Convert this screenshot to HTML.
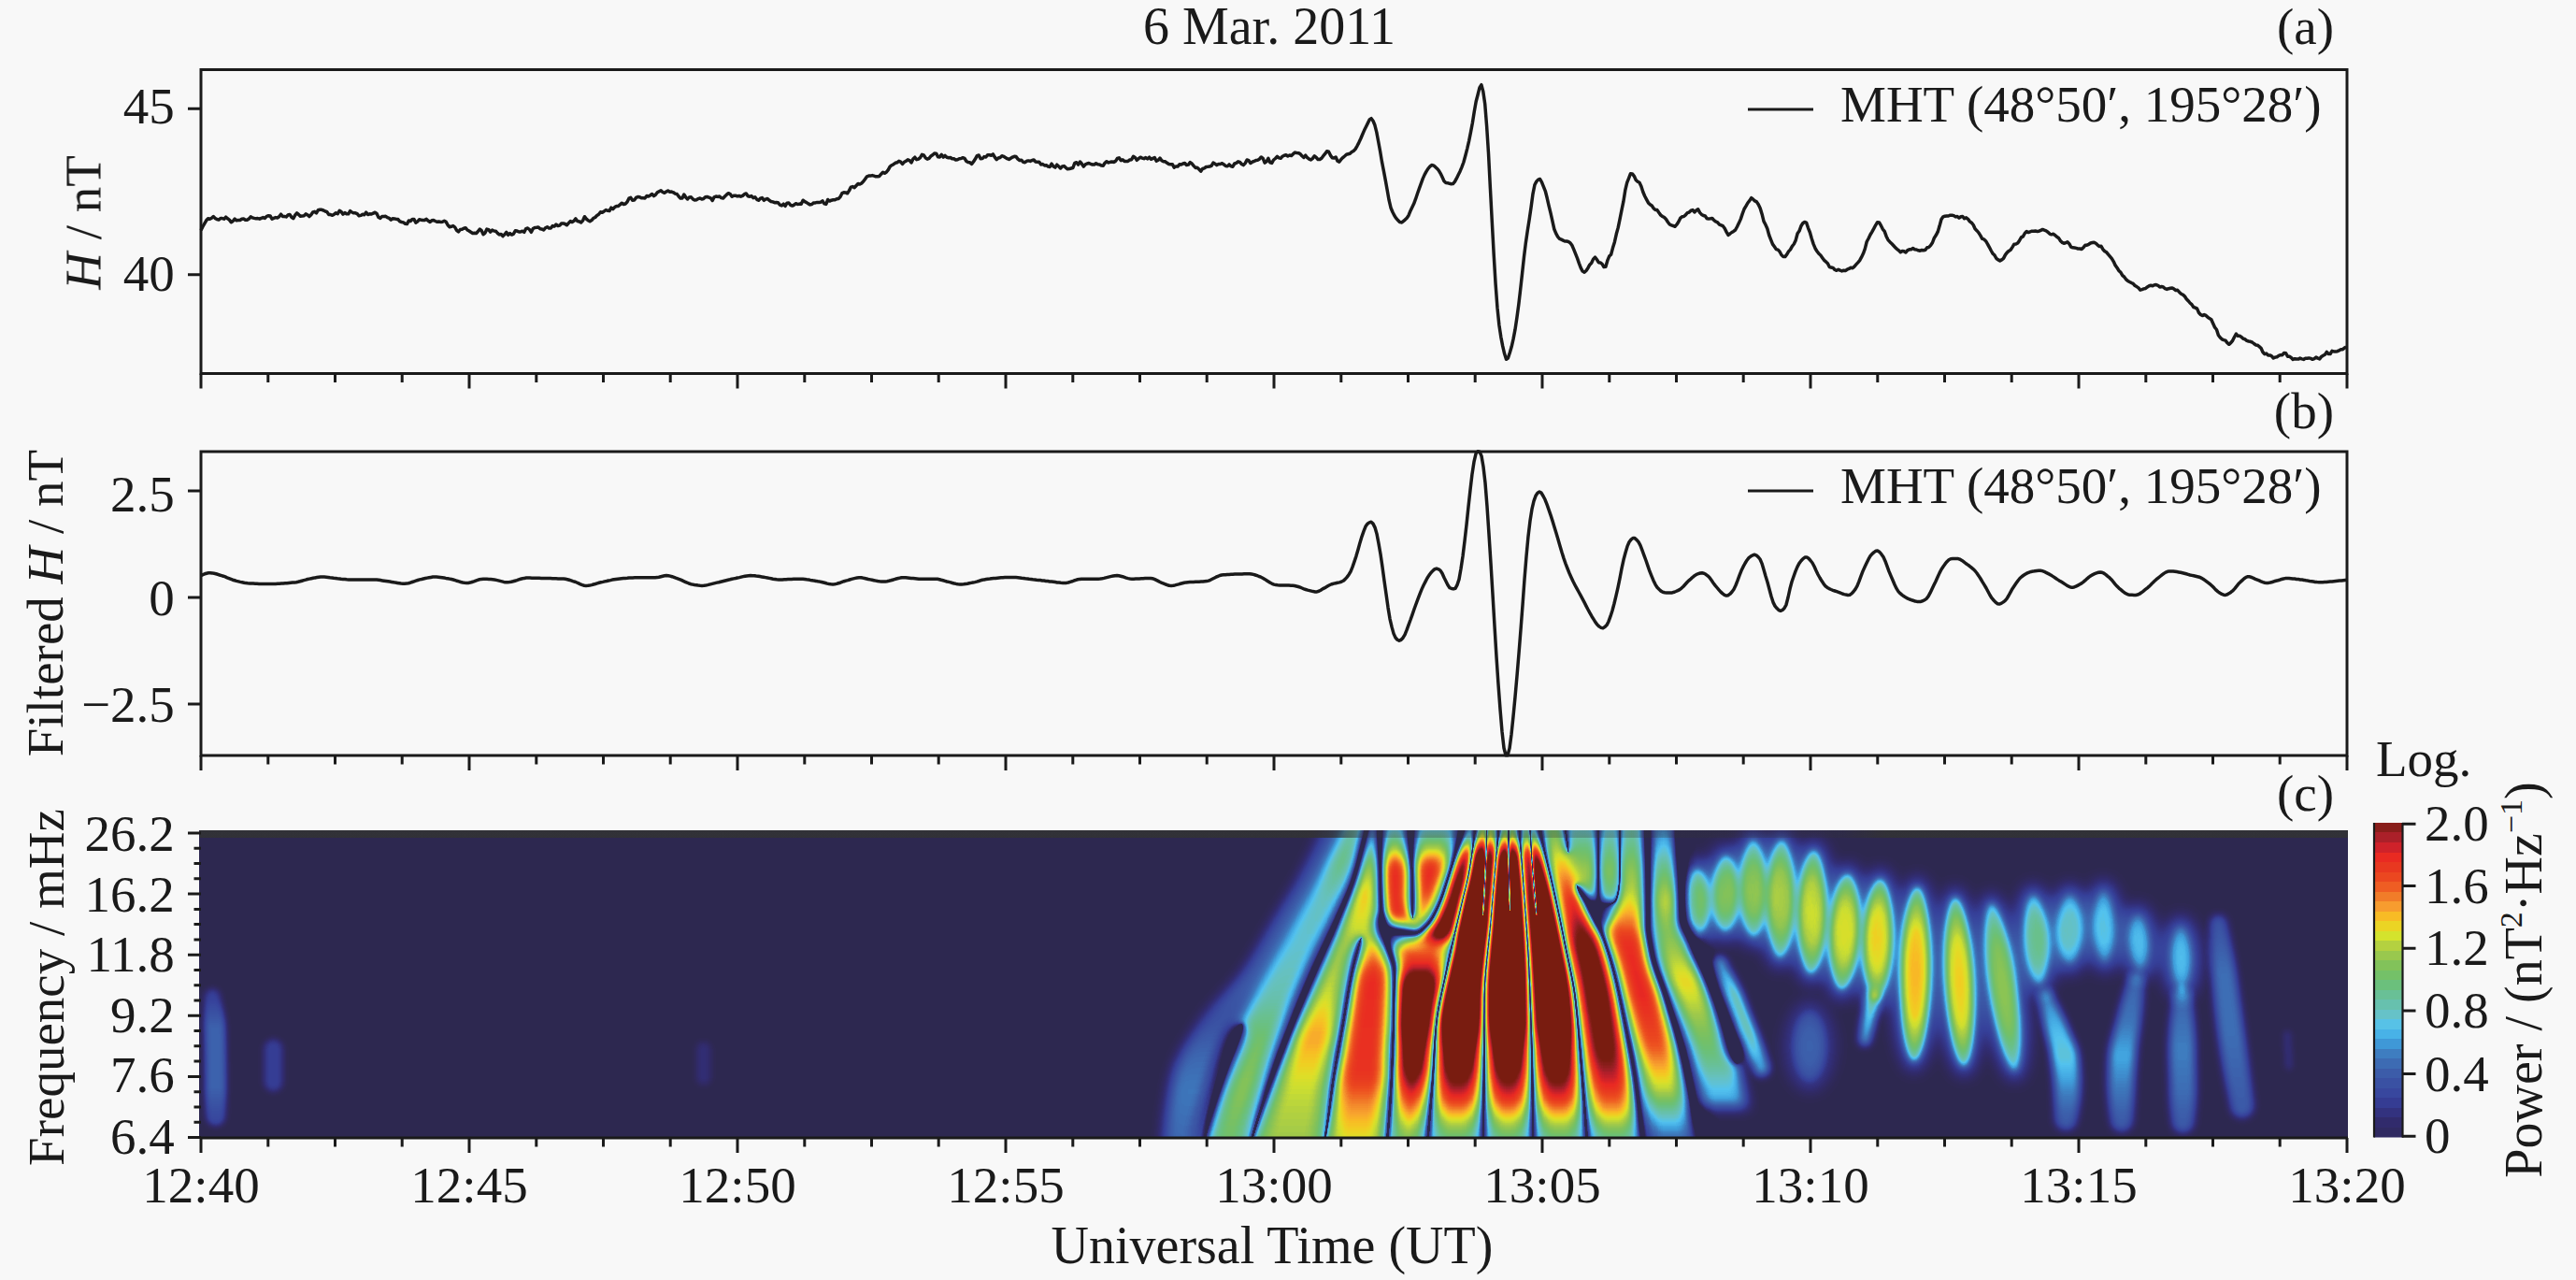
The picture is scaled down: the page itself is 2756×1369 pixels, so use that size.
<!DOCTYPE html><html><head><meta charset="utf-8"><title>Pi2 pulsation 6 Mar. 2011</title>
<style>html,body{margin:0;padding:0;background:#f8f8f8}svg{display:block}text{font-family:"Liberation Serif",serif;fill:#1a1a1a}</style></head><body>
<svg width="2756" height="1369" viewBox="0 0 2756 1369">
<rect width="2756" height="1369" fill="#f8f8f8"/>
<defs>
<filter id="cm" x="0" y="0" width="1" height="1" color-interpolation-filters="sRGB"><feColorMatrix type="matrix" values="1 -1 0 0 0 1 -1 0 0 0 1 -1 0 0 0 0 0 0 0 1"/><feComponentTransfer><feFuncR type="table" tableValues="0.180 0.187 0.193 0.199 0.205 0.211 0.218 0.225 0.232 0.237 0.240 0.243 0.246 0.250 0.283 0.325 0.371 0.401 0.405 0.409 0.415 0.421 0.453 0.497 0.555 0.625 0.704 0.798 0.878 0.944 0.973 0.973 0.957 0.941 0.936 0.927 0.913 0.913 0.916 0.837 0.747 0.632 0.538 0.478 0.478 0.478 0.478 0.478 0.478 0.478 0.478 0.478 0.478 0.478 0.478 0.478 0.478 0.478 0.478 0.478 0.478 0.478 0.478 0.478 0.478"/><feFuncG type="table" tableValues="0.157 0.163 0.169 0.186 0.217 0.247 0.277 0.307 0.337 0.374 0.420 0.466 0.544 0.625 0.696 0.761 0.761 0.759 0.756 0.753 0.753 0.753 0.755 0.759 0.771 0.789 0.821 0.874 0.873 0.811 0.733 0.641 0.549 0.457 0.365 0.294 0.248 0.205 0.164 0.141 0.125 0.125 0.117 0.110 0.110 0.110 0.110 0.110 0.110 0.110 0.110 0.110 0.110 0.110 0.110 0.110 0.110 0.110 0.110 0.110 0.110 0.110 0.110 0.110 0.110"/><feFuncB type="table" tableValues="0.314 0.369 0.424 0.481 0.539 0.597 0.618 0.634 0.650 0.673 0.704 0.734 0.797 0.863 0.907 0.935 0.843 0.758 0.684 0.611 0.537 0.464 0.410 0.366 0.327 0.294 0.252 0.194 0.155 0.134 0.146 0.183 0.173 0.154 0.136 0.125 0.125 0.129 0.134 0.157 0.169 0.159 0.105 0.063 0.063 0.063 0.063 0.063 0.063 0.063 0.063 0.063 0.063 0.063 0.063 0.063 0.063 0.063 0.063 0.063 0.063 0.063 0.063 0.063 0.063"/></feComponentTransfer></filter>
<filter id="b0_6" x="-0.3" y="-0.3" width="1.6" height="1.6" color-interpolation-filters="sRGB"><feGaussianBlur stdDeviation="0.6"/></filter>
<filter id="b1_5" x="-0.3" y="-0.3" width="1.6" height="1.6" color-interpolation-filters="sRGB"><feGaussianBlur stdDeviation="1.5"/></filter>
<filter id="b3" x="-0.3" y="-0.3" width="1.6" height="1.6" color-interpolation-filters="sRGB"><feGaussianBlur stdDeviation="3"/></filter>
<filter id="b4" x="-0.3" y="-0.3" width="1.6" height="1.6" color-interpolation-filters="sRGB"><feGaussianBlur stdDeviation="4"/></filter>
<filter id="b5" x="-0.3" y="-0.3" width="1.6" height="1.6" color-interpolation-filters="sRGB"><feGaussianBlur stdDeviation="5"/></filter>
<filter id="b7" x="-0.3" y="-0.3" width="1.6" height="1.6" color-interpolation-filters="sRGB"><feGaussianBlur stdDeviation="7"/></filter>
<filter id="b8" x="-0.3" y="-0.3" width="1.6" height="1.6" color-interpolation-filters="sRGB"><feGaussianBlur stdDeviation="8"/></filter>
<linearGradient id="g1" gradientUnits="userSpaceOnUse" x1="0" y1="870.0" x2="0" y2="1235.6"><stop offset="0.000" stop-color="#f00" stop-opacity="0.107"/><stop offset="0.009" stop-color="#f00" stop-opacity="0.108"/><stop offset="0.018" stop-color="#f00" stop-opacity="0.109"/><stop offset="0.028" stop-color="#f00" stop-opacity="0.110"/><stop offset="0.037" stop-color="#f00" stop-opacity="0.111"/><stop offset="0.046" stop-color="#f00" stop-opacity="0.112"/><stop offset="0.055" stop-color="#f00" stop-opacity="0.113"/><stop offset="0.065" stop-color="#f00" stop-opacity="0.114"/><stop offset="0.074" stop-color="#f00" stop-opacity="0.115"/><stop offset="0.083" stop-color="#f00" stop-opacity="0.116"/><stop offset="0.092" stop-color="#f00" stop-opacity="0.117"/><stop offset="0.102" stop-color="#f00" stop-opacity="0.118"/><stop offset="0.111" stop-color="#f00" stop-opacity="0.119"/><stop offset="0.120" stop-color="#f00" stop-opacity="0.121"/><stop offset="0.129" stop-color="#f00" stop-opacity="0.122"/><stop offset="0.138" stop-color="#f00" stop-opacity="0.123"/><stop offset="0.148" stop-color="#f00" stop-opacity="0.124"/><stop offset="0.157" stop-color="#f00" stop-opacity="0.125"/><stop offset="0.166" stop-color="#f00" stop-opacity="0.126"/><stop offset="0.175" stop-color="#f00" stop-opacity="0.127"/><stop offset="0.185" stop-color="#f00" stop-opacity="0.128"/><stop offset="0.194" stop-color="#f00" stop-opacity="0.129"/><stop offset="0.203" stop-color="#f00" stop-opacity="0.130"/><stop offset="0.212" stop-color="#f00" stop-opacity="0.131"/><stop offset="0.222" stop-color="#f00" stop-opacity="0.132"/><stop offset="0.231" stop-color="#f00" stop-opacity="0.133"/><stop offset="0.240" stop-color="#f00" stop-opacity="0.133"/><stop offset="0.249" stop-color="#f00" stop-opacity="0.133"/><stop offset="0.258" stop-color="#f00" stop-opacity="0.133"/><stop offset="0.268" stop-color="#f00" stop-opacity="0.133"/><stop offset="0.277" stop-color="#f00" stop-opacity="0.133"/><stop offset="0.286" stop-color="#f00" stop-opacity="0.133"/><stop offset="0.295" stop-color="#f00" stop-opacity="0.133"/><stop offset="0.305" stop-color="#f00" stop-opacity="0.133"/><stop offset="0.314" stop-color="#f00" stop-opacity="0.133"/><stop offset="0.323" stop-color="#f00" stop-opacity="0.133"/><stop offset="0.332" stop-color="#f00" stop-opacity="0.133"/><stop offset="0.342" stop-color="#f00" stop-opacity="0.133"/><stop offset="0.351" stop-color="#f00" stop-opacity="0.133"/><stop offset="0.360" stop-color="#f00" stop-opacity="0.133"/><stop offset="0.369" stop-color="#f00" stop-opacity="0.133"/><stop offset="0.378" stop-color="#f00" stop-opacity="0.133"/><stop offset="0.388" stop-color="#f00" stop-opacity="0.133"/><stop offset="0.397" stop-color="#f00" stop-opacity="0.133"/><stop offset="0.406" stop-color="#f00" stop-opacity="0.133"/><stop offset="0.415" stop-color="#f00" stop-opacity="0.133"/><stop offset="0.425" stop-color="#f00" stop-opacity="0.133"/><stop offset="0.434" stop-color="#f00" stop-opacity="0.133"/><stop offset="0.443" stop-color="#f00" stop-opacity="0.133"/><stop offset="0.452" stop-color="#f00" stop-opacity="0.133"/><stop offset="0.462" stop-color="#f00" stop-opacity="0.133"/><stop offset="0.471" stop-color="#f00" stop-opacity="0.133"/><stop offset="0.480" stop-color="#f00" stop-opacity="0.133"/><stop offset="0.489" stop-color="#f00" stop-opacity="0.133"/><stop offset="0.498" stop-color="#f00" stop-opacity="0.133"/><stop offset="0.508" stop-color="#f00" stop-opacity="0.132"/><stop offset="0.517" stop-color="#f00" stop-opacity="0.130"/><stop offset="0.526" stop-color="#f00" stop-opacity="0.128"/><stop offset="0.535" stop-color="#f00" stop-opacity="0.127"/><stop offset="0.545" stop-color="#f00" stop-opacity="0.125"/><stop offset="0.554" stop-color="#f00" stop-opacity="0.123"/><stop offset="0.563" stop-color="#f00" stop-opacity="0.122"/><stop offset="0.572" stop-color="#f00" stop-opacity="0.120"/><stop offset="0.582" stop-color="#f00" stop-opacity="0.118"/><stop offset="0.591" stop-color="#f00" stop-opacity="0.116"/><stop offset="0.600" stop-color="#f00" stop-opacity="0.115"/><stop offset="0.609" stop-color="#f00" stop-opacity="0.114"/><stop offset="0.618" stop-color="#f00" stop-opacity="0.118"/><stop offset="0.628" stop-color="#f00" stop-opacity="0.121"/><stop offset="0.637" stop-color="#f00" stop-opacity="0.125"/><stop offset="0.646" stop-color="#f00" stop-opacity="0.128"/><stop offset="0.655" stop-color="#f00" stop-opacity="0.132"/><stop offset="0.665" stop-color="#f00" stop-opacity="0.136"/><stop offset="0.674" stop-color="#f00" stop-opacity="0.139"/><stop offset="0.683" stop-color="#f00" stop-opacity="0.143"/><stop offset="0.692" stop-color="#f00" stop-opacity="0.147"/><stop offset="0.702" stop-color="#f00" stop-opacity="0.149"/><stop offset="0.711" stop-color="#f00" stop-opacity="0.151"/><stop offset="0.720" stop-color="#f00" stop-opacity="0.153"/><stop offset="0.729" stop-color="#f00" stop-opacity="0.155"/><stop offset="0.738" stop-color="#f00" stop-opacity="0.157"/><stop offset="0.748" stop-color="#f00" stop-opacity="0.159"/><stop offset="0.757" stop-color="#f00" stop-opacity="0.162"/><stop offset="0.766" stop-color="#f00" stop-opacity="0.164"/><stop offset="0.775" stop-color="#f00" stop-opacity="0.166"/><stop offset="0.785" stop-color="#f00" stop-opacity="0.168"/><stop offset="0.794" stop-color="#f00" stop-opacity="0.170"/><stop offset="0.803" stop-color="#f00" stop-opacity="0.172"/><stop offset="0.812" stop-color="#f00" stop-opacity="0.173"/><stop offset="0.822" stop-color="#f00" stop-opacity="0.171"/><stop offset="0.831" stop-color="#f00" stop-opacity="0.170"/><stop offset="0.840" stop-color="#f00" stop-opacity="0.169"/><stop offset="0.849" stop-color="#f00" stop-opacity="0.168"/><stop offset="0.858" stop-color="#f00" stop-opacity="0.166"/><stop offset="0.868" stop-color="#f00" stop-opacity="0.165"/><stop offset="0.877" stop-color="#f00" stop-opacity="0.164"/><stop offset="0.886" stop-color="#f00" stop-opacity="0.162"/><stop offset="0.895" stop-color="#f00" stop-opacity="0.161"/><stop offset="0.905" stop-color="#f00" stop-opacity="0.160"/><stop offset="0.914" stop-color="#f00" stop-opacity="0.159"/><stop offset="0.923" stop-color="#f00" stop-opacity="0.157"/><stop offset="0.932" stop-color="#f00" stop-opacity="0.156"/><stop offset="0.942" stop-color="#f00" stop-opacity="0.155"/><stop offset="0.951" stop-color="#f00" stop-opacity="0.153"/><stop offset="0.960" stop-color="#f00" stop-opacity="0.152"/><stop offset="0.969" stop-color="#f00" stop-opacity="0.151"/><stop offset="0.978" stop-color="#f00" stop-opacity="0.150"/><stop offset="0.988" stop-color="#f00" stop-opacity="0.148"/><stop offset="0.997" stop-color="#f00" stop-opacity="0.147"/><stop offset="1.000" stop-color="#f00" stop-opacity="0.147"/></linearGradient>
<linearGradient id="g2" gradientUnits="userSpaceOnUse" x1="0" y1="870.0" x2="0" y2="1235.6"><stop offset="0.000" stop-color="#f00" stop-opacity="0.280"/><stop offset="0.009" stop-color="#f00" stop-opacity="0.283"/><stop offset="0.018" stop-color="#f00" stop-opacity="0.285"/><stop offset="0.028" stop-color="#f00" stop-opacity="0.288"/><stop offset="0.037" stop-color="#f00" stop-opacity="0.291"/><stop offset="0.046" stop-color="#f00" stop-opacity="0.293"/><stop offset="0.055" stop-color="#f00" stop-opacity="0.296"/><stop offset="0.065" stop-color="#f00" stop-opacity="0.299"/><stop offset="0.074" stop-color="#f00" stop-opacity="0.301"/><stop offset="0.083" stop-color="#f00" stop-opacity="0.304"/><stop offset="0.092" stop-color="#f00" stop-opacity="0.307"/><stop offset="0.102" stop-color="#f00" stop-opacity="0.309"/><stop offset="0.111" stop-color="#f00" stop-opacity="0.312"/><stop offset="0.120" stop-color="#f00" stop-opacity="0.315"/><stop offset="0.129" stop-color="#f00" stop-opacity="0.317"/><stop offset="0.138" stop-color="#f00" stop-opacity="0.320"/><stop offset="0.148" stop-color="#f00" stop-opacity="0.316"/><stop offset="0.157" stop-color="#f00" stop-opacity="0.311"/><stop offset="0.166" stop-color="#f00" stop-opacity="0.307"/><stop offset="0.175" stop-color="#f00" stop-opacity="0.303"/><stop offset="0.185" stop-color="#f00" stop-opacity="0.299"/><stop offset="0.194" stop-color="#f00" stop-opacity="0.294"/><stop offset="0.203" stop-color="#f00" stop-opacity="0.290"/><stop offset="0.212" stop-color="#f00" stop-opacity="0.286"/><stop offset="0.222" stop-color="#f00" stop-opacity="0.282"/><stop offset="0.231" stop-color="#f00" stop-opacity="0.277"/><stop offset="0.240" stop-color="#f00" stop-opacity="0.273"/><stop offset="0.249" stop-color="#f00" stop-opacity="0.269"/><stop offset="0.258" stop-color="#f00" stop-opacity="0.266"/><stop offset="0.268" stop-color="#f00" stop-opacity="0.265"/><stop offset="0.277" stop-color="#f00" stop-opacity="0.264"/><stop offset="0.286" stop-color="#f00" stop-opacity="0.263"/><stop offset="0.295" stop-color="#f00" stop-opacity="0.262"/><stop offset="0.305" stop-color="#f00" stop-opacity="0.261"/><stop offset="0.314" stop-color="#f00" stop-opacity="0.261"/><stop offset="0.323" stop-color="#f00" stop-opacity="0.260"/><stop offset="0.332" stop-color="#f00" stop-opacity="0.259"/><stop offset="0.342" stop-color="#f00" stop-opacity="0.258"/><stop offset="0.351" stop-color="#f00" stop-opacity="0.257"/><stop offset="0.360" stop-color="#f00" stop-opacity="0.256"/><stop offset="0.369" stop-color="#f00" stop-opacity="0.255"/><stop offset="0.378" stop-color="#f00" stop-opacity="0.254"/><stop offset="0.388" stop-color="#f00" stop-opacity="0.254"/><stop offset="0.397" stop-color="#f00" stop-opacity="0.255"/><stop offset="0.406" stop-color="#f00" stop-opacity="0.257"/><stop offset="0.415" stop-color="#f00" stop-opacity="0.259"/><stop offset="0.425" stop-color="#f00" stop-opacity="0.260"/><stop offset="0.434" stop-color="#f00" stop-opacity="0.262"/><stop offset="0.443" stop-color="#f00" stop-opacity="0.263"/><stop offset="0.452" stop-color="#f00" stop-opacity="0.265"/><stop offset="0.462" stop-color="#f00" stop-opacity="0.267"/><stop offset="0.471" stop-color="#f00" stop-opacity="0.268"/><stop offset="0.480" stop-color="#f00" stop-opacity="0.270"/><stop offset="0.489" stop-color="#f00" stop-opacity="0.271"/><stop offset="0.498" stop-color="#f00" stop-opacity="0.273"/><stop offset="0.508" stop-color="#f00" stop-opacity="0.275"/><stop offset="0.517" stop-color="#f00" stop-opacity="0.276"/><stop offset="0.526" stop-color="#f00" stop-opacity="0.278"/><stop offset="0.535" stop-color="#f00" stop-opacity="0.279"/><stop offset="0.545" stop-color="#f00" stop-opacity="0.283"/><stop offset="0.554" stop-color="#f00" stop-opacity="0.287"/><stop offset="0.563" stop-color="#f00" stop-opacity="0.292"/><stop offset="0.572" stop-color="#f00" stop-opacity="0.296"/><stop offset="0.582" stop-color="#f00" stop-opacity="0.301"/><stop offset="0.591" stop-color="#f00" stop-opacity="0.305"/><stop offset="0.600" stop-color="#f00" stop-opacity="0.310"/><stop offset="0.609" stop-color="#f00" stop-opacity="0.314"/><stop offset="0.618" stop-color="#f00" stop-opacity="0.319"/><stop offset="0.628" stop-color="#f00" stop-opacity="0.323"/><stop offset="0.637" stop-color="#f00" stop-opacity="0.327"/><stop offset="0.646" stop-color="#f00" stop-opacity="0.332"/><stop offset="0.655" stop-color="#f00" stop-opacity="0.336"/><stop offset="0.665" stop-color="#f00" stop-opacity="0.341"/><stop offset="0.674" stop-color="#f00" stop-opacity="0.345"/><stop offset="0.683" stop-color="#f00" stop-opacity="0.348"/><stop offset="0.692" stop-color="#f00" stop-opacity="0.350"/><stop offset="0.702" stop-color="#f00" stop-opacity="0.352"/><stop offset="0.711" stop-color="#f00" stop-opacity="0.354"/><stop offset="0.720" stop-color="#f00" stop-opacity="0.355"/><stop offset="0.729" stop-color="#f00" stop-opacity="0.357"/><stop offset="0.738" stop-color="#f00" stop-opacity="0.359"/><stop offset="0.748" stop-color="#f00" stop-opacity="0.361"/><stop offset="0.757" stop-color="#f00" stop-opacity="0.363"/><stop offset="0.766" stop-color="#f00" stop-opacity="0.365"/><stop offset="0.775" stop-color="#f00" stop-opacity="0.367"/><stop offset="0.785" stop-color="#f00" stop-opacity="0.369"/><stop offset="0.794" stop-color="#f00" stop-opacity="0.371"/><stop offset="0.803" stop-color="#f00" stop-opacity="0.372"/><stop offset="0.812" stop-color="#f00" stop-opacity="0.372"/><stop offset="0.822" stop-color="#f00" stop-opacity="0.370"/><stop offset="0.831" stop-color="#f00" stop-opacity="0.369"/><stop offset="0.840" stop-color="#f00" stop-opacity="0.367"/><stop offset="0.849" stop-color="#f00" stop-opacity="0.365"/><stop offset="0.858" stop-color="#f00" stop-opacity="0.363"/><stop offset="0.868" stop-color="#f00" stop-opacity="0.361"/><stop offset="0.877" stop-color="#f00" stop-opacity="0.359"/><stop offset="0.886" stop-color="#f00" stop-opacity="0.357"/><stop offset="0.895" stop-color="#f00" stop-opacity="0.355"/><stop offset="0.905" stop-color="#f00" stop-opacity="0.353"/><stop offset="0.914" stop-color="#f00" stop-opacity="0.351"/><stop offset="0.923" stop-color="#f00" stop-opacity="0.349"/><stop offset="0.932" stop-color="#f00" stop-opacity="0.347"/><stop offset="0.942" stop-color="#f00" stop-opacity="0.345"/><stop offset="0.951" stop-color="#f00" stop-opacity="0.344"/><stop offset="0.960" stop-color="#f00" stop-opacity="0.342"/><stop offset="0.969" stop-color="#f00" stop-opacity="0.340"/><stop offset="0.978" stop-color="#f00" stop-opacity="0.338"/><stop offset="0.988" stop-color="#f00" stop-opacity="0.336"/><stop offset="0.997" stop-color="#f00" stop-opacity="0.334"/><stop offset="1.000" stop-color="#f00" stop-opacity="0.333"/></linearGradient>
<linearGradient id="g3" gradientUnits="userSpaceOnUse" x1="0" y1="1002.2" x2="0" y2="1235.6"><stop offset="0.000" stop-color="#f00" stop-opacity="0.413"/><stop offset="0.014" stop-color="#f00" stop-opacity="0.412"/><stop offset="0.029" stop-color="#f00" stop-opacity="0.410"/><stop offset="0.043" stop-color="#f00" stop-opacity="0.408"/><stop offset="0.058" stop-color="#f00" stop-opacity="0.406"/><stop offset="0.072" stop-color="#f00" stop-opacity="0.404"/><stop offset="0.087" stop-color="#f00" stop-opacity="0.403"/><stop offset="0.101" stop-color="#f00" stop-opacity="0.401"/><stop offset="0.116" stop-color="#f00" stop-opacity="0.401"/><stop offset="0.130" stop-color="#f00" stop-opacity="0.403"/><stop offset="0.145" stop-color="#f00" stop-opacity="0.405"/><stop offset="0.159" stop-color="#f00" stop-opacity="0.407"/><stop offset="0.173" stop-color="#f00" stop-opacity="0.409"/><stop offset="0.188" stop-color="#f00" stop-opacity="0.411"/><stop offset="0.202" stop-color="#f00" stop-opacity="0.413"/><stop offset="0.217" stop-color="#f00" stop-opacity="0.415"/><stop offset="0.231" stop-color="#f00" stop-opacity="0.417"/><stop offset="0.246" stop-color="#f00" stop-opacity="0.419"/><stop offset="0.260" stop-color="#f00" stop-opacity="0.422"/><stop offset="0.275" stop-color="#f00" stop-opacity="0.427"/><stop offset="0.289" stop-color="#f00" stop-opacity="0.432"/><stop offset="0.304" stop-color="#f00" stop-opacity="0.436"/><stop offset="0.318" stop-color="#f00" stop-opacity="0.441"/><stop offset="0.333" stop-color="#f00" stop-opacity="0.446"/><stop offset="0.347" stop-color="#f00" stop-opacity="0.451"/><stop offset="0.361" stop-color="#f00" stop-opacity="0.455"/><stop offset="0.376" stop-color="#f00" stop-opacity="0.460"/><stop offset="0.390" stop-color="#f00" stop-opacity="0.465"/><stop offset="0.405" stop-color="#f00" stop-opacity="0.469"/><stop offset="0.419" stop-color="#f00" stop-opacity="0.474"/><stop offset="0.434" stop-color="#f00" stop-opacity="0.479"/><stop offset="0.448" stop-color="#f00" stop-opacity="0.484"/><stop offset="0.463" stop-color="#f00" stop-opacity="0.485"/><stop offset="0.477" stop-color="#f00" stop-opacity="0.481"/><stop offset="0.492" stop-color="#f00" stop-opacity="0.477"/><stop offset="0.506" stop-color="#f00" stop-opacity="0.473"/><stop offset="0.520" stop-color="#f00" stop-opacity="0.469"/><stop offset="0.535" stop-color="#f00" stop-opacity="0.465"/><stop offset="0.549" stop-color="#f00" stop-opacity="0.461"/><stop offset="0.564" stop-color="#f00" stop-opacity="0.457"/><stop offset="0.578" stop-color="#f00" stop-opacity="0.453"/><stop offset="0.593" stop-color="#f00" stop-opacity="0.449"/><stop offset="0.607" stop-color="#f00" stop-opacity="0.445"/><stop offset="0.622" stop-color="#f00" stop-opacity="0.441"/><stop offset="0.636" stop-color="#f00" stop-opacity="0.437"/><stop offset="0.651" stop-color="#f00" stop-opacity="0.433"/><stop offset="0.665" stop-color="#f00" stop-opacity="0.429"/><stop offset="0.680" stop-color="#f00" stop-opacity="0.425"/><stop offset="0.694" stop-color="#f00" stop-opacity="0.421"/><stop offset="0.708" stop-color="#f00" stop-opacity="0.419"/><stop offset="0.723" stop-color="#f00" stop-opacity="0.417"/><stop offset="0.737" stop-color="#f00" stop-opacity="0.415"/><stop offset="0.752" stop-color="#f00" stop-opacity="0.413"/><stop offset="0.766" stop-color="#f00" stop-opacity="0.411"/><stop offset="0.781" stop-color="#f00" stop-opacity="0.409"/><stop offset="0.795" stop-color="#f00" stop-opacity="0.407"/><stop offset="0.810" stop-color="#f00" stop-opacity="0.405"/><stop offset="0.824" stop-color="#f00" stop-opacity="0.403"/><stop offset="0.839" stop-color="#f00" stop-opacity="0.401"/><stop offset="0.853" stop-color="#f00" stop-opacity="0.400"/><stop offset="0.867" stop-color="#f00" stop-opacity="0.398"/><stop offset="0.882" stop-color="#f00" stop-opacity="0.396"/><stop offset="0.896" stop-color="#f00" stop-opacity="0.394"/><stop offset="0.911" stop-color="#f00" stop-opacity="0.392"/><stop offset="0.925" stop-color="#f00" stop-opacity="0.390"/><stop offset="0.940" stop-color="#f00" stop-opacity="0.388"/><stop offset="0.954" stop-color="#f00" stop-opacity="0.386"/><stop offset="0.969" stop-color="#f00" stop-opacity="0.384"/><stop offset="0.983" stop-color="#f00" stop-opacity="0.382"/><stop offset="0.998" stop-color="#f00" stop-opacity="0.380"/><stop offset="1.000" stop-color="#f00" stop-opacity="0.380"/></linearGradient>
<linearGradient id="g4" gradientUnits="userSpaceOnUse" x1="0" y1="870.0" x2="0" y2="1002.2"><stop offset="0.000" stop-color="#f00" stop-opacity="0.267"/><stop offset="0.026" stop-color="#f00" stop-opacity="0.272"/><stop offset="0.051" stop-color="#f00" stop-opacity="0.277"/><stop offset="0.077" stop-color="#f00" stop-opacity="0.282"/><stop offset="0.102" stop-color="#f00" stop-opacity="0.287"/><stop offset="0.128" stop-color="#f00" stop-opacity="0.292"/><stop offset="0.153" stop-color="#f00" stop-opacity="0.297"/><stop offset="0.179" stop-color="#f00" stop-opacity="0.304"/><stop offset="0.204" stop-color="#f00" stop-opacity="0.315"/><stop offset="0.230" stop-color="#f00" stop-opacity="0.326"/><stop offset="0.255" stop-color="#f00" stop-opacity="0.338"/><stop offset="0.281" stop-color="#f00" stop-opacity="0.349"/><stop offset="0.306" stop-color="#f00" stop-opacity="0.360"/><stop offset="0.332" stop-color="#f00" stop-opacity="0.372"/><stop offset="0.357" stop-color="#f00" stop-opacity="0.383"/><stop offset="0.383" stop-color="#f00" stop-opacity="0.394"/><stop offset="0.409" stop-color="#f00" stop-opacity="0.406"/><stop offset="0.434" stop-color="#f00" stop-opacity="0.415"/><stop offset="0.460" stop-color="#f00" stop-opacity="0.422"/><stop offset="0.485" stop-color="#f00" stop-opacity="0.428"/><stop offset="0.511" stop-color="#f00" stop-opacity="0.435"/><stop offset="0.536" stop-color="#f00" stop-opacity="0.441"/><stop offset="0.562" stop-color="#f00" stop-opacity="0.447"/><stop offset="0.587" stop-color="#f00" stop-opacity="0.454"/><stop offset="0.613" stop-color="#f00" stop-opacity="0.460"/><stop offset="0.638" stop-color="#f00" stop-opacity="0.467"/><stop offset="0.664" stop-color="#f00" stop-opacity="0.463"/><stop offset="0.689" stop-color="#f00" stop-opacity="0.459"/><stop offset="0.715" stop-color="#f00" stop-opacity="0.455"/><stop offset="0.740" stop-color="#f00" stop-opacity="0.451"/><stop offset="0.766" stop-color="#f00" stop-opacity="0.447"/><stop offset="0.791" stop-color="#f00" stop-opacity="0.443"/><stop offset="0.817" stop-color="#f00" stop-opacity="0.439"/><stop offset="0.843" stop-color="#f00" stop-opacity="0.435"/><stop offset="0.868" stop-color="#f00" stop-opacity="0.432"/><stop offset="0.894" stop-color="#f00" stop-opacity="0.428"/><stop offset="0.919" stop-color="#f00" stop-opacity="0.425"/><stop offset="0.945" stop-color="#f00" stop-opacity="0.421"/><stop offset="0.970" stop-color="#f00" stop-opacity="0.417"/><stop offset="0.996" stop-color="#f00" stop-opacity="0.414"/><stop offset="1.000" stop-color="#f00" stop-opacity="0.413"/></linearGradient>
<linearGradient id="g5" gradientUnits="userSpaceOnUse" x1="0" y1="1002.2" x2="0" y2="1235.6"><stop offset="0.000" stop-color="#f00" stop-opacity="0.427"/><stop offset="0.014" stop-color="#f00" stop-opacity="0.440"/><stop offset="0.029" stop-color="#f00" stop-opacity="0.454"/><stop offset="0.043" stop-color="#f00" stop-opacity="0.468"/><stop offset="0.058" stop-color="#f00" stop-opacity="0.482"/><stop offset="0.072" stop-color="#f00" stop-opacity="0.495"/><stop offset="0.087" stop-color="#f00" stop-opacity="0.509"/><stop offset="0.101" stop-color="#f00" stop-opacity="0.522"/><stop offset="0.116" stop-color="#f00" stop-opacity="0.535"/><stop offset="0.130" stop-color="#f00" stop-opacity="0.548"/><stop offset="0.145" stop-color="#f00" stop-opacity="0.561"/><stop offset="0.159" stop-color="#f00" stop-opacity="0.574"/><stop offset="0.173" stop-color="#f00" stop-opacity="0.587"/><stop offset="0.188" stop-color="#f00" stop-opacity="0.593"/><stop offset="0.202" stop-color="#f00" stop-opacity="0.593"/><stop offset="0.217" stop-color="#f00" stop-opacity="0.592"/><stop offset="0.231" stop-color="#f00" stop-opacity="0.592"/><stop offset="0.246" stop-color="#f00" stop-opacity="0.591"/><stop offset="0.260" stop-color="#f00" stop-opacity="0.591"/><stop offset="0.275" stop-color="#f00" stop-opacity="0.591"/><stop offset="0.289" stop-color="#f00" stop-opacity="0.590"/><stop offset="0.304" stop-color="#f00" stop-opacity="0.590"/><stop offset="0.318" stop-color="#f00" stop-opacity="0.589"/><stop offset="0.333" stop-color="#f00" stop-opacity="0.589"/><stop offset="0.347" stop-color="#f00" stop-opacity="0.588"/><stop offset="0.361" stop-color="#f00" stop-opacity="0.588"/><stop offset="0.376" stop-color="#f00" stop-opacity="0.588"/><stop offset="0.390" stop-color="#f00" stop-opacity="0.587"/><stop offset="0.405" stop-color="#f00" stop-opacity="0.587"/><stop offset="0.419" stop-color="#f00" stop-opacity="0.586"/><stop offset="0.434" stop-color="#f00" stop-opacity="0.586"/><stop offset="0.448" stop-color="#f00" stop-opacity="0.586"/><stop offset="0.463" stop-color="#f00" stop-opacity="0.585"/><stop offset="0.477" stop-color="#f00" stop-opacity="0.585"/><stop offset="0.492" stop-color="#f00" stop-opacity="0.584"/><stop offset="0.506" stop-color="#f00" stop-opacity="0.584"/><stop offset="0.520" stop-color="#f00" stop-opacity="0.583"/><stop offset="0.535" stop-color="#f00" stop-opacity="0.583"/><stop offset="0.549" stop-color="#f00" stop-opacity="0.583"/><stop offset="0.564" stop-color="#f00" stop-opacity="0.582"/><stop offset="0.578" stop-color="#f00" stop-opacity="0.582"/><stop offset="0.593" stop-color="#f00" stop-opacity="0.581"/><stop offset="0.607" stop-color="#f00" stop-opacity="0.581"/><stop offset="0.622" stop-color="#f00" stop-opacity="0.580"/><stop offset="0.636" stop-color="#f00" stop-opacity="0.580"/><stop offset="0.651" stop-color="#f00" stop-opacity="0.573"/><stop offset="0.665" stop-color="#f00" stop-opacity="0.564"/><stop offset="0.680" stop-color="#f00" stop-opacity="0.555"/><stop offset="0.694" stop-color="#f00" stop-opacity="0.546"/><stop offset="0.708" stop-color="#f00" stop-opacity="0.537"/><stop offset="0.723" stop-color="#f00" stop-opacity="0.529"/><stop offset="0.737" stop-color="#f00" stop-opacity="0.520"/><stop offset="0.752" stop-color="#f00" stop-opacity="0.511"/><stop offset="0.766" stop-color="#f00" stop-opacity="0.503"/><stop offset="0.781" stop-color="#f00" stop-opacity="0.497"/><stop offset="0.795" stop-color="#f00" stop-opacity="0.491"/><stop offset="0.810" stop-color="#f00" stop-opacity="0.484"/><stop offset="0.824" stop-color="#f00" stop-opacity="0.478"/><stop offset="0.839" stop-color="#f00" stop-opacity="0.471"/><stop offset="0.853" stop-color="#f00" stop-opacity="0.465"/><stop offset="0.867" stop-color="#f00" stop-opacity="0.459"/><stop offset="0.882" stop-color="#f00" stop-opacity="0.452"/><stop offset="0.896" stop-color="#f00" stop-opacity="0.446"/><stop offset="0.911" stop-color="#f00" stop-opacity="0.439"/><stop offset="0.925" stop-color="#f00" stop-opacity="0.433"/><stop offset="0.940" stop-color="#f00" stop-opacity="0.427"/><stop offset="0.954" stop-color="#f00" stop-opacity="0.420"/><stop offset="0.969" stop-color="#f00" stop-opacity="0.414"/><stop offset="0.983" stop-color="#f00" stop-opacity="0.407"/><stop offset="0.998" stop-color="#f00" stop-opacity="0.401"/><stop offset="1.000" stop-color="#f00" stop-opacity="0.400"/></linearGradient>
<linearGradient id="g6" gradientUnits="userSpaceOnUse" x1="0" y1="1005.0" x2="0" y2="1235.6"><stop offset="0.000" stop-color="#f00" stop-opacity="0.480"/><stop offset="0.015" stop-color="#f00" stop-opacity="0.493"/><stop offset="0.029" stop-color="#f00" stop-opacity="0.506"/><stop offset="0.044" stop-color="#f00" stop-opacity="0.519"/><stop offset="0.059" stop-color="#f00" stop-opacity="0.532"/><stop offset="0.073" stop-color="#f00" stop-opacity="0.545"/><stop offset="0.088" stop-color="#f00" stop-opacity="0.558"/><stop offset="0.102" stop-color="#f00" stop-opacity="0.575"/><stop offset="0.117" stop-color="#f00" stop-opacity="0.601"/><stop offset="0.132" stop-color="#f00" stop-opacity="0.627"/><stop offset="0.146" stop-color="#f00" stop-opacity="0.653"/><stop offset="0.161" stop-color="#f00" stop-opacity="0.689"/><stop offset="0.176" stop-color="#f00" stop-opacity="0.724"/><stop offset="0.190" stop-color="#f00" stop-opacity="0.759"/><stop offset="0.205" stop-color="#f00" stop-opacity="0.794"/><stop offset="0.220" stop-color="#f00" stop-opacity="0.804"/><stop offset="0.234" stop-color="#f00" stop-opacity="0.810"/><stop offset="0.249" stop-color="#f00" stop-opacity="0.815"/><stop offset="0.263" stop-color="#f00" stop-opacity="0.820"/><stop offset="0.278" stop-color="#f00" stop-opacity="0.826"/><stop offset="0.293" stop-color="#f00" stop-opacity="0.831"/><stop offset="0.307" stop-color="#f00" stop-opacity="0.836"/><stop offset="0.322" stop-color="#f00" stop-opacity="0.842"/><stop offset="0.337" stop-color="#f00" stop-opacity="0.847"/><stop offset="0.351" stop-color="#f00" stop-opacity="0.852"/><stop offset="0.366" stop-color="#f00" stop-opacity="0.858"/><stop offset="0.380" stop-color="#f00" stop-opacity="0.863"/><stop offset="0.395" stop-color="#f00" stop-opacity="0.864"/><stop offset="0.410" stop-color="#f00" stop-opacity="0.855"/><stop offset="0.424" stop-color="#f00" stop-opacity="0.846"/><stop offset="0.439" stop-color="#f00" stop-opacity="0.837"/><stop offset="0.454" stop-color="#f00" stop-opacity="0.828"/><stop offset="0.468" stop-color="#f00" stop-opacity="0.819"/><stop offset="0.483" stop-color="#f00" stop-opacity="0.810"/><stop offset="0.498" stop-color="#f00" stop-opacity="0.801"/><stop offset="0.512" stop-color="#f00" stop-opacity="0.793"/><stop offset="0.527" stop-color="#f00" stop-opacity="0.784"/><stop offset="0.541" stop-color="#f00" stop-opacity="0.775"/><stop offset="0.556" stop-color="#f00" stop-opacity="0.766"/><stop offset="0.571" stop-color="#f00" stop-opacity="0.757"/><stop offset="0.585" stop-color="#f00" stop-opacity="0.748"/><stop offset="0.600" stop-color="#f00" stop-opacity="0.739"/><stop offset="0.615" stop-color="#f00" stop-opacity="0.727"/><stop offset="0.629" stop-color="#f00" stop-opacity="0.709"/><stop offset="0.644" stop-color="#f00" stop-opacity="0.691"/><stop offset="0.659" stop-color="#f00" stop-opacity="0.673"/><stop offset="0.673" stop-color="#f00" stop-opacity="0.655"/><stop offset="0.688" stop-color="#f00" stop-opacity="0.637"/><stop offset="0.702" stop-color="#f00" stop-opacity="0.619"/><stop offset="0.717" stop-color="#f00" stop-opacity="0.601"/><stop offset="0.732" stop-color="#f00" stop-opacity="0.583"/><stop offset="0.746" stop-color="#f00" stop-opacity="0.565"/><stop offset="0.761" stop-color="#f00" stop-opacity="0.547"/><stop offset="0.776" stop-color="#f00" stop-opacity="0.529"/><stop offset="0.790" stop-color="#f00" stop-opacity="0.511"/><stop offset="0.805" stop-color="#f00" stop-opacity="0.493"/><stop offset="0.820" stop-color="#f00" stop-opacity="0.476"/><stop offset="0.834" stop-color="#f00" stop-opacity="0.459"/><stop offset="0.849" stop-color="#f00" stop-opacity="0.443"/><stop offset="0.863" stop-color="#f00" stop-opacity="0.426"/><stop offset="0.878" stop-color="#f00" stop-opacity="0.409"/><stop offset="0.893" stop-color="#f00" stop-opacity="0.392"/><stop offset="0.907" stop-color="#f00" stop-opacity="0.375"/><stop offset="0.922" stop-color="#f00" stop-opacity="0.367"/><stop offset="0.937" stop-color="#f00" stop-opacity="0.361"/><stop offset="0.951" stop-color="#f00" stop-opacity="0.355"/><stop offset="0.966" stop-color="#f00" stop-opacity="0.348"/><stop offset="0.980" stop-color="#f00" stop-opacity="0.342"/><stop offset="0.995" stop-color="#f00" stop-opacity="0.335"/><stop offset="1.000" stop-color="#f00" stop-opacity="0.333"/></linearGradient>
<linearGradient id="g7" gradientUnits="userSpaceOnUse" x1="0" y1="870.0" x2="0" y2="1005.0"><stop offset="0.000" stop-color="#f00" stop-opacity="0.300"/><stop offset="0.025" stop-color="#f00" stop-opacity="0.325"/><stop offset="0.050" stop-color="#f00" stop-opacity="0.350"/><stop offset="0.075" stop-color="#f00" stop-opacity="0.375"/><stop offset="0.100" stop-color="#f00" stop-opacity="0.400"/><stop offset="0.125" stop-color="#f00" stop-opacity="0.425"/><stop offset="0.150" stop-color="#f00" stop-opacity="0.450"/><stop offset="0.175" stop-color="#f00" stop-opacity="0.475"/><stop offset="0.200" stop-color="#f00" stop-opacity="0.500"/><stop offset="0.225" stop-color="#f00" stop-opacity="0.573"/><stop offset="0.250" stop-color="#f00" stop-opacity="0.641"/><stop offset="0.275" stop-color="#f00" stop-opacity="0.689"/><stop offset="0.300" stop-color="#f00" stop-opacity="0.737"/><stop offset="0.325" stop-color="#f00" stop-opacity="0.784"/><stop offset="0.350" stop-color="#f00" stop-opacity="0.806"/><stop offset="0.375" stop-color="#f00" stop-opacity="0.815"/><stop offset="0.400" stop-color="#f00" stop-opacity="0.824"/><stop offset="0.425" stop-color="#f00" stop-opacity="0.833"/><stop offset="0.450" stop-color="#f00" stop-opacity="0.841"/><stop offset="0.475" stop-color="#f00" stop-opacity="0.850"/><stop offset="0.500" stop-color="#f00" stop-opacity="0.859"/><stop offset="0.525" stop-color="#f00" stop-opacity="0.867"/><stop offset="0.550" stop-color="#f00" stop-opacity="0.867"/><stop offset="0.575" stop-color="#f00" stop-opacity="0.867"/><stop offset="0.600" stop-color="#f00" stop-opacity="0.867"/><stop offset="0.625" stop-color="#f00" stop-opacity="0.867"/><stop offset="0.650" stop-color="#f00" stop-opacity="0.867"/><stop offset="0.675" stop-color="#f00" stop-opacity="0.867"/><stop offset="0.700" stop-color="#f00" stop-opacity="0.867"/><stop offset="0.725" stop-color="#f00" stop-opacity="0.867"/><stop offset="0.750" stop-color="#f00" stop-opacity="0.867"/><stop offset="0.775" stop-color="#f00" stop-opacity="0.867"/><stop offset="0.800" stop-color="#f00" stop-opacity="0.865"/><stop offset="0.825" stop-color="#f00" stop-opacity="0.861"/><stop offset="0.850" stop-color="#f00" stop-opacity="0.857"/><stop offset="0.875" stop-color="#f00" stop-opacity="0.853"/><stop offset="0.900" stop-color="#f00" stop-opacity="0.849"/><stop offset="0.925" stop-color="#f00" stop-opacity="0.845"/><stop offset="0.950" stop-color="#f00" stop-opacity="0.841"/><stop offset="0.975" stop-color="#f00" stop-opacity="0.837"/><stop offset="1.000" stop-color="#f00" stop-opacity="0.833"/></linearGradient>
<linearGradient id="g8" gradientUnits="userSpaceOnUse" x1="0" y1="870.0" x2="0" y2="1002.2"><stop offset="0.000" stop-color="#f00" stop-opacity="0.187"/><stop offset="0.026" stop-color="#f00" stop-opacity="0.197"/><stop offset="0.051" stop-color="#f00" stop-opacity="0.208"/><stop offset="0.077" stop-color="#f00" stop-opacity="0.219"/><stop offset="0.102" stop-color="#f00" stop-opacity="0.229"/><stop offset="0.128" stop-color="#f00" stop-opacity="0.240"/><stop offset="0.153" stop-color="#f00" stop-opacity="0.266"/><stop offset="0.179" stop-color="#f00" stop-opacity="0.292"/><stop offset="0.204" stop-color="#f00" stop-opacity="0.318"/><stop offset="0.230" stop-color="#f00" stop-opacity="0.344"/><stop offset="0.255" stop-color="#f00" stop-opacity="0.370"/><stop offset="0.281" stop-color="#f00" stop-opacity="0.396"/><stop offset="0.306" stop-color="#f00" stop-opacity="0.426"/><stop offset="0.332" stop-color="#f00" stop-opacity="0.463"/><stop offset="0.357" stop-color="#f00" stop-opacity="0.500"/><stop offset="0.383" stop-color="#f00" stop-opacity="0.538"/><stop offset="0.409" stop-color="#f00" stop-opacity="0.575"/><stop offset="0.434" stop-color="#f00" stop-opacity="0.600"/><stop offset="0.460" stop-color="#f00" stop-opacity="0.600"/><stop offset="0.485" stop-color="#f00" stop-opacity="0.600"/><stop offset="0.511" stop-color="#f00" stop-opacity="0.600"/><stop offset="0.536" stop-color="#f00" stop-opacity="0.600"/><stop offset="0.562" stop-color="#f00" stop-opacity="0.600"/><stop offset="0.587" stop-color="#f00" stop-opacity="0.600"/><stop offset="0.613" stop-color="#f00" stop-opacity="0.600"/><stop offset="0.638" stop-color="#f00" stop-opacity="0.600"/><stop offset="0.664" stop-color="#f00" stop-opacity="0.600"/><stop offset="0.689" stop-color="#f00" stop-opacity="0.600"/><stop offset="0.715" stop-color="#f00" stop-opacity="0.600"/><stop offset="0.740" stop-color="#f00" stop-opacity="0.600"/><stop offset="0.766" stop-color="#f00" stop-opacity="0.600"/><stop offset="0.791" stop-color="#f00" stop-opacity="0.600"/><stop offset="0.817" stop-color="#f00" stop-opacity="0.596"/><stop offset="0.843" stop-color="#f00" stop-opacity="0.582"/><stop offset="0.868" stop-color="#f00" stop-opacity="0.569"/><stop offset="0.894" stop-color="#f00" stop-opacity="0.556"/><stop offset="0.919" stop-color="#f00" stop-opacity="0.542"/><stop offset="0.945" stop-color="#f00" stop-opacity="0.529"/><stop offset="0.970" stop-color="#f00" stop-opacity="0.516"/><stop offset="0.996" stop-color="#f00" stop-opacity="0.502"/><stop offset="1.000" stop-color="#f00" stop-opacity="0.500"/></linearGradient>
<linearGradient id="g9" gradientUnits="userSpaceOnUse" x1="0" y1="870.0" x2="0" y2="1235.6"><stop offset="0.000" stop-color="#f00" stop-opacity="0.333"/><stop offset="0.009" stop-color="#f00" stop-opacity="0.362"/><stop offset="0.018" stop-color="#f00" stop-opacity="0.392"/><stop offset="0.028" stop-color="#f00" stop-opacity="0.421"/><stop offset="0.037" stop-color="#f00" stop-opacity="0.450"/><stop offset="0.046" stop-color="#f00" stop-opacity="0.479"/><stop offset="0.055" stop-color="#f00" stop-opacity="0.508"/><stop offset="0.065" stop-color="#f00" stop-opacity="0.537"/><stop offset="0.074" stop-color="#f00" stop-opacity="0.567"/><stop offset="0.083" stop-color="#f00" stop-opacity="0.639"/><stop offset="0.092" stop-color="#f00" stop-opacity="0.713"/><stop offset="0.102" stop-color="#f00" stop-opacity="0.788"/><stop offset="0.111" stop-color="#f00" stop-opacity="0.863"/><stop offset="0.120" stop-color="#f00" stop-opacity="0.903"/><stop offset="0.129" stop-color="#f00" stop-opacity="0.908"/><stop offset="0.138" stop-color="#f00" stop-opacity="0.913"/><stop offset="0.148" stop-color="#f00" stop-opacity="0.919"/><stop offset="0.157" stop-color="#f00" stop-opacity="0.924"/><stop offset="0.166" stop-color="#f00" stop-opacity="0.929"/><stop offset="0.175" stop-color="#f00" stop-opacity="0.935"/><stop offset="0.185" stop-color="#f00" stop-opacity="0.940"/><stop offset="0.194" stop-color="#f00" stop-opacity="0.945"/><stop offset="0.203" stop-color="#f00" stop-opacity="0.951"/><stop offset="0.212" stop-color="#f00" stop-opacity="0.956"/><stop offset="0.222" stop-color="#f00" stop-opacity="0.961"/><stop offset="0.231" stop-color="#f00" stop-opacity="0.967"/><stop offset="0.240" stop-color="#f00" stop-opacity="0.967"/><stop offset="0.249" stop-color="#f00" stop-opacity="0.967"/><stop offset="0.258" stop-color="#f00" stop-opacity="0.967"/><stop offset="0.268" stop-color="#f00" stop-opacity="0.967"/><stop offset="0.277" stop-color="#f00" stop-opacity="0.967"/><stop offset="0.286" stop-color="#f00" stop-opacity="0.967"/><stop offset="0.295" stop-color="#f00" stop-opacity="0.967"/><stop offset="0.305" stop-color="#f00" stop-opacity="0.967"/><stop offset="0.314" stop-color="#f00" stop-opacity="0.967"/><stop offset="0.323" stop-color="#f00" stop-opacity="0.967"/><stop offset="0.332" stop-color="#f00" stop-opacity="0.967"/><stop offset="0.342" stop-color="#f00" stop-opacity="0.967"/><stop offset="0.351" stop-color="#f00" stop-opacity="0.967"/><stop offset="0.360" stop-color="#f00" stop-opacity="0.967"/><stop offset="0.369" stop-color="#f00" stop-opacity="0.967"/><stop offset="0.378" stop-color="#f00" stop-opacity="0.967"/><stop offset="0.388" stop-color="#f00" stop-opacity="0.967"/><stop offset="0.397" stop-color="#f00" stop-opacity="0.967"/><stop offset="0.406" stop-color="#f00" stop-opacity="0.967"/><stop offset="0.415" stop-color="#f00" stop-opacity="0.967"/><stop offset="0.425" stop-color="#f00" stop-opacity="0.967"/><stop offset="0.434" stop-color="#f00" stop-opacity="0.967"/><stop offset="0.443" stop-color="#f00" stop-opacity="0.967"/><stop offset="0.452" stop-color="#f00" stop-opacity="0.967"/><stop offset="0.462" stop-color="#f00" stop-opacity="0.967"/><stop offset="0.471" stop-color="#f00" stop-opacity="0.965"/><stop offset="0.480" stop-color="#f00" stop-opacity="0.963"/><stop offset="0.489" stop-color="#f00" stop-opacity="0.961"/><stop offset="0.498" stop-color="#f00" stop-opacity="0.959"/><stop offset="0.508" stop-color="#f00" stop-opacity="0.957"/><stop offset="0.517" stop-color="#f00" stop-opacity="0.955"/><stop offset="0.526" stop-color="#f00" stop-opacity="0.953"/><stop offset="0.535" stop-color="#f00" stop-opacity="0.951"/><stop offset="0.545" stop-color="#f00" stop-opacity="0.949"/><stop offset="0.554" stop-color="#f00" stop-opacity="0.947"/><stop offset="0.563" stop-color="#f00" stop-opacity="0.945"/><stop offset="0.572" stop-color="#f00" stop-opacity="0.943"/><stop offset="0.582" stop-color="#f00" stop-opacity="0.941"/><stop offset="0.591" stop-color="#f00" stop-opacity="0.939"/><stop offset="0.600" stop-color="#f00" stop-opacity="0.937"/><stop offset="0.609" stop-color="#f00" stop-opacity="0.935"/><stop offset="0.618" stop-color="#f00" stop-opacity="0.929"/><stop offset="0.628" stop-color="#f00" stop-opacity="0.915"/><stop offset="0.637" stop-color="#f00" stop-opacity="0.902"/><stop offset="0.646" stop-color="#f00" stop-opacity="0.888"/><stop offset="0.655" stop-color="#f00" stop-opacity="0.874"/><stop offset="0.665" stop-color="#f00" stop-opacity="0.861"/><stop offset="0.674" stop-color="#f00" stop-opacity="0.847"/><stop offset="0.683" stop-color="#f00" stop-opacity="0.834"/><stop offset="0.692" stop-color="#f00" stop-opacity="0.820"/><stop offset="0.702" stop-color="#f00" stop-opacity="0.806"/><stop offset="0.711" stop-color="#f00" stop-opacity="0.793"/><stop offset="0.720" stop-color="#f00" stop-opacity="0.779"/><stop offset="0.729" stop-color="#f00" stop-opacity="0.766"/><stop offset="0.738" stop-color="#f00" stop-opacity="0.752"/><stop offset="0.748" stop-color="#f00" stop-opacity="0.738"/><stop offset="0.757" stop-color="#f00" stop-opacity="0.725"/><stop offset="0.766" stop-color="#f00" stop-opacity="0.711"/><stop offset="0.775" stop-color="#f00" stop-opacity="0.695"/><stop offset="0.785" stop-color="#f00" stop-opacity="0.677"/><stop offset="0.794" stop-color="#f00" stop-opacity="0.660"/><stop offset="0.803" stop-color="#f00" stop-opacity="0.642"/><stop offset="0.812" stop-color="#f00" stop-opacity="0.625"/><stop offset="0.822" stop-color="#f00" stop-opacity="0.607"/><stop offset="0.831" stop-color="#f00" stop-opacity="0.589"/><stop offset="0.840" stop-color="#f00" stop-opacity="0.572"/><stop offset="0.849" stop-color="#f00" stop-opacity="0.551"/><stop offset="0.858" stop-color="#f00" stop-opacity="0.526"/><stop offset="0.868" stop-color="#f00" stop-opacity="0.500"/><stop offset="0.877" stop-color="#f00" stop-opacity="0.475"/><stop offset="0.886" stop-color="#f00" stop-opacity="0.450"/><stop offset="0.895" stop-color="#f00" stop-opacity="0.431"/><stop offset="0.905" stop-color="#f00" stop-opacity="0.412"/><stop offset="0.914" stop-color="#f00" stop-opacity="0.393"/><stop offset="0.923" stop-color="#f00" stop-opacity="0.373"/><stop offset="0.932" stop-color="#f00" stop-opacity="0.354"/><stop offset="0.942" stop-color="#f00" stop-opacity="0.335"/><stop offset="0.951" stop-color="#f00" stop-opacity="0.326"/><stop offset="0.960" stop-color="#f00" stop-opacity="0.317"/><stop offset="0.969" stop-color="#f00" stop-opacity="0.308"/><stop offset="0.978" stop-color="#f00" stop-opacity="0.300"/><stop offset="0.988" stop-color="#f00" stop-opacity="0.291"/><stop offset="0.997" stop-color="#f00" stop-opacity="0.283"/><stop offset="1.000" stop-color="#f00" stop-opacity="0.280"/></linearGradient>
<linearGradient id="g10" gradientUnits="userSpaceOnUse" x1="0" y1="870.0" x2="0" y2="1235.6"><stop offset="0.000" stop-color="#f00" stop-opacity="0.333"/><stop offset="0.009" stop-color="#f00" stop-opacity="0.362"/><stop offset="0.018" stop-color="#f00" stop-opacity="0.392"/><stop offset="0.028" stop-color="#f00" stop-opacity="0.421"/><stop offset="0.037" stop-color="#f00" stop-opacity="0.450"/><stop offset="0.046" stop-color="#f00" stop-opacity="0.479"/><stop offset="0.055" stop-color="#f00" stop-opacity="0.508"/><stop offset="0.065" stop-color="#f00" stop-opacity="0.537"/><stop offset="0.074" stop-color="#f00" stop-opacity="0.567"/><stop offset="0.083" stop-color="#f00" stop-opacity="0.639"/><stop offset="0.092" stop-color="#f00" stop-opacity="0.713"/><stop offset="0.102" stop-color="#f00" stop-opacity="0.788"/><stop offset="0.111" stop-color="#f00" stop-opacity="0.863"/><stop offset="0.120" stop-color="#f00" stop-opacity="0.903"/><stop offset="0.129" stop-color="#f00" stop-opacity="0.908"/><stop offset="0.138" stop-color="#f00" stop-opacity="0.913"/><stop offset="0.148" stop-color="#f00" stop-opacity="0.919"/><stop offset="0.157" stop-color="#f00" stop-opacity="0.924"/><stop offset="0.166" stop-color="#f00" stop-opacity="0.929"/><stop offset="0.175" stop-color="#f00" stop-opacity="0.935"/><stop offset="0.185" stop-color="#f00" stop-opacity="0.940"/><stop offset="0.194" stop-color="#f00" stop-opacity="0.945"/><stop offset="0.203" stop-color="#f00" stop-opacity="0.951"/><stop offset="0.212" stop-color="#f00" stop-opacity="0.956"/><stop offset="0.222" stop-color="#f00" stop-opacity="0.961"/><stop offset="0.231" stop-color="#f00" stop-opacity="0.967"/><stop offset="0.240" stop-color="#f00" stop-opacity="0.967"/><stop offset="0.249" stop-color="#f00" stop-opacity="0.967"/><stop offset="0.258" stop-color="#f00" stop-opacity="0.967"/><stop offset="0.268" stop-color="#f00" stop-opacity="0.967"/><stop offset="0.277" stop-color="#f00" stop-opacity="0.967"/><stop offset="0.286" stop-color="#f00" stop-opacity="0.967"/><stop offset="0.295" stop-color="#f00" stop-opacity="0.967"/><stop offset="0.305" stop-color="#f00" stop-opacity="0.967"/><stop offset="0.314" stop-color="#f00" stop-opacity="0.967"/><stop offset="0.323" stop-color="#f00" stop-opacity="0.967"/><stop offset="0.332" stop-color="#f00" stop-opacity="0.967"/><stop offset="0.342" stop-color="#f00" stop-opacity="0.967"/><stop offset="0.351" stop-color="#f00" stop-opacity="0.967"/><stop offset="0.360" stop-color="#f00" stop-opacity="0.967"/><stop offset="0.369" stop-color="#f00" stop-opacity="0.967"/><stop offset="0.378" stop-color="#f00" stop-opacity="0.967"/><stop offset="0.388" stop-color="#f00" stop-opacity="0.967"/><stop offset="0.397" stop-color="#f00" stop-opacity="0.967"/><stop offset="0.406" stop-color="#f00" stop-opacity="0.967"/><stop offset="0.415" stop-color="#f00" stop-opacity="0.967"/><stop offset="0.425" stop-color="#f00" stop-opacity="0.967"/><stop offset="0.434" stop-color="#f00" stop-opacity="0.967"/><stop offset="0.443" stop-color="#f00" stop-opacity="0.967"/><stop offset="0.452" stop-color="#f00" stop-opacity="0.967"/><stop offset="0.462" stop-color="#f00" stop-opacity="0.967"/><stop offset="0.471" stop-color="#f00" stop-opacity="0.965"/><stop offset="0.480" stop-color="#f00" stop-opacity="0.963"/><stop offset="0.489" stop-color="#f00" stop-opacity="0.961"/><stop offset="0.498" stop-color="#f00" stop-opacity="0.959"/><stop offset="0.508" stop-color="#f00" stop-opacity="0.957"/><stop offset="0.517" stop-color="#f00" stop-opacity="0.955"/><stop offset="0.526" stop-color="#f00" stop-opacity="0.953"/><stop offset="0.535" stop-color="#f00" stop-opacity="0.951"/><stop offset="0.545" stop-color="#f00" stop-opacity="0.949"/><stop offset="0.554" stop-color="#f00" stop-opacity="0.947"/><stop offset="0.563" stop-color="#f00" stop-opacity="0.945"/><stop offset="0.572" stop-color="#f00" stop-opacity="0.943"/><stop offset="0.582" stop-color="#f00" stop-opacity="0.941"/><stop offset="0.591" stop-color="#f00" stop-opacity="0.939"/><stop offset="0.600" stop-color="#f00" stop-opacity="0.937"/><stop offset="0.609" stop-color="#f00" stop-opacity="0.935"/><stop offset="0.618" stop-color="#f00" stop-opacity="0.929"/><stop offset="0.628" stop-color="#f00" stop-opacity="0.915"/><stop offset="0.637" stop-color="#f00" stop-opacity="0.902"/><stop offset="0.646" stop-color="#f00" stop-opacity="0.888"/><stop offset="0.655" stop-color="#f00" stop-opacity="0.874"/><stop offset="0.665" stop-color="#f00" stop-opacity="0.861"/><stop offset="0.674" stop-color="#f00" stop-opacity="0.847"/><stop offset="0.683" stop-color="#f00" stop-opacity="0.834"/><stop offset="0.692" stop-color="#f00" stop-opacity="0.820"/><stop offset="0.702" stop-color="#f00" stop-opacity="0.806"/><stop offset="0.711" stop-color="#f00" stop-opacity="0.793"/><stop offset="0.720" stop-color="#f00" stop-opacity="0.779"/><stop offset="0.729" stop-color="#f00" stop-opacity="0.766"/><stop offset="0.738" stop-color="#f00" stop-opacity="0.752"/><stop offset="0.748" stop-color="#f00" stop-opacity="0.738"/><stop offset="0.757" stop-color="#f00" stop-opacity="0.725"/><stop offset="0.766" stop-color="#f00" stop-opacity="0.711"/><stop offset="0.775" stop-color="#f00" stop-opacity="0.695"/><stop offset="0.785" stop-color="#f00" stop-opacity="0.677"/><stop offset="0.794" stop-color="#f00" stop-opacity="0.660"/><stop offset="0.803" stop-color="#f00" stop-opacity="0.642"/><stop offset="0.812" stop-color="#f00" stop-opacity="0.625"/><stop offset="0.822" stop-color="#f00" stop-opacity="0.607"/><stop offset="0.831" stop-color="#f00" stop-opacity="0.589"/><stop offset="0.840" stop-color="#f00" stop-opacity="0.572"/><stop offset="0.849" stop-color="#f00" stop-opacity="0.551"/><stop offset="0.858" stop-color="#f00" stop-opacity="0.526"/><stop offset="0.868" stop-color="#f00" stop-opacity="0.500"/><stop offset="0.877" stop-color="#f00" stop-opacity="0.475"/><stop offset="0.886" stop-color="#f00" stop-opacity="0.450"/><stop offset="0.895" stop-color="#f00" stop-opacity="0.431"/><stop offset="0.905" stop-color="#f00" stop-opacity="0.412"/><stop offset="0.914" stop-color="#f00" stop-opacity="0.393"/><stop offset="0.923" stop-color="#f00" stop-opacity="0.373"/><stop offset="0.932" stop-color="#f00" stop-opacity="0.354"/><stop offset="0.942" stop-color="#f00" stop-opacity="0.335"/><stop offset="0.951" stop-color="#f00" stop-opacity="0.326"/><stop offset="0.960" stop-color="#f00" stop-opacity="0.317"/><stop offset="0.969" stop-color="#f00" stop-opacity="0.308"/><stop offset="0.978" stop-color="#f00" stop-opacity="0.300"/><stop offset="0.988" stop-color="#f00" stop-opacity="0.291"/><stop offset="0.997" stop-color="#f00" stop-opacity="0.283"/><stop offset="1.000" stop-color="#f00" stop-opacity="0.280"/></linearGradient>
<linearGradient id="g11" gradientUnits="userSpaceOnUse" x1="0" y1="870.0" x2="0" y2="1235.6"><stop offset="0.000" stop-color="#f00" stop-opacity="0.300"/><stop offset="0.009" stop-color="#f00" stop-opacity="0.325"/><stop offset="0.018" stop-color="#f00" stop-opacity="0.350"/><stop offset="0.028" stop-color="#f00" stop-opacity="0.375"/><stop offset="0.037" stop-color="#f00" stop-opacity="0.400"/><stop offset="0.046" stop-color="#f00" stop-opacity="0.425"/><stop offset="0.055" stop-color="#f00" stop-opacity="0.450"/><stop offset="0.065" stop-color="#f00" stop-opacity="0.475"/><stop offset="0.074" stop-color="#f00" stop-opacity="0.500"/><stop offset="0.083" stop-color="#f00" stop-opacity="0.573"/><stop offset="0.092" stop-color="#f00" stop-opacity="0.641"/><stop offset="0.102" stop-color="#f00" stop-opacity="0.689"/><stop offset="0.111" stop-color="#f00" stop-opacity="0.737"/><stop offset="0.120" stop-color="#f00" stop-opacity="0.784"/><stop offset="0.129" stop-color="#f00" stop-opacity="0.806"/><stop offset="0.138" stop-color="#f00" stop-opacity="0.814"/><stop offset="0.148" stop-color="#f00" stop-opacity="0.823"/><stop offset="0.157" stop-color="#f00" stop-opacity="0.831"/><stop offset="0.166" stop-color="#f00" stop-opacity="0.840"/><stop offset="0.175" stop-color="#f00" stop-opacity="0.849"/><stop offset="0.185" stop-color="#f00" stop-opacity="0.857"/><stop offset="0.194" stop-color="#f00" stop-opacity="0.866"/><stop offset="0.203" stop-color="#f00" stop-opacity="0.874"/><stop offset="0.212" stop-color="#f00" stop-opacity="0.883"/><stop offset="0.222" stop-color="#f00" stop-opacity="0.891"/><stop offset="0.231" stop-color="#f00" stop-opacity="0.900"/><stop offset="0.240" stop-color="#f00" stop-opacity="0.901"/><stop offset="0.249" stop-color="#f00" stop-opacity="0.903"/><stop offset="0.258" stop-color="#f00" stop-opacity="0.904"/><stop offset="0.268" stop-color="#f00" stop-opacity="0.905"/><stop offset="0.277" stop-color="#f00" stop-opacity="0.907"/><stop offset="0.286" stop-color="#f00" stop-opacity="0.908"/><stop offset="0.295" stop-color="#f00" stop-opacity="0.909"/><stop offset="0.305" stop-color="#f00" stop-opacity="0.911"/><stop offset="0.314" stop-color="#f00" stop-opacity="0.912"/><stop offset="0.323" stop-color="#f00" stop-opacity="0.913"/><stop offset="0.332" stop-color="#f00" stop-opacity="0.915"/><stop offset="0.342" stop-color="#f00" stop-opacity="0.916"/><stop offset="0.351" stop-color="#f00" stop-opacity="0.917"/><stop offset="0.360" stop-color="#f00" stop-opacity="0.919"/><stop offset="0.369" stop-color="#f00" stop-opacity="0.920"/><stop offset="0.378" stop-color="#f00" stop-opacity="0.921"/><stop offset="0.388" stop-color="#f00" stop-opacity="0.923"/><stop offset="0.397" stop-color="#f00" stop-opacity="0.924"/><stop offset="0.406" stop-color="#f00" stop-opacity="0.925"/><stop offset="0.415" stop-color="#f00" stop-opacity="0.927"/><stop offset="0.425" stop-color="#f00" stop-opacity="0.928"/><stop offset="0.434" stop-color="#f00" stop-opacity="0.929"/><stop offset="0.443" stop-color="#f00" stop-opacity="0.931"/><stop offset="0.452" stop-color="#f00" stop-opacity="0.932"/><stop offset="0.462" stop-color="#f00" stop-opacity="0.933"/><stop offset="0.471" stop-color="#f00" stop-opacity="0.931"/><stop offset="0.480" stop-color="#f00" stop-opacity="0.929"/><stop offset="0.489" stop-color="#f00" stop-opacity="0.927"/><stop offset="0.498" stop-color="#f00" stop-opacity="0.925"/><stop offset="0.508" stop-color="#f00" stop-opacity="0.923"/><stop offset="0.517" stop-color="#f00" stop-opacity="0.921"/><stop offset="0.526" stop-color="#f00" stop-opacity="0.919"/><stop offset="0.535" stop-color="#f00" stop-opacity="0.917"/><stop offset="0.545" stop-color="#f00" stop-opacity="0.915"/><stop offset="0.554" stop-color="#f00" stop-opacity="0.913"/><stop offset="0.563" stop-color="#f00" stop-opacity="0.911"/><stop offset="0.572" stop-color="#f00" stop-opacity="0.909"/><stop offset="0.582" stop-color="#f00" stop-opacity="0.907"/><stop offset="0.591" stop-color="#f00" stop-opacity="0.905"/><stop offset="0.600" stop-color="#f00" stop-opacity="0.903"/><stop offset="0.609" stop-color="#f00" stop-opacity="0.901"/><stop offset="0.618" stop-color="#f00" stop-opacity="0.896"/><stop offset="0.628" stop-color="#f00" stop-opacity="0.885"/><stop offset="0.637" stop-color="#f00" stop-opacity="0.873"/><stop offset="0.646" stop-color="#f00" stop-opacity="0.861"/><stop offset="0.655" stop-color="#f00" stop-opacity="0.850"/><stop offset="0.665" stop-color="#f00" stop-opacity="0.838"/><stop offset="0.674" stop-color="#f00" stop-opacity="0.827"/><stop offset="0.683" stop-color="#f00" stop-opacity="0.815"/><stop offset="0.692" stop-color="#f00" stop-opacity="0.803"/><stop offset="0.702" stop-color="#f00" stop-opacity="0.792"/><stop offset="0.711" stop-color="#f00" stop-opacity="0.780"/><stop offset="0.720" stop-color="#f00" stop-opacity="0.769"/><stop offset="0.729" stop-color="#f00" stop-opacity="0.757"/><stop offset="0.738" stop-color="#f00" stop-opacity="0.745"/><stop offset="0.748" stop-color="#f00" stop-opacity="0.734"/><stop offset="0.757" stop-color="#f00" stop-opacity="0.722"/><stop offset="0.766" stop-color="#f00" stop-opacity="0.711"/><stop offset="0.775" stop-color="#f00" stop-opacity="0.695"/><stop offset="0.785" stop-color="#f00" stop-opacity="0.677"/><stop offset="0.794" stop-color="#f00" stop-opacity="0.660"/><stop offset="0.803" stop-color="#f00" stop-opacity="0.642"/><stop offset="0.812" stop-color="#f00" stop-opacity="0.625"/><stop offset="0.822" stop-color="#f00" stop-opacity="0.607"/><stop offset="0.831" stop-color="#f00" stop-opacity="0.589"/><stop offset="0.840" stop-color="#f00" stop-opacity="0.572"/><stop offset="0.849" stop-color="#f00" stop-opacity="0.551"/><stop offset="0.858" stop-color="#f00" stop-opacity="0.526"/><stop offset="0.868" stop-color="#f00" stop-opacity="0.500"/><stop offset="0.877" stop-color="#f00" stop-opacity="0.475"/><stop offset="0.886" stop-color="#f00" stop-opacity="0.450"/><stop offset="0.895" stop-color="#f00" stop-opacity="0.431"/><stop offset="0.905" stop-color="#f00" stop-opacity="0.412"/><stop offset="0.914" stop-color="#f00" stop-opacity="0.393"/><stop offset="0.923" stop-color="#f00" stop-opacity="0.373"/><stop offset="0.932" stop-color="#f00" stop-opacity="0.354"/><stop offset="0.942" stop-color="#f00" stop-opacity="0.335"/><stop offset="0.951" stop-color="#f00" stop-opacity="0.326"/><stop offset="0.960" stop-color="#f00" stop-opacity="0.317"/><stop offset="0.969" stop-color="#f00" stop-opacity="0.308"/><stop offset="0.978" stop-color="#f00" stop-opacity="0.300"/><stop offset="0.988" stop-color="#f00" stop-opacity="0.291"/><stop offset="0.997" stop-color="#f00" stop-opacity="0.283"/><stop offset="1.000" stop-color="#f00" stop-opacity="0.280"/></linearGradient>
<linearGradient id="g12" gradientUnits="userSpaceOnUse" x1="0" y1="943.1" x2="0" y2="1235.6"><stop offset="0.000" stop-color="#f00" stop-opacity="0.533"/><stop offset="0.012" stop-color="#f00" stop-opacity="0.542"/><stop offset="0.023" stop-color="#f00" stop-opacity="0.552"/><stop offset="0.035" stop-color="#f00" stop-opacity="0.561"/><stop offset="0.046" stop-color="#f00" stop-opacity="0.570"/><stop offset="0.058" stop-color="#f00" stop-opacity="0.579"/><stop offset="0.069" stop-color="#f00" stop-opacity="0.588"/><stop offset="0.081" stop-color="#f00" stop-opacity="0.596"/><stop offset="0.092" stop-color="#f00" stop-opacity="0.604"/><stop offset="0.104" stop-color="#f00" stop-opacity="0.612"/><stop offset="0.115" stop-color="#f00" stop-opacity="0.620"/><stop offset="0.127" stop-color="#f00" stop-opacity="0.628"/><stop offset="0.138" stop-color="#f00" stop-opacity="0.637"/><stop offset="0.150" stop-color="#f00" stop-opacity="0.647"/><stop offset="0.162" stop-color="#f00" stop-opacity="0.658"/><stop offset="0.173" stop-color="#f00" stop-opacity="0.668"/><stop offset="0.185" stop-color="#f00" stop-opacity="0.678"/><stop offset="0.196" stop-color="#f00" stop-opacity="0.689"/><stop offset="0.208" stop-color="#f00" stop-opacity="0.699"/><stop offset="0.219" stop-color="#f00" stop-opacity="0.710"/><stop offset="0.231" stop-color="#f00" stop-opacity="0.720"/><stop offset="0.242" stop-color="#f00" stop-opacity="0.721"/><stop offset="0.254" stop-color="#f00" stop-opacity="0.722"/><stop offset="0.265" stop-color="#f00" stop-opacity="0.722"/><stop offset="0.277" stop-color="#f00" stop-opacity="0.723"/><stop offset="0.288" stop-color="#f00" stop-opacity="0.724"/><stop offset="0.300" stop-color="#f00" stop-opacity="0.725"/><stop offset="0.312" stop-color="#f00" stop-opacity="0.726"/><stop offset="0.323" stop-color="#f00" stop-opacity="0.726"/><stop offset="0.335" stop-color="#f00" stop-opacity="0.727"/><stop offset="0.346" stop-color="#f00" stop-opacity="0.728"/><stop offset="0.358" stop-color="#f00" stop-opacity="0.729"/><stop offset="0.369" stop-color="#f00" stop-opacity="0.730"/><stop offset="0.381" stop-color="#f00" stop-opacity="0.730"/><stop offset="0.392" stop-color="#f00" stop-opacity="0.731"/><stop offset="0.404" stop-color="#f00" stop-opacity="0.732"/><stop offset="0.415" stop-color="#f00" stop-opacity="0.733"/><stop offset="0.427" stop-color="#f00" stop-opacity="0.733"/><stop offset="0.438" stop-color="#f00" stop-opacity="0.731"/><stop offset="0.450" stop-color="#f00" stop-opacity="0.729"/><stop offset="0.462" stop-color="#f00" stop-opacity="0.727"/><stop offset="0.473" stop-color="#f00" stop-opacity="0.725"/><stop offset="0.485" stop-color="#f00" stop-opacity="0.723"/><stop offset="0.496" stop-color="#f00" stop-opacity="0.721"/><stop offset="0.508" stop-color="#f00" stop-opacity="0.719"/><stop offset="0.519" stop-color="#f00" stop-opacity="0.717"/><stop offset="0.531" stop-color="#f00" stop-opacity="0.715"/><stop offset="0.542" stop-color="#f00" stop-opacity="0.713"/><stop offset="0.554" stop-color="#f00" stop-opacity="0.711"/><stop offset="0.565" stop-color="#f00" stop-opacity="0.709"/><stop offset="0.577" stop-color="#f00" stop-opacity="0.707"/><stop offset="0.588" stop-color="#f00" stop-opacity="0.705"/><stop offset="0.600" stop-color="#f00" stop-opacity="0.703"/><stop offset="0.612" stop-color="#f00" stop-opacity="0.701"/><stop offset="0.623" stop-color="#f00" stop-opacity="0.694"/><stop offset="0.635" stop-color="#f00" stop-opacity="0.685"/><stop offset="0.646" stop-color="#f00" stop-opacity="0.675"/><stop offset="0.658" stop-color="#f00" stop-opacity="0.666"/><stop offset="0.669" stop-color="#f00" stop-opacity="0.657"/><stop offset="0.681" stop-color="#f00" stop-opacity="0.648"/><stop offset="0.692" stop-color="#f00" stop-opacity="0.638"/><stop offset="0.704" stop-color="#f00" stop-opacity="0.629"/><stop offset="0.715" stop-color="#f00" stop-opacity="0.620"/><stop offset="0.727" stop-color="#f00" stop-opacity="0.611"/><stop offset="0.738" stop-color="#f00" stop-opacity="0.602"/><stop offset="0.750" stop-color="#f00" stop-opacity="0.589"/><stop offset="0.762" stop-color="#f00" stop-opacity="0.576"/><stop offset="0.773" stop-color="#f00" stop-opacity="0.562"/><stop offset="0.785" stop-color="#f00" stop-opacity="0.549"/><stop offset="0.796" stop-color="#f00" stop-opacity="0.536"/><stop offset="0.808" stop-color="#f00" stop-opacity="0.522"/><stop offset="0.819" stop-color="#f00" stop-opacity="0.509"/><stop offset="0.831" stop-color="#f00" stop-opacity="0.493"/><stop offset="0.842" stop-color="#f00" stop-opacity="0.473"/><stop offset="0.854" stop-color="#f00" stop-opacity="0.452"/><stop offset="0.865" stop-color="#f00" stop-opacity="0.431"/><stop offset="0.877" stop-color="#f00" stop-opacity="0.411"/><stop offset="0.888" stop-color="#f00" stop-opacity="0.390"/><stop offset="0.900" stop-color="#f00" stop-opacity="0.370"/><stop offset="0.912" stop-color="#f00" stop-opacity="0.349"/><stop offset="0.923" stop-color="#f00" stop-opacity="0.329"/><stop offset="0.935" stop-color="#f00" stop-opacity="0.315"/><stop offset="0.946" stop-color="#f00" stop-opacity="0.306"/><stop offset="0.958" stop-color="#f00" stop-opacity="0.298"/><stop offset="0.969" stop-color="#f00" stop-opacity="0.289"/><stop offset="0.981" stop-color="#f00" stop-opacity="0.281"/><stop offset="0.992" stop-color="#f00" stop-opacity="0.272"/><stop offset="1.000" stop-color="#f00" stop-opacity="0.267"/></linearGradient>
<linearGradient id="g13" gradientUnits="userSpaceOnUse" x1="0" y1="870.0" x2="0" y2="943.1"><stop offset="0.000" stop-color="#f00" stop-opacity="0.300"/><stop offset="0.046" stop-color="#f00" stop-opacity="0.310"/><stop offset="0.092" stop-color="#f00" stop-opacity="0.320"/><stop offset="0.138" stop-color="#f00" stop-opacity="0.330"/><stop offset="0.185" stop-color="#f00" stop-opacity="0.340"/><stop offset="0.231" stop-color="#f00" stop-opacity="0.350"/><stop offset="0.277" stop-color="#f00" stop-opacity="0.360"/><stop offset="0.323" stop-color="#f00" stop-opacity="0.370"/><stop offset="0.369" stop-color="#f00" stop-opacity="0.380"/><stop offset="0.415" stop-color="#f00" stop-opacity="0.390"/><stop offset="0.462" stop-color="#f00" stop-opacity="0.400"/><stop offset="0.508" stop-color="#f00" stop-opacity="0.412"/><stop offset="0.554" stop-color="#f00" stop-opacity="0.424"/><stop offset="0.600" stop-color="#f00" stop-opacity="0.436"/><stop offset="0.646" stop-color="#f00" stop-opacity="0.448"/><stop offset="0.692" stop-color="#f00" stop-opacity="0.460"/><stop offset="0.738" stop-color="#f00" stop-opacity="0.472"/><stop offset="0.785" stop-color="#f00" stop-opacity="0.484"/><stop offset="0.831" stop-color="#f00" stop-opacity="0.494"/><stop offset="0.877" stop-color="#f00" stop-opacity="0.505"/><stop offset="0.923" stop-color="#f00" stop-opacity="0.516"/><stop offset="0.969" stop-color="#f00" stop-opacity="0.526"/><stop offset="1.000" stop-color="#f00" stop-opacity="0.533"/></linearGradient>
<linearGradient id="g14" gradientUnits="userSpaceOnUse" x1="0" y1="993.7" x2="0" y2="1235.6"><stop offset="0.000" stop-color="#f00" stop-opacity="0.547"/><stop offset="0.014" stop-color="#f00" stop-opacity="0.559"/><stop offset="0.028" stop-color="#f00" stop-opacity="0.571"/><stop offset="0.042" stop-color="#f00" stop-opacity="0.583"/><stop offset="0.056" stop-color="#f00" stop-opacity="0.587"/><stop offset="0.070" stop-color="#f00" stop-opacity="0.588"/><stop offset="0.084" stop-color="#f00" stop-opacity="0.589"/><stop offset="0.098" stop-color="#f00" stop-opacity="0.590"/><stop offset="0.112" stop-color="#f00" stop-opacity="0.590"/><stop offset="0.126" stop-color="#f00" stop-opacity="0.591"/><stop offset="0.140" stop-color="#f00" stop-opacity="0.592"/><stop offset="0.153" stop-color="#f00" stop-opacity="0.593"/><stop offset="0.167" stop-color="#f00" stop-opacity="0.594"/><stop offset="0.181" stop-color="#f00" stop-opacity="0.594"/><stop offset="0.195" stop-color="#f00" stop-opacity="0.595"/><stop offset="0.209" stop-color="#f00" stop-opacity="0.596"/><stop offset="0.223" stop-color="#f00" stop-opacity="0.597"/><stop offset="0.237" stop-color="#f00" stop-opacity="0.598"/><stop offset="0.251" stop-color="#f00" stop-opacity="0.598"/><stop offset="0.265" stop-color="#f00" stop-opacity="0.599"/><stop offset="0.279" stop-color="#f00" stop-opacity="0.600"/><stop offset="0.293" stop-color="#f00" stop-opacity="0.597"/><stop offset="0.307" stop-color="#f00" stop-opacity="0.594"/><stop offset="0.321" stop-color="#f00" stop-opacity="0.590"/><stop offset="0.335" stop-color="#f00" stop-opacity="0.587"/><stop offset="0.349" stop-color="#f00" stop-opacity="0.584"/><stop offset="0.363" stop-color="#f00" stop-opacity="0.581"/><stop offset="0.377" stop-color="#f00" stop-opacity="0.578"/><stop offset="0.391" stop-color="#f00" stop-opacity="0.574"/><stop offset="0.405" stop-color="#f00" stop-opacity="0.571"/><stop offset="0.419" stop-color="#f00" stop-opacity="0.568"/><stop offset="0.433" stop-color="#f00" stop-opacity="0.565"/><stop offset="0.447" stop-color="#f00" stop-opacity="0.562"/><stop offset="0.460" stop-color="#f00" stop-opacity="0.558"/><stop offset="0.474" stop-color="#f00" stop-opacity="0.555"/><stop offset="0.488" stop-color="#f00" stop-opacity="0.552"/><stop offset="0.502" stop-color="#f00" stop-opacity="0.549"/><stop offset="0.516" stop-color="#f00" stop-opacity="0.544"/><stop offset="0.530" stop-color="#f00" stop-opacity="0.534"/><stop offset="0.544" stop-color="#f00" stop-opacity="0.525"/><stop offset="0.558" stop-color="#f00" stop-opacity="0.515"/><stop offset="0.572" stop-color="#f00" stop-opacity="0.506"/><stop offset="0.586" stop-color="#f00" stop-opacity="0.496"/><stop offset="0.600" stop-color="#f00" stop-opacity="0.487"/><stop offset="0.614" stop-color="#f00" stop-opacity="0.478"/><stop offset="0.628" stop-color="#f00" stop-opacity="0.468"/><stop offset="0.642" stop-color="#f00" stop-opacity="0.459"/><stop offset="0.656" stop-color="#f00" stop-opacity="0.449"/><stop offset="0.670" stop-color="#f00" stop-opacity="0.440"/><stop offset="0.684" stop-color="#f00" stop-opacity="0.431"/><stop offset="0.698" stop-color="#f00" stop-opacity="0.421"/><stop offset="0.712" stop-color="#f00" stop-opacity="0.410"/><stop offset="0.726" stop-color="#f00" stop-opacity="0.393"/><stop offset="0.740" stop-color="#f00" stop-opacity="0.375"/><stop offset="0.753" stop-color="#f00" stop-opacity="0.358"/><stop offset="0.767" stop-color="#f00" stop-opacity="0.340"/><stop offset="0.781" stop-color="#f00" stop-opacity="0.322"/><stop offset="0.795" stop-color="#f00" stop-opacity="0.305"/><stop offset="0.809" stop-color="#f00" stop-opacity="0.287"/><stop offset="0.823" stop-color="#f00" stop-opacity="0.270"/><stop offset="0.837" stop-color="#f00" stop-opacity="0.253"/><stop offset="0.851" stop-color="#f00" stop-opacity="0.237"/><stop offset="0.865" stop-color="#f00" stop-opacity="0.221"/><stop offset="0.879" stop-color="#f00" stop-opacity="0.205"/><stop offset="0.893" stop-color="#f00" stop-opacity="0.189"/><stop offset="0.907" stop-color="#f00" stop-opacity="0.173"/><stop offset="0.921" stop-color="#f00" stop-opacity="0.157"/><stop offset="0.935" stop-color="#f00" stop-opacity="0.144"/><stop offset="0.949" stop-color="#f00" stop-opacity="0.134"/><stop offset="0.963" stop-color="#f00" stop-opacity="0.125"/><stop offset="0.977" stop-color="#f00" stop-opacity="0.116"/><stop offset="0.991" stop-color="#f00" stop-opacity="0.106"/><stop offset="1.000" stop-color="#f00" stop-opacity="0.100"/></linearGradient>
<linearGradient id="g15" gradientUnits="userSpaceOnUse" x1="0" y1="870.0" x2="0" y2="993.7"><stop offset="0.000" stop-color="#f00" stop-opacity="0.267"/><stop offset="0.027" stop-color="#f00" stop-opacity="0.271"/><stop offset="0.055" stop-color="#f00" stop-opacity="0.275"/><stop offset="0.082" stop-color="#f00" stop-opacity="0.279"/><stop offset="0.109" stop-color="#f00" stop-opacity="0.283"/><stop offset="0.136" stop-color="#f00" stop-opacity="0.287"/><stop offset="0.164" stop-color="#f00" stop-opacity="0.291"/><stop offset="0.191" stop-color="#f00" stop-opacity="0.295"/><stop offset="0.218" stop-color="#f00" stop-opacity="0.299"/><stop offset="0.245" stop-color="#f00" stop-opacity="0.306"/><stop offset="0.273" stop-color="#f00" stop-opacity="0.315"/><stop offset="0.300" stop-color="#f00" stop-opacity="0.323"/><stop offset="0.327" stop-color="#f00" stop-opacity="0.332"/><stop offset="0.355" stop-color="#f00" stop-opacity="0.341"/><stop offset="0.382" stop-color="#f00" stop-opacity="0.350"/><stop offset="0.409" stop-color="#f00" stop-opacity="0.359"/><stop offset="0.436" stop-color="#f00" stop-opacity="0.367"/><stop offset="0.464" stop-color="#f00" stop-opacity="0.375"/><stop offset="0.491" stop-color="#f00" stop-opacity="0.380"/><stop offset="0.518" stop-color="#f00" stop-opacity="0.385"/><stop offset="0.545" stop-color="#f00" stop-opacity="0.389"/><stop offset="0.573" stop-color="#f00" stop-opacity="0.394"/><stop offset="0.600" stop-color="#f00" stop-opacity="0.399"/><stop offset="0.627" stop-color="#f00" stop-opacity="0.404"/><stop offset="0.655" stop-color="#f00" stop-opacity="0.409"/><stop offset="0.682" stop-color="#f00" stop-opacity="0.413"/><stop offset="0.709" stop-color="#f00" stop-opacity="0.423"/><stop offset="0.736" stop-color="#f00" stop-opacity="0.433"/><stop offset="0.764" stop-color="#f00" stop-opacity="0.443"/><stop offset="0.791" stop-color="#f00" stop-opacity="0.453"/><stop offset="0.818" stop-color="#f00" stop-opacity="0.463"/><stop offset="0.845" stop-color="#f00" stop-opacity="0.473"/><stop offset="0.873" stop-color="#f00" stop-opacity="0.484"/><stop offset="0.900" stop-color="#f00" stop-opacity="0.498"/><stop offset="0.927" stop-color="#f00" stop-opacity="0.511"/><stop offset="0.955" stop-color="#f00" stop-opacity="0.524"/><stop offset="0.982" stop-color="#f00" stop-opacity="0.538"/><stop offset="1.000" stop-color="#f00" stop-opacity="0.547"/></linearGradient>
<linearGradient id="g16" gradientUnits="userSpaceOnUse" x1="0" y1="870.0" x2="0" y2="965.6"><stop offset="0.000" stop-color="#f00" stop-opacity="0.200"/><stop offset="0.035" stop-color="#f00" stop-opacity="0.212"/><stop offset="0.071" stop-color="#f00" stop-opacity="0.224"/><stop offset="0.106" stop-color="#f00" stop-opacity="0.236"/><stop offset="0.141" stop-color="#f00" stop-opacity="0.248"/><stop offset="0.176" stop-color="#f00" stop-opacity="0.260"/><stop offset="0.212" stop-color="#f00" stop-opacity="0.272"/><stop offset="0.247" stop-color="#f00" stop-opacity="0.284"/><stop offset="0.282" stop-color="#f00" stop-opacity="0.296"/><stop offset="0.318" stop-color="#f00" stop-opacity="0.308"/><stop offset="0.353" stop-color="#f00" stop-opacity="0.320"/><stop offset="0.388" stop-color="#f00" stop-opacity="0.329"/><stop offset="0.424" stop-color="#f00" stop-opacity="0.337"/><stop offset="0.459" stop-color="#f00" stop-opacity="0.346"/><stop offset="0.494" stop-color="#f00" stop-opacity="0.355"/><stop offset="0.529" stop-color="#f00" stop-opacity="0.364"/><stop offset="0.565" stop-color="#f00" stop-opacity="0.372"/><stop offset="0.600" stop-color="#f00" stop-opacity="0.381"/><stop offset="0.635" stop-color="#f00" stop-opacity="0.390"/><stop offset="0.671" stop-color="#f00" stop-opacity="0.399"/><stop offset="0.706" stop-color="#f00" stop-opacity="0.391"/><stop offset="0.741" stop-color="#f00" stop-opacity="0.380"/><stop offset="0.776" stop-color="#f00" stop-opacity="0.369"/><stop offset="0.812" stop-color="#f00" stop-opacity="0.358"/><stop offset="0.847" stop-color="#f00" stop-opacity="0.347"/><stop offset="0.882" stop-color="#f00" stop-opacity="0.336"/><stop offset="0.918" stop-color="#f00" stop-opacity="0.325"/><stop offset="0.953" stop-color="#f00" stop-opacity="0.315"/><stop offset="0.988" stop-color="#f00" stop-opacity="0.304"/><stop offset="1.000" stop-color="#f00" stop-opacity="0.300"/></linearGradient>
<linearGradient id="g17" gradientUnits="userSpaceOnUse" x1="0" y1="870.0" x2="0" y2="965.6"><stop offset="0.000" stop-color="#f00" stop-opacity="0.200"/><stop offset="0.035" stop-color="#f00" stop-opacity="0.211"/><stop offset="0.071" stop-color="#f00" stop-opacity="0.222"/><stop offset="0.106" stop-color="#f00" stop-opacity="0.233"/><stop offset="0.141" stop-color="#f00" stop-opacity="0.244"/><stop offset="0.176" stop-color="#f00" stop-opacity="0.255"/><stop offset="0.212" stop-color="#f00" stop-opacity="0.265"/><stop offset="0.247" stop-color="#f00" stop-opacity="0.276"/><stop offset="0.282" stop-color="#f00" stop-opacity="0.287"/><stop offset="0.318" stop-color="#f00" stop-opacity="0.298"/><stop offset="0.353" stop-color="#f00" stop-opacity="0.307"/><stop offset="0.388" stop-color="#f00" stop-opacity="0.315"/><stop offset="0.424" stop-color="#f00" stop-opacity="0.323"/><stop offset="0.459" stop-color="#f00" stop-opacity="0.331"/><stop offset="0.494" stop-color="#f00" stop-opacity="0.339"/><stop offset="0.529" stop-color="#f00" stop-opacity="0.347"/><stop offset="0.565" stop-color="#f00" stop-opacity="0.355"/><stop offset="0.600" stop-color="#f00" stop-opacity="0.363"/><stop offset="0.635" stop-color="#f00" stop-opacity="0.371"/><stop offset="0.671" stop-color="#f00" stop-opacity="0.368"/><stop offset="0.706" stop-color="#f00" stop-opacity="0.359"/><stop offset="0.741" stop-color="#f00" stop-opacity="0.350"/><stop offset="0.776" stop-color="#f00" stop-opacity="0.342"/><stop offset="0.812" stop-color="#f00" stop-opacity="0.333"/><stop offset="0.847" stop-color="#f00" stop-opacity="0.324"/><stop offset="0.882" stop-color="#f00" stop-opacity="0.316"/><stop offset="0.918" stop-color="#f00" stop-opacity="0.307"/><stop offset="0.953" stop-color="#f00" stop-opacity="0.298"/><stop offset="0.988" stop-color="#f00" stop-opacity="0.290"/><stop offset="1.000" stop-color="#f00" stop-opacity="0.287"/></linearGradient>
<linearGradient id="g18" gradientUnits="userSpaceOnUse" x1="0" y1="870.0" x2="0" y2="1185.0"><stop offset="0.000" stop-color="#f00" stop-opacity="0.133"/><stop offset="0.011" stop-color="#f00" stop-opacity="0.143"/><stop offset="0.021" stop-color="#f00" stop-opacity="0.153"/><stop offset="0.032" stop-color="#f00" stop-opacity="0.162"/><stop offset="0.043" stop-color="#f00" stop-opacity="0.172"/><stop offset="0.054" stop-color="#f00" stop-opacity="0.181"/><stop offset="0.064" stop-color="#f00" stop-opacity="0.191"/><stop offset="0.075" stop-color="#f00" stop-opacity="0.201"/><stop offset="0.086" stop-color="#f00" stop-opacity="0.210"/><stop offset="0.096" stop-color="#f00" stop-opacity="0.221"/><stop offset="0.107" stop-color="#f00" stop-opacity="0.233"/><stop offset="0.118" stop-color="#f00" stop-opacity="0.245"/><stop offset="0.129" stop-color="#f00" stop-opacity="0.257"/><stop offset="0.139" stop-color="#f00" stop-opacity="0.269"/><stop offset="0.150" stop-color="#f00" stop-opacity="0.281"/><stop offset="0.161" stop-color="#f00" stop-opacity="0.293"/><stop offset="0.171" stop-color="#f00" stop-opacity="0.305"/><stop offset="0.182" stop-color="#f00" stop-opacity="0.317"/><stop offset="0.193" stop-color="#f00" stop-opacity="0.326"/><stop offset="0.204" stop-color="#f00" stop-opacity="0.336"/><stop offset="0.214" stop-color="#f00" stop-opacity="0.346"/><stop offset="0.225" stop-color="#f00" stop-opacity="0.356"/><stop offset="0.236" stop-color="#f00" stop-opacity="0.366"/><stop offset="0.246" stop-color="#f00" stop-opacity="0.376"/><stop offset="0.257" stop-color="#f00" stop-opacity="0.386"/><stop offset="0.268" stop-color="#f00" stop-opacity="0.395"/><stop offset="0.279" stop-color="#f00" stop-opacity="0.405"/><stop offset="0.289" stop-color="#f00" stop-opacity="0.415"/><stop offset="0.300" stop-color="#f00" stop-opacity="0.417"/><stop offset="0.311" stop-color="#f00" stop-opacity="0.411"/><stop offset="0.321" stop-color="#f00" stop-opacity="0.405"/><stop offset="0.332" stop-color="#f00" stop-opacity="0.399"/><stop offset="0.343" stop-color="#f00" stop-opacity="0.393"/><stop offset="0.354" stop-color="#f00" stop-opacity="0.387"/><stop offset="0.364" stop-color="#f00" stop-opacity="0.381"/><stop offset="0.375" stop-color="#f00" stop-opacity="0.375"/><stop offset="0.386" stop-color="#f00" stop-opacity="0.369"/><stop offset="0.396" stop-color="#f00" stop-opacity="0.363"/><stop offset="0.407" stop-color="#f00" stop-opacity="0.362"/><stop offset="0.418" stop-color="#f00" stop-opacity="0.367"/><stop offset="0.429" stop-color="#f00" stop-opacity="0.371"/><stop offset="0.439" stop-color="#f00" stop-opacity="0.376"/><stop offset="0.450" stop-color="#f00" stop-opacity="0.381"/><stop offset="0.461" stop-color="#f00" stop-opacity="0.385"/><stop offset="0.471" stop-color="#f00" stop-opacity="0.391"/><stop offset="0.482" stop-color="#f00" stop-opacity="0.398"/><stop offset="0.493" stop-color="#f00" stop-opacity="0.404"/><stop offset="0.504" stop-color="#f00" stop-opacity="0.411"/><stop offset="0.514" stop-color="#f00" stop-opacity="0.418"/><stop offset="0.525" stop-color="#f00" stop-opacity="0.424"/><stop offset="0.536" stop-color="#f00" stop-opacity="0.431"/><stop offset="0.546" stop-color="#f00" stop-opacity="0.438"/><stop offset="0.557" stop-color="#f00" stop-opacity="0.444"/><stop offset="0.568" stop-color="#f00" stop-opacity="0.451"/><stop offset="0.579" stop-color="#f00" stop-opacity="0.449"/><stop offset="0.589" stop-color="#f00" stop-opacity="0.443"/><stop offset="0.600" stop-color="#f00" stop-opacity="0.437"/><stop offset="0.611" stop-color="#f00" stop-opacity="0.431"/><stop offset="0.621" stop-color="#f00" stop-opacity="0.425"/><stop offset="0.632" stop-color="#f00" stop-opacity="0.419"/><stop offset="0.643" stop-color="#f00" stop-opacity="0.413"/><stop offset="0.654" stop-color="#f00" stop-opacity="0.407"/><stop offset="0.664" stop-color="#f00" stop-opacity="0.401"/><stop offset="0.675" stop-color="#f00" stop-opacity="0.395"/><stop offset="0.686" stop-color="#f00" stop-opacity="0.389"/><stop offset="0.696" stop-color="#f00" stop-opacity="0.383"/><stop offset="0.707" stop-color="#f00" stop-opacity="0.377"/><stop offset="0.718" stop-color="#f00" stop-opacity="0.372"/><stop offset="0.729" stop-color="#f00" stop-opacity="0.366"/><stop offset="0.739" stop-color="#f00" stop-opacity="0.361"/><stop offset="0.750" stop-color="#f00" stop-opacity="0.356"/><stop offset="0.761" stop-color="#f00" stop-opacity="0.350"/><stop offset="0.771" stop-color="#f00" stop-opacity="0.345"/><stop offset="0.782" stop-color="#f00" stop-opacity="0.340"/><stop offset="0.793" stop-color="#f00" stop-opacity="0.334"/><stop offset="0.804" stop-color="#f00" stop-opacity="0.329"/><stop offset="0.814" stop-color="#f00" stop-opacity="0.324"/><stop offset="0.825" stop-color="#f00" stop-opacity="0.318"/><stop offset="0.836" stop-color="#f00" stop-opacity="0.313"/><stop offset="0.846" stop-color="#f00" stop-opacity="0.308"/><stop offset="0.857" stop-color="#f00" stop-opacity="0.299"/><stop offset="0.868" stop-color="#f00" stop-opacity="0.291"/><stop offset="0.879" stop-color="#f00" stop-opacity="0.282"/><stop offset="0.889" stop-color="#f00" stop-opacity="0.273"/><stop offset="0.900" stop-color="#f00" stop-opacity="0.264"/><stop offset="0.911" stop-color="#f00" stop-opacity="0.256"/><stop offset="0.921" stop-color="#f00" stop-opacity="0.247"/><stop offset="0.932" stop-color="#f00" stop-opacity="0.238"/><stop offset="0.943" stop-color="#f00" stop-opacity="0.230"/><stop offset="0.954" stop-color="#f00" stop-opacity="0.223"/><stop offset="0.964" stop-color="#f00" stop-opacity="0.218"/><stop offset="0.975" stop-color="#f00" stop-opacity="0.212"/><stop offset="0.986" stop-color="#f00" stop-opacity="0.207"/><stop offset="0.996" stop-color="#f00" stop-opacity="0.202"/><stop offset="1.000" stop-color="#f00" stop-opacity="0.200"/></linearGradient>
<linearGradient id="g19" gradientUnits="userSpaceOnUse" x1="0" y1="1066.6" x2="0" y2="1193.2"><stop offset="0.000" stop-color="#f00" stop-opacity="0.080"/><stop offset="0.254" stop-color="#f00" stop-opacity="0.147"/><stop offset="0.763" stop-color="#f00" stop-opacity="0.147"/><stop offset="1.000" stop-color="#f00" stop-opacity="0.100"/></linearGradient>
<linearGradient id="g22" gradientUnits="userSpaceOnUse" x1="0" y1="1031.7" x2="0" y2="1141.4"><stop offset="0.000" stop-color="#f00" stop-opacity="0.200"/><stop offset="0.295" stop-color="#f00" stop-opacity="0.287"/><stop offset="0.654" stop-color="#f00" stop-opacity="0.287"/><stop offset="1.000" stop-color="#f00" stop-opacity="0.200"/></linearGradient>
<linearGradient id="g23" gradientUnits="userSpaceOnUse" x1="0" y1="1066.9" x2="0" y2="1111.9"><stop offset="0.000" stop-color="#f00" stop-opacity="0.240"/><stop offset="0.500" stop-color="#f00" stop-opacity="0.253"/><stop offset="1.000" stop-color="#f00" stop-opacity="0.200"/></linearGradient>
<linearGradient id="g24" gradientUnits="userSpaceOnUse" x1="0" y1="1066.9" x2="0" y2="1196.3"><stop offset="0.000" stop-color="#f00" stop-opacity="0.180"/><stop offset="0.261" stop-color="#f00" stop-opacity="0.227"/><stop offset="0.478" stop-color="#f00" stop-opacity="0.253"/><stop offset="0.761" stop-color="#f00" stop-opacity="0.187"/><stop offset="1.000" stop-color="#f00" stop-opacity="0.133"/></linearGradient>
<linearGradient id="g25" gradientUnits="userSpaceOnUse" x1="0" y1="1050.0" x2="0" y2="1197.7"><stop offset="0.000" stop-color="#f00" stop-opacity="0.147"/><stop offset="0.267" stop-color="#f00" stop-opacity="0.167"/><stop offset="0.533" stop-color="#f00" stop-opacity="0.213"/><stop offset="0.781" stop-color="#f00" stop-opacity="0.173"/><stop offset="1.000" stop-color="#f00" stop-opacity="0.133"/></linearGradient>
<linearGradient id="g26" gradientUnits="userSpaceOnUse" x1="0" y1="1066.9" x2="0" y2="1199.1"><stop offset="0.000" stop-color="#f00" stop-opacity="0.147"/><stop offset="0.426" stop-color="#f00" stop-opacity="0.180"/><stop offset="0.745" stop-color="#f00" stop-opacity="0.160"/><stop offset="1.000" stop-color="#f00" stop-opacity="0.133"/></linearGradient>
<linearGradient id="g27" gradientUnits="userSpaceOnUse" x1="0" y1="988.1" x2="0" y2="1182.2"><stop offset="0.000" stop-color="#f00" stop-opacity="0.120"/><stop offset="0.261" stop-color="#f00" stop-opacity="0.160"/><stop offset="0.623" stop-color="#f00" stop-opacity="0.160"/><stop offset="1.000" stop-color="#f00" stop-opacity="0.133"/></linearGradient>
<radialGradient id="rg"><stop offset="0" stop-color="#f00" stop-opacity="1"/><stop offset=".5" stop-color="#f00" stop-opacity=".94"/><stop offset=".78" stop-color="#f00" stop-opacity=".7"/><stop offset="1" stop-color="#f00" stop-opacity=".42"/></radialGradient>
<linearGradient id="n29" gradientUnits="userSpaceOnUse" x1="0" y1="870.0" x2="0" y2="1235.6"><stop offset="0.000" stop-color="#0f0" stop-opacity="0.315"/><stop offset="0.692" stop-color="#0f0" stop-opacity="0.315"/><stop offset="0.808" stop-color="#0f0" stop-opacity="0.236"/><stop offset="0.885" stop-color="#0f0" stop-opacity="0.173"/><stop offset="0.942" stop-color="#0f0" stop-opacity="0.126"/><stop offset="1.000" stop-color="#0f0" stop-opacity="0.095"/></linearGradient>
<linearGradient id="n30" gradientUnits="userSpaceOnUse" x1="0" y1="870.0" x2="0" y2="1235.6"><stop offset="0.000" stop-color="#0f0" stop-opacity="0.182"/><stop offset="0.692" stop-color="#0f0" stop-opacity="0.182"/><stop offset="0.808" stop-color="#0f0" stop-opacity="0.137"/><stop offset="0.885" stop-color="#0f0" stop-opacity="0.100"/><stop offset="0.942" stop-color="#0f0" stop-opacity="0.073"/><stop offset="1.000" stop-color="#0f0" stop-opacity="0.055"/></linearGradient>
<linearGradient id="n31" gradientUnits="userSpaceOnUse" x1="0" y1="870.0" x2="0" y2="1235.6"><stop offset="0.000" stop-color="#0f0" stop-opacity="0.105"/><stop offset="0.692" stop-color="#0f0" stop-opacity="0.105"/><stop offset="0.808" stop-color="#0f0" stop-opacity="0.079"/><stop offset="0.885" stop-color="#0f0" stop-opacity="0.058"/><stop offset="0.942" stop-color="#0f0" stop-opacity="0.042"/><stop offset="1.000" stop-color="#0f0" stop-opacity="0.032"/></linearGradient>
<linearGradient id="n32" gradientUnits="userSpaceOnUse" x1="0" y1="870.0" x2="0" y2="1235.6"><stop offset="0.000" stop-color="#0f0" stop-opacity="0.338"/><stop offset="0.692" stop-color="#0f0" stop-opacity="0.338"/><stop offset="0.808" stop-color="#0f0" stop-opacity="0.253"/><stop offset="0.885" stop-color="#0f0" stop-opacity="0.186"/><stop offset="0.942" stop-color="#0f0" stop-opacity="0.135"/><stop offset="1.000" stop-color="#0f0" stop-opacity="0.101"/></linearGradient>
<linearGradient id="n33" gradientUnits="userSpaceOnUse" x1="0" y1="870.0" x2="0" y2="1235.6"><stop offset="0.000" stop-color="#0f0" stop-opacity="0.195"/><stop offset="0.692" stop-color="#0f0" stop-opacity="0.195"/><stop offset="0.808" stop-color="#0f0" stop-opacity="0.146"/><stop offset="0.885" stop-color="#0f0" stop-opacity="0.107"/><stop offset="0.942" stop-color="#0f0" stop-opacity="0.078"/><stop offset="1.000" stop-color="#0f0" stop-opacity="0.058"/></linearGradient>
<linearGradient id="n34" gradientUnits="userSpaceOnUse" x1="0" y1="870.0" x2="0" y2="1235.6"><stop offset="0.000" stop-color="#0f0" stop-opacity="0.112"/><stop offset="0.692" stop-color="#0f0" stop-opacity="0.112"/><stop offset="0.808" stop-color="#0f0" stop-opacity="0.084"/><stop offset="0.885" stop-color="#0f0" stop-opacity="0.062"/><stop offset="0.942" stop-color="#0f0" stop-opacity="0.045"/><stop offset="1.000" stop-color="#0f0" stop-opacity="0.034"/></linearGradient>
<linearGradient id="n35" gradientUnits="userSpaceOnUse" x1="0" y1="870.0" x2="0" y2="1235.6"><stop offset="0.000" stop-color="#0f0" stop-opacity="0.450"/><stop offset="0.692" stop-color="#0f0" stop-opacity="0.450"/><stop offset="0.808" stop-color="#0f0" stop-opacity="0.338"/><stop offset="0.885" stop-color="#0f0" stop-opacity="0.248"/><stop offset="0.942" stop-color="#0f0" stop-opacity="0.180"/><stop offset="1.000" stop-color="#0f0" stop-opacity="0.135"/></linearGradient>
<linearGradient id="n36" gradientUnits="userSpaceOnUse" x1="0" y1="870.0" x2="0" y2="1235.6"><stop offset="0.000" stop-color="#0f0" stop-opacity="0.260"/><stop offset="0.692" stop-color="#0f0" stop-opacity="0.260"/><stop offset="0.808" stop-color="#0f0" stop-opacity="0.195"/><stop offset="0.885" stop-color="#0f0" stop-opacity="0.143"/><stop offset="0.942" stop-color="#0f0" stop-opacity="0.104"/><stop offset="1.000" stop-color="#0f0" stop-opacity="0.078"/></linearGradient>
<linearGradient id="n37" gradientUnits="userSpaceOnUse" x1="0" y1="870.0" x2="0" y2="1235.6"><stop offset="0.000" stop-color="#0f0" stop-opacity="0.150"/><stop offset="0.692" stop-color="#0f0" stop-opacity="0.150"/><stop offset="0.808" stop-color="#0f0" stop-opacity="0.112"/><stop offset="0.885" stop-color="#0f0" stop-opacity="0.083"/><stop offset="0.942" stop-color="#0f0" stop-opacity="0.060"/><stop offset="1.000" stop-color="#0f0" stop-opacity="0.045"/></linearGradient>
<linearGradient id="n38" gradientUnits="userSpaceOnUse" x1="0" y1="870.0" x2="0" y2="1235.6"><stop offset="0.000" stop-color="#0f0" stop-opacity="0.405"/><stop offset="0.692" stop-color="#0f0" stop-opacity="0.405"/><stop offset="0.808" stop-color="#0f0" stop-opacity="0.304"/><stop offset="0.885" stop-color="#0f0" stop-opacity="0.223"/><stop offset="0.942" stop-color="#0f0" stop-opacity="0.162"/><stop offset="1.000" stop-color="#0f0" stop-opacity="0.121"/></linearGradient>
<linearGradient id="n39" gradientUnits="userSpaceOnUse" x1="0" y1="870.0" x2="0" y2="1235.6"><stop offset="0.000" stop-color="#0f0" stop-opacity="0.234"/><stop offset="0.692" stop-color="#0f0" stop-opacity="0.234"/><stop offset="0.808" stop-color="#0f0" stop-opacity="0.176"/><stop offset="0.885" stop-color="#0f0" stop-opacity="0.129"/><stop offset="0.942" stop-color="#0f0" stop-opacity="0.094"/><stop offset="1.000" stop-color="#0f0" stop-opacity="0.070"/></linearGradient>
<linearGradient id="n40" gradientUnits="userSpaceOnUse" x1="0" y1="870.0" x2="0" y2="1235.6"><stop offset="0.000" stop-color="#0f0" stop-opacity="0.135"/><stop offset="0.692" stop-color="#0f0" stop-opacity="0.135"/><stop offset="0.808" stop-color="#0f0" stop-opacity="0.101"/><stop offset="0.885" stop-color="#0f0" stop-opacity="0.074"/><stop offset="0.942" stop-color="#0f0" stop-opacity="0.054"/><stop offset="1.000" stop-color="#0f0" stop-opacity="0.041"/></linearGradient>
<clipPath id="cc"><rect x="213.5" y="888.0" width="2298.5" height="329.0"/></clipPath>
<linearGradient id="cbar" x1="0" y1="1" x2="0" y2="0">
<stop offset="0.0000" stop-color="#302a62"/><stop offset="0.0312" stop-color="#302a62"/>
<stop offset="0.0312" stop-color="#312b6c"/><stop offset="0.0625" stop-color="#312b6c"/>
<stop offset="0.0625" stop-color="#33327f"/><stop offset="0.0938" stop-color="#33327f"/>
<stop offset="0.0938" stop-color="#353c93"/><stop offset="0.1250" stop-color="#353c93"/>
<stop offset="0.1250" stop-color="#38479e"/><stop offset="0.1562" stop-color="#38479e"/>
<stop offset="0.1562" stop-color="#3a51a3"/><stop offset="0.1875" stop-color="#3a51a3"/>
<stop offset="0.1875" stop-color="#3c5ca9"/><stop offset="0.2188" stop-color="#3c5ca9"/>
<stop offset="0.2188" stop-color="#3d6bb3"/><stop offset="0.2500" stop-color="#3d6bb3"/>
<stop offset="0.2500" stop-color="#3e7dc0"/><stop offset="0.2812" stop-color="#3e7dc0"/>
<stop offset="0.2812" stop-color="#3f98d7"/><stop offset="0.3125" stop-color="#3f98d7"/>
<stop offset="0.3125" stop-color="#48b2e7"/><stop offset="0.3438" stop-color="#48b2e7"/>
<stop offset="0.3438" stop-color="#57c2e7"/><stop offset="0.3750" stop-color="#57c2e7"/>
<stop offset="0.3750" stop-color="#66c2c8"/><stop offset="0.4062" stop-color="#66c2c8"/>
<stop offset="0.4062" stop-color="#67c1ae"/><stop offset="0.4375" stop-color="#67c1ae"/>
<stop offset="0.4375" stop-color="#69c096"/><stop offset="0.4688" stop-color="#69c096"/>
<stop offset="0.4688" stop-color="#6bc07c"/><stop offset="0.5000" stop-color="#6bc07c"/>
<stop offset="0.5000" stop-color="#74c168"/><stop offset="0.5312" stop-color="#74c168"/>
<stop offset="0.5312" stop-color="#82c25a"/><stop offset="0.5625" stop-color="#82c25a"/>
<stop offset="0.5625" stop-color="#99c84e"/><stop offset="0.5938" stop-color="#99c84e"/>
<stop offset="0.5938" stop-color="#b4d140"/><stop offset="0.6250" stop-color="#b4d140"/>
<stop offset="0.6250" stop-color="#d4e32d"/><stop offset="0.6562" stop-color="#d4e32d"/>
<stop offset="0.6562" stop-color="#ebd424"/><stop offset="0.6875" stop-color="#ebd424"/>
<stop offset="0.6875" stop-color="#f8bb25"/><stop offset="0.7188" stop-color="#f8bb25"/>
<stop offset="0.7188" stop-color="#f79c2f"/><stop offset="0.7500" stop-color="#f79c2f"/>
<stop offset="0.7500" stop-color="#f17c29"/><stop offset="0.7812" stop-color="#f17c29"/>
<stop offset="0.7812" stop-color="#ef5d23"/><stop offset="0.8125" stop-color="#ef5d23"/>
<stop offset="0.8125" stop-color="#eb4720"/><stop offset="0.8438" stop-color="#eb4720"/>
<stop offset="0.8438" stop-color="#e83820"/><stop offset="0.8750" stop-color="#e83820"/>
<stop offset="0.8750" stop-color="#e92a22"/><stop offset="0.9062" stop-color="#e92a22"/>
<stop offset="0.9062" stop-color="#cf222a"/><stop offset="0.9375" stop-color="#cf222a"/>
<stop offset="0.9375" stop-color="#ab2029"/><stop offset="0.9688" stop-color="#ab2029"/>
<stop offset="0.9688" stop-color="#891e1b"/><stop offset="1.0000" stop-color="#891e1b"/>
</linearGradient>
</defs>
<g clip-path="url(#cc)"><g filter="url(#cm)">
<rect x="185.0" y="859.0" width="2356.0" height="388.0" fill="#000"/>
<g filter="url(#b3)"><path d="M227.3 1057.2L222.2 1059.1L220.5 1061.0L219.5 1062.8L218.9 1064.7L218.7 1066.6L218.7 1069.6L218.7 1072.6L218.7 1075.6L218.7 1078.6L218.6 1081.6L218.6 1084.6L218.6 1087.6L218.6 1090.6L218.6 1093.6L218.7 1096.6L218.8 1099.6L218.8 1102.6L218.9 1105.6L219.0 1108.6L219.0 1111.6L219.1 1114.6L219.2 1117.6L219.2 1120.6L219.3 1123.6L219.3 1126.6L219.4 1129.6L219.4 1132.6L219.4 1135.6L219.5 1138.6L219.5 1141.6L219.5 1144.6L219.5 1147.6L219.6 1150.6L219.6 1153.6L219.6 1156.6L219.6 1159.6L219.6 1162.6L219.6 1165.6L219.6 1168.6L219.7 1171.6L219.8 1174.6L219.9 1177.6L220.0 1180.6L220.1 1183.6L220.2 1186.6L220.3 1189.6L220.4 1192.6L220.5 1193.2L220.7 1195.4L221.3 1197.7L222.5 1199.9L224.6 1202.2L230.8 1204.5L230.8 1204.5L236.9 1202.2L239.0 1199.9L240.2 1197.7L240.8 1195.4L241.0 1193.2L241.1 1192.6L241.2 1189.6L241.3 1186.6L241.4 1183.6L241.5 1180.6L241.6 1177.6L241.7 1174.6L241.8 1171.6L241.9 1168.6L241.9 1165.6L241.9 1162.6L241.9 1159.6L241.9 1156.6L241.9 1153.6L241.9 1150.6L241.8 1147.6L241.8 1144.6L241.8 1141.6L241.8 1138.6L241.7 1135.6L241.7 1132.6L241.7 1129.6L241.6 1126.6L241.6 1123.6L241.5 1120.6L241.5 1117.6L241.4 1114.6L241.3 1111.6L241.3 1108.6L241.2 1105.6L241.1 1102.6L241.1 1099.6L241.0 1096.6L240.7 1093.6L240.4 1090.6L240.0 1087.6L239.5 1084.6L239.0 1081.6L238.4 1078.6L237.8 1075.6L237.2 1072.6L236.5 1069.6L235.9 1066.6L235.7 1064.7L235.2 1062.8L234.2 1061.0L232.5 1059.1L227.3 1057.2Z" fill="url(#g19)"/><path d="M292.5 1111.1L286.3 1113.3L284.3 1115.6L283.1 1117.9L282.4 1120.1L282.2 1122.4L282.2 1125.4L282.2 1128.4L282.2 1131.4L282.2 1134.4L282.2 1137.4L282.2 1140.4L282.2 1143.4L282.2 1146.4L282.2 1149.4L282.2 1152.4L282.2 1155.4L282.2 1156.7L282.4 1159.0L283.1 1161.2L284.3 1163.5L286.3 1165.8L292.5 1168.0L292.5 1168.0L298.7 1165.8L300.8 1163.5L301.9 1161.2L302.6 1159.0L302.8 1156.7L302.8 1155.4L302.8 1152.4L302.8 1149.4L302.8 1146.4L302.8 1143.4L302.8 1140.4L302.8 1137.4L302.8 1134.4L302.8 1131.4L302.8 1128.4L302.8 1125.4L302.8 1122.4L302.6 1120.1L301.9 1117.9L300.8 1115.6L298.7 1113.3L292.5 1111.1Z" fill="#f00" fill-opacity="0.073"/><path d="M752.7 1113.9L748.1 1115.6L746.6 1117.3L745.7 1119.0L745.2 1120.7L745.0 1122.4L745.0 1125.4L745.0 1128.4L745.0 1131.4L745.0 1134.4L745.0 1137.4L745.0 1140.4L745.0 1143.4L745.0 1146.4L745.0 1149.4L745.0 1152.4L745.2 1154.1L745.7 1155.8L746.6 1157.5L748.1 1159.2L752.7 1160.9L752.7 1160.9L757.4 1159.2L758.9 1157.5L759.8 1155.8L760.3 1154.1L760.5 1152.4L760.5 1149.4L760.5 1146.4L760.5 1143.4L760.5 1140.4L760.5 1137.4L760.5 1134.4L760.5 1131.4L760.5 1128.4L760.5 1125.4L760.5 1122.4L760.3 1120.7L759.8 1119.0L758.9 1117.3L757.4 1115.6L752.7 1113.9Z" fill="#f00" fill-opacity="0.040"/><path d="M2447.2 1102.0L2444.8 1102.8L2444.0 1103.7L2443.6 1104.6L2443.3 1105.4L2443.2 1106.3L2443.4 1109.3L2443.5 1112.3L2443.7 1115.3L2443.8 1118.3L2444.0 1121.3L2444.1 1124.3L2444.3 1127.3L2444.4 1130.3L2444.6 1133.3L2444.7 1136.3L2444.9 1139.3L2444.9 1140.0L2445.0 1140.9L2445.3 1141.8L2445.7 1142.6L2446.5 1143.5L2448.9 1144.4L2448.9 1144.4L2451.2 1143.5L2452.0 1142.6L2452.5 1141.8L2452.7 1140.9L2452.8 1140.0L2452.8 1139.3L2452.6 1136.3L2452.5 1133.3L2452.3 1130.3L2452.2 1127.3L2452.0 1124.3L2451.9 1121.3L2451.7 1118.3L2451.6 1115.3L2451.4 1112.3L2451.3 1109.3L2451.1 1106.3L2451.0 1105.4L2450.8 1104.6L2450.3 1103.7L2449.5 1102.8L2447.2 1102.0Z" fill="#f00" fill-opacity="0.047"/><ellipse cx="1815.2" cy="965.6" rx="14.3" ry="38.0" transform="rotate(0.0 1815.2 965.6)" fill="url(#rg)" opacity="0.238"/><ellipse cx="1846.1" cy="955.8" rx="14.3" ry="42.2" transform="rotate(0.0 1846.1 955.8)" fill="url(#rg)" opacity="0.253"/><ellipse cx="1875.6" cy="950.2" rx="14.3" ry="53.4" transform="rotate(0.0 1875.6 950.2)" fill="url(#rg)" opacity="0.261"/><ellipse cx="1905.2" cy="961.4" rx="15.5" ry="64.7" transform="rotate(1.0 1905.2 961.4)" fill="url(#rg)" opacity="0.299"/><ellipse cx="1938.9" cy="975.5" rx="16.0" ry="67.5" transform="rotate(1.5 1938.9 975.5)" fill="url(#rg)" opacity="0.337"/><ellipse cx="1973.5" cy="996.6" rx="16.6" ry="63.3" transform="rotate(3.0 1973.5 996.6)" fill="url(#rg)" opacity="0.352"/><ellipse cx="2009.3" cy="1005.0" rx="16.6" ry="66.1" transform="rotate(2.0 2009.3 1005.0)" fill="url(#rg)" opacity="0.375"/><ellipse cx="2049.5" cy="1041.6" rx="17.2" ry="94.2" transform="rotate(1.0 2049.5 1041.6)" fill="url(#rg)" opacity="0.406"/><ellipse cx="2096.5" cy="1050.0" rx="16.6" ry="91.4" transform="rotate(-3.0 2096.5 1050.0)" fill="url(#rg)" opacity="0.383"/><ellipse cx="2142.9" cy="1055.7" rx="16.0" ry="91.4" transform="rotate(-8.0 2142.9 1055.7)" fill="url(#rg)" opacity="0.291"/><ellipse cx="1936.1" cy="1118.9" rx="18.3" ry="38.0" transform="rotate(0.0 1936.1 1118.9)" fill="url(#rg)" opacity="0.079"/><ellipse cx="2178.5" cy="1005.0" rx="14.3" ry="49.2" transform="rotate(-4.0 2178.5 1005.0)" fill="url(#rg)" opacity="0.215"/><ellipse cx="2214.5" cy="993.8" rx="14.6" ry="38.0" transform="rotate(0.0 2214.5 993.8)" fill="url(#rg)" opacity="0.162"/><ellipse cx="2251.1" cy="991.0" rx="12.4" ry="39.4" transform="rotate(-1.0 2251.1 991.0)" fill="url(#rg)" opacity="0.141"/><ellipse cx="2288.5" cy="1007.8" rx="12.4" ry="30.9" transform="rotate(-3.0 2288.5 1007.8)" fill="url(#rg)" opacity="0.132"/><ellipse cx="2333.5" cy="1024.7" rx="12.9" ry="35.2" transform="rotate(-1.0 2333.5 1024.7)" fill="url(#rg)" opacity="0.132"/></g>
<g filter="url(#b4)"><path d="M1839.6 1022.5L1834.6 1024.3L1832.9 1026.2L1831.9 1028.0L1831.4 1029.9L1831.2 1031.7L1831.8 1034.7L1832.3 1037.7L1832.9 1040.7L1833.6 1043.7L1834.2 1046.7L1834.9 1049.7L1835.7 1052.7L1836.5 1055.7L1837.5 1058.7L1838.5 1061.7L1839.6 1064.7L1840.7 1067.7L1841.9 1070.7L1843.0 1073.7L1844.2 1076.7L1845.3 1079.7L1846.5 1082.7L1847.6 1085.7L1848.8 1088.7L1850.0 1091.7L1851.2 1094.7L1852.4 1097.7L1853.7 1100.7L1854.9 1103.7L1856.3 1106.7L1857.7 1109.7L1859.1 1112.7L1860.6 1115.7L1862.2 1118.7L1863.9 1121.7L1865.6 1124.7L1867.3 1127.7L1869.1 1130.7L1870.9 1133.7L1872.7 1136.7L1874.6 1139.7L1875.6 1141.4L1875.8 1143.4L1876.4 1145.4L1877.4 1147.4L1879.2 1149.4L1884.6 1151.4L1884.6 1151.4L1890.0 1149.4L1891.8 1147.4L1892.9 1145.4L1893.5 1143.4L1893.6 1141.4L1893.0 1139.7L1892.0 1136.7L1890.9 1133.7L1889.9 1130.7L1888.8 1127.7L1887.7 1124.7L1886.7 1121.7L1885.6 1118.7L1884.5 1115.7L1883.3 1112.7L1882.1 1109.7L1880.9 1106.7L1879.7 1103.7L1878.4 1100.7L1877.2 1097.7L1876.0 1094.7L1874.8 1091.7L1873.6 1088.7L1872.4 1085.7L1871.2 1082.7L1870.1 1079.7L1868.9 1076.7L1867.8 1073.7L1866.6 1070.7L1865.5 1067.7L1864.4 1064.7L1863.2 1061.7L1861.9 1058.7L1860.6 1055.7L1859.1 1052.7L1857.7 1049.7L1856.1 1046.7L1854.6 1043.7L1853.0 1040.7L1851.3 1037.7L1849.7 1034.7L1848.1 1031.7L1847.9 1029.9L1847.4 1028.0L1846.4 1026.2L1844.7 1024.3L1839.6 1022.5Z" fill="url(#g22)"/><path d="M2003.6 1058.9L1999.2 1060.5L1997.8 1062.1L1996.9 1063.7L1996.5 1065.3L1996.3 1066.9L1995.8 1069.9L1995.2 1072.9L1994.6 1075.9L1994.1 1078.9L1993.5 1081.9L1992.9 1084.9L1992.4 1087.9L1991.8 1090.9L1991.3 1093.9L1990.9 1096.9L1990.4 1099.9L1990.1 1102.9L1989.7 1105.9L1989.3 1108.9L1989.0 1111.9L1989.1 1113.3L1989.5 1114.6L1990.2 1116.0L1991.5 1117.4L1995.2 1118.7L1995.2 1118.7L1998.9 1117.4L2000.1 1116.0L2000.9 1114.6L2001.3 1113.3L2001.4 1111.9L2002.2 1108.9L2002.9 1105.9L2003.7 1102.9L2004.4 1099.9L2005.2 1096.9L2005.8 1093.9L2006.4 1090.9L2007.0 1087.9L2007.6 1084.9L2008.1 1081.9L2008.7 1078.9L2009.3 1075.9L2009.8 1072.9L2010.4 1069.9L2010.9 1066.9L2010.8 1065.3L2010.3 1063.7L2009.5 1062.1L2008.0 1060.5L2003.6 1058.9Z" fill="url(#g23)"/><path d="M2189.2 1057.6L2184.2 1059.5L2182.5 1061.3L2181.5 1063.2L2181.0 1065.0L2180.8 1066.9L2181.3 1069.9L2181.9 1072.9L2182.4 1075.9L2183.0 1078.9L2183.6 1081.9L2184.2 1084.9L2184.8 1087.9L2185.4 1090.9L2186.0 1093.9L2186.7 1096.9L2187.4 1099.9L2188.1 1102.9L2188.9 1105.9L2189.7 1108.9L2190.5 1111.9L2191.3 1114.9L2192.1 1117.9L2192.9 1120.9L2193.5 1123.9L2194.0 1126.9L2194.4 1129.9L2194.8 1132.9L2195.2 1135.9L2195.5 1138.9L2195.9 1141.9L2196.2 1144.9L2196.5 1147.9L2196.8 1150.9L2197.0 1153.9L2197.3 1156.9L2197.4 1159.9L2197.6 1162.9L2197.7 1165.9L2197.8 1168.9L2197.9 1171.9L2198.0 1174.9L2198.1 1177.9L2198.2 1180.9L2198.3 1183.9L2198.4 1186.9L2198.5 1189.9L2198.5 1192.9L2198.5 1195.9L2198.7 1198.9L2199.5 1201.5L2200.9 1204.1L2203.3 1206.7L2210.4 1209.3L2210.4 1209.3L2217.5 1206.7L2219.8 1204.1L2221.2 1201.5L2222.0 1198.9L2222.2 1195.9L2222.8 1192.9L2223.3 1189.9L2223.8 1186.9L2224.2 1183.9L2224.6 1180.9L2225.0 1177.9L2225.3 1174.9L2225.5 1171.9L2225.7 1168.9L2225.8 1165.9L2225.8 1162.9L2225.8 1159.9L2225.8 1156.9L2225.7 1153.9L2225.6 1150.9L2225.4 1147.9L2225.2 1144.9L2225.0 1141.9L2224.7 1138.9L2224.4 1135.9L2224.0 1132.9L2223.7 1129.9L2223.3 1126.9L2222.6 1123.9L2221.7 1120.9L2220.7 1117.9L2219.5 1114.9L2218.2 1111.9L2216.9 1108.9L2215.6 1105.9L2214.3 1102.9L2213.1 1099.9L2211.9 1096.9L2210.6 1093.9L2209.3 1090.9L2208.0 1087.9L2206.6 1084.9L2205.2 1081.9L2203.7 1078.9L2202.3 1075.9L2200.8 1072.9L2199.2 1069.9L2197.7 1066.9L2197.5 1065.0L2197.0 1063.2L2196.0 1061.3L2194.3 1059.5L2189.2 1057.6Z" fill="url(#g24)"/><path d="M2284.9 1040.1L2279.5 1042.1L2277.7 1044.1L2276.6 1046.1L2276.0 1048.0L2275.9 1050.0L2274.9 1053.0L2274.0 1056.0L2273.1 1059.0L2272.3 1062.0L2271.4 1065.0L2270.5 1068.0L2269.7 1071.0L2268.8 1074.0L2268.0 1077.0L2267.2 1080.0L2266.5 1083.0L2265.7 1086.0L2265.0 1089.0L2264.2 1092.0L2263.5 1095.0L2262.7 1098.0L2261.8 1101.0L2261.0 1104.0L2260.2 1107.0L2259.4 1110.0L2258.7 1113.0L2258.0 1116.0L2257.4 1119.0L2256.9 1122.0L2256.5 1125.0L2256.2 1128.0L2256.0 1131.0L2255.9 1134.0L2255.7 1137.0L2255.6 1140.0L2255.5 1143.0L2255.4 1146.0L2255.3 1149.0L2255.3 1152.0L2255.2 1155.0L2255.2 1158.0L2255.2 1161.0L2255.3 1164.0L2255.4 1167.0L2255.5 1170.0L2255.7 1173.0L2255.8 1176.0L2256.1 1179.0L2256.3 1182.0L2256.6 1185.0L2256.9 1188.0L2257.3 1191.0L2257.7 1194.0L2258.0 1197.0L2258.1 1197.7L2258.4 1200.3L2259.1 1202.9L2260.5 1205.5L2262.9 1208.1L2270.0 1210.7L2270.0 1210.7L2277.0 1208.1L2279.4 1205.5L2280.8 1202.9L2281.5 1200.3L2281.8 1197.7L2281.8 1197.0L2282.0 1194.0L2282.1 1191.0L2282.3 1188.0L2282.5 1185.0L2282.7 1182.0L2282.9 1179.0L2283.0 1176.0L2283.2 1173.0L2283.3 1170.0L2283.4 1167.0L2283.5 1164.0L2283.6 1161.0L2283.7 1158.0L2283.8 1155.0L2284.0 1152.0L2284.2 1149.0L2284.3 1146.0L2284.5 1143.0L2284.7 1140.0L2284.9 1137.0L2285.1 1134.0L2285.3 1131.0L2285.5 1128.0L2285.7 1125.0L2286.0 1122.0L2286.4 1119.0L2286.8 1116.0L2287.2 1113.0L2287.7 1110.0L2288.2 1107.0L2288.6 1104.0L2289.1 1101.0L2289.6 1098.0L2290.0 1095.0L2290.4 1092.0L2290.8 1089.0L2291.2 1086.0L2291.5 1083.0L2291.8 1080.0L2292.1 1077.0L2292.3 1074.0L2292.6 1071.0L2292.8 1068.0L2293.0 1065.0L2293.2 1062.0L2293.4 1059.0L2293.6 1056.0L2293.7 1053.0L2293.9 1050.0L2293.7 1048.0L2293.1 1046.1L2292.1 1044.1L2290.3 1042.1L2284.9 1040.1Z" fill="url(#g25)"/><path d="M2334.7 1055.8L2328.6 1058.0L2326.6 1060.2L2325.4 1062.5L2324.7 1064.7L2324.5 1066.9L2324.2 1069.9L2323.9 1072.9L2323.6 1075.9L2323.3 1078.9L2323.0 1081.9L2322.7 1084.9L2322.4 1087.9L2322.1 1090.9L2321.9 1093.9L2321.6 1096.9L2321.4 1099.9L2321.2 1102.9L2321.1 1105.9L2320.9 1108.9L2320.8 1111.9L2320.7 1114.9L2320.6 1117.9L2320.6 1120.9L2320.6 1123.9L2320.6 1126.9L2320.6 1129.9L2320.7 1132.9L2320.8 1135.9L2320.9 1138.9L2320.9 1141.9L2321.0 1144.9L2321.1 1147.9L2321.2 1150.9L2321.3 1153.9L2321.3 1156.9L2321.4 1159.9L2321.4 1162.9L2321.4 1165.9L2321.5 1168.9L2321.6 1171.9L2321.7 1174.9L2321.9 1177.9L2322.1 1180.9L2322.3 1183.9L2322.5 1186.9L2322.8 1189.9L2323.1 1192.9L2323.4 1195.9L2323.7 1198.9L2323.9 1201.7L2324.7 1204.3L2326.0 1206.9L2328.4 1209.5L2335.5 1212.1L2335.5 1212.1L2342.6 1209.5L2345.0 1206.9L2346.3 1204.3L2347.1 1201.7L2347.3 1198.9L2347.6 1195.9L2347.9 1192.9L2348.2 1189.9L2348.5 1186.9L2348.7 1183.9L2348.9 1180.9L2349.1 1177.9L2349.3 1174.9L2349.4 1171.9L2349.5 1168.9L2349.6 1165.9L2349.6 1162.9L2349.5 1159.9L2349.5 1156.9L2349.4 1153.9L2349.3 1150.9L2349.3 1147.9L2349.2 1144.9L2349.1 1141.9L2349.0 1138.9L2348.9 1135.9L2348.8 1132.9L2348.8 1129.9L2348.7 1126.9L2348.7 1123.9L2348.7 1120.9L2348.7 1117.9L2348.6 1114.9L2348.5 1111.9L2348.4 1108.9L2348.2 1105.9L2348.1 1102.9L2347.9 1099.9L2347.7 1096.9L2347.4 1093.9L2347.2 1090.9L2346.9 1087.9L2346.6 1084.9L2346.4 1081.9L2346.1 1078.9L2345.8 1075.9L2345.4 1072.9L2345.1 1069.9L2344.8 1066.9L2344.6 1064.7L2343.9 1062.5L2342.8 1060.2L2340.7 1058.0L2334.7 1055.8Z" fill="url(#g26)"/><path d="M2373.5 978.2L2368.1 980.2L2366.3 982.2L2365.2 984.2L2364.7 986.2L2364.5 988.1L2364.5 991.1L2364.5 994.1L2364.5 997.1L2364.5 1000.1L2364.6 1003.1L2364.6 1006.1L2364.7 1009.1L2364.8 1012.1L2364.8 1015.1L2364.9 1018.1L2365.0 1021.1L2365.2 1024.1L2365.3 1027.1L2365.5 1030.1L2365.7 1033.1L2365.9 1036.1L2366.2 1039.1L2366.5 1042.1L2366.7 1045.1L2367.0 1048.1L2367.3 1051.1L2367.5 1054.1L2367.8 1057.1L2368.1 1060.1L2368.4 1063.1L2368.6 1066.1L2368.9 1069.1L2369.2 1072.1L2369.5 1075.1L2369.8 1078.1L2370.1 1081.1L2370.5 1084.1L2370.8 1087.1L2371.1 1090.1L2371.5 1093.1L2371.8 1096.1L2372.2 1099.1L2372.6 1102.1L2373.0 1105.1L2373.3 1108.1L2373.8 1111.1L2374.2 1114.1L2374.6 1117.1L2375.0 1120.1L2375.5 1123.1L2376.0 1126.1L2376.4 1129.1L2376.9 1132.1L2377.4 1135.1L2377.9 1138.1L2378.4 1141.1L2378.9 1144.1L2379.5 1147.1L2380.0 1150.1L2380.6 1153.1L2381.1 1156.1L2381.7 1159.1L2382.3 1162.1L2382.9 1165.1L2383.5 1168.1L2384.1 1171.1L2384.7 1174.1L2385.3 1177.1L2386.0 1180.1L2386.4 1182.2L2386.7 1185.0L2387.4 1187.7L2388.9 1190.4L2391.4 1193.1L2398.8 1195.9L2398.8 1195.9L2406.2 1193.1L2408.7 1190.4L2410.1 1187.7L2410.9 1185.0L2411.2 1182.2L2410.9 1180.1L2410.5 1177.1L2410.1 1174.1L2409.7 1171.1L2409.4 1168.1L2409.0 1165.1L2408.6 1162.1L2408.2 1159.1L2407.8 1156.1L2407.4 1153.1L2407.0 1150.1L2406.6 1147.1L2406.2 1144.1L2405.9 1141.1L2405.5 1138.1L2405.1 1135.1L2404.7 1132.1L2404.3 1129.1L2403.9 1126.1L2403.5 1123.1L2403.1 1120.1L2402.7 1117.1L2402.3 1114.1L2401.9 1111.1L2401.5 1108.1L2401.1 1105.1L2400.7 1102.1L2400.3 1099.1L2399.9 1096.1L2399.5 1093.1L2399.1 1090.1L2398.7 1087.1L2398.3 1084.1L2397.9 1081.1L2397.5 1078.1L2397.1 1075.1L2396.6 1072.1L2396.2 1069.1L2395.8 1066.1L2395.4 1063.1L2395.0 1060.1L2394.6 1057.1L2394.2 1054.1L2393.8 1051.1L2393.4 1048.1L2392.9 1045.1L2392.5 1042.1L2392.1 1039.1L2391.7 1036.1L2391.2 1033.1L2390.7 1030.1L2390.2 1027.1L2389.7 1024.1L2389.1 1021.1L2388.6 1018.1L2388.0 1015.1L2387.4 1012.1L2386.8 1009.1L2386.2 1006.1L2385.6 1003.1L2385.0 1000.1L2384.4 997.1L2383.7 994.1L2383.1 991.1L2382.5 988.1L2382.3 986.2L2381.7 984.2L2380.7 982.2L2378.9 980.2L2373.5 978.2Z" fill="url(#g27)"/></g>
<g filter="url(#b7)"><path d="M1421.4 870.0L1419.9 874.0L1418.3 878.0L1416.7 882.0L1415.1 886.0L1413.4 890.0L1411.6 894.0L1409.8 898.0L1408.0 902.0L1406.2 906.0L1404.3 910.0L1402.4 914.0L1400.4 918.0L1398.5 922.0L1396.4 926.0L1394.4 930.0L1392.3 934.0L1390.3 938.0L1388.2 942.0L1386.0 946.0L1383.7 950.0L1381.3 954.0L1378.9 958.0L1376.4 962.0L1373.9 966.0L1371.4 970.0L1368.9 974.0L1366.5 978.0L1364.0 982.0L1361.7 986.0L1359.3 990.0L1357.0 994.0L1354.8 998.0L1352.5 1002.0L1350.2 1006.0L1347.9 1010.0L1345.6 1014.0L1343.3 1018.0L1340.9 1022.0L1338.4 1026.0L1335.9 1030.0L1333.2 1034.0L1330.5 1038.0L1327.6 1042.0L1324.5 1046.0L1321.1 1050.0L1317.5 1054.0L1313.9 1058.0L1310.2 1062.0L1306.4 1066.0L1302.6 1070.0L1298.9 1074.0L1295.3 1078.0L1291.9 1082.0L1288.6 1086.0L1285.6 1090.0L1282.8 1094.0L1280.3 1098.0L1277.7 1102.0L1275.2 1106.0L1272.7 1110.0L1270.3 1114.0L1268.0 1118.0L1265.7 1122.0L1263.5 1126.0L1261.5 1130.0L1259.7 1134.0L1258.0 1138.0L1256.6 1142.0L1255.3 1146.0L1254.3 1150.0L1253.5 1154.0L1252.7 1158.0L1252.0 1162.0L1251.3 1166.0L1250.6 1170.0L1249.9 1174.0L1249.3 1178.0L1248.6 1182.0L1248.1 1186.0L1247.5 1190.0L1247.0 1194.0L1246.5 1198.0L1246.1 1202.0L1245.7 1206.0L1245.3 1210.0L1245.0 1214.0L1244.7 1218.0L1244.5 1222.0L1244.4 1226.0L1244.3 1230.0L1244.2 1234.0L1244.2 1235.6L1285.0 1235.6L1285.3 1234.0L1286.1 1230.0L1286.9 1226.0L1287.8 1222.0L1288.6 1218.0L1289.6 1214.0L1290.5 1210.0L1291.5 1206.0L1292.5 1202.0L1293.6 1198.0L1294.6 1194.0L1295.7 1190.0L1296.9 1186.0L1298.0 1182.0L1299.2 1178.0L1300.3 1174.0L1301.6 1170.0L1302.8 1166.0L1304.0 1162.0L1305.3 1158.0L1306.6 1154.0L1307.9 1150.0L1309.2 1146.0L1310.6 1142.0L1312.0 1138.0L1313.4 1134.0L1314.9 1130.0L1316.4 1126.0L1317.9 1122.0L1319.4 1118.0L1321.0 1114.0L1322.6 1110.0L1324.2 1106.0L1325.9 1102.0L1327.6 1098.0L1329.3 1094.0L1331.1 1090.0L1332.9 1086.0L1334.7 1082.0L1336.6 1078.0L1338.6 1074.0L1340.6 1070.0L1342.6 1066.0L1344.6 1062.0L1346.7 1058.0L1348.8 1054.0L1350.8 1050.0L1352.9 1046.0L1355.0 1042.0L1357.1 1038.0L1359.2 1034.0L1361.3 1030.0L1363.5 1026.0L1365.6 1022.0L1367.8 1018.0L1370.0 1014.0L1372.3 1010.0L1374.5 1006.0L1376.7 1002.0L1379.0 998.0L1381.2 994.0L1383.4 990.0L1385.7 986.0L1387.9 982.0L1390.2 978.0L1392.5 974.0L1394.8 970.0L1397.2 966.0L1399.6 962.0L1401.9 958.0L1404.2 954.0L1406.4 950.0L1408.6 946.0L1410.7 942.0L1412.7 938.0L1414.7 934.0L1416.6 930.0L1418.6 926.0L1420.5 922.0L1422.4 918.0L1424.2 914.0L1426.1 910.0L1427.9 906.0L1429.6 902.0L1431.4 898.0L1433.1 894.0L1434.7 890.0L1436.4 886.0L1438.0 882.0L1439.5 878.0L1441.0 874.0L1442.5 870.0Z" fill="url(#g1)"/><path d="M1442.5 870.0L1441.0 874.0L1439.5 878.0L1438.0 882.0L1436.4 886.0L1434.7 890.0L1433.1 894.0L1431.4 898.0L1429.6 902.0L1427.9 906.0L1426.1 910.0L1424.2 914.0L1422.4 918.0L1420.5 922.0L1418.6 926.0L1416.6 930.0L1414.7 934.0L1412.7 938.0L1410.7 942.0L1408.6 946.0L1406.4 950.0L1404.2 954.0L1401.9 958.0L1399.6 962.0L1397.2 966.0L1394.8 970.0L1392.5 974.0L1390.2 978.0L1387.9 982.0L1385.7 986.0L1383.4 990.0L1381.2 994.0L1379.0 998.0L1376.7 1002.0L1374.5 1006.0L1372.3 1010.0L1370.0 1014.0L1367.8 1018.0L1365.6 1022.0L1363.5 1026.0L1361.3 1030.0L1359.2 1034.0L1357.1 1038.0L1355.0 1042.0L1352.9 1046.0L1350.8 1050.0L1348.8 1054.0L1346.7 1058.0L1344.6 1062.0L1342.6 1066.0L1340.6 1070.0L1338.6 1074.0L1336.6 1078.0L1334.7 1082.0L1332.9 1086.0L1331.1 1090.0L1329.3 1094.0L1327.6 1098.0L1325.9 1102.0L1324.2 1106.0L1322.6 1110.0L1321.0 1114.0L1319.4 1118.0L1317.9 1122.0L1316.4 1126.0L1314.9 1130.0L1313.4 1134.0L1312.0 1138.0L1310.6 1142.0L1309.2 1146.0L1307.9 1150.0L1306.6 1154.0L1305.3 1158.0L1304.0 1162.0L1302.8 1166.0L1301.6 1170.0L1300.3 1174.0L1299.2 1178.0L1298.0 1182.0L1296.9 1186.0L1295.7 1190.0L1294.6 1194.0L1293.6 1198.0L1292.5 1202.0L1291.5 1206.0L1290.5 1210.0L1289.6 1214.0L1288.6 1218.0L1287.8 1222.0L1286.9 1226.0L1286.1 1230.0L1285.3 1234.0L1285.0 1235.6L1334.2 1235.6L1334.7 1234.0L1335.8 1230.0L1336.9 1226.0L1338.0 1222.0L1339.2 1218.0L1340.4 1214.0L1341.6 1210.0L1342.9 1206.0L1344.1 1202.0L1345.4 1198.0L1346.6 1194.0L1347.9 1190.0L1349.2 1186.0L1350.5 1182.0L1351.8 1178.0L1353.1 1174.0L1354.5 1170.0L1355.8 1166.0L1357.2 1162.0L1358.6 1158.0L1360.0 1154.0L1361.4 1150.0L1362.8 1146.0L1364.2 1142.0L1365.7 1138.0L1367.2 1134.0L1368.7 1130.0L1370.2 1126.0L1371.7 1122.0L1373.2 1118.0L1374.8 1114.0L1376.4 1110.0L1377.9 1106.0L1379.5 1102.0L1381.1 1098.0L1382.7 1094.0L1384.3 1090.0L1385.9 1086.0L1387.6 1082.0L1389.2 1078.0L1390.9 1074.0L1392.5 1070.0L1394.2 1066.0L1395.9 1062.0L1397.6 1058.0L1399.3 1054.0L1401.1 1050.0L1402.8 1046.0L1404.5 1042.0L1406.3 1038.0L1408.0 1034.0L1409.8 1030.0L1411.6 1026.0L1413.4 1022.0L1415.3 1018.0L1417.1 1014.0L1419.0 1010.0L1420.8 1006.0L1422.6 1002.0L1424.4 998.0L1426.2 994.0L1428.0 990.0L1429.7 986.0L1431.4 982.0L1433.2 978.0L1434.9 974.0L1436.6 970.0L1438.3 966.0L1440.0 962.0L1441.6 958.0L1443.2 954.0L1444.7 950.0L1446.2 946.0L1447.6 942.0L1448.8 938.0L1450.1 934.0L1451.2 930.0L1452.3 926.0L1453.4 922.0L1454.4 918.0L1455.4 914.0L1456.4 910.0L1457.4 906.0L1458.4 902.0L1459.4 898.0L1460.4 894.0L1461.4 890.0L1462.4 886.0L1463.4 882.0L1464.4 878.0L1465.4 874.0L1466.4 870.0Z" fill="url(#g2)"/><path d="M1422.5 1002.2L1420.7 1006.2L1418.9 1010.2L1417.0 1014.2L1415.2 1018.2L1413.3 1022.2L1411.5 1026.2L1409.7 1030.2L1407.9 1034.2L1406.2 1038.2L1404.4 1042.2L1402.7 1046.2L1401.0 1050.2L1399.3 1054.2L1397.5 1058.2L1395.8 1062.2L1394.2 1066.2L1392.5 1070.2L1390.8 1074.2L1389.1 1078.2L1387.5 1082.2L1385.9 1086.2L1384.2 1090.2L1382.6 1094.2L1381.0 1098.2L1379.4 1102.2L1377.9 1106.2L1376.3 1110.2L1374.7 1114.2L1373.2 1118.2L1371.6 1122.2L1370.1 1126.2L1368.6 1130.2L1367.1 1134.2L1365.6 1138.2L1364.2 1142.2L1362.7 1146.2L1361.3 1150.2L1359.9 1154.2L1358.5 1158.2L1357.1 1162.2L1355.8 1166.2L1354.4 1170.2L1353.1 1174.2L1351.7 1178.2L1350.4 1182.2L1349.1 1186.2L1347.8 1190.2L1346.6 1194.2L1345.3 1198.2L1344.0 1202.2L1342.8 1206.2L1341.6 1210.2L1340.4 1214.2L1339.2 1218.2L1338.0 1222.2L1336.8 1226.2L1335.7 1230.2L1334.6 1234.2L1334.2 1235.6L1413.0 1235.6L1413.3 1234.2L1414.4 1230.2L1415.5 1226.2L1416.4 1222.2L1417.3 1218.2L1418.0 1214.2L1418.7 1210.2L1419.4 1206.2L1420.0 1202.2L1420.6 1198.2L1421.2 1194.2L1421.7 1190.2L1422.2 1186.2L1422.8 1182.2L1423.3 1178.2L1423.8 1174.2L1424.3 1170.2L1424.8 1166.2L1425.4 1162.2L1426.0 1158.2L1426.6 1154.2L1427.2 1150.2L1427.8 1146.2L1428.5 1142.2L1429.2 1138.2L1429.9 1134.2L1430.6 1130.2L1431.3 1126.2L1432.0 1122.2L1432.7 1118.2L1433.4 1114.2L1434.2 1110.2L1434.9 1106.2L1435.6 1102.2L1436.3 1098.2L1437.0 1094.2L1437.7 1090.2L1438.4 1086.2L1439.0 1082.2L1439.7 1078.2L1440.3 1074.2L1441.0 1070.2L1441.6 1066.2L1442.3 1062.2L1443.0 1058.2L1443.7 1054.2L1444.4 1050.2L1445.2 1046.2L1446.0 1042.2L1446.8 1038.2L1447.8 1034.2L1448.8 1030.2L1449.9 1026.2L1451.0 1022.2L1452.2 1018.2L1453.3 1014.2L1454.5 1010.2L1455.5 1006.2L1456.6 1002.2Z" fill="url(#g3)"/><path d="M1466.4 870.0L1465.4 874.0L1464.4 878.0L1463.4 882.0L1462.4 886.0L1461.4 890.0L1460.4 894.0L1459.4 898.0L1458.4 902.0L1457.4 906.0L1456.4 910.0L1455.4 914.0L1454.4 918.0L1453.4 922.0L1452.3 926.0L1451.2 930.0L1450.1 934.0L1448.8 938.0L1447.6 942.0L1446.2 946.0L1444.7 950.0L1443.2 954.0L1441.6 958.0L1440.0 962.0L1438.3 966.0L1436.6 970.0L1434.9 974.0L1433.2 978.0L1431.4 982.0L1429.7 986.0L1428.0 990.0L1426.2 994.0L1424.4 998.0L1422.6 1002.0L1482.4 1002.0L1481.4 998.0L1480.4 994.0L1479.5 990.0L1478.9 986.0L1478.5 982.0L1478.2 978.0L1477.9 974.0L1477.7 970.0L1477.6 966.0L1477.4 962.0L1477.2 958.0L1477.1 954.0L1477.0 950.0L1476.9 946.0L1476.8 942.0L1476.8 938.0L1476.7 934.0L1476.6 930.0L1476.5 926.0L1476.5 922.0L1476.4 918.0L1476.4 914.0L1476.3 910.0L1476.3 906.0L1476.3 902.0L1476.2 898.0L1476.2 894.0L1476.2 890.0L1476.2 886.0L1476.2 882.0L1476.2 878.0L1476.2 874.0L1476.2 870.0Z" fill="url(#g4)"/><path d="M1456.6 1002.2L1455.5 1006.2L1454.5 1010.2L1453.3 1014.2L1452.2 1018.2L1451.0 1022.2L1449.9 1026.2L1448.8 1030.2L1447.8 1034.2L1446.8 1038.2L1446.0 1042.2L1445.2 1046.2L1444.4 1050.2L1443.7 1054.2L1443.0 1058.2L1442.3 1062.2L1441.6 1066.2L1441.0 1070.2L1440.3 1074.2L1439.7 1078.2L1439.0 1082.2L1438.4 1086.2L1437.7 1090.2L1437.0 1094.2L1436.3 1098.2L1435.6 1102.2L1434.9 1106.2L1434.2 1110.2L1433.4 1114.2L1432.7 1118.2L1432.0 1122.2L1431.3 1126.2L1430.6 1130.2L1429.9 1134.2L1429.2 1138.2L1428.5 1142.2L1427.8 1146.2L1427.2 1150.2L1426.6 1154.2L1426.0 1158.2L1425.4 1162.2L1424.8 1166.2L1424.3 1170.2L1423.8 1174.2L1423.3 1178.2L1422.8 1182.2L1422.2 1186.2L1421.7 1190.2L1421.2 1194.2L1420.6 1198.2L1420.0 1202.2L1419.4 1206.2L1418.7 1210.2L1418.0 1214.2L1417.3 1218.2L1416.4 1222.2L1415.5 1226.2L1414.4 1230.2L1413.3 1234.2L1413.0 1235.6L1481.9 1235.6L1482.1 1234.2L1482.7 1230.2L1483.2 1226.2L1483.7 1222.2L1484.2 1218.2L1484.6 1214.2L1484.9 1210.2L1485.3 1206.2L1485.6 1202.2L1485.9 1198.2L1486.3 1194.2L1486.6 1190.2L1486.9 1186.2L1487.1 1182.2L1487.4 1178.2L1487.7 1174.2L1487.9 1170.2L1488.1 1166.2L1488.3 1162.2L1488.6 1158.2L1488.8 1154.2L1488.9 1150.2L1489.1 1146.2L1489.3 1142.2L1489.5 1138.2L1489.6 1134.2L1489.8 1130.2L1489.9 1126.2L1490.1 1122.2L1490.2 1118.2L1490.4 1114.2L1490.5 1110.2L1490.6 1106.2L1490.7 1102.2L1490.8 1098.2L1490.9 1094.2L1491.0 1090.2L1491.0 1086.2L1491.1 1082.2L1491.2 1078.2L1491.3 1074.2L1491.4 1070.2L1491.4 1066.2L1491.5 1062.2L1491.6 1058.2L1491.6 1054.2L1491.7 1050.2L1491.7 1046.2L1491.7 1042.2L1491.7 1038.2L1491.4 1034.2L1490.6 1030.2L1489.5 1026.2L1488.2 1022.2L1486.9 1018.2L1485.6 1014.2L1484.6 1010.2L1483.6 1006.2L1482.5 1002.2Z" fill="url(#g5)"/><path d="M1483.3 1005.0L1484.3 1009.0L1485.3 1013.0L1486.5 1017.0L1487.8 1021.0L1489.1 1025.0L1490.3 1029.0L1491.2 1033.0L1491.6 1037.0L1491.7 1041.0L1491.7 1045.0L1491.7 1049.0L1491.6 1053.0L1491.6 1057.0L1491.5 1061.0L1491.5 1065.0L1491.4 1069.0L1491.3 1073.0L1491.2 1077.0L1491.2 1081.0L1491.1 1085.0L1491.0 1089.0L1490.9 1093.0L1490.8 1097.0L1490.7 1101.0L1490.6 1105.0L1490.5 1109.0L1490.4 1113.0L1490.3 1117.0L1490.1 1121.0L1490.0 1125.0L1489.8 1129.0L1489.7 1133.0L1489.5 1137.0L1489.4 1141.0L1489.2 1145.0L1489.0 1149.0L1488.8 1153.0L1488.6 1157.0L1488.4 1161.0L1488.2 1165.0L1488.0 1169.0L1487.7 1173.0L1487.5 1177.0L1487.2 1181.0L1486.9 1185.0L1486.7 1189.0L1486.4 1193.0L1486.0 1197.0L1485.7 1201.0L1485.4 1205.0L1485.0 1209.0L1484.7 1213.0L1484.3 1217.0L1483.9 1221.0L1483.4 1225.0L1482.8 1229.0L1482.2 1233.0L1481.9 1235.6L1525.7 1235.6L1526.0 1233.0L1526.4 1229.0L1526.8 1225.0L1527.2 1221.0L1527.6 1217.0L1527.9 1213.0L1528.3 1209.0L1528.7 1205.0L1529.0 1201.0L1529.4 1197.0L1529.7 1193.0L1530.1 1189.0L1530.4 1185.0L1530.7 1181.0L1531.1 1177.0L1531.4 1173.0L1531.7 1169.0L1532.0 1165.0L1532.3 1161.0L1532.6 1157.0L1532.9 1153.0L1533.2 1149.0L1533.5 1145.0L1533.7 1141.0L1533.9 1137.0L1534.2 1133.0L1534.4 1129.0L1534.6 1125.0L1534.8 1121.0L1535.1 1117.0L1535.3 1113.0L1535.6 1109.0L1535.8 1105.0L1536.2 1101.0L1536.5 1097.0L1536.9 1093.0L1537.4 1089.0L1537.9 1085.0L1538.6 1081.0L1539.3 1077.0L1540.0 1073.0L1540.8 1069.0L1541.7 1065.0L1542.5 1061.0L1543.4 1057.0L1544.3 1053.0L1545.2 1049.0L1546.1 1045.0L1546.9 1041.0L1547.8 1037.0L1548.6 1033.0L1549.5 1029.0L1550.3 1025.0L1551.2 1021.0L1552.1 1017.0L1553.0 1013.0L1553.9 1009.0L1554.9 1005.0Z" fill="url(#g6)"/><path d="M1567.6 870.0L1566.9 874.0L1566.1 878.0L1565.3 882.0L1564.4 886.0L1563.5 890.0L1562.5 894.0L1561.4 898.0L1560.3 902.0L1559.1 906.0L1557.9 910.0L1556.7 914.0L1555.5 918.0L1554.4 922.0L1553.2 926.0L1552.0 930.0L1550.8 934.0L1549.5 938.0L1548.3 942.0L1547.0 946.0L1545.7 950.0L1544.4 954.0L1543.0 958.0L1541.6 962.0L1540.0 966.0L1538.3 970.0L1536.5 974.0L1534.5 978.0L1532.2 982.0L1529.4 986.0L1525.8 990.0L1520.5 994.0L1513.6 998.0L1503.8 1002.0L1494.5 1005.0L1554.9 1005.0L1555.6 1002.0L1556.5 998.0L1557.4 994.0L1558.4 990.0L1559.3 986.0L1560.3 982.0L1561.2 978.0L1562.1 974.0L1563.1 970.0L1564.0 966.0L1565.0 962.0L1565.9 958.0L1566.9 954.0L1567.9 950.0L1568.9 946.0L1569.8 942.0L1570.7 938.0L1571.5 934.0L1572.2 930.0L1572.8 926.0L1573.5 922.0L1574.1 918.0L1574.6 914.0L1575.2 910.0L1575.7 906.0L1576.2 902.0L1576.8 898.0L1577.3 894.0L1577.8 890.0L1578.3 886.0L1578.8 882.0L1579.3 878.0L1579.8 874.0L1580.3 870.0Z" fill="url(#g7)"/><path d="M1476.2 870.0L1476.2 874.0L1476.2 878.0L1476.2 882.0L1476.2 886.0L1476.2 890.0L1476.2 894.0L1476.2 898.0L1476.3 902.0L1476.3 906.0L1476.3 910.0L1476.4 914.0L1476.4 918.0L1476.5 922.0L1476.5 926.0L1476.6 930.0L1476.7 934.0L1476.8 938.0L1476.8 942.0L1476.9 946.0L1477.0 950.0L1477.1 954.0L1477.2 958.0L1477.4 962.0L1477.6 966.0L1477.7 970.0L1477.9 974.0L1478.2 978.0L1478.5 982.0L1478.9 986.0L1479.5 990.0L1480.4 994.0L1481.4 998.0L1482.4 1002.0L1503.8 1002.0L1513.6 998.0L1520.5 994.0L1525.8 990.0L1529.4 986.0L1532.2 982.0L1534.5 978.0L1536.5 974.0L1538.3 970.0L1540.0 966.0L1541.6 962.0L1543.0 958.0L1544.4 954.0L1545.7 950.0L1547.0 946.0L1548.3 942.0L1549.5 938.0L1550.8 934.0L1552.0 930.0L1553.2 926.0L1554.4 922.0L1555.5 918.0L1556.7 914.0L1557.9 910.0L1559.1 906.0L1560.3 902.0L1561.4 898.0L1562.5 894.0L1563.5 890.0L1564.4 886.0L1565.3 882.0L1566.1 878.0L1566.9 874.0L1567.6 870.0Z" fill="url(#g8)"/><path d="M1580.3 870.0L1579.8 874.0L1579.3 878.0L1578.8 882.0L1578.3 886.0L1577.8 890.0L1577.3 894.0L1576.8 898.0L1576.2 902.0L1575.7 906.0L1575.2 910.0L1574.6 914.0L1574.1 918.0L1573.5 922.0L1572.8 926.0L1572.2 930.0L1571.5 934.0L1570.7 938.0L1569.8 942.0L1568.9 946.0L1567.9 950.0L1566.9 954.0L1565.9 958.0L1565.0 962.0L1564.0 966.0L1563.1 970.0L1562.1 974.0L1561.2 978.0L1560.3 982.0L1559.3 986.0L1558.4 990.0L1557.4 994.0L1556.5 998.0L1555.6 1002.0L1554.6 1006.0L1553.7 1010.0L1552.8 1014.0L1551.9 1018.0L1551.0 1022.0L1550.1 1026.0L1549.2 1030.0L1548.4 1034.0L1547.5 1038.0L1546.7 1042.0L1545.8 1046.0L1545.0 1050.0L1544.1 1054.0L1543.2 1058.0L1542.3 1062.0L1541.5 1066.0L1540.6 1070.0L1539.8 1074.0L1539.1 1078.0L1538.4 1082.0L1537.8 1086.0L1537.3 1090.0L1536.8 1094.0L1536.4 1098.0L1536.1 1102.0L1535.8 1106.0L1535.5 1110.0L1535.2 1114.0L1535.0 1118.0L1534.8 1122.0L1534.5 1126.0L1534.3 1130.0L1534.1 1134.0L1533.9 1138.0L1533.7 1142.0L1533.4 1146.0L1533.1 1150.0L1532.8 1154.0L1532.5 1158.0L1532.2 1162.0L1531.9 1166.0L1531.6 1170.0L1531.3 1174.0L1531.0 1178.0L1530.7 1182.0L1530.3 1186.0L1530.0 1190.0L1529.6 1194.0L1529.3 1198.0L1528.9 1202.0L1528.6 1206.0L1528.2 1210.0L1527.9 1214.0L1527.5 1218.0L1527.1 1222.0L1526.7 1226.0L1526.3 1230.0L1525.9 1234.0L1525.7 1235.6L1586.5 1235.6L1586.5 1234.0L1586.6 1230.0L1586.6 1226.0L1586.7 1222.0L1586.8 1218.0L1586.8 1214.0L1586.9 1210.0L1586.9 1206.0L1587.0 1202.0L1587.1 1198.0L1587.1 1194.0L1587.2 1190.0L1587.2 1186.0L1587.3 1182.0L1587.3 1178.0L1587.4 1174.0L1587.4 1170.0L1587.5 1166.0L1587.5 1162.0L1587.5 1158.0L1587.6 1154.0L1587.6 1150.0L1587.7 1146.0L1587.7 1142.0L1587.7 1138.0L1587.7 1134.0L1587.8 1130.0L1587.8 1126.0L1587.8 1122.0L1587.8 1118.0L1587.8 1114.0L1587.8 1110.0L1587.9 1106.0L1587.9 1102.0L1587.9 1098.0L1587.9 1094.0L1588.0 1090.0L1588.0 1086.0L1588.0 1082.0L1588.1 1078.0L1588.1 1074.0L1588.1 1070.0L1588.2 1066.0L1588.3 1062.0L1588.4 1058.0L1588.6 1054.0L1588.8 1050.0L1589.1 1046.0L1589.4 1042.0L1589.7 1038.0L1590.0 1034.0L1590.4 1030.0L1590.8 1026.0L1591.2 1022.0L1591.6 1018.0L1592.1 1014.0L1592.5 1010.0L1592.9 1006.0L1593.3 1002.0L1593.7 998.0L1594.1 994.0L1594.5 990.0L1594.9 986.0L1595.2 982.0L1595.6 978.0L1595.9 974.0L1596.2 970.0L1596.6 966.0L1596.9 962.0L1597.2 958.0L1597.6 954.0L1597.9 950.0L1598.2 946.0L1598.6 942.0L1598.9 938.0L1599.2 934.0L1599.6 930.0L1599.9 926.0L1600.3 922.0L1600.6 918.0L1601.0 914.0L1601.3 910.0L1601.7 906.0L1602.0 902.0L1602.3 898.0L1602.7 894.0L1603.0 890.0L1603.3 886.0L1603.6 882.0L1603.9 878.0L1604.2 874.0L1604.5 870.0Z" fill="url(#g9)"/><path d="M1604.5 870.0L1604.2 874.0L1603.9 878.0L1603.6 882.0L1603.3 886.0L1603.0 890.0L1602.7 894.0L1602.3 898.0L1602.0 902.0L1601.7 906.0L1601.3 910.0L1601.0 914.0L1600.6 918.0L1600.3 922.0L1599.9 926.0L1599.6 930.0L1599.2 934.0L1598.9 938.0L1598.6 942.0L1598.2 946.0L1597.9 950.0L1597.6 954.0L1597.2 958.0L1596.9 962.0L1596.6 966.0L1596.2 970.0L1595.9 974.0L1595.6 978.0L1595.2 982.0L1594.9 986.0L1594.5 990.0L1594.1 994.0L1593.7 998.0L1593.3 1002.0L1592.9 1006.0L1592.5 1010.0L1592.1 1014.0L1591.6 1018.0L1591.2 1022.0L1590.8 1026.0L1590.4 1030.0L1590.0 1034.0L1589.7 1038.0L1589.4 1042.0L1589.1 1046.0L1588.8 1050.0L1588.6 1054.0L1588.4 1058.0L1588.3 1062.0L1588.2 1066.0L1588.1 1070.0L1588.1 1074.0L1588.1 1078.0L1588.0 1082.0L1588.0 1086.0L1588.0 1090.0L1587.9 1094.0L1587.9 1098.0L1587.9 1102.0L1587.9 1106.0L1587.8 1110.0L1587.8 1114.0L1587.8 1118.0L1587.8 1122.0L1587.8 1126.0L1587.8 1130.0L1587.7 1134.0L1587.7 1138.0L1587.7 1142.0L1587.7 1146.0L1587.6 1150.0L1587.6 1154.0L1587.5 1158.0L1587.5 1162.0L1587.5 1166.0L1587.4 1170.0L1587.4 1174.0L1587.3 1178.0L1587.3 1182.0L1587.2 1186.0L1587.2 1190.0L1587.1 1194.0L1587.1 1198.0L1587.0 1202.0L1586.9 1206.0L1586.9 1210.0L1586.8 1214.0L1586.8 1218.0L1586.7 1222.0L1586.6 1226.0L1586.6 1230.0L1586.5 1234.0L1586.5 1235.6L1640.5 1235.6L1640.5 1234.0L1640.4 1230.0L1640.3 1226.0L1640.2 1222.0L1640.2 1218.0L1640.1 1214.0L1640.1 1210.0L1640.0 1206.0L1640.0 1202.0L1639.9 1198.0L1639.9 1194.0L1639.9 1190.0L1639.8 1186.0L1639.8 1182.0L1639.7 1178.0L1639.7 1174.0L1639.6 1170.0L1639.6 1166.0L1639.5 1162.0L1639.5 1158.0L1639.4 1154.0L1639.3 1150.0L1639.3 1146.0L1639.2 1142.0L1639.1 1138.0L1639.0 1134.0L1638.9 1130.0L1638.8 1126.0L1638.8 1122.0L1638.7 1118.0L1638.6 1114.0L1638.4 1110.0L1638.3 1106.0L1638.2 1102.0L1638.1 1098.0L1638.0 1094.0L1637.9 1090.0L1637.7 1086.0L1637.6 1082.0L1637.5 1078.0L1637.3 1074.0L1637.2 1070.0L1637.1 1066.0L1636.9 1062.0L1636.8 1058.0L1636.6 1054.0L1636.4 1050.0L1636.3 1046.0L1636.1 1042.0L1635.9 1038.0L1635.8 1034.0L1635.6 1030.0L1635.4 1026.0L1635.1 1022.0L1634.9 1018.0L1634.7 1014.0L1634.4 1010.0L1634.1 1006.0L1633.9 1002.0L1633.6 998.0L1633.3 994.0L1633.0 990.0L1632.7 986.0L1632.4 982.0L1632.2 978.0L1631.9 974.0L1631.6 970.0L1631.3 966.0L1631.0 962.0L1630.8 958.0L1630.5 954.0L1630.2 950.0L1629.9 946.0L1629.6 942.0L1629.3 938.0L1629.0 934.0L1628.7 930.0L1628.4 926.0L1628.1 922.0L1627.8 918.0L1627.5 914.0L1627.2 910.0L1626.9 906.0L1626.6 902.0L1626.3 898.0L1626.0 894.0L1625.7 890.0L1625.4 886.0L1625.1 882.0L1624.8 878.0L1624.5 874.0L1624.2 870.0Z" fill="url(#g10)"/><path d="M1624.2 870.0L1624.5 874.0L1624.8 878.0L1625.1 882.0L1625.4 886.0L1625.7 890.0L1626.0 894.0L1626.3 898.0L1626.6 902.0L1626.9 906.0L1627.2 910.0L1627.5 914.0L1627.8 918.0L1628.1 922.0L1628.4 926.0L1628.7 930.0L1629.0 934.0L1629.3 938.0L1629.6 942.0L1629.9 946.0L1630.2 950.0L1630.5 954.0L1630.8 958.0L1631.0 962.0L1631.3 966.0L1631.6 970.0L1631.9 974.0L1632.2 978.0L1632.4 982.0L1632.7 986.0L1633.0 990.0L1633.3 994.0L1633.6 998.0L1633.9 1002.0L1634.1 1006.0L1634.4 1010.0L1634.7 1014.0L1634.9 1018.0L1635.1 1022.0L1635.4 1026.0L1635.6 1030.0L1635.8 1034.0L1635.9 1038.0L1636.1 1042.0L1636.3 1046.0L1636.4 1050.0L1636.6 1054.0L1636.8 1058.0L1636.9 1062.0L1637.1 1066.0L1637.2 1070.0L1637.3 1074.0L1637.5 1078.0L1637.6 1082.0L1637.7 1086.0L1637.9 1090.0L1638.0 1094.0L1638.1 1098.0L1638.2 1102.0L1638.3 1106.0L1638.4 1110.0L1638.6 1114.0L1638.7 1118.0L1638.8 1122.0L1638.8 1126.0L1638.9 1130.0L1639.0 1134.0L1639.1 1138.0L1639.2 1142.0L1639.3 1146.0L1639.3 1150.0L1639.4 1154.0L1639.5 1158.0L1639.5 1162.0L1639.6 1166.0L1639.6 1170.0L1639.7 1174.0L1639.7 1178.0L1639.8 1182.0L1639.8 1186.0L1639.9 1190.0L1639.9 1194.0L1639.9 1198.0L1640.0 1202.0L1640.0 1206.0L1640.1 1210.0L1640.1 1214.0L1640.2 1218.0L1640.2 1222.0L1640.3 1226.0L1640.4 1230.0L1640.5 1234.0L1640.5 1235.6L1699.3 1235.6L1699.1 1234.0L1698.8 1230.0L1698.4 1226.0L1698.1 1222.0L1697.8 1218.0L1697.5 1214.0L1697.2 1210.0L1696.9 1206.0L1696.6 1202.0L1696.3 1198.0L1696.0 1194.0L1695.7 1190.0L1695.4 1186.0L1695.1 1182.0L1694.8 1178.0L1694.5 1174.0L1694.2 1170.0L1693.9 1166.0L1693.6 1162.0L1693.3 1158.0L1693.0 1154.0L1692.7 1150.0L1692.4 1146.0L1692.1 1142.0L1691.7 1138.0L1691.4 1134.0L1691.1 1130.0L1690.8 1126.0L1690.5 1122.0L1690.2 1118.0L1689.9 1114.0L1689.5 1110.0L1689.2 1106.0L1688.9 1102.0L1688.5 1098.0L1688.1 1094.0L1687.7 1090.0L1687.3 1086.0L1686.9 1082.0L1686.5 1078.0L1686.1 1074.0L1685.6 1070.0L1685.1 1066.0L1684.5 1062.0L1683.9 1058.0L1683.3 1054.0L1682.6 1050.0L1681.8 1046.0L1681.0 1042.0L1680.2 1038.0L1679.4 1034.0L1678.6 1030.0L1677.7 1026.0L1676.9 1022.0L1676.0 1018.0L1675.2 1014.0L1674.4 1010.0L1673.6 1006.0L1672.8 1002.0L1672.0 998.0L1671.1 994.0L1670.3 990.0L1669.5 986.0L1668.6 982.0L1667.8 978.0L1667.0 974.0L1666.1 970.0L1665.2 966.0L1664.4 962.0L1663.5 958.0L1662.6 954.0L1661.7 950.0L1660.8 946.0L1659.9 942.0L1659.0 938.0L1658.0 934.0L1657.1 930.0L1656.1 926.0L1655.2 922.0L1654.2 918.0L1653.3 914.0L1652.3 910.0L1651.4 906.0L1650.5 902.0L1649.6 898.0L1648.7 894.0L1647.8 890.0L1646.9 886.0L1646.1 882.0L1645.2 878.0L1644.4 874.0L1643.6 870.0Z" fill="url(#g11)"/><path d="M1660.2 943.1L1661.1 947.1L1662.0 951.1L1662.9 955.1L1663.7 959.1L1664.6 963.1L1665.5 967.1L1666.3 971.1L1667.2 975.1L1668.0 979.1L1668.9 983.1L1669.7 987.1L1670.5 991.1L1671.4 995.1L1672.2 999.1L1673.0 1003.1L1673.8 1007.1L1674.6 1011.1L1675.4 1015.1L1676.3 1019.1L1677.1 1023.1L1677.9 1027.1L1678.8 1031.1L1679.6 1035.1L1680.5 1039.1L1681.3 1043.1L1682.0 1047.1L1682.8 1051.1L1683.5 1055.1L1684.1 1059.1L1684.7 1063.1L1685.2 1067.1L1685.7 1071.1L1686.2 1075.1L1686.6 1079.1L1687.1 1083.1L1687.5 1087.1L1687.9 1091.1L1688.2 1095.1L1688.6 1099.1L1688.9 1103.1L1689.3 1107.1L1689.6 1111.1L1690.0 1115.1L1690.3 1119.1L1690.6 1123.1L1690.9 1127.1L1691.2 1131.1L1691.5 1135.1L1691.8 1139.1L1692.1 1143.1L1692.5 1147.1L1692.8 1151.1L1693.1 1155.1L1693.4 1159.1L1693.7 1163.1L1694.0 1167.1L1694.3 1171.1L1694.6 1175.1L1694.9 1179.1L1695.2 1183.1L1695.5 1187.1L1695.8 1191.1L1696.1 1195.1L1696.4 1199.1L1696.7 1203.1L1697.0 1207.1L1697.3 1211.1L1697.6 1215.1L1697.9 1219.1L1698.2 1223.1L1698.5 1227.1L1698.9 1231.1L1699.2 1235.1L1759.7 1235.1L1759.1 1231.1L1758.6 1227.1L1758.1 1223.1L1757.5 1219.1L1757.0 1215.1L1756.5 1211.1L1756.0 1207.1L1755.5 1203.1L1755.1 1199.1L1754.6 1195.1L1754.1 1191.1L1753.7 1187.1L1753.2 1183.1L1752.7 1179.1L1752.2 1175.1L1751.8 1171.1L1751.2 1167.1L1750.7 1163.1L1750.2 1159.1L1749.6 1155.1L1749.0 1151.1L1748.4 1147.1L1747.8 1143.1L1747.1 1139.1L1746.4 1135.1L1745.7 1131.1L1744.9 1127.1L1744.2 1123.1L1743.4 1119.1L1742.6 1115.1L1741.8 1111.1L1741.1 1107.1L1740.3 1103.1L1739.5 1099.1L1738.7 1095.1L1737.9 1091.1L1737.1 1087.1L1736.3 1083.1L1735.5 1079.1L1734.7 1075.1L1733.9 1071.1L1733.1 1067.1L1732.2 1063.1L1731.4 1059.1L1730.5 1055.1L1729.6 1051.1L1728.6 1047.1L1727.7 1043.1L1726.6 1039.1L1725.6 1035.1L1724.5 1031.1L1723.3 1027.1L1722.1 1023.1L1720.9 1019.1L1719.6 1015.1L1718.3 1011.1L1716.9 1007.1L1715.5 1003.1L1714.0 999.1L1712.5 995.1L1710.9 991.1L1709.1 987.1L1707.3 983.1L1705.4 979.1L1703.4 975.1L1701.3 971.1L1699.2 967.1L1697.0 963.1L1694.8 959.1L1692.4 955.1L1689.9 951.1L1687.2 947.1L1686.6 943.1Z" fill="url(#g12)"/><path d="M1643.6 870.0L1644.4 874.0L1645.2 878.0L1646.1 882.0L1646.9 886.0L1647.8 890.0L1648.7 894.0L1649.6 898.0L1650.5 902.0L1651.4 906.0L1652.3 910.0L1653.3 914.0L1654.2 918.0L1655.2 922.0L1656.1 926.0L1657.1 930.0L1658.0 934.0L1659.0 938.0L1659.9 942.0L1660.2 943.1L1685.8 943.1L1685.4 942.0L1684.3 938.0L1683.2 934.0L1682.1 930.0L1681.1 926.0L1680.1 922.0L1679.3 918.0L1678.5 914.0L1677.8 910.0L1677.1 906.0L1676.4 902.0L1675.8 898.0L1675.2 894.0L1674.6 890.0L1674.1 886.0L1673.6 882.0L1673.2 878.0L1672.8 874.0L1672.5 870.0Z" fill="url(#g13)"/><path d="M1711.9 993.7L1713.5 997.7L1715.0 1001.7L1716.4 1005.7L1717.8 1009.7L1719.2 1013.7L1720.5 1017.7L1721.7 1021.7L1722.9 1025.7L1724.1 1029.7L1725.2 1033.7L1726.3 1037.7L1727.3 1041.7L1728.3 1045.7L1729.3 1049.7L1730.2 1053.7L1731.1 1057.7L1731.9 1061.7L1732.8 1065.7L1733.6 1069.7L1734.4 1073.7L1735.2 1077.7L1736.0 1081.7L1736.8 1085.7L1737.6 1089.7L1738.4 1093.7L1739.2 1097.7L1740.0 1101.7L1740.8 1105.7L1741.6 1109.7L1742.4 1113.7L1743.1 1117.7L1743.9 1121.7L1744.7 1125.7L1745.4 1129.7L1746.1 1133.7L1746.8 1137.7L1747.5 1141.7L1748.2 1145.7L1748.8 1149.7L1749.4 1153.7L1750.0 1157.7L1750.5 1161.7L1751.1 1165.7L1751.6 1169.7L1752.1 1173.7L1752.6 1177.7L1753.0 1181.7L1753.5 1185.7L1754.0 1189.7L1754.4 1193.7L1754.9 1197.7L1755.4 1201.7L1755.9 1205.7L1756.3 1209.7L1756.8 1213.7L1757.3 1217.7L1757.9 1221.7L1758.4 1225.7L1758.9 1229.7L1759.5 1233.7L1759.7 1235.6L1823.6 1235.6L1823.3 1233.7L1822.7 1229.7L1822.1 1225.7L1821.3 1221.7L1820.5 1217.7L1819.6 1213.7L1818.6 1209.7L1817.5 1205.7L1816.5 1201.7L1815.6 1197.7L1814.7 1193.7L1813.8 1189.7L1813.0 1185.7L1812.1 1181.7L1811.3 1177.7L1810.5 1173.7L1809.7 1169.7L1808.9 1165.7L1808.1 1161.7L1807.3 1157.7L1806.5 1153.7L1805.7 1149.7L1804.9 1145.7L1804.0 1141.7L1803.1 1137.7L1802.2 1133.7L1801.3 1129.7L1800.3 1125.7L1799.3 1121.7L1798.3 1117.7L1797.2 1113.7L1796.0 1109.7L1794.9 1105.7L1793.7 1101.7L1792.5 1097.7L1791.3 1093.7L1790.0 1089.7L1788.7 1085.7L1787.5 1081.7L1786.2 1077.7L1784.9 1073.7L1783.7 1069.7L1782.4 1065.7L1781.1 1061.7L1779.7 1057.7L1778.3 1053.7L1776.8 1049.7L1775.3 1045.7L1773.9 1041.7L1772.5 1037.7L1771.1 1033.7L1769.9 1029.7L1768.8 1025.7L1767.9 1021.7L1767.1 1017.7L1766.3 1013.7L1765.6 1009.7L1764.8 1005.7L1764.2 1001.7L1763.7 997.7L1763.3 993.7Z" fill="url(#g14)"/><path d="M1733.0 870.0L1733.0 874.0L1733.0 878.0L1733.0 882.0L1733.0 886.0L1733.0 890.0L1733.0 894.0L1733.0 898.0L1733.0 902.0L1733.0 906.0L1733.0 910.0L1733.0 914.0L1733.0 918.0L1733.0 922.0L1733.0 926.0L1733.0 930.0L1733.0 934.0L1733.0 938.0L1733.0 942.0L1732.6 946.0L1731.8 950.0L1730.9 954.0L1729.7 958.0L1728.6 962.0L1727.4 966.0L1726.2 970.0L1724.8 974.0L1723.1 978.0L1721.2 982.0L1718.7 986.0L1715.4 990.0L1711.9 993.7L1763.3 993.7L1763.1 990.0L1763.1 986.0L1763.1 982.0L1763.1 978.0L1763.1 974.0L1763.1 970.0L1763.1 966.0L1763.1 962.0L1763.1 958.0L1763.1 954.0L1763.1 950.0L1763.1 946.0L1763.1 942.0L1763.0 938.0L1763.0 934.0L1763.0 930.0L1762.9 926.0L1762.9 922.0L1762.8 918.0L1762.8 914.0L1762.7 910.0L1762.7 906.0L1762.6 902.0L1762.5 898.0L1762.5 894.0L1762.4 890.0L1762.2 886.0L1762.1 882.0L1762.0 878.0L1761.8 874.0L1761.7 870.0Z" fill="url(#g15)"/><path d="M1672.5 870.0L1672.8 874.0L1673.2 878.0L1673.6 882.0L1674.1 886.0L1674.6 890.0L1675.2 894.0L1675.8 898.0L1676.4 902.0L1677.1 906.0L1677.8 910.0L1678.5 914.0L1679.3 918.0L1680.1 922.0L1681.1 926.0L1682.1 930.0L1683.2 934.0L1684.3 938.0L1685.5 942.0L1686.4 946.0L1686.6 950.0L1686.6 954.0L1686.6 958.0L1686.6 962.0L1686.6 965.6L1710.2 965.6L1710.2 962.0L1710.1 958.0L1710.0 954.0L1709.9 950.0L1709.8 946.0L1709.8 942.0L1709.7 938.0L1709.7 934.0L1709.7 930.0L1709.7 926.0L1709.7 922.0L1709.7 918.0L1709.7 914.0L1709.7 910.0L1709.7 906.0L1709.7 902.0L1709.7 898.0L1709.7 894.0L1709.7 890.0L1709.7 886.0L1709.7 882.0L1709.7 878.0L1709.7 874.0L1709.7 870.0Z" fill="url(#g16)"/><path d="M1709.7 870.0L1709.7 874.0L1709.7 878.0L1709.7 882.0L1709.7 886.0L1709.7 890.0L1709.7 894.0L1709.7 898.0L1709.7 902.0L1709.7 906.0L1709.7 910.0L1709.7 914.0L1709.7 918.0L1709.7 922.0L1709.7 926.0L1709.7 930.0L1709.7 934.0L1709.7 938.0L1709.8 942.0L1709.8 946.0L1709.9 950.0L1710.0 954.0L1710.1 958.0L1710.2 962.0L1710.2 965.6L1727.5 965.6L1728.6 962.0L1729.7 958.0L1730.9 954.0L1731.8 950.0L1732.6 946.0L1733.0 942.0L1733.0 938.0L1733.0 934.0L1733.0 930.0L1733.0 926.0L1733.0 922.0L1733.0 918.0L1733.0 914.0L1733.0 910.0L1733.0 906.0L1733.0 902.0L1733.0 898.0L1733.0 894.0L1733.0 890.0L1733.0 886.0L1733.0 882.0L1733.0 878.0L1733.0 874.0L1733.0 870.0Z" fill="url(#g17)"/><path d="M1761.7 870.0L1761.8 874.0L1762.0 878.0L1762.1 882.0L1762.2 886.0L1762.4 890.0L1762.5 894.0L1762.5 898.0L1762.6 902.0L1762.7 906.0L1762.7 910.0L1762.8 914.0L1762.8 918.0L1762.9 922.0L1762.9 926.0L1763.0 930.0L1763.0 934.0L1763.0 938.0L1763.1 942.0L1763.1 946.0L1763.1 950.0L1763.1 954.0L1763.1 958.0L1763.1 962.0L1763.1 966.0L1763.1 970.0L1763.1 974.0L1763.1 978.0L1763.1 982.0L1763.1 986.0L1763.1 990.0L1763.3 994.0L1763.7 998.0L1764.2 1002.0L1764.9 1006.0L1765.6 1010.0L1766.4 1014.0L1767.1 1018.0L1767.9 1022.0L1768.9 1026.0L1770.0 1030.0L1771.2 1034.0L1772.6 1038.0L1774.0 1042.0L1775.4 1046.0L1776.9 1050.0L1778.4 1054.0L1779.8 1058.0L1781.2 1062.0L1782.5 1066.0L1783.8 1070.0L1785.0 1074.0L1786.3 1078.0L1787.6 1082.0L1788.8 1086.0L1790.1 1090.0L1791.3 1094.0L1792.6 1098.0L1793.8 1102.0L1795.0 1106.0L1796.1 1110.0L1797.2 1114.0L1798.3 1118.0L1799.4 1122.0L1800.4 1126.0L1801.3 1130.0L1802.3 1134.0L1803.2 1138.0L1804.1 1142.0L1804.9 1146.0L1805.7 1150.0L1806.6 1154.0L1807.4 1158.0L1808.2 1162.0L1809.0 1166.0L1809.8 1170.0L1810.6 1174.0L1811.4 1178.0L1812.2 1182.0L1812.8 1185.0L1870.0 1185.0L1869.4 1182.0L1868.5 1178.0L1867.6 1174.0L1866.7 1170.0L1865.8 1166.0L1864.9 1162.0L1864.0 1158.0L1863.0 1154.0L1862.0 1150.0L1861.0 1146.0L1860.0 1142.0L1858.9 1138.0L1857.9 1134.0L1856.8 1130.0L1855.7 1126.0L1854.6 1122.0L1853.5 1118.0L1852.3 1114.0L1851.1 1110.0L1849.9 1106.0L1848.7 1102.0L1847.5 1098.0L1846.2 1094.0L1844.9 1090.0L1843.6 1086.0L1842.2 1082.0L1840.8 1078.0L1839.4 1074.0L1837.9 1070.0L1836.3 1066.0L1834.7 1062.0L1833.1 1058.0L1831.4 1054.0L1829.8 1050.0L1828.1 1046.0L1826.4 1042.0L1824.7 1038.0L1822.9 1034.0L1821.1 1030.0L1819.2 1026.0L1817.3 1022.0L1815.4 1018.0L1813.6 1014.0L1811.7 1010.0L1810.0 1006.0L1808.1 1002.0L1806.0 998.0L1804.0 994.0L1802.2 990.0L1800.8 986.0L1800.2 982.0L1799.9 978.0L1799.7 974.0L1799.5 970.0L1799.3 966.0L1799.2 962.0L1799.0 958.0L1798.9 954.0L1798.8 950.0L1798.7 946.0L1798.6 942.0L1798.5 938.0L1798.5 934.0L1798.4 930.0L1798.2 926.0L1798.1 922.0L1798.0 918.0L1797.9 914.0L1797.8 910.0L1797.7 906.0L1797.6 902.0L1797.5 898.0L1797.4 894.0L1797.3 890.0L1797.2 886.0L1797.1 882.0L1797.0 878.0L1796.9 874.0L1796.8 870.0Z" fill="url(#g18)"/></g>
<g filter="url(#b8)"><ellipse cx="1815.2" cy="965.6" rx="22.3" ry="48.0" transform="rotate(0.0 1815.2 965.6)" fill="#f00" fill-opacity="0.125"/><ellipse cx="1846.1" cy="955.8" rx="22.3" ry="52.2" transform="rotate(0.0 1846.1 955.8)" fill="#f00" fill-opacity="0.125"/><ellipse cx="1875.6" cy="950.2" rx="22.3" ry="63.4" transform="rotate(0.0 1875.6 950.2)" fill="#f00" fill-opacity="0.125"/><ellipse cx="1905.2" cy="961.4" rx="23.5" ry="74.7" transform="rotate(1.0 1905.2 961.4)" fill="#f00" fill-opacity="0.125"/><ellipse cx="1938.9" cy="975.5" rx="24.0" ry="77.5" transform="rotate(1.5 1938.9 975.5)" fill="#f00" fill-opacity="0.125"/><ellipse cx="1973.5" cy="996.6" rx="24.6" ry="73.3" transform="rotate(3.0 1973.5 996.6)" fill="#f00" fill-opacity="0.125"/><ellipse cx="2009.3" cy="1005.0" rx="24.6" ry="76.1" transform="rotate(2.0 2009.3 1005.0)" fill="#f00" fill-opacity="0.125"/><ellipse cx="2049.5" cy="1041.6" rx="25.2" ry="104.2" transform="rotate(1.0 2049.5 1041.6)" fill="#f00" fill-opacity="0.125"/><ellipse cx="2096.5" cy="1050.0" rx="24.6" ry="101.4" transform="rotate(-3.0 2096.5 1050.0)" fill="#f00" fill-opacity="0.125"/><ellipse cx="2142.9" cy="1055.7" rx="24.0" ry="101.4" transform="rotate(-8.0 2142.9 1055.7)" fill="#f00" fill-opacity="0.125"/><ellipse cx="1936.1" cy="1118.9" rx="26.3" ry="48.0" transform="rotate(0.0 1936.1 1118.9)" fill="#f00" fill-opacity="0.073"/><ellipse cx="2178.5" cy="1005.0" rx="22.3" ry="59.2" transform="rotate(-4.0 2178.5 1005.0)" fill="#f00" fill-opacity="0.125"/><ellipse cx="2214.5" cy="993.8" rx="22.6" ry="48.0" transform="rotate(0.0 2214.5 993.8)" fill="#f00" fill-opacity="0.125"/><ellipse cx="2251.1" cy="991.0" rx="20.4" ry="49.4" transform="rotate(-1.0 2251.1 991.0)" fill="#f00" fill-opacity="0.123"/><ellipse cx="2288.5" cy="1007.8" rx="20.4" ry="40.9" transform="rotate(-3.0 2288.5 1007.8)" fill="#f00" fill-opacity="0.117"/><ellipse cx="2333.5" cy="1024.7" rx="20.9" ry="45.2" transform="rotate(-1.0 2333.5 1024.7)" fill="#f00" fill-opacity="0.117"/></g>
<g style="mix-blend-mode:screen">
<g filter="url(#b0_6)"><path d="M1285.1 1235.6L1286.5 1231.3L1287.5 1226.9L1288.5 1222.6L1289.6 1218.2L1290.6 1213.8L1291.7 1209.5L1292.8 1205.1L1293.9 1200.8L1295.0 1196.4L1296.2 1192.1L1297.4 1187.7L1298.6 1183.4L1299.9 1179.1L1301.1 1174.8L1302.4 1170.4L1303.7 1166.1L1305.1 1161.9L1306.4 1157.6L1307.8 1153.3L1309.2 1149.0L1310.6 1144.8L1312.1 1140.5L1313.6 1136.3L1315.1 1132.1L1316.7 1127.9L1318.3 1123.7L1319.9 1119.5L1321.5 1115.3L1323.1 1111.1L1324.7 1106.9L1326.4 1102.7L1328.0 1098.5L1328.9 1095.0L1328.8 1095.0L1327.0 1098.1L1325.1 1102.2L1323.3 1106.3L1321.5 1110.4L1319.8 1114.6L1318.2 1118.8L1316.5 1123.0L1314.9 1127.2L1313.4 1131.5L1311.8 1135.7L1310.3 1139.9L1308.9 1144.2L1307.4 1148.4L1306.0 1152.7L1304.6 1157.0L1303.3 1161.3L1301.9 1165.6L1300.6 1169.9L1299.3 1174.2L1298.0 1178.5L1296.7 1182.9L1295.5 1187.2L1294.3 1191.5L1293.1 1195.9L1292.0 1200.3L1290.8 1204.6L1289.7 1209.0L1288.7 1213.4L1287.7 1217.8L1286.8 1222.2L1286.0 1226.6L1285.3 1231.1L1284.9 1235.6Z" fill="#0f0" fill-opacity="0.756"/><path d="M1334.3 1235.6L1336.0 1231.4L1337.4 1227.1L1338.7 1222.9L1340.0 1218.6L1341.3 1214.3L1342.7 1210.0L1344.0 1205.7L1345.3 1201.4L1346.7 1197.1L1348.0 1192.8L1349.4 1188.5L1350.8 1184.2L1352.2 1179.9L1353.6 1175.7L1355.0 1171.4L1356.4 1167.1L1357.9 1162.9L1359.3 1158.6L1360.8 1154.4L1362.3 1150.1L1363.8 1145.9L1365.3 1141.7L1366.9 1137.5L1368.4 1133.2L1370.0 1129.0L1371.6 1124.8L1373.2 1120.6L1374.8 1116.4L1376.4 1112.2L1378.1 1108.0L1379.7 1103.8L1381.4 1099.7L1383.0 1095.5L1384.7 1091.3L1386.4 1087.1L1388.1 1083.0L1389.8 1078.8L1391.5 1074.7L1393.2 1070.5L1395.0 1066.4L1396.7 1062.2L1398.5 1058.1L1400.2 1053.9L1402.0 1049.8L1403.8 1045.7L1405.6 1041.5L1407.3 1037.4L1409.1 1033.3L1411.0 1029.2L1412.8 1025.1L1414.7 1021.0L1416.6 1016.9L1418.4 1012.8L1420.3 1008.7L1422.2 1004.6L1424.0 1000.5L1425.9 996.4L1427.7 992.3L1429.5 988.2L1431.3 984.0L1433.0 979.9L1434.8 975.7L1436.6 971.6L1438.3 967.4L1440.1 963.3L1441.8 959.1L1443.5 954.9L1445.1 950.7L1446.6 946.5L1448.1 942.2L1449.4 937.9L1450.7 933.6L1451.9 929.3L1453.1 925.0L1454.3 920.6L1455.4 916.2L1456.5 911.8L1457.6 907.5L1458.6 903.1L1459.7 898.7L1460.8 894.3L1461.9 890.0L1463.0 885.6L1464.1 881.2L1465.1 876.9L1466.1 872.5L1466.4 870.0L1466.3 870.0L1465.5 872.3L1464.4 876.7L1463.2 881.0L1462.1 885.4L1461.0 889.7L1459.8 894.1L1458.7 898.5L1457.7 902.8L1456.6 907.2L1455.5 911.6L1454.4 916.0L1453.3 920.3L1452.1 924.7L1450.9 929.0L1449.7 933.3L1448.4 937.6L1447.0 941.9L1445.6 946.1L1444.0 950.3L1442.4 954.5L1440.7 958.6L1439.0 962.8L1437.2 967.0L1435.5 971.1L1433.7 975.2L1431.9 979.4L1430.1 983.5L1428.3 987.6L1426.5 991.8L1424.7 995.9L1422.8 999.9L1420.9 1004.0L1419.1 1008.1L1417.2 1012.2L1415.3 1016.3L1413.4 1020.4L1411.5 1024.5L1409.6 1028.6L1407.8 1032.7L1406.0 1036.8L1404.2 1040.9L1402.4 1045.0L1400.6 1049.2L1398.8 1053.3L1397.0 1057.4L1395.2 1061.6L1393.5 1065.7L1391.7 1069.9L1390.0 1074.0L1388.2 1078.2L1386.5 1082.3L1384.8 1086.5L1383.1 1090.7L1381.4 1094.8L1379.8 1099.0L1378.1 1103.2L1376.4 1107.4L1374.8 1111.6L1373.2 1115.8L1371.5 1120.0L1369.9 1124.2L1368.3 1128.4L1366.7 1132.6L1365.1 1136.8L1363.6 1141.1L1362.1 1145.3L1360.6 1149.5L1359.1 1153.8L1357.6 1158.0L1356.1 1162.3L1354.7 1166.5L1353.2 1170.8L1351.8 1175.1L1350.4 1179.4L1349.0 1183.6L1347.6 1187.9L1346.2 1192.2L1344.8 1196.5L1343.5 1200.8L1342.1 1205.1L1340.8 1209.4L1339.5 1213.7L1338.2 1218.0L1337.0 1222.4L1335.9 1226.7L1334.8 1231.1L1334.1 1235.6Z" fill="#0f0" fill-opacity="0.810"/><path d="M1413.0 1235.6L1414.7 1231.4L1416.0 1227.1L1417.1 1222.7L1418.1 1218.3L1419.0 1213.9L1419.7 1209.5L1420.4 1205.0L1421.1 1200.6L1421.8 1196.1L1422.4 1191.6L1423.0 1187.2L1423.5 1182.7L1424.1 1178.2L1424.7 1173.8L1425.3 1169.3L1425.9 1164.8L1426.5 1160.4L1427.1 1155.9L1427.8 1151.5L1428.5 1147.0L1429.3 1142.6L1430.0 1138.2L1430.8 1133.7L1431.6 1129.3L1432.3 1124.9L1433.1 1120.4L1433.9 1116.0L1434.7 1111.6L1435.5 1107.2L1436.3 1102.7L1437.1 1098.3L1437.8 1093.9L1438.6 1089.4L1439.3 1085.0L1440.0 1080.5L1440.7 1076.1L1441.5 1071.6L1442.2 1067.2L1442.9 1062.7L1443.7 1058.3L1444.4 1053.9L1445.3 1049.5L1446.1 1045.0L1447.0 1040.7L1447.9 1036.3L1448.9 1031.9L1450.0 1027.6L1451.1 1023.2L1452.3 1018.9L1453.4 1014.5L1454.6 1010.2L1455.8 1005.8L1456.6 1002.2L1456.5 1002.2L1455.1 1005.6L1453.7 1009.9L1452.4 1014.2L1451.1 1018.5L1449.9 1022.9L1448.7 1027.2L1447.7 1031.6L1446.6 1036.0L1445.7 1040.4L1444.8 1044.8L1443.9 1049.2L1443.1 1053.6L1442.3 1058.1L1441.5 1062.5L1440.8 1066.9L1440.0 1071.4L1439.3 1075.8L1438.6 1080.3L1437.8 1084.7L1437.1 1089.2L1436.3 1093.6L1435.6 1098.0L1434.8 1102.5L1434.0 1106.9L1433.2 1111.3L1432.4 1115.7L1431.6 1120.2L1430.8 1124.6L1430.0 1129.0L1429.2 1133.5L1428.4 1137.9L1427.7 1142.3L1426.9 1146.8L1426.2 1151.2L1425.5 1155.7L1424.8 1160.1L1424.2 1164.6L1423.6 1169.1L1423.0 1173.5L1422.4 1178.0L1421.9 1182.5L1421.3 1186.9L1420.7 1191.4L1420.1 1195.9L1419.4 1200.3L1418.7 1204.7L1418.0 1209.2L1417.3 1213.6L1416.5 1218.0L1415.6 1222.4L1414.6 1226.7L1413.6 1231.1L1412.9 1235.6Z" fill="#0f0" fill-opacity="0.756"/><path d="M1481.9 1235.6L1483.0 1231.2L1483.8 1226.8L1484.5 1222.3L1485.0 1217.8L1485.5 1213.4L1485.9 1208.9L1486.3 1204.4L1486.7 1199.9L1487.0 1195.4L1487.4 1190.9L1487.7 1186.4L1488.0 1181.9L1488.3 1177.5L1488.6 1173.0L1488.8 1168.5L1489.1 1164.0L1489.3 1159.5L1489.5 1155.0L1489.8 1150.5L1490.0 1146.0L1490.1 1141.5L1490.3 1137.0L1490.5 1132.5L1490.7 1128.0L1490.8 1123.5L1491.0 1119.0L1491.1 1114.5L1491.3 1110.0L1491.4 1105.5L1491.5 1101.0L1491.6 1096.5L1491.7 1092.0L1491.8 1087.5L1491.9 1083.0L1491.9 1078.4L1492.0 1073.9L1492.1 1069.4L1492.2 1064.9L1492.2 1060.3L1492.3 1055.8L1492.3 1051.4L1492.4 1046.9L1492.4 1042.4L1492.4 1038.0L1491.9 1033.5L1491.0 1029.1L1489.7 1024.7L1488.3 1020.3L1486.8 1016.0L1485.6 1011.6L1484.5 1007.3L1483.3 1002.9L1482.1 998.5L1481.0 994.2L1480.1 989.8L1479.3 985.4L1478.9 981.0L1478.6 976.5L1478.4 972.1L1478.2 967.6L1478.0 963.1L1477.8 958.6L1477.6 954.1L1477.5 949.6L1477.4 945.0L1477.3 940.5L1477.2 936.0L1477.1 931.5L1477.1 927.0L1477.0 922.6L1476.9 918.1L1476.9 913.6L1476.8 909.1L1476.8 904.6L1476.8 900.1L1476.7 895.6L1476.7 891.1L1476.7 886.6L1476.7 882.1L1476.6 877.6L1476.5 873.1L1476.3 870.0L1476.2 870.0L1475.9 873.1L1475.9 877.6L1475.8 882.1L1475.8 886.6L1475.7 891.1L1475.7 895.6L1475.8 900.1L1475.8 904.6L1475.8 909.1L1475.9 913.6L1475.9 918.1L1476.0 922.6L1476.1 927.1L1476.1 931.6L1476.2 936.1L1476.3 940.6L1476.4 945.1L1476.5 949.6L1476.6 954.1L1476.8 958.6L1476.9 963.1L1477.1 967.6L1477.3 972.1L1477.5 976.6L1477.8 981.1L1478.2 985.5L1478.9 990.0L1479.9 994.4L1481.0 998.8L1482.1 1003.2L1483.3 1007.6L1484.4 1012.0L1485.6 1016.4L1487.1 1020.7L1488.5 1025.1L1489.7 1029.4L1490.6 1033.7L1491.0 1038.0L1491.0 1042.4L1491.0 1046.9L1490.9 1051.3L1490.9 1055.8L1490.8 1060.3L1490.7 1064.8L1490.7 1069.4L1490.6 1073.9L1490.5 1078.4L1490.4 1082.9L1490.3 1087.4L1490.2 1092.0L1490.1 1096.5L1490.0 1100.9L1489.8 1105.4L1489.7 1109.9L1489.6 1114.4L1489.4 1118.9L1489.2 1123.4L1489.1 1127.9L1488.9 1132.4L1488.7 1136.9L1488.5 1141.4L1488.3 1145.9L1488.1 1150.4L1487.9 1154.9L1487.7 1159.4L1487.4 1163.9L1487.2 1168.4L1486.9 1172.9L1486.6 1177.3L1486.3 1181.8L1486.0 1186.3L1485.7 1190.8L1485.3 1195.3L1485.0 1199.8L1484.6 1204.3L1484.2 1208.7L1483.8 1213.2L1483.4 1217.7L1483.0 1222.1L1482.5 1226.6L1482.0 1231.1L1481.8 1235.6Z" fill="#0f0" fill-opacity="0.900"/><path d="M1525.8 1235.6L1526.7 1231.2L1527.3 1226.7L1527.9 1222.3L1528.3 1217.8L1528.8 1213.3L1529.2 1208.8L1529.6 1204.3L1530.0 1199.8L1530.4 1195.4L1530.8 1190.9L1531.1 1186.4L1531.5 1181.9L1531.9 1177.4L1532.2 1172.9L1532.6 1168.4L1532.9 1164.0L1533.3 1159.5L1533.6 1155.0L1533.9 1150.5L1534.2 1146.0L1534.5 1141.5L1534.8 1137.0L1535.0 1132.5L1535.2 1128.0L1535.5 1123.5L1535.7 1119.0L1536.0 1114.5L1536.3 1110.0L1536.6 1105.5L1536.9 1101.1L1537.3 1096.6L1537.8 1092.2L1538.3 1087.7L1539.0 1083.3L1539.7 1078.9L1540.5 1074.5L1541.3 1070.1L1542.3 1065.6L1543.2 1061.2L1544.2 1056.8L1545.1 1052.4L1546.1 1048.0L1547.1 1043.6L1548.0 1039.2L1548.9 1034.8L1549.8 1030.4L1550.8 1026.0L1551.7 1021.6L1552.7 1017.2L1553.7 1012.8L1554.7 1008.4L1555.7 1004.1L1556.7 999.7L1557.8 995.3L1558.8 990.9L1559.8 986.5L1560.8 982.1L1561.8 977.8L1562.8 973.4L1563.8 969.0L1564.9 964.6L1565.9 960.2L1567.0 955.8L1568.1 951.5L1569.1 947.1L1570.2 942.7L1571.1 938.3L1572.0 933.9L1572.8 929.5L1573.5 925.0L1574.2 920.6L1574.8 916.1L1575.5 911.7L1576.1 907.2L1576.7 902.7L1577.2 898.3L1577.8 893.8L1578.4 889.3L1579.0 884.9L1579.5 880.4L1580.0 875.9L1580.4 871.4L1580.3 870.0L1580.2 870.0L1579.8 871.4L1579.2 875.8L1578.6 880.3L1578.0 884.7L1577.4 889.2L1576.8 893.7L1576.2 898.1L1575.7 902.6L1575.1 907.1L1574.5 911.5L1573.9 916.0L1573.2 920.4L1572.5 924.9L1571.8 929.3L1571.0 933.7L1570.1 938.1L1569.2 942.5L1568.2 946.9L1567.1 951.2L1566.0 955.6L1564.9 960.0L1563.8 964.4L1562.8 968.7L1561.8 973.1L1560.8 977.5L1559.7 981.9L1558.7 986.3L1557.6 990.6L1556.6 995.0L1555.6 999.4L1554.5 1003.8L1553.5 1008.2L1552.5 1012.5L1551.5 1016.9L1550.5 1021.3L1549.5 1025.7L1548.5 1030.1L1547.6 1034.5L1546.7 1038.9L1545.7 1043.3L1544.8 1047.7L1543.8 1052.1L1542.8 1056.5L1541.8 1060.9L1540.9 1065.4L1539.9 1069.8L1539.1 1074.2L1538.2 1078.6L1537.5 1083.1L1536.8 1087.5L1536.3 1092.0L1535.8 1096.5L1535.4 1100.9L1535.0 1105.4L1534.7 1109.9L1534.4 1114.4L1534.1 1118.9L1533.9 1123.4L1533.6 1127.9L1533.4 1132.4L1533.1 1136.9L1532.9 1141.4L1532.6 1145.9L1532.3 1150.4L1532.0 1154.9L1531.6 1159.3L1531.3 1163.8L1530.9 1168.3L1530.6 1172.8L1530.2 1177.3L1529.8 1181.8L1529.4 1186.3L1529.1 1190.7L1528.7 1195.2L1528.3 1199.7L1527.9 1204.2L1527.5 1208.7L1527.1 1213.1L1526.7 1217.6L1526.3 1222.1L1526.0 1226.6L1525.7 1231.1L1525.6 1235.6Z" fill="#0f0" fill-opacity="0.900"/><path d="M1586.6 1235.6L1587.1 1231.1L1587.3 1226.6L1587.5 1222.1L1587.6 1217.6L1587.7 1213.1L1587.8 1208.6L1587.8 1204.1L1587.9 1199.6L1588.0 1195.1L1588.0 1190.6L1588.1 1186.1L1588.1 1181.6L1588.2 1177.1L1588.2 1172.6L1588.3 1168.1L1588.3 1163.6L1588.4 1159.1L1588.4 1154.6L1588.4 1150.1L1588.5 1145.6L1588.5 1141.1L1588.5 1136.6L1588.5 1132.1L1588.6 1127.6L1588.6 1123.1L1588.6 1118.6L1588.6 1114.1L1588.6 1109.6L1588.6 1105.1L1588.7 1100.6L1588.7 1096.1L1588.7 1091.6L1588.7 1087.1L1588.8 1082.6L1588.8 1078.1L1588.8 1073.6L1588.9 1069.1L1588.9 1064.6L1589.0 1060.2L1589.2 1055.7L1589.4 1051.2L1589.7 1046.7L1590.0 1042.2L1590.4 1037.8L1590.8 1033.3L1591.2 1028.8L1591.6 1024.3L1592.1 1019.8L1592.5 1015.4L1593.0 1010.9L1593.5 1006.4L1593.9 1001.9L1594.4 997.4L1594.8 992.9L1595.3 988.5L1595.6 984.0L1596.0 979.5L1596.4 975.0L1596.7 970.5L1597.1 966.0L1597.5 961.5L1597.8 957.1L1598.2 952.6L1598.6 948.1L1598.9 943.6L1599.3 939.1L1599.7 934.6L1600.1 930.1L1600.5 925.7L1600.8 921.2L1601.2 916.7L1601.6 912.2L1602.0 907.7L1602.4 903.3L1602.8 898.8L1603.2 894.3L1603.5 889.8L1603.8 885.3L1604.1 880.8L1604.4 876.3L1604.7 871.8L1604.5 870.0L1604.4 870.0L1604.1 871.8L1603.6 876.3L1603.3 880.7L1602.9 885.2L1602.5 889.7L1602.2 894.2L1601.8 898.7L1601.4 903.2L1601.0 907.6L1600.6 912.1L1600.2 916.6L1599.8 921.1L1599.5 925.6L1599.1 930.1L1598.7 934.5L1598.3 939.0L1597.9 943.5L1597.6 948.0L1597.2 952.5L1596.8 957.0L1596.4 961.5L1596.0 965.9L1595.7 970.4L1595.3 974.9L1594.9 979.4L1594.5 983.9L1594.1 988.3L1593.7 992.8L1593.2 997.3L1592.7 1001.8L1592.3 1006.3L1591.8 1010.7L1591.3 1015.2L1590.8 1019.7L1590.3 1024.2L1589.9 1028.7L1589.4 1033.2L1589.0 1037.7L1588.7 1042.1L1588.3 1046.6L1588.0 1051.1L1587.8 1055.6L1587.6 1060.1L1587.5 1064.6L1587.4 1069.1L1587.4 1073.6L1587.3 1078.1L1587.3 1082.6L1587.2 1087.1L1587.2 1091.6L1587.2 1096.1L1587.1 1100.6L1587.1 1105.1L1587.1 1109.6L1587.0 1114.1L1587.0 1118.6L1587.0 1123.1L1587.0 1127.6L1586.9 1132.1L1586.9 1136.6L1586.9 1141.1L1586.8 1145.6L1586.8 1150.1L1586.8 1154.6L1586.7 1159.1L1586.7 1163.6L1586.6 1168.1L1586.5 1172.6L1586.5 1177.1L1586.4 1181.6L1586.4 1186.1L1586.3 1190.6L1586.2 1195.1L1586.2 1199.6L1586.1 1204.1L1586.0 1208.6L1586.0 1213.1L1586.0 1217.6L1585.9 1222.1L1586.0 1226.6L1586.0 1231.1L1586.4 1235.6Z" fill="#0f0" fill-opacity="0.900"/><path d="M1640.6 1235.6L1640.9 1231.1L1641.0 1226.6L1641.0 1222.1L1641.0 1217.6L1641.0 1213.1L1640.9 1208.6L1640.9 1204.1L1640.8 1199.6L1640.8 1195.1L1640.7 1190.6L1640.7 1186.1L1640.6 1181.6L1640.6 1177.1L1640.5 1172.6L1640.4 1168.1L1640.4 1163.6L1640.3 1159.1L1640.2 1154.6L1640.2 1150.1L1640.1 1145.6L1640.0 1141.1L1639.9 1136.6L1639.8 1132.1L1639.7 1127.6L1639.6 1123.1L1639.5 1118.6L1639.3 1114.1L1639.2 1109.6L1639.1 1105.1L1639.0 1100.6L1638.8 1096.1L1638.7 1091.6L1638.5 1087.1L1638.4 1082.6L1638.2 1078.1L1638.1 1073.6L1637.9 1069.1L1637.7 1064.6L1637.5 1060.1L1637.4 1055.6L1637.2 1051.1L1637.0 1046.6L1636.8 1042.1L1636.6 1037.6L1636.4 1033.2L1636.2 1028.7L1635.9 1024.2L1635.6 1019.7L1635.4 1015.2L1635.1 1010.7L1634.8 1006.2L1634.4 1001.7L1634.1 997.2L1633.8 992.7L1633.5 988.2L1633.1 983.7L1632.8 979.3L1632.5 974.8L1632.1 970.3L1631.8 965.8L1631.5 961.3L1631.2 956.8L1630.8 952.3L1630.5 947.8L1630.2 943.4L1629.9 938.9L1629.5 934.4L1629.2 929.9L1628.8 925.4L1628.5 920.9L1628.2 916.4L1627.8 911.9L1627.5 907.5L1627.1 903.0L1626.8 898.5L1626.5 894.0L1626.1 889.5L1625.8 885.0L1625.4 880.5L1625.0 876.1L1624.6 871.6L1624.2 870.0L1624.1 870.0L1624.0 871.6L1624.2 876.1L1624.5 880.6L1624.8 885.1L1625.1 889.6L1625.5 894.1L1625.8 898.6L1626.1 903.0L1626.5 907.5L1626.8 912.0L1627.2 916.5L1627.5 921.0L1627.8 925.5L1628.2 930.0L1628.5 934.5L1628.9 938.9L1629.2 943.4L1629.5 947.9L1629.8 952.4L1630.2 956.9L1630.5 961.4L1630.8 965.9L1631.1 970.4L1631.4 974.8L1631.7 979.3L1632.0 983.8L1632.3 988.3L1632.6 992.8L1632.9 997.3L1633.2 1001.8L1633.5 1006.3L1633.8 1010.8L1634.1 1015.3L1634.4 1019.7L1634.6 1024.2L1634.9 1028.7L1635.1 1033.2L1635.3 1037.7L1635.4 1042.2L1635.6 1046.7L1635.8 1051.2L1636.0 1055.7L1636.1 1060.2L1636.3 1064.7L1636.4 1069.2L1636.6 1073.7L1636.7 1078.2L1636.9 1082.7L1637.0 1087.2L1637.2 1091.7L1637.3 1096.2L1637.4 1100.7L1637.5 1105.2L1637.7 1109.7L1637.8 1114.1L1637.9 1118.6L1638.0 1123.1L1638.1 1127.6L1638.2 1132.1L1638.3 1136.6L1638.4 1141.1L1638.4 1145.6L1638.5 1150.1L1638.6 1154.6L1638.7 1159.1L1638.7 1163.6L1638.8 1168.1L1638.8 1172.6L1638.9 1177.1L1638.9 1181.6L1639.0 1186.1L1639.0 1190.6L1639.1 1195.1L1639.1 1199.6L1639.1 1204.1L1639.2 1208.6L1639.3 1213.1L1639.4 1217.6L1639.5 1222.1L1639.6 1226.6L1639.9 1231.1L1640.4 1235.6Z" fill="#0f0" fill-opacity="0.900"/><path d="M1699.3 1235.6L1699.4 1231.1L1699.2 1226.6L1698.9 1222.1L1698.6 1217.6L1698.3 1213.1L1697.9 1208.6L1697.6 1204.1L1697.3 1199.7L1696.9 1195.2L1696.6 1190.7L1696.3 1186.2L1695.9 1181.7L1695.6 1177.2L1695.3 1172.7L1695.0 1168.2L1694.6 1163.8L1694.3 1159.3L1693.9 1154.8L1693.5 1150.3L1693.2 1145.8L1692.8 1141.3L1692.5 1136.8L1692.1 1132.3L1691.8 1127.9L1691.4 1123.4L1691.0 1118.9L1690.7 1114.4L1690.3 1109.9L1689.9 1105.4L1689.5 1100.9L1689.1 1096.4L1688.7 1091.9L1688.2 1087.5L1687.8 1083.0L1687.3 1078.5L1686.8 1074.0L1686.3 1069.6L1685.7 1065.1L1685.1 1060.7L1684.4 1056.2L1683.6 1051.8L1682.8 1047.4L1681.9 1042.9L1681.0 1038.5L1680.1 1034.1L1679.2 1029.7L1678.2 1025.3L1677.3 1020.9L1676.3 1016.5L1675.4 1012.1L1674.5 1007.7L1673.6 1003.2L1672.7 998.8L1671.8 994.4L1670.9 990.0L1670.0 985.6L1669.1 981.2L1668.1 976.8L1667.2 972.4L1666.2 968.0L1665.3 963.6L1664.3 959.2L1663.3 954.8L1662.3 950.4L1661.3 946.0L1660.3 941.7L1659.3 937.3L1658.3 932.9L1657.2 928.5L1656.2 924.1L1655.2 919.7L1654.1 915.4L1653.1 911.0L1652.1 906.6L1651.1 902.2L1650.1 897.8L1649.1 893.5L1648.1 889.1L1647.1 884.7L1646.2 880.3L1645.2 875.9L1644.2 871.5L1643.6 870.0L1643.5 870.0L1643.6 871.6L1644.4 876.0L1645.3 880.5L1646.2 884.9L1647.1 889.3L1648.1 893.7L1649.1 898.1L1650.1 902.5L1651.1 906.8L1652.1 911.2L1653.2 915.6L1654.2 920.0L1655.2 924.4L1656.3 928.7L1657.3 933.1L1658.3 937.5L1659.4 941.9L1660.4 946.3L1661.4 950.6L1662.3 955.0L1663.3 959.4L1664.2 963.8L1665.2 968.2L1666.1 972.6L1667.0 977.0L1668.0 981.4L1668.9 985.8L1669.8 990.3L1670.7 994.7L1671.6 999.1L1672.5 1003.5L1673.3 1007.9L1674.2 1012.3L1675.1 1016.7L1676.0 1021.1L1677.0 1025.5L1677.9 1030.0L1678.8 1034.4L1679.7 1038.8L1680.6 1043.2L1681.4 1047.6L1682.2 1052.0L1683.0 1056.5L1683.7 1060.9L1684.3 1065.3L1684.8 1069.8L1685.3 1074.2L1685.8 1078.7L1686.3 1083.1L1686.8 1087.6L1687.2 1092.1L1687.6 1096.6L1688.0 1101.0L1688.4 1105.5L1688.7 1110.0L1689.1 1114.5L1689.5 1119.0L1689.8 1123.5L1690.2 1128.0L1690.5 1132.5L1690.8 1137.0L1691.2 1141.5L1691.5 1145.9L1691.9 1150.4L1692.3 1154.9L1692.6 1159.4L1692.9 1163.9L1693.3 1168.4L1693.6 1172.9L1693.9 1177.3L1694.3 1181.8L1694.6 1186.3L1694.9 1190.8L1695.2 1195.3L1695.5 1199.8L1695.9 1204.3L1696.2 1208.8L1696.6 1213.3L1696.9 1217.7L1697.4 1222.2L1697.8 1226.7L1698.4 1231.2L1699.2 1235.6Z" fill="#0f0" fill-opacity="0.900"/><path d="M1759.8 1235.6L1759.6 1231.1L1759.2 1226.6L1758.7 1222.1L1758.2 1217.7L1757.6 1213.2L1757.1 1208.7L1756.6 1204.3L1756.0 1199.8L1755.5 1195.3L1755.0 1190.9L1754.4 1186.4L1753.9 1181.9L1753.4 1177.4L1752.8 1173.0L1752.3 1168.5L1751.7 1164.0L1751.1 1159.6L1750.4 1155.1L1749.8 1150.7L1749.1 1146.2L1748.4 1141.8L1747.6 1137.3L1746.8 1132.9L1746.0 1128.5L1745.2 1124.0L1744.3 1119.6L1743.5 1115.2L1742.6 1110.8L1741.7 1106.4L1740.8 1102.0L1739.9 1097.5L1739.0 1093.1L1738.2 1088.7L1737.3 1084.3L1736.4 1079.9L1735.5 1075.5L1734.6 1071.0L1733.7 1066.6L1732.8 1062.2L1731.8 1057.8L1730.8 1053.4L1729.8 1049.0L1728.7 1044.7L1727.6 1040.3L1726.5 1036.0L1725.3 1031.6L1724.0 1027.3L1722.7 1023.0L1721.4 1018.6L1720.0 1014.3L1718.6 1010.0L1717.1 1005.8L1715.5 1001.5L1713.9 997.3L1712.3 993.2L1710.6 989.0L1708.8 984.9L1706.8 980.8L1704.8 976.7L1702.8 972.7L1700.7 968.7L1698.5 964.8L1696.3 960.8L1694.0 957.0L1691.6 953.1L1689.2 949.4L1686.6 945.9L1686.6 946.0L1688.7 949.7L1691.0 953.5L1693.3 957.4L1695.5 961.3L1697.6 965.3L1699.7 969.2L1701.8 973.2L1703.8 977.2L1705.8 981.3L1707.7 985.4L1709.5 989.5L1711.2 993.6L1712.8 997.8L1714.4 1002.0L1715.9 1006.2L1717.4 1010.4L1718.8 1014.7L1720.2 1019.0L1721.5 1023.3L1722.8 1027.6L1724.0 1032.0L1725.2 1036.3L1726.3 1040.6L1727.4 1045.0L1728.5 1049.3L1729.5 1053.7L1730.4 1058.1L1731.4 1062.5L1732.3 1066.9L1733.2 1071.3L1734.1 1075.7L1735.0 1080.2L1735.8 1084.6L1736.7 1089.0L1737.6 1093.4L1738.4 1097.8L1739.3 1102.3L1740.2 1106.7L1741.0 1111.1L1741.9 1115.5L1742.8 1119.9L1743.6 1124.3L1744.4 1128.8L1745.2 1133.2L1746.0 1137.6L1746.8 1142.0L1747.5 1146.5L1748.2 1150.9L1748.8 1155.4L1749.4 1159.8L1750.0 1164.3L1750.6 1168.7L1751.2 1173.2L1751.7 1177.6L1752.2 1182.1L1752.8 1186.6L1753.3 1191.1L1753.8 1195.5L1754.3 1200.0L1754.8 1204.5L1755.4 1208.9L1755.9 1213.4L1756.5 1217.9L1757.2 1222.3L1757.9 1226.8L1758.6 1231.2L1759.6 1235.6Z" fill="#0f0" fill-opacity="0.900"/><path d="M1823.7 1235.6L1823.5 1231.1L1822.9 1226.6L1822.2 1222.1L1821.4 1217.7L1820.4 1213.3L1819.2 1208.9L1818.1 1204.6L1817.0 1200.2L1816.0 1195.8L1815.1 1191.4L1814.1 1187.0L1813.2 1182.6L1812.3 1178.2L1811.4 1173.8L1810.5 1169.4L1809.6 1165.0L1808.7 1160.6L1807.8 1156.2L1806.9 1151.7L1806.0 1147.3L1805.1 1142.9L1804.1 1138.5L1803.1 1134.1L1802.1 1129.8L1801.1 1125.4L1800.0 1121.0L1798.8 1116.7L1797.6 1112.3L1796.4 1108.0L1795.1 1103.7L1793.8 1099.4L1792.5 1095.1L1791.1 1090.8L1789.8 1086.5L1788.4 1082.2L1787.0 1077.9L1785.7 1073.6L1784.3 1069.3L1782.9 1065.0L1781.5 1060.7L1780.0 1056.4L1778.4 1052.2L1776.8 1047.9L1775.3 1043.7L1773.8 1039.4L1772.3 1035.2L1770.9 1030.9L1769.7 1026.6L1768.6 1022.3L1767.8 1018.0L1766.9 1013.6L1766.1 1009.2L1765.3 1004.7L1764.6 1000.2L1764.1 995.8L1763.8 991.3L1763.7 986.9L1763.7 982.4L1763.7 977.9L1763.6 973.4L1763.6 968.9L1763.6 964.4L1763.6 959.9L1763.6 955.4L1763.6 950.9L1763.6 946.4L1763.6 941.9L1763.5 937.4L1763.5 932.9L1763.5 928.4L1763.4 923.9L1763.3 919.4L1763.3 914.9L1763.2 910.4L1763.2 905.9L1763.1 901.4L1763.0 896.9L1762.9 892.4L1762.8 887.9L1762.6 883.4L1762.4 878.9L1762.2 874.4L1761.7 870.0L1761.6 870.0L1761.6 874.4L1761.6 878.9L1761.7 883.4L1761.8 887.9L1761.9 892.4L1762.0 896.9L1762.1 901.4L1762.2 905.9L1762.2 910.4L1762.3 914.9L1762.3 919.4L1762.4 923.9L1762.5 928.4L1762.5 932.9L1762.5 937.4L1762.6 941.9L1762.6 946.4L1762.6 950.9L1762.6 955.4L1762.6 959.9L1762.6 964.4L1762.6 968.9L1762.6 973.4L1762.5 977.9L1762.5 982.4L1762.5 986.9L1762.6 991.4L1762.9 995.9L1763.4 1000.4L1764.1 1004.9L1764.9 1009.4L1765.7 1013.8L1766.5 1018.2L1767.4 1022.6L1768.5 1027.0L1769.7 1031.3L1771.0 1035.6L1772.5 1039.9L1774.0 1044.1L1775.6 1048.4L1777.1 1052.7L1778.7 1056.9L1780.2 1061.2L1781.6 1065.4L1782.9 1069.7L1784.3 1074.0L1785.6 1078.3L1787.0 1082.6L1788.3 1086.9L1789.7 1091.2L1791.0 1095.5L1792.3 1099.8L1793.6 1104.1L1794.9 1108.4L1796.1 1112.8L1797.3 1117.1L1798.4 1121.4L1799.5 1125.8L1800.5 1130.1L1801.6 1134.5L1802.5 1138.9L1803.5 1143.3L1804.4 1147.7L1805.3 1152.1L1806.2 1156.5L1807.1 1160.9L1808.0 1165.3L1808.9 1169.7L1809.7 1174.1L1810.6 1178.6L1811.5 1183.0L1812.5 1187.4L1813.4 1191.8L1814.4 1196.2L1815.4 1200.6L1816.4 1205.0L1817.6 1209.4L1818.7 1213.7L1819.8 1218.0L1820.7 1222.4L1821.6 1226.8L1822.4 1231.2L1823.5 1235.6Z" fill="#0f0" fill-opacity="0.900"/><path d="M1858.8 1137.2L1858.1 1132.7L1857.1 1128.3L1856.0 1123.9L1854.8 1119.5L1853.6 1115.2L1852.3 1110.9L1851.0 1106.5L1849.7 1102.2L1848.3 1098.0L1846.9 1093.7L1845.5 1089.4L1844.1 1085.1L1842.6 1080.9L1841.1 1076.7L1839.6 1072.4L1838.0 1068.2L1836.3 1064.0L1834.6 1059.8L1832.9 1055.7L1831.2 1051.5L1829.4 1047.4L1827.6 1043.2L1825.9 1039.1L1824.0 1035.0L1822.2 1030.9L1820.3 1026.8L1818.4 1022.7L1816.4 1018.6L1814.5 1014.6L1812.6 1010.5L1810.8 1006.4L1808.9 1002.3L1806.8 998.1L1804.6 994.0L1802.7 989.9L1801.3 985.8L1800.7 981.6L1800.4 977.3L1800.2 972.9L1799.9 968.5L1799.8 964.0L1799.6 959.5L1799.5 954.9L1799.3 950.4L1799.2 945.8L1799.1 941.3L1799.0 936.7L1798.9 932.2L1798.8 927.6L1798.7 923.1L1798.5 918.7L1798.4 914.2L1798.3 909.7L1798.2 905.2L1798.1 900.7L1797.9 896.2L1797.8 891.7L1797.7 887.2L1797.6 882.7L1797.4 878.2L1797.2 873.7L1796.9 870.0L1796.8 870.0L1796.6 873.7L1796.6 878.2L1796.7 882.7L1796.7 887.2L1796.8 891.7L1796.9 896.2L1797.1 900.7L1797.2 905.2L1797.3 909.7L1797.4 914.2L1797.5 918.7L1797.7 923.2L1797.8 927.7L1797.9 932.2L1798.0 936.7L1798.1 941.3L1798.2 945.9L1798.3 950.4L1798.4 955.0L1798.6 959.5L1798.7 964.0L1798.9 968.5L1799.1 973.0L1799.3 977.4L1799.6 981.7L1800.2 986.1L1801.6 990.3L1803.6 994.5L1805.7 998.7L1807.8 1002.8L1809.7 1006.9L1811.5 1011.0L1813.4 1015.1L1815.3 1019.2L1817.2 1023.2L1819.1 1027.3L1821.0 1031.4L1822.8 1035.5L1824.6 1039.6L1826.4 1043.8L1828.1 1047.9L1829.9 1052.1L1831.6 1056.2L1833.3 1060.4L1835.0 1064.6L1836.6 1068.7L1838.2 1072.9L1839.7 1077.2L1841.2 1081.4L1842.7 1085.6L1844.1 1089.9L1845.5 1094.1L1846.9 1098.4L1848.2 1102.7L1849.5 1107.0L1850.8 1111.3L1852.1 1115.6L1853.4 1119.9L1854.6 1124.3L1855.9 1128.6L1857.2 1132.9L1858.6 1137.2Z" fill="#0f0" fill-opacity="0.900"/><path d="M1686.6 945.9L1688.0 951.1L1690.1 955.7L1692.6 959.7L1695.5 962.8L1698.7 964.9L1702.7 966.5L1707.3 967.9L1712.1 968.7L1716.7 968.9L1721.9 967.9L1726.4 966.0L1728.9 963.7L1730.3 960.3L1731.5 955.8L1732.4 950.8L1733.0 945.6L1733.2 940.7L1733.3 936.2L1733.3 931.8L1733.4 927.3L1733.4 922.8L1733.4 918.2L1733.5 913.7L1733.5 909.2L1733.5 904.7L1733.5 900.2L1733.5 895.7L1733.5 891.2L1733.5 886.7L1733.4 882.2L1733.4 877.7L1733.3 873.2L1733.1 870.0L1733.0 870.0L1732.7 873.2L1732.6 877.7L1732.6 882.2L1732.5 886.7L1732.5 891.2L1732.5 895.7L1732.5 900.2L1732.5 904.7L1732.5 909.2L1732.5 913.7L1732.4 918.2L1732.4 922.8L1732.4 927.3L1732.3 931.7L1732.3 936.2L1732.2 940.7L1732.0 945.5L1731.4 950.6L1730.5 955.6L1729.4 960.0L1728.0 963.2L1725.9 965.1L1721.6 966.9L1716.6 967.9L1712.2 967.7L1707.5 966.9L1703.0 965.6L1699.2 964.0L1696.1 962.1L1693.3 959.1L1690.7 955.4L1688.5 950.9L1686.7 945.9Z" fill="#0f0" fill-opacity="0.756"/><path d="M1709.6 870.0L1709.3 874.5L1709.3 879.0L1709.2 883.5L1709.2 888.0L1709.2 892.5L1709.2 897.0L1709.2 901.5L1709.2 906.0L1709.2 910.5L1709.2 915.0L1709.2 919.5L1709.2 924.0L1709.2 928.5L1709.2 933.0L1709.2 937.5L1709.3 942.0L1709.4 946.5L1709.4 951.0L1709.6 955.5L1709.7 960.0L1709.9 964.5L1710.2 965.6L1710.3 965.6L1710.5 964.5L1710.5 960.0L1710.5 955.5L1710.4 951.0L1710.4 946.5L1710.3 942.0L1710.2 937.5L1710.2 933.0L1710.2 928.5L1710.2 924.0L1710.2 919.5L1710.2 915.0L1710.2 910.5L1710.2 906.0L1710.2 901.5L1710.2 897.0L1710.2 892.5L1710.2 888.0L1710.1 883.5L1710.1 879.0L1710.0 874.5L1709.7 870.0Z" fill="#0f0" fill-opacity="0.900"/><path d="M1477.6 976.9L1477.7 982.6L1478.7 987.9L1480.3 992.1L1482.4 994.5L1485.4 995.7L1489.4 996.7L1494.3 997.5L1499.5 998.1L1504.8 998.5L1509.9 998.8L1514.4 998.8L1518.7 997.4L1522.7 994.4L1526.3 990.9L1529.3 987.6L1531.9 984.0L1534.3 980.1L1536.4 975.9L1538.4 971.7L1540.2 967.6L1541.9 963.4L1543.5 959.2L1544.9 954.9L1546.3 950.6L1547.7 946.2L1549.0 941.9L1550.4 937.6L1551.7 933.3L1553.0 929.0L1554.3 924.7L1555.5 920.4L1556.8 916.1L1558.0 911.7L1559.3 907.4L1560.6 903.1L1561.8 898.8L1563.0 894.4L1564.0 890.0L1565.0 885.6L1566.0 881.2L1566.8 876.8L1567.5 872.3L1567.7 870.0L1567.6 870.0L1566.9 872.2L1566.0 876.6L1565.0 881.0L1564.0 885.4L1562.9 889.8L1561.8 894.1L1560.7 898.4L1559.4 902.8L1558.1 907.1L1556.8 911.4L1555.5 915.7L1554.3 920.0L1553.0 924.3L1551.7 928.6L1550.4 932.9L1549.0 937.2L1547.7 941.5L1546.3 945.8L1544.9 950.1L1543.5 954.4L1542.0 958.6L1540.4 962.8L1538.7 966.9L1536.9 971.0L1534.9 975.2L1532.8 979.3L1530.5 983.1L1528.0 986.5L1525.0 989.7L1521.6 993.1L1517.8 995.8L1514.1 997.1L1509.9 997.0L1505.0 996.7L1499.7 996.3L1494.5 995.7L1489.8 995.0L1485.9 994.1L1483.3 993.2L1481.7 991.3L1480.0 987.5L1478.7 982.4L1477.7 976.9Z" fill="#0f0" fill-opacity="0.900"/><path d="M1509.4 870.0L1509.1 874.5L1509.0 879.0L1509.0 883.5L1508.9 888.0L1508.9 892.5L1508.9 897.0L1509.0 901.5L1509.1 906.0L1509.3 910.5L1509.4 915.0L1509.6 919.5L1509.8 924.0L1509.9 928.5L1510.1 933.0L1510.2 937.5L1510.3 942.0L1510.3 946.5L1510.4 951.0L1510.5 955.5L1510.5 960.0L1510.6 964.5L1510.7 969.0L1510.8 973.5L1510.9 978.0L1511.3 982.5L1511.5 982.5L1511.8 978.0L1511.8 973.5L1511.9 969.0L1511.8 964.5L1511.8 960.0L1511.7 955.5L1511.6 951.0L1511.6 946.5L1511.5 942.0L1511.4 937.5L1511.2 933.0L1511.1 928.5L1510.9 924.0L1510.7 919.5L1510.5 915.0L1510.3 910.5L1510.2 906.0L1510.0 901.5L1510.0 897.0L1509.9 892.5L1509.9 888.0L1509.9 883.5L1509.8 879.0L1509.7 874.5L1509.5 870.0Z" fill="#0f0" fill-opacity="0.900"/><path d="M1678.2 912.2L1678.0 907.7L1677.5 903.2L1676.9 898.7L1676.3 894.3L1675.7 889.8L1675.1 885.4L1674.5 880.9L1673.9 876.4L1673.2 872.0L1672.6 870.0L1672.5 870.0L1672.4 872.1L1672.9 876.6L1673.5 881.0L1674.1 885.5L1674.7 890.0L1675.3 894.4L1675.9 898.9L1676.5 903.3L1677.1 907.8L1678.1 912.2Z" fill="#0f0" fill-opacity="0.900"/><path d="M1590.9 870.0L1590.6 874.5L1590.5 879.0L1590.3 883.5L1590.2 888.0L1590.1 892.5L1589.9 897.0L1589.8 901.5L1589.7 906.0L1589.5 910.5L1589.4 915.0L1589.2 919.5L1589.0 924.0L1588.8 928.4L1588.6 932.9L1588.4 937.4L1588.2 941.9L1587.9 946.4L1587.7 950.9L1587.5 955.4L1587.2 959.9L1587.0 964.4L1586.7 968.9L1586.5 973.4L1586.3 977.9L1586.4 979.7L1586.5 979.7L1586.9 977.9L1587.3 973.4L1587.6 968.9L1587.9 964.4L1588.2 960.0L1588.5 955.5L1588.7 951.0L1588.9 946.5L1589.2 942.0L1589.4 937.5L1589.6 933.0L1589.8 928.5L1590.0 924.0L1590.2 919.5L1590.4 915.0L1590.5 910.5L1590.7 906.0L1590.8 901.5L1590.9 897.0L1591.1 892.5L1591.1 888.0L1591.2 883.5L1591.2 879.0L1591.2 874.5L1591.0 870.0Z" fill="#0f0" fill-opacity="0.900"/><path d="M1614.0 870.0L1613.7 874.5L1613.7 879.0L1613.6 883.5L1613.6 888.0L1613.5 892.5L1613.5 897.0L1613.5 901.5L1613.5 906.0L1613.6 910.5L1613.6 915.0L1613.7 919.5L1613.7 924.0L1613.8 928.5L1613.9 933.0L1614.0 937.5L1614.1 942.0L1614.2 946.5L1614.3 951.0L1614.4 955.5L1614.5 960.0L1614.7 964.5L1614.9 969.0L1615.1 973.5L1615.4 974.1L1615.5 974.1L1615.7 973.5L1615.7 969.0L1615.6 964.5L1615.5 960.0L1615.4 955.5L1615.3 951.0L1615.2 946.5L1615.1 942.0L1615.0 937.5L1614.9 933.0L1614.8 928.5L1614.7 924.0L1614.7 919.5L1614.6 915.0L1614.6 910.5L1614.5 906.0L1614.5 901.5L1614.5 897.0L1614.5 892.5L1614.5 888.0L1614.5 883.5L1614.4 879.0L1614.3 874.5L1614.1 870.0Z" fill="#0f0" fill-opacity="0.900"/><path d="M1636.5 870.0L1636.4 874.5L1636.4 879.0L1636.6 883.5L1636.7 888.0L1636.9 892.5L1637.1 897.0L1637.3 901.5L1637.6 906.0L1637.8 910.5L1638.1 915.0L1638.4 919.5L1638.8 924.0L1639.1 928.5L1639.4 932.9L1639.8 937.4L1640.2 941.9L1640.5 946.4L1640.9 950.9L1641.3 955.4L1641.7 959.8L1642.1 964.3L1642.6 968.8L1643.1 973.3L1643.6 977.8L1644.1 979.7L1644.2 979.7L1644.2 977.7L1643.9 973.2L1643.5 968.7L1643.1 964.2L1642.7 959.8L1642.3 955.3L1641.9 950.8L1641.5 946.3L1641.2 941.8L1640.8 937.3L1640.4 932.9L1640.1 928.4L1639.8 923.9L1639.4 919.4L1639.1 914.9L1638.8 910.4L1638.6 905.9L1638.3 901.4L1638.1 897.0L1637.9 892.5L1637.7 888.0L1637.4 883.5L1637.2 879.0L1637.0 874.5L1636.6 870.0Z" fill="#0f0" fill-opacity="0.900"/></g>
<g filter="url(#b1_5)"><path d="M1285.3 1235.7L1287.8 1231.6L1289.3 1227.3L1290.6 1223.0L1291.7 1218.7L1292.9 1214.4L1293.9 1210.0L1295.0 1205.7L1296.1 1201.3L1297.2 1197.0L1298.4 1192.7L1299.6 1188.3L1300.8 1184.0L1302.0 1179.7L1303.3 1175.4L1304.6 1171.1L1305.9 1166.8L1307.2 1162.5L1308.6 1158.2L1309.9 1154.0L1311.3 1149.7L1312.7 1145.5L1314.2 1141.3L1315.6 1137.1L1317.2 1132.8L1318.7 1128.6L1320.3 1124.4L1321.9 1120.2L1323.4 1116.0L1325.0 1111.8L1326.4 1107.6L1327.8 1103.3L1329.1 1098.9L1329.1 1095.1L1328.6 1094.9L1325.9 1097.6L1323.6 1101.5L1321.6 1105.6L1319.7 1109.7L1317.9 1113.8L1316.2 1118.0L1314.5 1122.2L1312.9 1126.5L1311.3 1130.7L1309.8 1135.0L1308.3 1139.2L1306.8 1143.5L1305.3 1147.7L1303.9 1152.0L1302.5 1156.3L1301.1 1160.6L1299.8 1164.9L1298.4 1169.2L1297.1 1173.6L1295.8 1177.9L1294.6 1182.2L1293.3 1186.6L1292.1 1190.9L1290.9 1195.3L1289.7 1199.7L1288.6 1204.1L1287.5 1208.4L1286.5 1212.8L1285.6 1217.3L1284.8 1221.8L1284.2 1226.3L1283.9 1230.8L1284.7 1235.5Z" fill="url(#n29)"/><path d="M1334.5 1235.7L1337.3 1231.8L1339.1 1227.6L1340.6 1223.4L1342.1 1219.2L1343.5 1214.9L1344.8 1210.6L1346.1 1206.3L1347.5 1202.0L1348.8 1197.8L1350.1 1193.5L1351.5 1189.2L1352.9 1184.9L1354.3 1180.6L1355.7 1176.4L1357.1 1172.1L1358.5 1167.8L1359.9 1163.6L1361.4 1159.3L1362.9 1155.1L1364.3 1150.9L1365.8 1146.6L1367.3 1142.4L1368.9 1138.2L1370.4 1134.0L1372.0 1129.8L1373.6 1125.6L1375.1 1121.4L1376.7 1117.2L1378.4 1113.0L1380.0 1108.8L1381.6 1104.6L1383.2 1100.4L1384.9 1096.2L1386.5 1092.0L1388.2 1087.9L1389.9 1083.7L1391.6 1079.5L1393.3 1075.4L1395.0 1071.2L1396.7 1067.1L1398.4 1062.9L1400.2 1058.8L1401.9 1054.6L1403.7 1050.5L1405.4 1046.4L1407.2 1042.2L1409.0 1038.1L1410.7 1034.0L1412.5 1029.9L1414.4 1025.8L1416.2 1021.7L1418.1 1017.6L1419.9 1013.5L1421.8 1009.4L1423.6 1005.3L1425.5 1001.2L1427.3 997.0L1429.1 992.9L1430.9 988.8L1432.6 984.6L1434.4 980.4L1436.1 976.3L1437.9 972.1L1439.6 968.0L1441.4 963.8L1443.1 959.6L1444.7 955.4L1446.3 951.1L1447.8 946.9L1449.3 942.6L1450.6 938.3L1451.9 934.0L1453.1 929.6L1454.3 925.3L1455.4 920.9L1456.5 916.5L1457.6 912.1L1458.6 907.7L1459.7 903.3L1460.7 899.0L1461.8 894.6L1462.8 890.2L1463.9 885.8L1464.8 881.4L1465.8 877.0L1466.6 872.6L1466.5 870.0L1466.3 870.0L1465.0 872.2L1463.7 876.5L1462.4 880.8L1461.2 885.2L1460.0 889.5L1458.9 893.9L1457.8 898.2L1456.6 902.6L1455.5 907.0L1454.4 911.3L1453.3 915.7L1452.2 920.0L1451.0 924.4L1449.8 928.7L1448.5 933.0L1447.2 937.2L1445.8 941.5L1444.4 945.7L1442.8 949.8L1441.2 954.0L1439.5 958.1L1437.7 962.3L1436.0 966.4L1434.2 970.5L1432.3 974.7L1430.5 978.8L1428.8 982.9L1427.0 987.0L1425.1 991.1L1423.3 995.2L1421.4 999.3L1419.5 1003.4L1417.6 1007.4L1415.7 1011.5L1413.8 1015.6L1411.9 1019.7L1410.0 1023.8L1408.1 1027.9L1406.2 1032.0L1404.3 1036.1L1402.5 1040.2L1400.7 1044.3L1398.9 1048.5L1397.1 1052.6L1395.3 1056.7L1393.5 1060.9L1391.7 1065.0L1390.0 1069.1L1388.2 1073.3L1386.5 1077.4L1384.7 1081.6L1383.0 1085.8L1381.3 1089.9L1379.6 1094.1L1377.9 1098.3L1376.2 1102.5L1374.5 1106.6L1372.9 1110.8L1371.2 1115.0L1369.6 1119.2L1367.9 1123.4L1366.3 1127.6L1364.7 1131.9L1363.1 1136.1L1361.6 1140.3L1360.0 1144.6L1358.5 1148.8L1357.0 1153.1L1355.5 1157.3L1354.0 1161.6L1352.6 1165.8L1351.1 1170.1L1349.7 1174.4L1348.3 1178.7L1346.8 1182.9L1345.4 1187.2L1344.0 1191.5L1342.7 1195.8L1341.3 1200.1L1340.0 1204.4L1338.6 1208.7L1337.3 1213.1L1336.1 1217.4L1335.1 1221.8L1334.2 1226.2L1333.5 1230.7L1333.9 1235.5Z" fill="url(#n32)"/><path d="M1413.2 1235.7L1415.8 1231.7L1417.5 1227.5L1418.9 1223.1L1420.0 1218.7L1420.9 1214.2L1421.7 1209.8L1422.4 1205.3L1423.1 1200.9L1423.7 1196.4L1424.3 1191.9L1424.9 1187.4L1425.5 1182.9L1426.1 1178.5L1426.6 1174.0L1427.2 1169.5L1427.8 1165.1L1428.4 1160.6L1429.0 1156.2L1429.7 1151.8L1430.4 1147.3L1431.1 1142.9L1431.9 1138.5L1432.6 1134.1L1433.4 1129.6L1434.2 1125.2L1435.0 1120.8L1435.7 1116.3L1436.5 1111.9L1437.3 1107.5L1438.0 1103.0L1438.8 1098.6L1439.6 1094.2L1440.3 1089.7L1441.0 1085.2L1441.7 1080.8L1442.4 1076.3L1443.1 1071.9L1443.8 1067.4L1444.5 1063.0L1445.3 1058.6L1446.0 1054.2L1446.8 1049.8L1447.7 1045.4L1448.5 1041.0L1449.5 1036.6L1450.4 1032.3L1451.5 1027.9L1452.6 1023.6L1453.6 1019.2L1454.7 1014.9L1455.7 1010.5L1456.6 1006.1L1456.7 1002.2L1456.4 1002.1L1454.3 1005.4L1452.7 1009.6L1451.2 1013.9L1449.8 1018.2L1448.5 1022.5L1447.3 1026.9L1446.2 1031.2L1445.1 1035.6L1444.1 1040.0L1443.2 1044.5L1442.3 1048.9L1441.5 1053.3L1440.7 1057.8L1439.9 1062.2L1439.1 1066.7L1438.4 1071.1L1437.6 1075.6L1436.9 1080.0L1436.1 1084.4L1435.4 1088.9L1434.6 1093.3L1433.8 1097.7L1433.0 1102.1L1432.2 1106.6L1431.4 1111.0L1430.5 1115.4L1429.7 1119.8L1428.9 1124.3L1428.1 1128.7L1427.3 1133.1L1426.5 1137.6L1425.8 1142.0L1425.0 1146.5L1424.3 1150.9L1423.6 1155.4L1422.9 1159.9L1422.3 1164.3L1421.7 1168.8L1421.1 1173.3L1420.5 1177.8L1419.9 1182.2L1419.3 1186.7L1418.7 1191.1L1418.1 1195.6L1417.4 1200.0L1416.8 1204.4L1416.0 1208.8L1415.3 1213.2L1414.6 1217.6L1413.9 1222.0L1413.1 1226.3L1412.4 1230.8L1412.7 1235.5Z" fill="url(#n29)"/><path d="M1482.2 1235.7L1484.3 1231.4L1485.4 1227.0L1486.3 1222.5L1487.0 1218.0L1487.5 1213.6L1487.9 1209.1L1488.3 1204.6L1488.7 1200.1L1489.0 1195.6L1489.3 1191.1L1489.7 1186.6L1490.0 1182.1L1490.3 1177.6L1490.5 1173.1L1490.8 1168.6L1491.0 1164.1L1491.3 1159.6L1491.5 1155.1L1491.7 1150.6L1491.9 1146.1L1492.0 1141.6L1492.2 1137.1L1492.4 1132.6L1492.6 1128.1L1492.7 1123.6L1492.8 1119.0L1493.0 1114.5L1493.1 1110.0L1493.2 1105.5L1493.3 1101.0L1493.4 1096.5L1493.4 1092.0L1493.5 1087.5L1493.6 1083.0L1493.7 1078.5L1493.7 1073.9L1493.8 1069.4L1493.8 1064.9L1493.9 1060.4L1493.9 1055.9L1494.0 1051.4L1494.0 1046.9L1494.0 1042.4L1493.9 1037.9L1493.5 1033.3L1492.5 1028.7L1491.1 1024.2L1489.7 1019.9L1488.2 1015.6L1487.0 1011.3L1485.9 1006.9L1484.7 1002.5L1483.5 998.2L1482.3 993.8L1481.4 989.5L1480.7 985.2L1480.2 980.9L1479.9 976.5L1479.6 972.0L1479.4 967.5L1479.2 963.0L1479.0 958.5L1478.8 954.0L1478.7 949.5L1478.5 945.0L1478.4 940.5L1478.3 936.0L1478.2 931.5L1478.1 927.0L1478.0 922.5L1477.9 918.0L1477.8 913.5L1477.7 909.0L1477.7 904.5L1477.6 900.1L1477.6 895.6L1477.5 891.1L1477.5 886.6L1477.3 882.1L1477.2 877.6L1477.0 873.1L1476.4 870.0L1476.1 870.0L1475.5 873.1L1475.3 877.6L1475.1 882.1L1475.0 886.6L1474.9 891.1L1474.9 895.6L1474.9 900.1L1474.9 904.6L1474.9 909.1L1474.9 913.6L1475.0 918.1L1475.0 922.6L1475.0 927.1L1475.1 931.6L1475.1 936.1L1475.2 940.6L1475.3 945.1L1475.3 949.6L1475.4 954.1L1475.6 958.7L1475.7 963.2L1475.9 967.7L1476.0 972.2L1476.3 976.7L1476.5 981.2L1476.9 985.7L1477.6 990.2L1478.5 994.7L1479.6 999.2L1480.8 1003.6L1481.9 1007.9L1483.0 1012.3L1484.2 1016.8L1485.6 1021.2L1487.0 1025.5L1488.2 1029.8L1489.1 1033.9L1489.5 1038.1L1489.4 1042.4L1489.4 1046.9L1489.3 1051.3L1489.3 1055.8L1489.2 1060.3L1489.1 1064.8L1489.0 1069.3L1488.9 1073.8L1488.8 1078.4L1488.6 1082.9L1488.5 1087.4L1488.4 1091.9L1488.3 1096.4L1488.2 1100.9L1488.0 1105.4L1487.9 1109.9L1487.7 1114.4L1487.5 1118.9L1487.4 1123.4L1487.2 1127.9L1487.0 1132.3L1486.8 1136.8L1486.6 1141.3L1486.4 1145.8L1486.2 1150.3L1486.0 1154.8L1485.7 1159.3L1485.5 1163.8L1485.2 1168.2L1484.9 1172.7L1484.6 1177.2L1484.3 1181.7L1484.0 1186.2L1483.7 1190.7L1483.3 1195.1L1483.0 1199.6L1482.6 1204.1L1482.2 1208.6L1481.8 1213.0L1481.5 1217.5L1481.2 1221.9L1480.9 1226.4L1480.8 1230.9L1481.6 1235.6Z" fill="url(#n35)"/><path d="M1526.0 1235.6L1527.9 1231.3L1528.9 1226.9L1529.7 1222.4L1530.3 1218.0L1530.8 1213.5L1531.2 1209.0L1531.6 1204.5L1532.0 1200.0L1532.4 1195.5L1532.7 1191.0L1533.1 1186.6L1533.5 1182.1L1533.8 1177.6L1534.2 1173.1L1534.5 1168.6L1534.9 1164.1L1535.2 1159.6L1535.5 1155.1L1535.8 1150.6L1536.1 1146.1L1536.4 1141.6L1536.7 1137.1L1536.9 1132.6L1537.1 1128.1L1537.4 1123.6L1537.6 1119.1L1537.8 1114.6L1538.1 1110.1L1538.4 1105.7L1538.7 1101.2L1539.1 1096.8L1539.5 1092.4L1540.0 1088.0L1540.7 1083.6L1541.4 1079.2L1542.2 1074.8L1543.0 1070.4L1543.9 1066.0L1544.8 1061.6L1545.8 1057.2L1546.7 1052.8L1547.7 1048.4L1548.6 1043.9L1549.5 1039.5L1550.4 1035.1L1551.3 1030.7L1552.3 1026.3L1553.2 1021.9L1554.2 1017.5L1555.1 1013.2L1556.1 1008.8L1557.1 1004.4L1558.1 1000.0L1559.1 995.6L1560.1 991.2L1561.1 986.8L1562.1 982.4L1563.1 978.0L1564.1 973.7L1565.1 969.3L1566.1 964.9L1567.1 960.5L1568.1 956.1L1569.2 951.7L1570.2 947.4L1571.2 942.9L1572.2 938.5L1573.0 934.1L1573.8 929.6L1574.5 925.2L1575.2 920.7L1575.8 916.2L1576.4 911.8L1577.0 907.3L1577.5 902.8L1578.1 898.4L1578.6 893.9L1579.2 889.4L1579.7 884.9L1580.1 880.5L1580.5 876.0L1580.8 871.5L1580.4 870.0L1580.2 870.0L1579.4 871.3L1578.7 875.8L1578.0 880.2L1577.3 884.6L1576.6 889.1L1576.0 893.5L1575.4 898.0L1574.8 902.5L1574.2 906.9L1573.6 911.4L1572.9 915.8L1572.2 920.3L1571.5 924.7L1570.8 929.1L1570.0 933.5L1569.1 937.9L1568.1 942.2L1567.1 946.6L1566.0 951.0L1564.9 955.3L1563.7 959.7L1562.6 964.1L1561.6 968.5L1560.5 972.8L1559.5 977.2L1558.4 981.6L1557.4 986.0L1556.3 990.3L1555.3 994.7L1554.2 999.1L1553.2 1003.5L1552.1 1007.8L1551.1 1012.2L1550.0 1016.6L1549.0 1021.0L1548.0 1025.4L1547.0 1029.8L1546.1 1034.2L1545.1 1038.6L1544.2 1043.0L1543.2 1047.4L1542.2 1051.8L1541.2 1056.2L1540.2 1060.6L1539.2 1065.0L1538.3 1069.4L1537.4 1073.9L1536.5 1078.3L1535.8 1082.8L1535.1 1087.3L1534.5 1091.8L1534.0 1096.3L1533.6 1100.8L1533.2 1105.3L1532.9 1109.8L1532.6 1114.3L1532.3 1118.8L1532.0 1123.3L1531.8 1127.8L1531.5 1132.3L1531.2 1136.8L1531.0 1141.3L1530.7 1145.8L1530.4 1150.2L1530.0 1154.7L1529.7 1159.2L1529.3 1163.7L1529.0 1168.2L1528.6 1172.6L1528.2 1177.1L1527.9 1181.6L1527.5 1186.1L1527.1 1190.6L1526.7 1195.0L1526.3 1199.5L1525.9 1204.0L1525.5 1208.5L1525.1 1213.0L1524.8 1217.4L1524.5 1221.9L1524.4 1226.4L1524.4 1231.0L1525.4 1235.6Z" fill="url(#n35)"/><path d="M1586.8 1235.6L1588.3 1231.1L1588.9 1226.6L1589.3 1222.2L1589.5 1217.7L1589.7 1213.2L1589.8 1208.7L1589.8 1204.2L1589.9 1199.7L1590.0 1195.2L1590.0 1190.7L1590.0 1186.2L1590.1 1181.7L1590.1 1177.2L1590.2 1172.7L1590.2 1168.2L1590.3 1163.6L1590.3 1159.1L1590.3 1154.6L1590.4 1150.1L1590.4 1145.6L1590.4 1141.1L1590.4 1136.6L1590.4 1132.1L1590.4 1127.6L1590.5 1123.1L1590.5 1118.6L1590.5 1114.1L1590.5 1109.6L1590.5 1105.1L1590.5 1100.6L1590.5 1096.1L1590.5 1091.6L1590.5 1087.1L1590.5 1082.6L1590.5 1078.1L1590.5 1073.6L1590.5 1069.2L1590.6 1064.7L1590.7 1060.2L1590.8 1055.8L1591.0 1051.3L1591.3 1046.8L1591.6 1042.4L1591.9 1037.9L1592.3 1033.4L1592.7 1029.0L1593.1 1024.5L1593.6 1020.0L1594.0 1015.5L1594.4 1011.0L1594.9 1006.5L1595.3 1002.1L1595.8 997.6L1596.2 993.1L1596.6 988.6L1597.0 984.1L1597.3 979.6L1597.6 975.1L1598.0 970.6L1598.3 966.1L1598.7 961.6L1599.0 957.2L1599.4 952.7L1599.7 948.2L1600.1 943.7L1600.4 939.2L1600.8 934.7L1601.1 930.2L1601.5 925.8L1601.8 921.3L1602.2 916.8L1602.6 912.3L1602.9 907.8L1603.3 903.3L1603.6 898.8L1604.0 894.3L1604.3 889.9L1604.6 885.4L1604.8 880.9L1605.0 876.4L1605.1 871.9L1604.6 870.0L1604.4 870.0L1603.6 871.8L1603.1 876.2L1602.6 880.7L1602.2 885.2L1601.7 889.7L1601.3 894.1L1600.9 898.6L1600.5 903.1L1600.1 907.6L1599.7 912.0L1599.3 916.5L1598.9 921.0L1598.4 925.5L1598.0 930.0L1597.6 934.5L1597.2 938.9L1596.8 943.4L1596.4 947.9L1596.0 952.4L1595.6 956.9L1595.2 961.4L1594.8 965.8L1594.4 970.3L1594.0 974.8L1593.6 979.3L1593.2 983.8L1592.8 988.2L1592.3 992.7L1591.8 997.2L1591.4 1001.6L1590.8 1006.1L1590.3 1010.6L1589.8 1015.1L1589.3 1019.6L1588.8 1024.0L1588.4 1028.5L1587.9 1033.0L1587.5 1037.5L1587.1 1042.0L1586.7 1046.5L1586.4 1051.0L1586.2 1055.5L1586.0 1060.1L1585.8 1064.6L1585.7 1069.1L1585.7 1073.6L1585.6 1078.1L1585.5 1082.6L1585.5 1087.1L1585.4 1091.6L1585.4 1096.1L1585.3 1100.6L1585.3 1105.1L1585.2 1109.6L1585.2 1114.1L1585.2 1118.6L1585.1 1123.1L1585.1 1127.6L1585.0 1132.1L1585.0 1136.6L1585.0 1141.1L1584.9 1145.6L1584.9 1150.1L1584.8 1154.6L1584.8 1159.1L1584.7 1163.6L1584.7 1168.1L1584.6 1172.6L1584.5 1177.1L1584.5 1181.6L1584.4 1186.1L1584.3 1190.6L1584.2 1195.1L1584.2 1199.6L1584.1 1204.1L1584.0 1208.6L1584.0 1213.1L1584.0 1217.6L1584.1 1222.1L1584.4 1226.6L1584.8 1231.1L1586.2 1235.6Z" fill="url(#n35)"/><path d="M1640.8 1235.6L1642.2 1231.1L1642.6 1226.6L1642.8 1222.1L1642.9 1217.6L1643.0 1213.1L1642.9 1208.6L1642.9 1204.1L1642.8 1199.6L1642.8 1195.1L1642.7 1190.6L1642.6 1186.1L1642.6 1181.6L1642.5 1177.1L1642.5 1172.6L1642.4 1168.1L1642.3 1163.6L1642.2 1159.1L1642.2 1154.6L1642.1 1150.1L1642.0 1145.6L1641.9 1141.1L1641.8 1136.6L1641.7 1132.1L1641.6 1127.6L1641.5 1123.1L1641.3 1118.6L1641.2 1114.1L1641.0 1109.6L1640.9 1105.1L1640.7 1100.6L1640.6 1096.1L1640.4 1091.6L1640.3 1087.1L1640.1 1082.6L1639.9 1078.1L1639.7 1073.6L1639.6 1069.1L1639.4 1064.6L1639.2 1060.1L1639.0 1055.6L1638.8 1051.1L1638.6 1046.6L1638.4 1042.1L1638.2 1037.6L1637.9 1033.1L1637.7 1028.6L1637.4 1024.1L1637.1 1019.6L1636.8 1015.1L1636.5 1010.6L1636.2 1006.1L1635.8 1001.6L1635.5 997.1L1635.1 992.6L1634.8 988.1L1634.4 983.7L1634.1 979.2L1633.7 974.7L1633.4 970.2L1633.1 965.7L1632.7 961.2L1632.4 956.7L1632.0 952.2L1631.7 947.8L1631.3 943.3L1630.9 938.8L1630.6 934.3L1630.2 929.8L1629.9 925.3L1629.5 920.8L1629.1 916.4L1628.8 911.9L1628.4 907.4L1628.0 902.9L1627.7 898.4L1627.3 893.9L1626.9 889.4L1626.5 885.0L1626.1 880.5L1625.6 876.0L1625.0 871.5L1624.3 870.0L1624.1 870.0L1623.6 871.6L1623.7 876.2L1623.9 880.7L1624.1 885.1L1624.4 889.6L1624.6 894.1L1625.0 898.6L1625.3 903.1L1625.6 907.6L1625.9 912.1L1626.2 916.6L1626.5 921.1L1626.8 925.6L1627.1 930.0L1627.5 934.5L1627.8 939.0L1628.1 943.5L1628.4 948.0L1628.7 952.5L1629.0 957.0L1629.3 961.5L1629.5 966.0L1629.8 970.4L1630.1 974.9L1630.4 979.4L1630.7 983.9L1631.0 988.4L1631.3 992.9L1631.6 997.4L1631.8 1001.9L1632.1 1006.4L1632.4 1010.9L1632.6 1015.3L1632.9 1019.8L1633.1 1024.3L1633.3 1028.8L1633.5 1033.3L1633.7 1037.8L1633.9 1042.3L1634.0 1046.8L1634.2 1051.3L1634.3 1055.7L1634.5 1060.2L1634.6 1064.7L1634.8 1069.2L1634.9 1073.7L1635.0 1078.2L1635.2 1082.7L1635.3 1087.2L1635.4 1091.7L1635.5 1096.2L1635.6 1100.7L1635.7 1105.2L1635.8 1109.7L1635.9 1114.2L1636.0 1118.7L1636.1 1123.2L1636.2 1127.7L1636.3 1132.2L1636.4 1136.7L1636.5 1141.2L1636.5 1145.7L1636.6 1150.2L1636.7 1154.7L1636.7 1159.2L1636.8 1163.7L1636.8 1168.2L1636.9 1172.7L1636.9 1177.1L1636.9 1181.6L1637.0 1186.1L1637.0 1190.6L1637.1 1195.1L1637.1 1199.6L1637.1 1204.1L1637.2 1208.7L1637.3 1213.2L1637.4 1217.7L1637.7 1222.2L1638.1 1226.6L1638.6 1231.1L1640.2 1235.6Z" fill="url(#n35)"/><path d="M1699.6 1235.6L1700.6 1231.0L1700.8 1226.5L1700.7 1221.9L1700.5 1217.5L1700.3 1213.0L1700.0 1208.5L1699.6 1204.0L1699.3 1199.5L1698.9 1195.0L1698.6 1190.5L1698.3 1186.1L1697.9 1181.6L1697.6 1177.1L1697.2 1172.6L1696.9 1168.1L1696.5 1163.6L1696.2 1159.1L1695.8 1154.6L1695.5 1150.1L1695.1 1145.7L1694.7 1141.2L1694.4 1136.7L1694.0 1132.2L1693.6 1127.7L1693.3 1123.2L1692.9 1118.7L1692.5 1114.2L1692.1 1109.7L1691.7 1105.2L1691.3 1100.7L1690.9 1096.3L1690.4 1091.8L1690.0 1087.3L1689.5 1082.8L1689.0 1078.3L1688.5 1073.9L1687.9 1069.4L1687.3 1064.9L1686.7 1060.4L1686.0 1056.0L1685.2 1051.5L1684.4 1047.1L1683.5 1042.6L1682.6 1038.2L1681.6 1033.8L1680.7 1029.4L1679.7 1025.0L1678.7 1020.6L1677.8 1016.2L1676.9 1011.8L1675.9 1007.4L1675.0 1003.0L1674.1 998.6L1673.2 994.1L1672.2 989.7L1671.3 985.3L1670.3 980.9L1669.4 976.5L1668.4 972.1L1667.4 967.7L1666.5 963.4L1665.5 959.0L1664.5 954.6L1663.5 950.2L1662.4 945.8L1661.4 941.4L1660.4 937.0L1659.3 932.6L1658.2 928.3L1657.2 923.9L1656.1 919.5L1655.1 915.2L1654.0 910.8L1652.9 906.4L1651.9 902.0L1650.9 897.7L1649.9 893.3L1648.9 888.9L1647.9 884.5L1646.8 880.1L1645.7 875.8L1644.6 871.4L1643.7 870.0L1643.5 870.0L1643.2 871.7L1643.9 876.2L1644.7 880.6L1645.5 885.0L1646.4 889.4L1647.3 893.8L1648.3 898.2L1649.2 902.6L1650.2 907.0L1651.2 911.4L1652.2 915.8L1653.2 920.2L1654.3 924.6L1655.3 929.0L1656.3 933.4L1657.3 937.7L1658.3 942.1L1659.3 946.5L1660.2 950.9L1661.2 955.3L1662.1 959.7L1663.0 964.1L1664.0 968.5L1664.9 972.9L1665.8 977.3L1666.7 981.7L1667.6 986.1L1668.5 990.5L1669.3 994.9L1670.2 999.3L1671.1 1003.8L1671.9 1008.2L1672.8 1012.6L1673.7 1017.0L1674.6 1021.4L1675.5 1025.9L1676.4 1030.3L1677.3 1034.7L1678.2 1039.1L1679.0 1043.5L1679.8 1047.9L1680.6 1052.3L1681.4 1056.7L1682.0 1061.1L1682.6 1065.5L1683.2 1070.0L1683.7 1074.4L1684.1 1078.9L1684.6 1083.3L1685.0 1087.8L1685.4 1092.2L1685.8 1096.7L1686.2 1101.2L1686.6 1105.7L1686.9 1110.2L1687.3 1114.7L1687.6 1119.1L1687.9 1123.6L1688.3 1128.1L1688.6 1132.6L1689.0 1137.1L1689.3 1141.6L1689.6 1146.1L1690.0 1150.6L1690.3 1155.1L1690.7 1159.5L1691.0 1164.0L1691.3 1168.5L1691.7 1173.0L1692.0 1177.5L1692.3 1182.0L1692.6 1186.5L1692.9 1191.0L1693.2 1195.4L1693.5 1199.9L1693.9 1204.4L1694.2 1208.9L1694.6 1213.4L1695.0 1217.9L1695.6 1222.4L1696.2 1226.8L1697.1 1231.3L1699.0 1235.6Z" fill="url(#n35)"/><path d="M1760.0 1235.6L1760.9 1230.9L1760.8 1226.4L1760.5 1221.9L1760.1 1217.4L1759.6 1212.9L1759.1 1208.5L1758.6 1204.0L1758.0 1199.6L1757.5 1195.1L1756.9 1190.6L1756.4 1186.2L1755.9 1181.7L1755.3 1177.2L1754.8 1172.7L1754.2 1168.3L1753.6 1163.8L1753.0 1159.3L1752.4 1154.8L1751.7 1150.4L1751.0 1145.9L1750.2 1141.5L1749.5 1137.0L1748.7 1132.6L1747.9 1128.1L1747.0 1123.7L1746.1 1119.3L1745.3 1114.8L1744.4 1110.4L1743.5 1106.0L1742.6 1101.6L1741.7 1097.2L1740.8 1092.8L1739.9 1088.4L1739.0 1084.0L1738.1 1079.5L1737.2 1075.1L1736.3 1070.7L1735.3 1066.3L1734.4 1061.9L1733.4 1057.5L1732.4 1053.1L1731.4 1048.7L1730.3 1044.3L1729.2 1039.9L1728.0 1035.6L1726.8 1031.2L1725.5 1026.9L1724.2 1022.5L1722.8 1018.2L1721.4 1013.9L1719.9 1009.6L1718.4 1005.3L1716.8 1001.1L1715.2 996.8L1713.6 992.7L1711.8 988.5L1710.0 984.3L1708.0 980.2L1706.0 976.2L1703.9 972.1L1701.8 968.1L1699.6 964.2L1697.3 960.3L1694.9 956.4L1692.4 952.7L1689.8 949.0L1686.7 945.8L1686.5 946.0L1688.1 950.1L1690.2 954.0L1692.4 958.0L1694.5 961.9L1696.6 965.8L1698.6 969.8L1700.7 973.8L1702.7 977.8L1704.6 981.8L1706.5 985.9L1708.3 990.0L1710.0 994.1L1711.5 998.3L1713.1 1002.4L1714.6 1006.7L1716.0 1010.9L1717.4 1015.2L1718.8 1019.5L1720.1 1023.8L1721.3 1028.1L1722.5 1032.4L1723.7 1036.7L1724.8 1041.0L1725.9 1045.4L1726.9 1049.7L1727.9 1054.1L1728.8 1058.5L1729.8 1062.9L1730.7 1067.3L1731.5 1071.7L1732.4 1076.1L1733.3 1080.5L1734.1 1084.9L1735.0 1089.3L1735.8 1093.8L1736.7 1098.2L1737.5 1102.6L1738.4 1107.0L1739.2 1111.4L1740.1 1115.9L1740.9 1120.3L1741.8 1124.7L1742.6 1129.1L1743.4 1133.5L1744.1 1137.9L1744.9 1142.4L1745.6 1146.8L1746.3 1151.2L1746.9 1155.6L1747.5 1160.1L1748.1 1164.5L1748.7 1169.0L1749.2 1173.4L1749.8 1177.9L1750.3 1182.3L1750.8 1186.8L1751.3 1191.3L1751.8 1195.8L1752.3 1200.2L1752.8 1204.7L1753.4 1209.2L1753.9 1213.7L1754.6 1218.1L1755.4 1222.6L1756.3 1227.0L1757.4 1231.4L1759.4 1235.6Z" fill="url(#n35)"/><path d="M1823.9 1235.6L1824.7 1230.9L1824.5 1226.3L1824.0 1221.8L1823.3 1217.3L1822.3 1212.8L1821.2 1208.4L1820.0 1204.1L1819.0 1199.7L1818.0 1195.4L1817.0 1191.0L1816.1 1186.6L1815.1 1182.2L1814.2 1177.8L1813.3 1173.4L1812.4 1169.0L1811.5 1164.6L1810.6 1160.2L1809.7 1155.8L1808.8 1151.4L1807.9 1146.9L1806.9 1142.5L1806.0 1138.1L1805.0 1133.7L1803.9 1129.3L1802.9 1124.9L1801.8 1120.6L1800.6 1116.2L1799.4 1111.8L1798.1 1107.5L1796.8 1103.2L1795.5 1098.8L1794.2 1094.5L1792.8 1090.2L1791.4 1085.9L1790.0 1081.6L1788.7 1077.4L1787.3 1073.1L1785.9 1068.8L1784.5 1064.5L1783.1 1060.2L1781.5 1055.9L1779.9 1051.6L1778.4 1047.4L1776.8 1043.1L1775.2 1038.9L1773.8 1034.7L1772.4 1030.5L1771.2 1026.2L1770.1 1022.0L1769.2 1017.7L1768.3 1013.3L1767.5 1008.9L1766.7 1004.5L1766.0 1000.1L1765.4 995.7L1765.1 991.3L1765.0 986.9L1765.0 982.4L1764.9 977.9L1764.9 973.4L1764.9 968.9L1764.9 964.4L1764.8 959.9L1764.8 955.4L1764.8 950.9L1764.7 946.4L1764.7 941.9L1764.6 937.4L1764.6 932.9L1764.5 928.3L1764.4 923.8L1764.3 919.3L1764.2 914.8L1764.1 910.3L1764.1 905.8L1764.0 901.3L1763.9 896.8L1763.7 892.3L1763.5 887.8L1763.3 883.3L1763.0 878.8L1762.6 874.4L1761.8 870.0L1761.6 870.0L1761.1 874.4L1761.1 878.9L1761.1 883.4L1761.1 887.9L1761.1 892.4L1761.2 896.9L1761.2 901.4L1761.3 905.9L1761.3 910.4L1761.3 914.9L1761.4 919.4L1761.4 923.9L1761.4 928.4L1761.4 932.9L1761.4 937.4L1761.5 941.9L1761.4 946.4L1761.4 950.9L1761.4 955.4L1761.4 959.9L1761.3 964.4L1761.3 968.9L1761.3 973.4L1761.3 977.9L1761.2 982.4L1761.2 986.9L1761.2 991.4L1761.5 996.0L1762.0 1000.6L1762.7 1005.1L1763.4 1009.6L1764.2 1014.1L1765.1 1018.5L1765.9 1022.9L1767.0 1027.4L1768.2 1031.7L1769.5 1036.1L1771.0 1040.4L1772.5 1044.7L1774.0 1049.0L1775.6 1053.2L1777.1 1057.5L1778.6 1061.7L1780.0 1065.9L1781.3 1070.2L1782.7 1074.5L1784.0 1078.8L1785.3 1083.1L1786.7 1087.4L1788.0 1091.7L1789.3 1096.0L1790.6 1100.3L1791.9 1104.6L1793.1 1108.9L1794.3 1113.2L1795.5 1117.6L1796.6 1121.9L1797.7 1126.2L1798.7 1130.6L1799.7 1134.9L1800.7 1139.3L1801.6 1143.7L1802.5 1148.1L1803.4 1152.5L1804.3 1156.9L1805.2 1161.3L1806.1 1165.7L1806.9 1170.1L1807.8 1174.5L1808.7 1179.0L1809.6 1183.4L1810.5 1187.8L1811.4 1192.2L1812.4 1196.6L1813.4 1201.1L1814.5 1205.5L1815.6 1209.9L1816.8 1214.2L1817.9 1218.4L1818.9 1222.7L1820.0 1227.1L1821.2 1231.4L1823.3 1235.7Z" fill="url(#n35)"/><path d="M1859.0 1137.1L1859.2 1132.4L1858.5 1127.9L1857.6 1123.5L1856.5 1119.1L1855.4 1114.7L1854.1 1110.3L1852.8 1106.0L1851.4 1101.7L1850.0 1097.4L1848.6 1093.1L1847.2 1088.9L1845.7 1084.6L1844.2 1080.3L1842.7 1076.1L1841.1 1071.8L1839.5 1067.6L1837.9 1063.4L1836.1 1059.2L1834.4 1055.1L1832.7 1050.9L1830.9 1046.7L1829.1 1042.6L1827.3 1038.5L1825.5 1034.3L1823.6 1030.2L1821.7 1026.1L1819.7 1022.1L1817.8 1018.0L1815.8 1013.9L1813.9 1009.9L1812.1 1005.8L1810.2 1001.6L1808.0 997.5L1805.8 993.4L1804.0 989.4L1802.6 985.5L1802.0 981.5L1801.7 977.2L1801.4 972.8L1801.2 968.4L1801.0 963.9L1800.8 959.4L1800.6 954.9L1800.5 950.4L1800.4 945.8L1800.2 941.2L1800.1 936.7L1800.0 932.1L1799.8 927.6L1799.7 923.1L1799.5 918.6L1799.4 914.1L1799.2 909.6L1799.1 905.1L1798.9 900.6L1798.8 896.1L1798.6 891.6L1798.4 887.1L1798.2 882.7L1798.0 878.2L1797.6 873.7L1797.0 870.0L1796.7 870.0L1796.2 873.7L1796.1 878.2L1796.0 882.7L1796.0 887.2L1796.0 891.7L1796.1 896.2L1796.2 900.7L1796.3 905.2L1796.4 909.7L1796.5 914.2L1796.6 918.7L1796.7 923.2L1796.8 927.7L1796.9 932.2L1796.9 936.8L1797.0 941.3L1797.1 945.9L1797.2 950.4L1797.3 955.0L1797.4 959.5L1797.5 964.1L1797.6 968.6L1797.8 973.0L1798.0 977.4L1798.3 981.9L1798.9 986.4L1800.4 990.8L1802.3 995.1L1804.5 999.3L1806.5 1003.4L1808.4 1007.5L1810.2 1011.6L1812.0 1015.7L1813.9 1019.8L1815.8 1023.9L1817.7 1028.0L1819.6 1032.0L1821.4 1036.1L1823.2 1040.2L1824.9 1044.4L1826.7 1048.5L1828.4 1052.7L1830.1 1056.8L1831.8 1061.0L1833.4 1065.2L1835.0 1069.3L1836.6 1073.5L1838.1 1077.7L1839.6 1082.0L1841.0 1086.2L1842.4 1090.4L1843.8 1094.7L1845.2 1099.0L1846.5 1103.2L1847.8 1107.5L1849.1 1111.8L1850.4 1116.1L1851.7 1120.4L1853.0 1124.7L1854.5 1129.0L1856.1 1133.2L1858.5 1137.2Z" fill="url(#n35)"/><path d="M1686.5 946.0L1687.9 951.1L1690.0 955.8L1692.5 959.8L1695.4 962.9L1698.7 965.0L1702.6 966.7L1707.2 968.0L1712.1 968.9L1716.7 969.0L1721.9 968.0L1726.5 966.1L1729.0 963.8L1730.4 960.3L1731.6 955.9L1732.5 950.8L1733.0 945.6L1733.3 940.7L1733.3 936.2L1733.4 931.8L1733.4 927.3L1733.5 922.8L1733.5 918.2L1733.5 913.7L1733.5 909.2L1733.5 904.7L1733.5 900.2L1733.5 895.7L1733.5 891.2L1733.5 886.7L1733.4 882.2L1733.4 877.7L1733.3 873.2L1733.1 870.0L1733.0 870.0L1732.7 873.2L1732.6 877.7L1732.6 882.2L1732.5 886.7L1732.5 891.2L1732.5 895.7L1732.5 900.2L1732.5 904.7L1732.5 909.2L1732.5 913.7L1732.4 918.2L1732.4 922.8L1732.3 927.3L1732.3 931.7L1732.2 936.2L1732.1 940.7L1731.9 945.5L1731.3 950.6L1730.4 955.6L1729.2 959.9L1727.9 963.1L1725.9 965.0L1721.5 966.8L1716.6 967.7L1712.2 967.6L1707.5 966.8L1703.0 965.5L1699.2 963.9L1696.2 962.0L1693.4 959.1L1690.8 955.3L1688.6 950.9L1686.7 945.9Z" fill="url(#n29)"/><path d="M1709.6 870.0L1709.3 874.5L1709.2 879.0L1709.2 883.5L1709.1 888.0L1709.1 892.5L1709.1 897.0L1709.1 901.5L1709.1 906.0L1709.1 910.5L1709.0 915.0L1709.0 919.5L1709.0 924.0L1709.0 928.5L1709.0 933.0L1709.1 937.5L1709.1 942.0L1709.2 946.5L1709.2 951.0L1709.4 955.5L1709.5 960.0L1709.7 964.5L1710.2 965.6L1710.3 965.6L1710.7 964.5L1710.7 960.0L1710.7 955.5L1710.6 951.0L1710.6 946.5L1710.5 942.0L1710.4 937.5L1710.4 933.0L1710.3 928.5L1710.3 924.0L1710.3 919.5L1710.3 915.0L1710.3 910.5L1710.3 906.0L1710.2 901.5L1710.2 897.0L1710.2 892.5L1710.2 888.0L1710.2 883.5L1710.1 879.0L1710.0 874.5L1709.7 870.0Z" fill="url(#n35)"/><path d="M1477.4 976.9L1476.5 982.8L1477.3 988.4L1478.8 993.0L1481.3 996.1L1484.8 997.7L1489.0 998.7L1494.0 999.5L1499.3 1000.1L1504.7 1000.6L1509.8 1000.9L1514.7 1000.9L1519.6 999.2L1524.0 996.0L1527.7 992.3L1530.8 988.9L1533.6 985.1L1536.0 981.0L1538.1 976.7L1540.1 972.5L1541.9 968.3L1543.6 964.1L1545.1 959.8L1546.6 955.4L1548.0 951.1L1549.3 946.8L1550.6 942.5L1552.0 938.2L1553.3 933.8L1554.6 929.5L1555.8 925.2L1557.0 920.8L1558.3 916.5L1559.5 912.2L1560.7 907.8L1562.0 903.5L1563.2 899.1L1564.3 894.8L1565.4 890.3L1566.3 885.9L1567.1 881.5L1567.8 877.0L1568.3 872.5L1567.8 870.0L1567.5 870.0L1566.2 872.1L1565.0 876.4L1563.9 880.8L1562.7 885.1L1561.6 889.4L1560.5 893.8L1559.3 898.1L1558.0 902.3L1556.7 906.6L1555.4 910.9L1554.1 915.3L1552.8 919.6L1551.5 923.9L1550.1 928.2L1548.8 932.5L1547.4 936.7L1546.0 941.0L1544.6 945.3L1543.2 949.6L1541.8 953.8L1540.3 958.0L1538.7 962.2L1537.0 966.2L1535.2 970.2L1533.2 974.3L1531.1 978.3L1528.9 982.0L1526.4 985.3L1523.6 988.3L1520.3 991.5L1516.9 994.0L1513.8 995.0L1510.0 994.9L1505.1 994.7L1499.9 994.3L1494.8 993.7L1490.2 992.9L1486.5 992.1L1484.4 991.6L1483.2 990.5L1481.5 987.1L1479.8 982.3L1477.9 976.8Z" fill="url(#n35)"/><path d="M1509.3 870.0L1508.5 874.5L1508.2 879.0L1508.0 883.5L1507.9 888.0L1507.8 892.5L1507.8 897.0L1507.8 901.5L1507.9 906.0L1508.0 910.6L1508.1 915.1L1508.3 919.6L1508.4 924.1L1508.6 928.6L1508.7 933.0L1508.8 937.5L1508.8 942.0L1508.9 946.5L1508.9 951.0L1509.0 955.5L1509.0 960.0L1509.1 964.5L1509.3 969.0L1509.6 973.5L1510.0 978.0L1511.2 982.5L1511.6 982.5L1512.7 978.0L1513.1 973.5L1513.2 968.9L1513.3 964.4L1513.3 959.9L1513.2 955.4L1513.1 950.9L1513.0 946.4L1512.9 941.9L1512.8 937.4L1512.6 932.9L1512.4 928.4L1512.2 923.9L1512.0 919.4L1511.8 914.9L1511.6 910.4L1511.4 905.9L1511.2 901.5L1511.1 897.0L1511.0 892.5L1511.0 888.0L1510.8 883.5L1510.6 879.0L1510.3 874.5L1509.6 870.0Z" fill="url(#n35)"/><path d="M1678.2 912.2L1678.1 907.7L1677.6 903.2L1677.0 898.7L1676.4 894.3L1675.8 889.8L1675.2 885.3L1674.6 880.9L1674.0 876.4L1673.3 872.0L1672.6 870.0L1672.5 870.0L1672.3 872.1L1672.9 876.6L1673.4 881.0L1674.0 885.5L1674.6 890.0L1675.2 894.4L1675.8 898.9L1676.4 903.3L1677.0 907.8L1678.1 912.2Z" fill="url(#n35)"/><path d="M1590.9 870.0L1590.6 874.5L1590.5 879.0L1590.3 883.5L1590.2 888.0L1590.0 892.5L1589.9 897.0L1589.8 901.5L1589.6 906.0L1589.5 910.5L1589.3 915.0L1589.1 919.5L1588.9 923.9L1588.7 928.4L1588.5 932.9L1588.2 937.4L1588.0 941.9L1587.8 946.4L1587.5 950.9L1587.3 955.4L1587.0 959.9L1586.8 964.4L1586.5 968.9L1586.3 973.4L1586.2 977.9L1586.4 979.7L1586.6 979.7L1587.0 977.9L1587.4 973.4L1587.8 969.0L1588.1 964.5L1588.4 960.0L1588.6 955.5L1588.9 951.0L1589.1 946.5L1589.3 942.0L1589.5 937.5L1589.7 933.0L1589.9 928.5L1590.1 924.0L1590.3 919.5L1590.4 915.0L1590.6 910.5L1590.7 906.0L1590.9 901.5L1591.0 897.0L1591.1 892.5L1591.2 888.0L1591.2 883.5L1591.2 879.0L1591.2 874.5L1591.0 870.0Z" fill="url(#n38)"/><path d="M1614.0 870.0L1613.7 874.5L1613.7 879.0L1613.6 883.5L1613.6 888.0L1613.5 892.5L1613.5 897.0L1613.5 901.5L1613.5 906.0L1613.5 910.5L1613.5 915.0L1613.6 919.5L1613.6 924.0L1613.7 928.5L1613.8 933.0L1613.9 937.5L1613.9 942.0L1614.0 946.5L1614.1 951.0L1614.2 955.5L1614.4 960.0L1614.5 964.5L1614.7 969.0L1615.0 973.5L1615.4 974.1L1615.5 974.1L1615.9 973.5L1615.8 969.0L1615.8 964.5L1615.7 960.0L1615.6 955.5L1615.4 951.0L1615.3 946.5L1615.2 942.0L1615.1 937.5L1615.0 933.0L1614.9 928.5L1614.8 924.0L1614.8 919.5L1614.7 915.0L1614.6 910.5L1614.6 906.0L1614.6 901.5L1614.6 897.0L1614.6 892.5L1614.5 888.0L1614.5 883.5L1614.4 879.0L1614.3 874.5L1614.1 870.0Z" fill="url(#n38)"/><path d="M1636.5 870.0L1636.4 874.5L1636.4 879.0L1636.6 883.5L1636.7 888.0L1636.9 892.5L1637.1 897.0L1637.3 901.5L1637.5 906.0L1637.8 910.5L1638.0 915.0L1638.3 919.5L1638.7 924.0L1639.0 928.5L1639.3 932.9L1639.7 937.4L1640.0 941.9L1640.4 946.4L1640.7 950.9L1641.1 955.4L1641.5 959.9L1642.0 964.3L1642.4 968.8L1642.9 973.3L1643.5 977.8L1644.1 979.7L1644.2 979.7L1644.4 977.7L1644.0 973.2L1643.7 968.7L1643.3 964.2L1642.9 959.7L1642.5 955.3L1642.1 950.8L1641.7 946.3L1641.3 941.8L1640.9 937.3L1640.6 932.9L1640.2 928.4L1639.9 923.9L1639.5 919.4L1639.2 914.9L1638.9 910.4L1638.6 905.9L1638.4 901.4L1638.1 897.0L1637.9 892.5L1637.7 888.0L1637.4 883.5L1637.2 879.0L1637.0 874.5L1636.6 870.0Z" fill="url(#n38)"/></g>
<g filter="url(#b3)"><path d="M1285.8 1235.8L1290.6 1232.1L1292.9 1228.0L1294.6 1223.9L1296.1 1219.7L1297.3 1215.4L1298.5 1211.1L1299.5 1206.8L1300.6 1202.5L1301.7 1198.2L1302.8 1193.9L1304.0 1189.6L1305.2 1185.3L1306.4 1181.0L1307.6 1176.7L1308.9 1172.4L1310.2 1168.1L1311.5 1163.9L1312.8 1159.6L1314.1 1155.4L1315.5 1151.1L1316.9 1146.9L1318.3 1142.7L1319.7 1138.5L1321.2 1134.3L1322.7 1130.1L1324.3 1126.0L1325.8 1121.8L1327.3 1117.6L1328.7 1113.3L1329.8 1109.0L1330.8 1104.5L1331.4 1099.9L1329.5 1095.3L1328.2 1094.7L1323.6 1096.6L1320.7 1100.3L1318.2 1104.2L1316.0 1108.2L1314.0 1112.3L1312.2 1116.5L1310.5 1120.7L1308.9 1125.0L1307.3 1129.2L1305.7 1133.5L1304.1 1137.8L1302.6 1142.1L1301.2 1146.4L1299.7 1150.7L1298.3 1155.0L1296.9 1159.3L1295.5 1163.6L1294.1 1167.9L1292.8 1172.3L1291.5 1176.6L1290.2 1181.0L1288.9 1185.4L1287.7 1189.7L1286.5 1194.1L1285.3 1198.5L1284.1 1202.9L1283.0 1207.3L1282.0 1211.8L1281.2 1216.3L1280.8 1220.9L1280.6 1225.5L1281.1 1230.2L1284.2 1235.5Z" fill="url(#n30)"/><path d="M1335.0 1235.8L1340.0 1232.5L1342.5 1228.6L1344.5 1224.5L1346.3 1220.4L1347.8 1216.2L1349.2 1212.0L1350.5 1207.7L1351.8 1203.4L1353.1 1199.1L1354.4 1194.8L1355.8 1190.6L1357.1 1186.3L1358.5 1182.0L1359.9 1177.8L1361.2 1173.5L1362.7 1169.3L1364.1 1165.0L1365.5 1160.8L1366.9 1156.5L1368.4 1152.3L1369.9 1148.1L1371.4 1143.9L1372.9 1139.7L1374.4 1135.5L1375.9 1131.3L1377.5 1127.1L1379.1 1122.9L1380.6 1118.7L1382.2 1114.5L1383.8 1110.3L1385.4 1106.1L1387.0 1101.9L1388.6 1097.7L1390.2 1093.5L1391.8 1089.4L1393.5 1085.2L1395.1 1081.0L1396.8 1076.9L1398.5 1072.7L1400.2 1068.5L1401.8 1064.4L1403.6 1060.2L1405.3 1056.1L1407.0 1051.9L1408.7 1047.8L1410.5 1043.7L1412.2 1039.5L1413.9 1035.4L1415.7 1031.3L1417.5 1027.2L1419.3 1023.1L1421.1 1019.0L1422.9 1014.8L1424.7 1010.7L1426.5 1006.6L1428.3 1002.5L1430.1 998.3L1431.9 994.1L1433.7 990.0L1435.4 985.8L1437.1 981.6L1438.8 977.4L1440.5 973.3L1442.2 969.1L1443.9 964.8L1445.6 960.6L1447.2 956.4L1448.8 952.1L1450.3 947.7L1451.7 943.4L1453.0 939.0L1454.3 934.7L1455.4 930.3L1456.6 925.9L1457.7 921.5L1458.7 917.1L1459.7 912.7L1460.8 908.3L1461.8 903.9L1462.8 899.5L1463.8 895.1L1464.8 890.7L1465.7 886.3L1466.5 881.9L1467.2 877.4L1467.7 872.9L1466.7 870.1L1466.1 869.9L1463.9 871.9L1462.3 876.2L1460.8 880.4L1459.4 884.7L1458.1 889.0L1456.9 893.3L1455.7 897.7L1454.5 902.1L1453.4 906.4L1452.2 910.8L1451.1 915.1L1449.9 919.5L1448.7 923.8L1447.5 928.0L1446.2 932.3L1444.8 936.5L1443.4 940.7L1441.9 944.8L1440.3 948.9L1438.7 953.0L1437.0 957.1L1435.2 961.2L1433.4 965.3L1431.5 969.4L1429.7 973.5L1427.8 977.7L1426.0 981.8L1424.2 985.8L1422.3 989.9L1420.4 994.0L1418.5 998.0L1416.6 1002.1L1414.7 1006.1L1412.7 1010.2L1410.8 1014.2L1408.8 1018.3L1406.9 1022.4L1404.9 1026.4L1403.0 1030.5L1401.1 1034.7L1399.2 1038.8L1397.4 1042.9L1395.6 1047.0L1393.7 1051.1L1391.9 1055.3L1390.1 1059.4L1388.3 1063.5L1386.5 1067.7L1384.7 1071.8L1382.9 1076.0L1381.1 1080.1L1379.4 1084.3L1377.6 1088.5L1375.9 1092.6L1374.2 1096.8L1372.4 1101.0L1370.7 1105.2L1369.0 1109.3L1367.3 1113.5L1365.7 1117.7L1364.0 1121.9L1362.4 1126.2L1360.8 1130.4L1359.1 1134.6L1357.6 1138.9L1356.0 1143.1L1354.5 1147.4L1352.9 1151.6L1351.4 1155.9L1349.9 1160.2L1348.4 1164.4L1347.0 1168.7L1345.5 1173.0L1344.0 1177.3L1342.6 1181.6L1341.2 1185.9L1339.8 1190.2L1338.4 1194.5L1337.0 1198.8L1335.6 1203.1L1334.3 1207.4L1333.0 1211.7L1332.0 1216.2L1331.2 1220.7L1330.7 1225.3L1330.8 1230.0L1333.4 1235.4Z" fill="url(#n33)"/><path d="M1413.6 1235.8L1418.2 1232.4L1420.6 1228.2L1422.4 1223.9L1423.8 1219.4L1424.9 1214.9L1425.7 1210.5L1426.4 1205.9L1427.1 1201.4L1427.7 1196.9L1428.3 1192.4L1428.9 1187.9L1429.4 1183.5L1430.0 1179.0L1430.5 1174.5L1431.1 1170.1L1431.6 1165.6L1432.2 1161.2L1432.9 1156.8L1433.5 1152.4L1434.2 1148.0L1434.9 1143.5L1435.6 1139.1L1436.4 1134.7L1437.1 1130.3L1437.9 1125.9L1438.6 1121.4L1439.4 1117.0L1440.1 1112.6L1440.8 1108.1L1441.6 1103.7L1442.3 1099.2L1443.1 1094.8L1443.8 1090.3L1444.5 1085.8L1445.1 1081.3L1445.8 1076.9L1446.5 1072.4L1447.1 1068.0L1447.8 1063.6L1448.5 1059.1L1449.2 1054.7L1450.0 1050.4L1450.8 1046.0L1451.6 1041.6L1452.5 1037.3L1453.4 1033.0L1454.4 1028.7L1455.4 1024.3L1456.3 1020.0L1457.2 1015.6L1457.8 1011.1L1458.3 1006.6L1457.0 1002.3L1456.1 1002.0L1452.7 1004.9L1450.5 1009.0L1448.7 1013.1L1447.0 1017.4L1445.6 1021.7L1444.3 1026.1L1443.2 1030.5L1442.1 1035.0L1441.0 1039.4L1440.1 1043.8L1439.1 1048.3L1438.3 1052.8L1437.4 1057.2L1436.6 1061.7L1435.8 1066.1L1435.0 1070.6L1434.3 1075.0L1433.5 1079.4L1432.7 1083.9L1431.9 1088.3L1431.1 1092.7L1430.3 1097.1L1429.5 1101.5L1428.6 1105.9L1427.8 1110.3L1426.9 1114.8L1426.1 1119.2L1425.2 1123.6L1424.4 1128.0L1423.6 1132.5L1422.8 1136.9L1422.0 1141.4L1421.3 1145.8L1420.5 1150.3L1419.8 1154.8L1419.1 1159.3L1418.4 1163.8L1417.8 1168.3L1417.2 1172.8L1416.6 1177.3L1416.0 1181.7L1415.4 1186.2L1414.8 1190.6L1414.1 1195.0L1413.5 1199.4L1412.8 1203.8L1412.0 1208.2L1411.4 1212.5L1410.8 1216.9L1410.4 1221.2L1410.0 1225.6L1410.1 1230.2L1412.3 1235.4Z" fill="url(#n30)"/><path d="M1482.6 1235.7L1486.7 1231.8L1488.5 1227.4L1489.8 1223.0L1490.8 1218.4L1491.5 1213.9L1491.9 1209.4L1492.3 1204.9L1492.7 1200.4L1493.0 1195.9L1493.3 1191.4L1493.6 1186.9L1493.9 1182.3L1494.2 1177.8L1494.4 1173.3L1494.7 1168.8L1494.9 1164.3L1495.1 1159.8L1495.3 1155.2L1495.5 1150.7L1495.7 1146.2L1495.8 1141.7L1496.0 1137.2L1496.2 1132.7L1496.3 1128.2L1496.5 1123.7L1496.6 1119.2L1496.7 1114.7L1496.7 1110.1L1496.8 1105.6L1496.9 1101.1L1496.9 1096.6L1497.0 1092.1L1497.0 1087.6L1497.0 1083.1L1497.1 1078.5L1497.1 1074.0L1497.2 1069.5L1497.2 1064.9L1497.2 1060.4L1497.2 1055.9L1497.2 1051.4L1497.2 1046.9L1497.1 1042.4L1497.1 1037.7L1496.5 1032.8L1495.4 1027.9L1494.0 1023.3L1492.5 1018.9L1491.0 1014.7L1489.8 1010.5L1488.6 1006.2L1487.4 1001.8L1486.2 997.5L1485.0 993.2L1484.0 989.0L1483.3 984.9L1482.8 980.7L1482.5 976.3L1482.2 971.9L1481.9 967.4L1481.6 962.9L1481.4 958.5L1481.2 954.0L1481.0 949.5L1480.8 945.0L1480.7 940.5L1480.5 936.0L1480.4 931.5L1480.2 927.0L1480.1 922.5L1480.0 918.0L1479.8 913.5L1479.7 909.0L1479.6 904.5L1479.5 900.0L1479.4 895.6L1479.3 891.1L1479.2 886.6L1478.9 882.1L1478.5 877.6L1478.0 873.1L1476.5 870.0L1476.0 870.0L1474.5 873.1L1474.0 877.6L1473.6 882.1L1473.3 886.6L1473.1 891.1L1473.0 895.6L1473.0 900.1L1473.0 904.6L1472.9 909.1L1472.9 913.6L1472.9 918.1L1472.9 922.6L1472.9 927.1L1472.9 931.6L1472.9 936.1L1473.0 940.6L1473.0 945.1L1473.0 949.7L1473.1 954.2L1473.1 958.7L1473.2 963.3L1473.4 967.8L1473.5 972.3L1473.7 976.8L1473.9 981.4L1474.3 986.0L1475.0 990.7L1475.9 995.4L1476.9 999.9L1478.1 1004.3L1479.1 1008.6L1480.2 1013.1L1481.4 1017.7L1482.8 1022.1L1484.1 1026.4L1485.3 1030.5L1486.0 1034.4L1486.3 1038.3L1486.3 1042.4L1486.2 1046.8L1486.1 1051.3L1486.0 1055.8L1485.9 1060.3L1485.8 1064.8L1485.6 1069.3L1485.5 1073.8L1485.3 1078.3L1485.2 1082.8L1485.0 1087.3L1484.9 1091.8L1484.7 1096.3L1484.6 1100.8L1484.4 1105.3L1484.2 1109.8L1484.0 1114.3L1483.8 1118.7L1483.6 1123.2L1483.4 1127.7L1483.2 1132.2L1483.0 1136.7L1482.8 1141.2L1482.6 1145.6L1482.4 1150.1L1482.1 1154.6L1481.9 1159.1L1481.6 1163.6L1481.3 1168.0L1481.0 1172.5L1480.7 1177.0L1480.4 1181.4L1480.1 1185.9L1479.7 1190.4L1479.3 1194.8L1479.0 1199.3L1478.6 1203.7L1478.1 1208.2L1477.8 1212.7L1477.6 1217.1L1477.6 1221.5L1477.8 1226.0L1478.3 1230.6L1481.2 1235.5Z" fill="url(#n36)"/><path d="M1526.4 1235.7L1530.4 1231.6L1532.0 1227.2L1533.2 1222.8L1534.1 1218.3L1534.8 1213.8L1535.2 1209.4L1535.6 1204.9L1536.0 1200.4L1536.3 1195.9L1536.7 1191.4L1537.1 1186.9L1537.4 1182.4L1537.7 1177.9L1538.1 1173.4L1538.4 1168.9L1538.7 1164.4L1539.1 1159.9L1539.4 1155.4L1539.7 1150.9L1539.9 1146.4L1540.2 1141.8L1540.4 1137.3L1540.7 1132.8L1540.9 1128.3L1541.1 1123.8L1541.3 1119.3L1541.5 1114.8L1541.7 1110.4L1542.0 1105.9L1542.3 1101.5L1542.6 1097.1L1543.0 1092.8L1543.5 1088.4L1544.1 1084.1L1544.8 1079.8L1545.5 1075.4L1546.3 1071.1L1547.2 1066.7L1548.0 1062.3L1549.0 1057.9L1549.9 1053.5L1550.8 1049.0L1551.7 1044.6L1552.6 1040.2L1553.5 1035.8L1554.3 1031.4L1555.2 1027.0L1556.1 1022.6L1557.0 1018.2L1558.0 1013.8L1558.9 1009.4L1559.8 1005.0L1560.8 1000.6L1561.8 996.2L1562.7 991.8L1563.7 987.4L1564.6 983.0L1565.6 978.6L1566.6 974.2L1567.5 969.8L1568.4 965.5L1569.4 961.1L1570.5 956.7L1571.5 952.3L1572.5 947.9L1573.5 943.4L1574.4 939.0L1575.2 934.5L1575.9 930.0L1576.6 925.5L1577.2 921.0L1577.8 916.5L1578.4 912.0L1578.9 907.6L1579.4 903.1L1580.0 898.6L1580.5 894.1L1581.0 889.7L1581.3 885.2L1581.6 880.7L1581.8 876.1L1581.8 871.6L1580.6 870.0L1580.0 870.0L1578.4 871.2L1577.4 875.6L1576.4 880.0L1575.6 884.4L1574.9 888.9L1574.2 893.3L1573.5 897.8L1572.9 902.2L1572.2 906.7L1571.6 911.1L1570.9 915.6L1570.2 920.0L1569.4 924.4L1568.7 928.8L1567.8 933.1L1566.9 937.4L1565.9 941.7L1564.8 946.1L1563.7 950.4L1562.6 954.7L1561.4 959.1L1560.3 963.5L1559.2 967.9L1558.1 972.3L1557.0 976.6L1555.9 981.0L1554.8 985.3L1553.7 989.7L1552.6 994.1L1551.5 998.4L1550.4 1002.8L1549.3 1007.2L1548.2 1011.6L1547.2 1016.0L1546.1 1020.3L1545.1 1024.7L1544.0 1029.1L1543.0 1033.5L1542.0 1037.9L1541.1 1042.3L1540.1 1046.7L1539.0 1051.1L1538.0 1055.5L1537.0 1059.9L1536.0 1064.3L1535.0 1068.8L1534.0 1073.3L1533.2 1077.8L1532.4 1082.3L1531.6 1086.8L1531.0 1091.4L1530.5 1096.0L1530.0 1100.5L1529.6 1105.0L1529.3 1109.5L1528.9 1114.1L1528.6 1118.6L1528.3 1123.1L1528.0 1127.6L1527.7 1132.1L1527.5 1136.6L1527.2 1141.1L1526.9 1145.5L1526.5 1150.0L1526.2 1154.4L1525.8 1158.9L1525.5 1163.4L1525.1 1167.9L1524.7 1172.3L1524.3 1176.8L1523.9 1181.3L1523.5 1185.8L1523.1 1190.2L1522.7 1194.7L1522.3 1199.2L1521.9 1203.6L1521.4 1208.1L1521.1 1212.6L1520.9 1217.1L1521.0 1221.6L1521.3 1226.1L1522.0 1230.7L1525.0 1235.5Z" fill="url(#n36)"/><path d="M1587.2 1235.6L1590.8 1231.2L1592.1 1226.7L1592.9 1222.2L1593.4 1217.7L1593.7 1213.2L1593.8 1208.7L1593.9 1204.2L1593.9 1199.7L1593.9 1195.2L1594.0 1190.7L1594.0 1186.2L1594.0 1181.7L1594.1 1177.2L1594.1 1172.7L1594.1 1168.2L1594.1 1163.7L1594.2 1159.2L1594.2 1154.7L1594.2 1150.2L1594.2 1145.7L1594.2 1141.2L1594.2 1136.7L1594.2 1132.2L1594.2 1127.6L1594.2 1123.1L1594.2 1118.6L1594.1 1114.1L1594.1 1109.6L1594.1 1105.1L1594.0 1100.6L1594.0 1096.1L1594.0 1091.6L1594.0 1087.1L1593.9 1082.7L1593.9 1078.2L1593.9 1073.7L1593.9 1069.2L1593.9 1064.7L1594.0 1060.3L1594.1 1055.9L1594.3 1051.5L1594.5 1047.0L1594.8 1042.6L1595.1 1038.2L1595.4 1033.7L1595.7 1029.2L1596.1 1024.8L1596.5 1020.3L1596.9 1015.8L1597.3 1011.3L1597.7 1006.8L1598.1 1002.3L1598.5 997.8L1598.9 993.3L1599.3 988.8L1599.6 984.3L1599.9 979.8L1600.2 975.3L1600.5 970.8L1600.8 966.3L1601.1 961.8L1601.4 957.3L1601.7 952.9L1602.0 948.4L1602.3 943.9L1602.6 939.4L1602.9 934.9L1603.3 930.4L1603.6 925.9L1603.9 921.5L1604.2 917.0L1604.6 912.5L1604.9 908.0L1605.2 903.5L1605.5 899.0L1605.8 894.5L1606.1 890.0L1606.2 885.5L1606.3 881.0L1606.3 876.5L1606.1 871.9L1604.8 870.0L1604.2 870.0L1602.6 871.7L1601.8 876.1L1601.1 880.6L1600.5 885.0L1599.9 889.5L1599.5 894.0L1599.0 898.5L1598.6 902.9L1598.2 907.4L1597.7 911.9L1597.2 916.4L1596.8 920.8L1596.3 925.3L1595.9 929.8L1595.4 934.3L1595.0 938.8L1594.6 943.2L1594.1 947.7L1593.7 952.2L1593.2 956.7L1592.8 961.2L1592.4 965.6L1591.9 970.1L1591.5 974.6L1591.0 979.1L1590.6 983.5L1590.1 988.0L1589.6 992.4L1589.1 996.9L1588.6 1001.3L1588.0 1005.8L1587.5 1010.3L1586.9 1014.8L1586.4 1019.2L1585.8 1023.7L1585.3 1028.2L1584.8 1032.7L1584.3 1037.3L1583.9 1041.8L1583.5 1046.3L1583.2 1050.8L1582.9 1055.4L1582.7 1060.0L1582.5 1064.5L1582.4 1069.1L1582.3 1073.6L1582.2 1078.1L1582.1 1082.6L1582.0 1087.1L1581.9 1091.6L1581.8 1096.1L1581.8 1100.6L1581.7 1105.1L1581.6 1109.6L1581.5 1114.1L1581.4 1118.6L1581.4 1123.1L1581.3 1127.6L1581.3 1132.1L1581.2 1136.6L1581.2 1141.1L1581.1 1145.6L1581.0 1150.1L1581.0 1154.6L1580.9 1159.1L1580.8 1163.5L1580.8 1168.0L1580.7 1172.5L1580.6 1177.0L1580.5 1181.5L1580.4 1186.0L1580.3 1190.5L1580.3 1195.0L1580.2 1199.5L1580.1 1204.0L1580.0 1208.5L1580.0 1213.0L1580.2 1217.5L1580.6 1222.0L1581.2 1226.5L1582.3 1231.0L1585.8 1235.6Z" fill="url(#n36)"/><path d="M1641.2 1235.6L1644.6 1231.0L1645.7 1226.5L1646.4 1222.0L1646.8 1217.5L1647.0 1213.0L1647.0 1208.5L1646.9 1204.0L1646.8 1199.5L1646.7 1195.0L1646.7 1190.5L1646.6 1186.0L1646.5 1181.5L1646.4 1177.0L1646.4 1172.5L1646.3 1168.0L1646.2 1163.5L1646.1 1159.0L1646.0 1154.5L1645.9 1150.0L1645.8 1145.5L1645.7 1141.0L1645.6 1136.5L1645.4 1132.0L1645.3 1127.5L1645.2 1123.0L1645.0 1118.5L1644.9 1114.0L1644.7 1109.5L1644.5 1105.0L1644.3 1100.5L1644.1 1096.0L1643.9 1091.4L1643.8 1086.9L1643.6 1082.4L1643.3 1077.9L1643.1 1073.4L1642.9 1068.9L1642.7 1064.4L1642.5 1059.9L1642.3 1055.4L1642.0 1050.9L1641.8 1046.4L1641.6 1041.9L1641.3 1037.4L1641.0 1032.9L1640.7 1028.4L1640.4 1023.9L1640.1 1019.4L1639.7 1014.9L1639.4 1010.4L1639.0 1005.9L1638.6 1001.4L1638.2 996.9L1637.9 992.4L1637.5 987.9L1637.1 983.5L1636.7 979.0L1636.3 974.5L1635.9 970.0L1635.5 965.5L1635.1 961.0L1634.7 956.6L1634.4 952.1L1634.0 947.6L1633.6 943.1L1633.2 938.6L1632.8 934.1L1632.4 929.6L1632.0 925.2L1631.6 920.7L1631.2 916.2L1630.8 911.7L1630.3 907.2L1629.9 902.8L1629.5 898.3L1629.1 893.8L1628.7 889.3L1628.2 884.8L1627.6 880.4L1626.9 875.9L1626.0 871.5L1624.5 870.0L1623.9 870.0L1622.6 871.7L1622.4 876.2L1622.3 880.8L1622.4 885.3L1622.6 889.8L1622.8 894.3L1623.1 898.8L1623.3 903.3L1623.6 907.7L1623.9 912.2L1624.2 916.7L1624.4 921.2L1624.7 925.7L1625.0 930.2L1625.3 934.7L1625.5 939.2L1625.8 943.7L1626.1 948.2L1626.3 952.7L1626.6 957.1L1626.8 961.6L1627.1 966.1L1627.3 970.6L1627.6 975.1L1627.8 979.6L1628.1 984.1L1628.3 988.6L1628.6 993.1L1628.8 997.6L1629.0 1002.1L1629.3 1006.6L1629.5 1011.0L1629.7 1015.5L1629.9 1020.0L1630.1 1024.5L1630.3 1029.0L1630.4 1033.4L1630.6 1037.9L1630.7 1042.4L1630.8 1046.9L1630.9 1051.4L1631.1 1055.9L1631.2 1060.4L1631.3 1064.9L1631.4 1069.4L1631.5 1073.8L1631.6 1078.3L1631.7 1082.8L1631.8 1087.3L1631.9 1091.8L1632.0 1096.3L1632.0 1100.8L1632.1 1105.3L1632.2 1109.8L1632.3 1114.3L1632.3 1118.8L1632.4 1123.3L1632.4 1127.8L1632.5 1132.3L1632.6 1136.8L1632.7 1141.3L1632.7 1145.7L1632.8 1150.2L1632.8 1154.7L1632.9 1159.2L1632.9 1163.7L1632.9 1168.2L1632.9 1172.7L1633.0 1177.2L1633.0 1181.7L1633.0 1186.2L1633.0 1190.7L1633.1 1195.2L1633.1 1199.7L1633.1 1204.2L1633.1 1208.7L1633.3 1213.2L1633.6 1217.7L1634.1 1222.2L1634.9 1226.7L1636.2 1231.2L1639.8 1235.6Z" fill="url(#n36)"/><path d="M1700.0 1235.6L1703.1 1230.8L1703.9 1226.2L1704.3 1221.7L1704.4 1217.1L1704.3 1212.7L1704.0 1208.2L1703.6 1203.7L1703.3 1199.2L1702.9 1194.7L1702.6 1190.3L1702.2 1185.8L1701.9 1181.3L1701.5 1176.8L1701.1 1172.3L1700.8 1167.8L1700.4 1163.3L1700.0 1158.8L1699.7 1154.3L1699.3 1149.8L1698.9 1145.4L1698.5 1140.9L1698.1 1136.4L1697.8 1131.9L1697.4 1127.4L1697.0 1122.9L1696.6 1118.4L1696.2 1113.9L1695.8 1109.4L1695.3 1104.9L1694.9 1100.4L1694.4 1095.9L1694.0 1091.4L1693.5 1086.9L1692.9 1082.4L1692.4 1078.0L1691.9 1073.5L1691.3 1069.0L1690.7 1064.5L1690.0 1059.9L1689.2 1055.4L1688.4 1050.9L1687.5 1046.5L1686.6 1042.0L1685.6 1037.6L1684.7 1033.2L1683.7 1028.7L1682.7 1024.3L1681.7 1020.0L1680.7 1015.6L1679.7 1011.2L1678.7 1006.8L1677.8 1002.4L1676.8 998.0L1675.8 993.6L1674.9 989.2L1673.9 984.8L1672.9 980.4L1671.9 976.0L1670.9 971.6L1669.9 967.2L1668.8 962.8L1667.8 958.4L1666.8 954.1L1665.7 949.7L1664.7 945.3L1663.6 940.9L1662.5 936.5L1661.4 932.1L1660.3 927.8L1659.2 923.4L1658.1 919.0L1657.0 914.7L1655.9 910.3L1654.9 906.0L1653.8 901.6L1652.7 897.2L1651.7 892.9L1650.6 888.5L1649.5 884.2L1648.3 879.8L1647.0 875.5L1645.6 871.2L1643.9 869.9L1643.3 870.1L1642.2 871.9L1642.6 876.4L1643.2 880.9L1643.9 885.4L1644.6 889.8L1645.5 894.2L1646.4 898.7L1647.4 903.1L1648.3 907.5L1649.3 911.9L1650.2 916.3L1651.2 920.7L1652.2 925.1L1653.2 929.5L1654.2 933.9L1655.1 938.2L1656.1 942.6L1657.0 947.0L1657.9 951.4L1658.9 955.8L1659.8 960.2L1660.6 964.6L1661.5 969.0L1662.4 973.4L1663.3 977.8L1664.1 982.2L1665.0 986.7L1665.8 991.1L1666.7 995.5L1667.5 999.9L1668.3 1004.3L1669.1 1008.7L1669.9 1013.2L1670.8 1017.6L1671.6 1022.1L1672.5 1026.5L1673.4 1030.9L1674.2 1035.3L1675.1 1039.7L1675.9 1044.1L1676.7 1048.5L1677.4 1052.9L1678.1 1057.3L1678.8 1061.6L1679.3 1066.0L1679.8 1070.4L1680.3 1074.8L1680.7 1079.2L1681.1 1083.7L1681.5 1088.1L1681.9 1092.6L1682.3 1097.0L1682.6 1101.5L1683.0 1106.0L1683.3 1110.5L1683.6 1114.9L1683.9 1119.4L1684.2 1123.9L1684.5 1128.4L1684.9 1132.9L1685.2 1137.4L1685.5 1141.9L1685.8 1146.4L1686.2 1150.9L1686.5 1155.4L1686.8 1159.8L1687.1 1164.3L1687.5 1168.8L1687.8 1173.3L1688.1 1177.8L1688.4 1182.3L1688.7 1186.7L1689.0 1191.2L1689.3 1195.7L1689.6 1200.2L1689.9 1204.7L1690.2 1209.2L1690.6 1213.7L1691.2 1218.2L1692.0 1222.7L1693.1 1227.1L1694.7 1231.5L1698.6 1235.7Z" fill="url(#n36)"/><path d="M1760.4 1235.5L1763.3 1230.6L1763.9 1226.0L1764.0 1221.4L1763.9 1216.9L1763.6 1212.5L1763.1 1208.0L1762.5 1203.5L1762.0 1199.1L1761.4 1194.6L1760.9 1190.2L1760.3 1185.7L1759.8 1181.2L1759.2 1176.7L1758.7 1172.2L1758.1 1167.8L1757.5 1163.3L1756.8 1158.8L1756.2 1154.3L1755.5 1149.8L1754.8 1145.3L1754.0 1140.8L1753.2 1136.4L1752.4 1131.9L1751.6 1127.5L1750.7 1123.0L1749.8 1118.6L1748.9 1114.1L1748.0 1109.7L1747.0 1105.3L1746.1 1100.9L1745.2 1096.5L1744.2 1092.1L1743.3 1087.7L1742.4 1083.3L1741.5 1078.9L1740.5 1074.5L1739.6 1070.0L1738.6 1065.6L1737.6 1061.2L1736.6 1056.8L1735.6 1052.3L1734.5 1047.9L1733.4 1043.5L1732.2 1039.1L1731.0 1034.7L1729.8 1030.4L1728.4 1026.0L1727.1 1021.6L1725.6 1017.3L1724.2 1013.0L1722.7 1008.7L1721.1 1004.4L1719.5 1000.1L1717.8 995.9L1716.1 991.6L1714.3 987.4L1712.4 983.2L1710.4 979.1L1708.3 975.0L1706.2 971.0L1704.0 967.0L1701.7 963.0L1699.3 959.1L1696.7 955.4L1694.0 951.7L1690.9 948.2L1686.9 945.7L1686.3 946.1L1686.9 950.8L1688.7 955.0L1690.5 959.0L1692.5 963.0L1694.4 967.0L1696.4 971.0L1698.4 975.0L1700.4 979.0L1702.3 983.0L1704.1 987.0L1705.8 991.1L1707.4 995.1L1709.0 999.2L1710.5 1003.4L1711.9 1007.6L1713.3 1011.8L1714.7 1016.1L1716.0 1020.4L1717.2 1024.6L1718.4 1028.9L1719.6 1033.2L1720.7 1037.5L1721.7 1041.8L1722.8 1046.1L1723.8 1050.5L1724.7 1054.8L1725.6 1059.2L1726.5 1063.5L1727.4 1067.9L1728.2 1072.3L1729.1 1076.7L1729.9 1081.2L1730.7 1085.6L1731.5 1090.0L1732.4 1094.5L1733.2 1098.9L1734.0 1103.3L1734.8 1107.7L1735.7 1112.2L1736.5 1116.6L1737.3 1121.0L1738.1 1125.4L1738.9 1129.8L1739.6 1134.2L1740.4 1138.6L1741.1 1143.0L1741.8 1147.4L1742.5 1151.8L1743.1 1156.2L1743.7 1160.6L1744.3 1165.0L1744.8 1169.5L1745.3 1173.9L1745.9 1178.3L1746.4 1182.8L1746.9 1187.3L1747.4 1191.7L1747.8 1196.2L1748.3 1200.7L1748.8 1205.2L1749.4 1209.7L1750.0 1214.2L1750.8 1218.6L1751.8 1223.0L1753.2 1227.4L1754.9 1231.7L1759.0 1235.7Z" fill="url(#n36)"/><path d="M1824.3 1235.5L1827.1 1230.5L1827.6 1225.8L1827.5 1221.1L1827.0 1216.5L1826.2 1211.8L1825.1 1207.4L1823.9 1203.1L1822.9 1198.8L1821.9 1194.5L1820.9 1190.2L1819.9 1185.8L1819.0 1181.4L1818.1 1177.1L1817.2 1172.7L1816.2 1168.3L1815.3 1163.8L1814.4 1159.4L1813.5 1155.0L1812.6 1150.6L1811.6 1146.2L1810.7 1141.7L1809.7 1137.3L1808.7 1132.9L1807.6 1128.4L1806.5 1124.0L1805.4 1119.6L1804.2 1115.2L1802.9 1110.9L1801.6 1106.5L1800.3 1102.1L1798.9 1097.8L1797.5 1093.5L1796.1 1089.2L1794.7 1084.9L1793.3 1080.6L1791.9 1076.3L1790.5 1072.0L1789.1 1067.8L1787.7 1063.5L1786.2 1059.1L1784.6 1054.8L1783.0 1050.5L1781.4 1046.3L1779.8 1042.1L1778.2 1037.9L1776.7 1033.7L1775.4 1029.6L1774.1 1025.5L1773.0 1021.3L1772.1 1017.1L1771.2 1012.8L1770.3 1008.4L1769.5 1004.0L1768.7 999.7L1768.2 995.4L1767.8 991.2L1767.7 986.8L1767.6 982.4L1767.5 977.9L1767.5 973.4L1767.4 968.9L1767.3 964.4L1767.2 959.9L1767.2 955.4L1767.1 950.9L1767.0 946.4L1766.9 941.8L1766.8 937.3L1766.7 932.8L1766.6 928.3L1766.5 923.8L1766.4 919.3L1766.3 914.8L1766.1 910.3L1766.0 905.8L1765.9 901.3L1765.7 896.8L1765.5 892.3L1765.2 887.8L1764.8 883.3L1764.3 878.8L1763.6 874.3L1762.0 870.0L1761.4 870.0L1760.1 874.4L1759.7 879.0L1759.5 883.5L1759.4 888.0L1759.3 892.4L1759.3 896.9L1759.3 901.4L1759.3 905.9L1759.3 910.4L1759.3 914.9L1759.3 919.4L1759.3 923.9L1759.3 928.4L1759.3 932.9L1759.2 937.4L1759.2 941.9L1759.2 946.4L1759.1 950.9L1759.0 955.4L1759.0 959.9L1758.9 964.4L1758.8 968.9L1758.7 973.4L1758.7 977.9L1758.6 982.4L1758.5 986.9L1758.5 991.6L1758.8 996.3L1759.3 1001.0L1759.9 1005.6L1760.6 1010.1L1761.4 1014.6L1762.2 1019.1L1763.0 1023.6L1764.1 1028.1L1765.3 1032.6L1766.6 1037.1L1768.0 1041.4L1769.5 1045.8L1771.0 1050.1L1772.5 1054.3L1774.0 1058.6L1775.5 1062.8L1776.8 1067.0L1778.1 1071.2L1779.4 1075.6L1780.7 1079.9L1782.0 1084.2L1783.3 1088.5L1784.6 1092.8L1785.9 1097.1L1787.2 1101.4L1788.4 1105.7L1789.6 1109.9L1790.8 1114.2L1791.9 1118.5L1793.0 1122.8L1794.0 1127.1L1795.1 1131.4L1796.0 1135.8L1797.0 1140.1L1797.9 1144.5L1798.8 1148.8L1799.7 1153.2L1800.6 1157.6L1801.4 1162.0L1802.3 1166.5L1803.1 1170.9L1804.0 1175.3L1804.9 1179.7L1805.7 1184.2L1806.6 1188.6L1807.6 1193.1L1808.5 1197.5L1809.5 1202.0L1810.6 1206.5L1811.7 1210.9L1812.9 1215.1L1814.1 1219.3L1815.4 1223.4L1816.9 1227.6L1818.8 1231.8L1822.9 1235.7Z" fill="url(#n36)"/><path d="M1859.4 1137.0L1861.4 1131.8L1861.3 1127.2L1860.8 1122.6L1859.9 1118.1L1858.9 1113.7L1857.6 1109.3L1856.2 1105.0L1854.8 1100.6L1853.4 1096.3L1852.0 1092.0L1850.5 1087.7L1849.0 1083.5L1847.5 1079.2L1845.9 1074.9L1844.3 1070.7L1842.7 1066.4L1840.9 1062.2L1839.2 1058.0L1837.4 1053.8L1835.6 1049.6L1833.8 1045.5L1832.0 1041.3L1830.2 1037.2L1828.3 1033.1L1826.4 1028.9L1824.4 1024.8L1822.4 1020.8L1820.5 1016.7L1818.5 1012.7L1816.6 1008.7L1814.7 1004.6L1812.7 1000.4L1810.5 996.2L1808.3 992.2L1806.5 988.4L1805.2 984.9L1804.6 981.2L1804.3 977.0L1804.0 972.7L1803.7 968.3L1803.4 963.8L1803.2 959.4L1803.0 954.8L1802.8 950.3L1802.6 945.8L1802.5 941.2L1802.3 936.6L1802.1 932.1L1802.0 927.6L1801.8 923.1L1801.6 918.6L1801.4 914.1L1801.2 909.6L1801.0 905.1L1800.8 900.6L1800.6 896.1L1800.4 891.6L1800.1 887.1L1799.8 882.6L1799.3 878.1L1798.6 873.6L1797.1 870.0L1796.6 870.0L1795.2 873.7L1794.7 878.2L1794.5 882.7L1794.3 887.2L1794.2 891.8L1794.2 896.3L1794.3 900.8L1794.3 905.3L1794.4 909.8L1794.4 914.3L1794.5 918.8L1794.6 923.3L1794.6 927.8L1794.7 932.3L1794.7 936.8L1794.8 941.4L1794.8 945.9L1794.8 950.5L1794.9 955.1L1794.9 959.6L1795.0 964.2L1795.1 968.7L1795.3 973.2L1795.5 977.6L1795.7 982.1L1796.4 987.0L1797.9 991.8L1799.9 996.3L1802.0 1000.6L1804.0 1004.6L1805.8 1008.6L1807.6 1012.8L1809.4 1016.9L1811.3 1021.1L1813.1 1025.2L1815.0 1029.3L1816.8 1033.3L1818.6 1037.4L1820.3 1041.5L1822.0 1045.6L1823.7 1049.8L1825.4 1053.9L1827.1 1058.1L1828.7 1062.2L1830.3 1066.4L1831.9 1070.6L1833.4 1074.7L1834.9 1078.9L1836.3 1083.1L1837.7 1087.3L1839.1 1091.5L1840.5 1095.8L1841.8 1100.1L1843.1 1104.3L1844.3 1108.6L1845.6 1112.9L1846.9 1117.1L1848.3 1121.4L1849.9 1125.6L1851.7 1129.7L1853.9 1133.8L1858.1 1137.3Z" fill="url(#n36)"/><path d="M1686.5 946.0L1687.5 951.3L1689.4 956.1L1691.9 960.2L1694.9 963.5L1698.3 965.8L1702.3 967.5L1707.0 968.9L1712.0 969.8L1716.8 969.9L1722.1 968.8L1727.0 966.9L1729.7 964.3L1731.3 960.6L1732.4 956.0L1733.3 950.9L1733.9 945.7L1734.1 940.7L1734.1 936.2L1734.2 931.8L1734.2 927.3L1734.2 922.8L1734.2 918.3L1734.2 913.7L1734.2 909.2L1734.2 904.7L1734.2 900.2L1734.2 895.7L1734.1 891.2L1734.1 886.7L1734.0 882.2L1733.8 877.7L1733.6 873.2L1733.1 870.0L1732.9 870.0L1732.4 873.2L1732.2 877.7L1732.1 882.2L1732.0 886.7L1731.9 891.2L1731.9 895.7L1731.8 900.2L1731.8 904.7L1731.8 909.2L1731.7 913.7L1731.7 918.2L1731.6 922.7L1731.6 927.2L1731.5 931.7L1731.4 936.2L1731.3 940.6L1731.0 945.4L1730.4 950.5L1729.6 955.4L1728.4 959.7L1727.2 962.6L1725.4 964.3L1721.3 965.9L1716.5 966.8L1712.3 966.7L1707.7 965.9L1703.3 964.6L1699.6 963.2L1696.8 961.4L1694.0 958.6L1691.4 955.0L1689.1 950.7L1686.7 945.9Z" fill="url(#n30)"/><path d="M1709.5 870.0L1708.9 874.5L1708.6 879.0L1708.5 883.5L1708.4 888.0L1708.3 892.5L1708.3 897.0L1708.3 901.5L1708.2 906.0L1708.2 910.5L1708.2 915.0L1708.2 919.5L1708.1 924.0L1708.1 928.5L1708.1 933.0L1708.1 937.5L1708.1 942.0L1708.2 946.5L1708.3 951.0L1708.4 955.5L1708.7 960.0L1709.1 964.5L1710.0 965.6L1710.4 965.6L1711.3 964.5L1711.6 960.0L1711.6 955.5L1711.6 951.0L1711.5 946.5L1711.4 942.0L1711.3 937.5L1711.3 933.0L1711.2 928.5L1711.2 924.0L1711.2 919.5L1711.1 915.0L1711.1 910.5L1711.1 906.0L1711.1 901.5L1711.0 897.0L1711.0 892.5L1711.0 888.0L1710.9 883.5L1710.7 879.0L1710.5 874.5L1709.8 870.0Z" fill="url(#n36)"/><path d="M1477.0 976.9L1474.2 983.2L1474.3 989.3L1475.7 994.8L1479.1 999.3L1483.7 1001.6L1488.3 1002.8L1493.4 1003.6L1498.9 1004.3L1504.4 1004.7L1509.7 1005.0L1515.3 1005.0L1521.6 1002.8L1526.7 999.1L1530.6 995.1L1533.9 991.4L1536.8 987.3L1539.4 982.9L1541.6 978.4L1543.5 974.0L1545.3 969.7L1547.0 965.4L1548.5 961.0L1550.0 956.6L1551.3 952.2L1552.6 947.8L1553.9 943.5L1555.2 939.2L1556.4 934.8L1557.6 930.4L1558.8 926.1L1560.0 921.7L1561.2 917.3L1562.4 913.0L1563.5 908.7L1564.8 904.3L1565.9 899.9L1567.0 895.5L1568.0 891.0L1568.7 886.5L1569.3 881.9L1569.7 877.4L1569.8 872.8L1568.1 870.1L1567.2 869.9L1564.7 871.8L1563.1 876.1L1561.6 880.3L1560.3 884.6L1559.0 888.8L1557.8 893.1L1556.6 897.3L1555.2 901.5L1553.9 905.8L1552.5 910.1L1551.1 914.4L1549.8 918.7L1548.4 923.0L1547.1 927.2L1545.7 931.5L1544.3 935.7L1542.8 940.0L1541.4 944.2L1539.9 948.5L1538.4 952.7L1536.9 956.8L1535.3 960.8L1533.6 964.7L1531.8 968.7L1529.8 972.6L1527.7 976.4L1525.6 979.8L1523.3 982.7L1520.7 985.5L1517.6 988.4L1514.9 990.3L1513.1 990.9L1510.1 990.8L1505.4 990.5L1500.3 990.1L1495.3 989.6L1490.9 988.9L1487.6 988.2L1486.6 988.4L1486.3 988.7L1484.4 986.2L1482.2 981.9L1478.3 976.8Z" fill="url(#n36)"/><path d="M1509.1 870.0L1507.3 874.5L1506.6 879.0L1506.1 883.5L1505.8 888.0L1505.5 892.5L1505.4 897.0L1505.4 901.6L1505.5 906.1L1505.5 910.6L1505.6 915.2L1505.7 919.7L1505.8 924.2L1505.9 928.6L1506.0 933.1L1506.0 937.6L1506.0 942.1L1506.0 946.6L1506.0 951.1L1506.0 955.6L1506.0 960.0L1506.2 964.5L1506.6 969.0L1507.1 973.5L1508.1 978.0L1510.8 982.5L1512.0 982.5L1514.7 977.9L1515.5 973.4L1516.0 968.9L1516.2 964.4L1516.3 959.9L1516.2 955.4L1516.0 950.9L1515.9 946.4L1515.7 941.9L1515.5 937.4L1515.3 932.8L1515.1 928.3L1514.8 923.8L1514.6 919.3L1514.3 914.8L1514.1 910.3L1513.8 905.9L1513.6 901.4L1513.5 897.0L1513.3 892.5L1513.1 888.0L1512.8 883.5L1512.3 879.0L1511.6 874.5L1509.8 870.0Z" fill="url(#n36)"/><path d="M1678.3 912.2L1678.9 907.5L1678.5 903.1L1677.8 898.6L1677.2 894.2L1676.6 889.7L1676.0 885.2L1675.3 880.8L1674.7 876.3L1673.9 871.9L1672.7 870.0L1672.4 870.0L1671.7 872.2L1672.1 876.7L1672.7 881.1L1673.2 885.6L1673.8 890.1L1674.4 894.5L1674.9 899.0L1675.5 903.5L1676.2 907.9L1678.0 912.2Z" fill="url(#n36)"/><path d="M1590.9 870.0L1590.2 874.5L1589.9 879.0L1589.7 883.5L1589.5 888.0L1589.3 892.5L1589.2 897.0L1589.0 901.5L1588.8 905.9L1588.7 910.4L1588.5 914.9L1588.3 919.4L1588.0 923.9L1587.8 928.4L1587.6 932.9L1587.3 937.4L1587.1 941.9L1586.9 946.4L1586.6 950.9L1586.3 955.3L1586.1 959.8L1585.8 964.3L1585.7 968.8L1585.5 973.3L1585.5 977.8L1586.3 979.7L1586.7 979.7L1587.7 978.0L1588.2 973.5L1588.7 969.0L1589.0 964.5L1589.3 960.0L1589.6 955.5L1589.8 951.0L1590.0 946.5L1590.2 942.0L1590.4 937.5L1590.6 933.0L1590.8 928.5L1590.9 924.0L1591.1 919.5L1591.3 915.0L1591.4 910.5L1591.5 906.0L1591.6 901.5L1591.7 897.0L1591.8 892.5L1591.8 888.0L1591.8 883.5L1591.8 879.0L1591.6 874.5L1591.1 870.0Z" fill="url(#n39)"/><path d="M1613.9 870.0L1613.4 874.5L1613.1 879.0L1613.0 883.5L1612.9 888.0L1612.8 892.5L1612.8 897.0L1612.7 901.5L1612.7 906.0L1612.7 910.5L1612.7 915.0L1612.8 919.5L1612.8 924.0L1612.9 928.5L1612.9 933.0L1613.0 937.5L1613.0 942.0L1613.1 946.5L1613.2 951.0L1613.3 955.5L1613.4 960.0L1613.7 964.5L1614.0 969.0L1614.4 973.5L1615.3 974.1L1615.6 974.1L1616.5 973.4L1616.6 968.9L1616.6 964.4L1616.6 959.9L1616.5 955.4L1616.4 951.0L1616.2 946.5L1616.1 942.0L1616.0 937.5L1615.9 933.0L1615.8 928.5L1615.7 924.0L1615.6 919.5L1615.5 915.0L1615.4 910.5L1615.4 906.0L1615.4 901.5L1615.3 897.0L1615.3 892.5L1615.2 888.0L1615.1 883.5L1615.0 879.0L1614.7 874.5L1614.2 870.0Z" fill="url(#n39)"/><path d="M1636.4 870.0L1636.0 874.5L1635.9 879.0L1635.9 883.5L1636.0 888.0L1636.1 892.5L1636.3 897.0L1636.5 901.5L1636.7 906.0L1637.0 910.5L1637.2 915.0L1637.5 919.5L1637.8 924.0L1638.1 928.5L1638.5 933.0L1638.8 937.5L1639.1 942.0L1639.5 946.5L1639.8 951.0L1640.2 955.5L1640.6 960.0L1641.0 964.4L1641.5 968.9L1642.2 973.4L1642.9 977.8L1644.0 979.7L1644.3 979.7L1645.0 977.6L1644.8 973.1L1644.5 968.6L1644.2 964.1L1643.8 959.7L1643.4 955.2L1643.0 950.7L1642.6 946.2L1642.2 941.7L1641.8 937.3L1641.4 932.8L1641.1 928.3L1640.7 923.8L1640.3 919.3L1640.0 914.9L1639.7 910.4L1639.4 905.9L1639.1 901.4L1638.9 896.9L1638.6 892.4L1638.4 887.9L1638.1 883.5L1637.7 879.0L1637.4 874.5L1636.7 870.0Z" fill="url(#n39)"/></g>
<g filter="url(#b5)"><path d="M1286.7 1235.9L1295.8 1233.2L1299.5 1229.4L1302.1 1225.5L1304.1 1221.5L1305.7 1217.4L1306.8 1213.2L1307.8 1208.9L1308.9 1204.7L1309.9 1200.4L1311.0 1196.1L1312.1 1191.9L1313.3 1187.6L1314.4 1183.3L1315.6 1179.1L1316.8 1174.8L1318.1 1170.6L1319.3 1166.4L1320.6 1162.1L1321.9 1157.9L1323.2 1153.7L1324.6 1149.5L1326.0 1145.4L1327.4 1141.2L1328.8 1137.1L1330.3 1132.9L1331.8 1128.8L1333.2 1124.7L1334.5 1120.4L1335.5 1116.1L1336.1 1111.5L1336.2 1106.8L1335.5 1101.7L1330.2 1095.6L1327.5 1094.4L1319.4 1094.9L1315.2 1098.0L1311.9 1101.6L1309.1 1105.4L1306.8 1109.5L1304.8 1113.6L1303.0 1117.9L1301.4 1122.2L1299.7 1126.5L1298.1 1130.8L1296.5 1135.1L1294.9 1139.4L1293.4 1143.8L1291.9 1148.1L1290.4 1152.4L1289.0 1156.8L1287.6 1161.1L1286.2 1165.5L1284.8 1169.9L1283.4 1174.3L1282.1 1178.7L1280.8 1183.1L1279.5 1187.5L1278.2 1191.9L1277.0 1196.4L1275.8 1200.8L1274.6 1205.3L1273.6 1209.8L1273.2 1214.5L1273.2 1219.3L1274.0 1224.2L1275.9 1229.2L1283.3 1235.3Z" fill="url(#n31)"/><path d="M1335.8 1236.1L1344.9 1233.9L1348.9 1230.4L1351.7 1226.6L1354.0 1222.7L1355.8 1218.6L1357.3 1214.4L1358.5 1210.2L1359.8 1205.9L1361.1 1201.6L1362.3 1197.4L1363.6 1193.1L1365.0 1188.8L1366.3 1184.6L1367.6 1180.3L1369.0 1176.1L1370.4 1171.9L1371.7 1167.6L1373.1 1163.4L1374.5 1159.2L1375.9 1155.0L1377.4 1150.8L1378.8 1146.6L1380.3 1142.4L1381.8 1138.2L1383.3 1134.0L1384.8 1129.9L1386.3 1125.7L1387.8 1121.5L1389.3 1117.3L1390.8 1113.1L1392.4 1108.9L1393.9 1104.6L1395.5 1100.5L1397.0 1096.3L1398.6 1092.1L1400.1 1087.9L1401.7 1083.8L1403.3 1079.6L1405.0 1075.4L1406.6 1071.3L1408.2 1067.1L1409.9 1062.9L1411.5 1058.8L1413.2 1054.6L1414.9 1050.4L1416.5 1046.3L1418.2 1042.1L1419.8 1038.0L1421.5 1033.9L1423.2 1029.8L1424.9 1025.7L1426.7 1021.5L1428.4 1017.4L1430.1 1013.2L1431.9 1009.1L1433.6 1004.9L1435.4 1000.7L1437.1 996.4L1438.8 992.2L1440.4 987.9L1442.1 983.7L1443.7 979.5L1445.3 975.3L1447.0 971.1L1448.6 966.8L1450.2 962.5L1451.8 958.2L1453.3 953.8L1454.8 949.3L1456.2 944.9L1457.4 940.4L1458.6 936.0L1459.8 931.5L1460.8 927.0L1461.9 922.6L1462.8 918.1L1463.8 913.7L1464.7 909.2L1465.7 904.8L1466.6 900.4L1467.6 896.1L1468.4 891.6L1469.1 887.2L1469.6 882.6L1469.9 878.0L1469.7 873.4L1467.0 870.2L1465.7 869.8L1461.9 871.4L1459.6 875.5L1457.7 879.6L1456.0 883.8L1454.4 888.1L1453.1 892.4L1451.8 896.8L1450.6 901.1L1449.4 905.5L1448.2 909.8L1446.9 914.1L1445.7 918.4L1444.4 922.6L1443.1 926.8L1441.8 931.0L1440.4 935.1L1438.9 939.2L1437.4 943.2L1435.8 947.2L1434.1 951.2L1432.3 955.2L1430.5 959.3L1428.6 963.3L1426.7 967.3L1424.8 971.4L1422.9 975.5L1421.0 979.6L1419.1 983.6L1417.1 987.6L1415.2 991.6L1413.2 995.6L1411.2 999.6L1409.2 1003.6L1407.2 1007.6L1405.2 1011.6L1403.1 1015.7L1401.1 1019.7L1399.1 1023.8L1397.1 1027.9L1395.1 1032.0L1393.2 1036.2L1391.3 1040.3L1389.4 1044.4L1387.5 1048.5L1385.6 1052.6L1383.7 1056.7L1381.8 1060.8L1380.0 1064.9L1378.1 1069.1L1376.3 1073.2L1374.4 1077.4L1372.6 1081.5L1370.8 1085.7L1369.0 1089.9L1367.2 1094.0L1365.4 1098.2L1363.7 1102.4L1361.9 1106.6L1360.2 1110.7L1358.4 1114.9L1356.7 1119.1L1355.0 1123.4L1353.4 1127.6L1351.7 1131.9L1350.1 1136.1L1348.5 1140.4L1346.9 1144.7L1345.3 1149.0L1343.8 1153.3L1342.3 1157.5L1340.7 1161.8L1339.2 1166.1L1337.7 1170.4L1336.2 1174.7L1334.8 1179.0L1333.3 1183.3L1331.9 1187.6L1330.4 1192.0L1329.0 1196.3L1327.6 1200.6L1326.2 1204.9L1325.0 1209.3L1324.2 1213.9L1324.0 1218.6L1324.4 1223.5L1325.9 1228.6L1332.6 1235.2Z" fill="url(#n34)"/><path d="M1414.4 1236.0L1422.6 1233.5L1426.2 1229.7L1428.9 1225.4L1430.8 1220.8L1432.2 1216.3L1433.1 1211.7L1433.8 1207.1L1434.4 1202.5L1435.0 1198.0L1435.6 1193.4L1436.2 1188.9L1436.7 1184.4L1437.2 1179.9L1437.7 1175.4L1438.3 1171.0L1438.8 1166.6L1439.3 1162.2L1439.9 1157.8L1440.5 1153.5L1441.2 1149.1L1441.9 1144.7L1442.6 1140.3L1443.3 1135.9L1444.0 1131.5L1444.7 1127.1L1445.4 1122.7L1446.1 1118.2L1446.8 1113.8L1447.5 1109.3L1448.2 1104.8L1448.8 1100.4L1449.5 1095.9L1450.2 1091.4L1450.8 1086.9L1451.4 1082.4L1452.0 1077.9L1452.7 1073.4L1453.3 1069.0L1453.9 1064.6L1454.5 1060.2L1455.2 1055.8L1455.9 1051.5L1456.6 1047.1L1457.4 1042.8L1458.2 1038.6L1459.0 1034.3L1459.9 1030.1L1460.7 1025.8L1461.4 1021.4L1461.7 1016.9L1461.8 1012.3L1461.3 1007.5L1457.5 1002.5L1455.6 1001.9L1449.7 1004.0L1446.6 1007.8L1444.1 1011.8L1442.0 1016.0L1440.3 1020.3L1438.8 1024.7L1437.6 1029.2L1436.4 1033.7L1435.3 1038.2L1434.2 1042.7L1433.3 1047.2L1432.3 1051.7L1431.4 1056.2L1430.5 1060.6L1429.7 1065.1L1428.8 1069.6L1428.0 1074.0L1427.2 1078.4L1426.3 1082.8L1425.5 1087.2L1424.6 1091.6L1423.8 1095.9L1422.9 1100.3L1422.0 1104.7L1421.1 1109.1L1420.2 1113.5L1419.3 1118.0L1418.4 1122.4L1417.5 1126.8L1416.7 1131.3L1415.9 1135.7L1415.0 1140.2L1414.2 1144.7L1413.5 1149.2L1412.7 1153.7L1412.0 1158.3L1411.3 1162.8L1410.6 1167.3L1410.0 1171.8L1409.3 1176.3L1408.7 1180.8L1408.1 1185.2L1407.4 1189.6L1406.8 1194.0L1406.1 1198.3L1405.4 1202.6L1404.6 1206.9L1404.0 1211.2L1403.8 1215.5L1403.8 1219.7L1404.4 1224.1L1405.7 1229.0L1411.5 1235.2Z" fill="url(#n31)"/><path d="M1483.3 1235.8L1491.2 1232.4L1494.3 1228.2L1496.5 1223.7L1497.9 1219.2L1498.9 1214.6L1499.4 1210.1L1499.8 1205.6L1500.1 1201.0L1500.4 1196.5L1500.7 1191.9L1501.0 1187.4L1501.2 1182.8L1501.5 1178.3L1501.7 1173.8L1501.9 1169.2L1502.1 1164.7L1502.3 1160.1L1502.5 1155.6L1502.6 1151.1L1502.8 1146.5L1502.9 1142.0L1503.0 1137.5L1503.2 1133.0L1503.3 1128.5L1503.4 1123.9L1503.4 1119.4L1503.5 1114.9L1503.5 1110.3L1503.5 1105.8L1503.5 1101.3L1503.5 1096.7L1503.5 1092.2L1503.5 1087.7L1503.5 1083.2L1503.4 1078.7L1503.4 1074.1L1503.4 1069.6L1503.4 1065.0L1503.3 1060.5L1503.3 1056.0L1503.2 1051.5L1503.1 1047.0L1503.0 1042.4L1502.9 1037.4L1502.2 1031.9L1501.0 1026.6L1499.4 1021.7L1497.8 1017.2L1496.3 1013.1L1495.0 1009.1L1493.8 1004.9L1492.4 1000.5L1491.1 996.2L1490.0 992.1L1488.9 988.1L1488.2 984.3L1487.7 980.3L1487.3 976.0L1486.9 971.6L1486.5 967.2L1486.2 962.8L1485.8 958.3L1485.5 953.8L1485.3 949.4L1485.0 944.9L1484.8 940.4L1484.6 935.9L1484.4 931.4L1484.2 926.9L1484.0 922.4L1483.8 918.0L1483.6 913.5L1483.4 909.0L1483.2 904.5L1483.1 900.0L1482.9 895.5L1482.7 891.1L1482.3 886.6L1481.7 882.1L1481.0 877.6L1479.8 873.1L1476.8 870.0L1475.6 870.0L1472.7 873.1L1471.5 877.6L1470.7 882.1L1470.2 886.6L1469.8 891.1L1469.6 895.6L1469.4 900.1L1469.3 904.6L1469.2 909.1L1469.2 913.6L1469.1 918.2L1469.0 922.7L1468.9 927.2L1468.9 931.7L1468.8 936.2L1468.8 940.7L1468.7 945.2L1468.7 949.8L1468.7 954.3L1468.7 958.9L1468.7 963.5L1468.8 968.0L1468.8 972.6L1468.9 977.1L1469.1 981.8L1469.4 986.6L1470.0 991.7L1470.9 996.5L1472.0 1001.2L1473.0 1005.7L1474.0 1010.0L1475.0 1014.5L1476.2 1019.3L1477.5 1023.8L1478.8 1028.1L1479.7 1031.9L1480.3 1035.3L1480.5 1038.5L1480.4 1042.4L1480.2 1046.8L1480.1 1051.2L1479.9 1055.7L1479.7 1060.2L1479.6 1064.7L1479.4 1069.2L1479.2 1073.7L1479.0 1078.2L1478.8 1082.7L1478.6 1087.2L1478.3 1091.7L1478.1 1096.2L1477.9 1100.7L1477.7 1105.1L1477.5 1109.6L1477.2 1114.0L1477.0 1118.5L1476.7 1123.0L1476.5 1127.4L1476.2 1131.9L1476.0 1136.4L1475.8 1140.9L1475.5 1145.3L1475.2 1149.8L1475.0 1154.3L1474.7 1158.7L1474.4 1163.2L1474.1 1167.6L1473.8 1172.1L1473.4 1176.5L1473.1 1180.9L1472.7 1185.4L1472.3 1189.8L1472.0 1194.3L1471.5 1198.7L1471.1 1203.1L1470.7 1207.5L1470.4 1212.0L1470.5 1216.4L1471.0 1220.7L1472.0 1225.2L1473.8 1229.9L1480.4 1235.4Z" fill="url(#n37)"/><path d="M1527.2 1235.8L1534.9 1232.0L1537.9 1227.8L1539.9 1223.4L1541.3 1219.0L1542.2 1214.5L1542.7 1210.0L1543.1 1205.5L1543.4 1201.0L1543.7 1196.5L1544.1 1192.0L1544.4 1187.5L1544.7 1183.0L1545.0 1178.5L1545.3 1174.0L1545.6 1169.5L1545.9 1165.0L1546.2 1160.4L1546.5 1155.9L1546.8 1151.4L1547.0 1146.8L1547.3 1142.3L1547.5 1137.7L1547.7 1133.2L1547.8 1128.7L1548.0 1124.2L1548.2 1119.7L1548.3 1115.3L1548.5 1110.8L1548.7 1106.4L1548.9 1102.1L1549.2 1097.7L1549.5 1093.5L1549.9 1089.3L1550.4 1085.1L1551.0 1080.9L1551.7 1076.6L1552.4 1072.3L1553.2 1068.0L1554.0 1063.6L1554.9 1059.2L1555.8 1054.8L1556.6 1050.3L1557.5 1045.8L1558.3 1041.4L1559.1 1036.9L1559.9 1032.6L1560.7 1028.2L1561.5 1023.8L1562.4 1019.4L1563.2 1015.0L1564.1 1010.6L1565.0 1006.2L1565.8 1001.8L1566.7 997.4L1567.6 993.0L1568.5 988.6L1569.4 984.1L1570.3 979.7L1571.1 975.3L1572.0 970.9L1572.9 966.5L1573.8 962.2L1574.7 957.8L1575.7 953.3L1576.6 948.9L1577.6 944.4L1578.4 939.8L1579.2 935.2L1579.9 930.7L1580.5 926.1L1581.0 921.6L1581.6 917.1L1582.1 912.6L1582.5 908.0L1583.0 903.5L1583.4 899.1L1583.9 894.6L1584.3 890.1L1584.5 885.6L1584.5 881.0L1584.2 876.4L1583.7 871.8L1580.9 870.1L1579.7 869.9L1576.6 871.0L1574.9 875.3L1573.6 879.7L1572.5 884.0L1571.6 888.4L1570.8 892.9L1570.0 897.3L1569.3 901.8L1568.6 906.2L1567.9 910.6L1567.1 915.0L1566.4 919.4L1565.6 923.8L1564.7 928.1L1563.8 932.3L1562.8 936.6L1561.8 940.8L1560.7 945.1L1559.5 949.4L1558.3 953.7L1557.0 958.0L1555.8 962.4L1554.6 966.8L1553.5 971.2L1552.3 975.5L1551.2 979.9L1550.0 984.2L1548.8 988.6L1547.6 992.9L1546.5 997.3L1545.3 1001.6L1544.1 1006.0L1543.0 1010.4L1541.8 1014.8L1540.7 1019.1L1539.6 1023.5L1538.5 1027.9L1537.4 1032.4L1536.3 1036.7L1535.3 1041.1L1534.2 1045.4L1533.1 1049.8L1532.1 1054.2L1531.0 1058.6L1529.9 1063.0L1528.9 1067.5L1527.8 1072.1L1526.9 1076.7L1526.0 1081.3L1525.2 1085.9L1524.5 1090.7L1523.9 1095.3L1523.4 1099.9L1522.9 1104.5L1522.5 1109.1L1522.1 1113.6L1521.7 1118.2L1521.3 1122.7L1521.0 1127.2L1520.7 1131.7L1520.4 1136.2L1520.1 1140.6L1519.8 1145.1L1519.4 1149.5L1519.1 1153.9L1518.7 1158.4L1518.3 1162.8L1517.9 1167.3L1517.5 1171.8L1517.0 1176.2L1516.6 1180.7L1516.2 1185.1L1515.8 1189.6L1515.3 1194.1L1514.9 1198.5L1514.4 1203.0L1514.0 1207.4L1513.7 1211.9L1513.8 1216.4L1514.3 1220.9L1515.4 1225.5L1517.5 1230.2L1524.3 1235.5Z" fill="url(#n37)"/><path d="M1588.0 1235.6L1595.3 1231.3L1597.9 1226.8L1599.5 1222.3L1600.6 1217.8L1601.1 1213.3L1601.3 1208.8L1601.3 1204.3L1601.4 1199.8L1601.4 1195.3L1601.4 1190.8L1601.4 1186.3L1601.4 1181.8L1601.4 1177.3L1601.4 1172.8L1601.4 1168.3L1601.4 1163.8L1601.3 1159.3L1601.3 1154.7L1601.3 1150.2L1601.3 1145.7L1601.3 1141.2L1601.2 1136.7L1601.2 1132.2L1601.2 1127.7L1601.1 1123.2L1601.1 1118.7L1601.0 1114.2L1600.9 1109.7L1600.8 1105.2L1600.7 1100.7L1600.6 1096.2L1600.5 1091.7L1600.4 1087.2L1600.4 1082.7L1600.3 1078.2L1600.2 1073.7L1600.2 1069.3L1600.1 1064.9L1600.1 1060.5L1600.2 1056.2L1600.3 1051.8L1600.4 1047.5L1600.7 1043.1L1600.9 1038.7L1601.1 1034.2L1601.4 1029.8L1601.7 1025.3L1602.0 1020.9L1602.3 1016.4L1602.7 1011.9L1603.0 1007.4L1603.3 1002.9L1603.6 998.4L1603.9 993.8L1604.2 989.3L1604.5 984.7L1604.7 980.2L1604.9 975.7L1605.1 971.2L1605.4 966.7L1605.6 962.2L1605.8 957.7L1606.0 953.2L1606.3 948.7L1606.5 944.2L1606.8 939.7L1607.0 935.2L1607.3 930.8L1607.5 926.3L1607.8 921.8L1608.0 917.3L1608.3 912.8L1608.5 908.3L1608.8 903.8L1609.0 899.3L1609.3 894.8L1609.4 890.3L1609.4 885.7L1609.2 881.2L1608.7 876.6L1607.9 872.1L1605.1 870.0L1603.9 870.0L1600.8 871.5L1599.3 876.0L1598.2 880.4L1597.3 884.8L1596.6 889.3L1596.0 893.7L1595.5 898.2L1595.0 902.6L1594.5 907.1L1594.0 911.5L1593.5 916.0L1592.9 920.5L1592.4 925.0L1591.9 929.5L1591.4 933.9L1590.9 938.4L1590.4 942.9L1589.8 947.4L1589.3 951.8L1588.8 956.3L1588.3 960.8L1587.8 965.3L1587.3 969.7L1586.7 974.2L1586.2 978.7L1585.7 983.1L1585.2 987.5L1584.6 991.9L1584.0 996.4L1583.4 1000.8L1582.8 1005.3L1582.1 1009.7L1581.5 1014.2L1580.9 1018.7L1580.3 1023.2L1579.7 1027.7L1579.1 1032.2L1578.5 1036.8L1578.0 1041.3L1577.6 1045.9L1577.2 1050.5L1576.8 1055.1L1576.5 1059.7L1576.3 1064.4L1576.1 1069.0L1576.0 1073.5L1575.8 1078.0L1575.7 1082.5L1575.5 1087.0L1575.4 1091.5L1575.2 1096.0L1575.1 1100.5L1575.0 1105.0L1574.8 1109.5L1574.7 1114.0L1574.6 1118.5L1574.4 1123.0L1574.3 1127.5L1574.3 1132.0L1574.2 1136.5L1574.1 1141.0L1574.0 1145.5L1573.9 1150.0L1573.8 1154.5L1573.7 1159.0L1573.6 1163.5L1573.5 1168.0L1573.4 1172.5L1573.3 1176.9L1573.2 1181.4L1573.1 1185.9L1573.0 1190.4L1572.8 1194.9L1572.7 1199.4L1572.6 1203.9L1572.5 1208.4L1572.5 1212.9L1573.0 1217.4L1573.9 1221.9L1575.3 1226.4L1577.8 1231.0L1585.0 1235.6Z" fill="url(#n37)"/><path d="M1642.0 1235.6L1649.2 1231.0L1651.6 1226.4L1653.1 1221.9L1654.0 1217.4L1654.4 1212.9L1654.5 1208.4L1654.4 1203.9L1654.3 1199.5L1654.2 1195.0L1654.1 1190.5L1654.0 1186.0L1653.8 1181.5L1653.7 1177.0L1653.6 1172.5L1653.5 1167.9L1653.4 1163.4L1653.3 1158.9L1653.2 1154.4L1653.0 1149.9L1652.9 1145.4L1652.8 1140.9L1652.6 1136.3L1652.5 1131.8L1652.3 1127.3L1652.1 1122.8L1651.9 1118.3L1651.7 1113.8L1651.5 1109.3L1651.2 1104.8L1651.0 1100.3L1650.7 1095.8L1650.5 1091.2L1650.2 1086.7L1650.0 1082.2L1649.7 1077.7L1649.4 1073.2L1649.2 1068.7L1648.9 1064.2L1648.6 1059.7L1648.3 1055.2L1648.0 1050.7L1647.7 1046.2L1647.4 1041.7L1647.1 1037.2L1646.8 1032.7L1646.4 1028.1L1646.0 1023.6L1645.6 1019.1L1645.2 1014.6L1644.7 1010.1L1644.3 1005.6L1643.8 1001.1L1643.4 996.6L1642.9 992.1L1642.4 987.6L1642.0 983.1L1641.5 978.6L1641.0 974.2L1640.6 969.7L1640.1 965.2L1639.6 960.7L1639.2 956.2L1638.7 951.8L1638.2 947.3L1637.8 942.8L1637.3 938.3L1636.8 933.8L1636.4 929.3L1635.9 924.9L1635.4 920.4L1634.9 915.9L1634.5 911.4L1634.0 907.0L1633.5 902.5L1633.0 898.0L1632.6 893.5L1632.0 889.1L1631.3 884.6L1630.4 880.2L1629.3 875.7L1627.8 871.3L1624.8 870.0L1623.6 870.0L1620.7 871.9L1619.9 876.4L1619.5 881.0L1619.3 885.5L1619.2 890.0L1619.4 894.5L1619.6 899.0L1619.8 903.5L1620.0 908.0L1620.2 912.5L1620.4 917.0L1620.6 921.5L1620.8 926.0L1621.0 930.5L1621.2 935.0L1621.4 939.5L1621.6 944.0L1621.8 948.5L1622.0 953.0L1622.2 957.5L1622.3 961.9L1622.5 966.4L1622.7 970.9L1622.8 975.4L1623.0 980.0L1623.2 984.5L1623.3 989.0L1623.5 993.5L1623.7 997.9L1623.8 1002.4L1624.0 1006.9L1624.1 1011.4L1624.3 1015.9L1624.4 1020.3L1624.5 1024.8L1624.6 1029.3L1624.7 1033.7L1624.7 1038.2L1624.8 1042.6L1624.9 1047.1L1624.9 1051.6L1625.0 1056.1L1625.1 1060.6L1625.1 1065.1L1625.2 1069.6L1625.2 1074.1L1625.3 1078.6L1625.3 1083.0L1625.3 1087.5L1625.4 1092.0L1625.4 1096.5L1625.4 1101.0L1625.4 1105.5L1625.4 1110.0L1625.4 1114.5L1625.4 1119.0L1625.4 1123.4L1625.5 1127.9L1625.5 1132.4L1625.6 1136.9L1625.6 1141.4L1625.6 1145.9L1625.6 1150.4L1625.7 1154.8L1625.7 1159.3L1625.7 1163.8L1625.7 1168.3L1625.7 1172.8L1625.7 1177.3L1625.7 1181.8L1625.7 1186.3L1625.7 1190.8L1625.6 1195.3L1625.6 1199.8L1625.6 1204.3L1625.6 1208.8L1625.8 1213.3L1626.4 1217.8L1627.4 1222.3L1629.0 1226.8L1631.6 1231.3L1639.0 1235.6Z" fill="url(#n37)"/><path d="M1700.7 1235.5L1707.6 1230.4L1709.8 1225.7L1710.9 1221.1L1711.5 1216.6L1711.7 1212.1L1711.5 1207.6L1711.1 1203.1L1710.7 1198.7L1710.3 1194.2L1709.9 1189.7L1709.5 1185.2L1709.2 1180.8L1708.8 1176.3L1708.4 1171.8L1708.0 1167.3L1707.6 1162.8L1707.2 1158.3L1706.8 1153.8L1706.4 1149.3L1706.0 1144.8L1705.6 1140.3L1705.1 1135.8L1704.7 1131.4L1704.3 1126.9L1703.9 1122.4L1703.5 1117.9L1703.0 1113.4L1702.5 1108.9L1702.0 1104.4L1701.5 1099.8L1701.0 1095.3L1700.5 1090.8L1699.9 1086.3L1699.3 1081.8L1698.7 1077.3L1698.1 1072.7L1697.5 1068.2L1696.8 1063.7L1696.0 1059.0L1695.2 1054.5L1694.3 1049.9L1693.4 1045.4L1692.4 1040.9L1691.4 1036.4L1690.3 1032.0L1689.2 1027.6L1688.2 1023.2L1687.1 1018.8L1686.0 1014.5L1685.0 1010.1L1684.0 1005.8L1682.9 1001.4L1681.9 997.0L1680.8 992.6L1679.8 988.2L1678.7 983.8L1677.6 979.4L1676.6 975.0L1675.5 970.6L1674.4 966.2L1673.3 961.9L1672.2 957.5L1671.1 953.1L1670.0 948.7L1668.8 944.3L1667.7 939.9L1666.5 935.6L1665.4 931.2L1664.2 926.9L1663.0 922.5L1661.9 918.2L1660.7 913.8L1659.6 909.5L1658.4 905.1L1657.3 900.8L1656.2 896.5L1655.0 892.1L1653.9 887.8L1652.6 883.5L1651.1 879.2L1649.4 875.0L1647.4 870.8L1644.2 869.9L1643.0 870.1L1640.4 872.3L1640.2 876.9L1640.4 881.5L1640.8 886.0L1641.4 890.5L1642.1 895.0L1643.0 899.4L1643.9 903.9L1644.8 908.3L1645.7 912.7L1646.6 917.2L1647.5 921.6L1648.4 926.0L1649.3 930.4L1650.2 934.8L1651.1 939.2L1652.0 943.6L1652.9 948.0L1653.7 952.4L1654.6 956.8L1655.4 961.2L1656.2 965.6L1657.0 970.0L1657.8 974.4L1658.6 978.8L1659.4 983.2L1660.1 987.7L1660.9 992.1L1661.7 996.5L1662.4 1000.9L1663.2 1005.4L1663.9 1009.8L1664.7 1014.2L1665.4 1018.7L1666.2 1023.2L1667.0 1027.7L1667.8 1032.1L1668.6 1036.5L1669.3 1040.9L1670.1 1045.3L1670.8 1049.6L1671.5 1053.9L1672.1 1058.2L1672.7 1062.5L1673.2 1066.8L1673.6 1071.1L1674.0 1075.5L1674.4 1079.9L1674.8 1084.3L1675.1 1088.8L1675.4 1093.2L1675.7 1097.6L1676.0 1102.1L1676.3 1106.6L1676.5 1111.0L1676.8 1115.5L1677.0 1120.0L1677.3 1124.5L1677.6 1129.0L1677.9 1133.4L1678.2 1137.9L1678.5 1142.5L1678.8 1147.0L1679.1 1151.5L1679.4 1155.9L1679.7 1160.4L1680.0 1164.9L1680.2 1169.3L1680.5 1173.8L1680.8 1178.3L1681.0 1182.8L1681.3 1187.3L1681.6 1191.8L1681.9 1196.3L1682.1 1200.8L1682.4 1205.3L1682.7 1209.8L1683.2 1214.3L1684.0 1218.8L1685.3 1223.2L1687.2 1227.6L1690.1 1231.9L1697.8 1235.7Z" fill="url(#n37)"/><path d="M1761.2 1235.4L1767.8 1230.0L1769.7 1225.2L1770.7 1220.6L1771.0 1216.0L1771.0 1211.5L1770.6 1207.1L1770.0 1202.7L1769.4 1198.2L1768.8 1193.8L1768.2 1189.3L1767.7 1184.8L1767.1 1180.3L1766.5 1175.9L1765.9 1171.4L1765.2 1166.8L1764.6 1162.3L1763.9 1157.8L1763.2 1153.3L1762.5 1148.7L1761.8 1144.2L1761.0 1139.7L1760.1 1135.2L1759.3 1130.7L1758.4 1126.2L1757.5 1121.7L1756.6 1117.3L1755.6 1112.8L1754.6 1108.4L1753.6 1104.0L1752.6 1099.6L1751.6 1095.2L1750.7 1090.8L1749.7 1086.4L1748.7 1082.0L1747.7 1077.6L1746.7 1073.2L1745.7 1068.8L1744.7 1064.3L1743.7 1059.9L1742.6 1055.4L1741.5 1051.0L1740.3 1046.5L1739.1 1042.1L1737.9 1037.7L1736.6 1033.2L1735.3 1028.8L1733.9 1024.4L1732.4 1020.0L1730.9 1015.6L1729.3 1011.3L1727.7 1006.9L1726.1 1002.6L1724.4 998.3L1722.6 994.0L1720.8 989.8L1718.9 985.5L1716.9 981.2L1714.7 977.0L1712.6 972.9L1710.3 968.8L1708.1 964.8L1705.7 960.9L1703.0 957.0L1700.1 953.4L1696.8 949.9L1693.1 946.9L1687.3 945.5L1685.9 946.4L1684.7 952.2L1685.8 956.7L1687.2 961.0L1688.8 965.1L1690.5 969.2L1692.3 973.1L1694.2 977.1L1696.1 981.1L1697.9 985.1L1699.6 989.0L1701.2 993.0L1702.7 997.0L1704.2 1001.1L1705.6 1005.2L1706.9 1009.4L1708.2 1013.6L1709.5 1017.8L1710.7 1022.0L1711.9 1026.3L1713.0 1030.5L1714.0 1034.8L1715.1 1039.0L1716.0 1043.3L1717.0 1047.5L1717.9 1051.8L1718.8 1056.1L1719.7 1060.5L1720.5 1064.8L1721.3 1069.2L1722.1 1073.6L1722.9 1078.0L1723.6 1082.4L1724.4 1086.8L1725.2 1091.3L1725.9 1095.7L1726.7 1100.2L1727.5 1104.6L1728.2 1109.0L1729.0 1113.5L1729.8 1117.9L1730.5 1122.3L1731.2 1126.7L1732.0 1131.1L1732.7 1135.4L1733.5 1139.8L1734.1 1144.1L1734.8 1148.5L1735.4 1152.8L1736.0 1157.2L1736.6 1161.6L1737.1 1166.0L1737.6 1170.4L1738.1 1174.8L1738.6 1179.2L1739.1 1183.7L1739.5 1188.1L1740.0 1192.6L1740.5 1197.1L1740.9 1201.6L1741.4 1206.1L1741.9 1210.6L1742.6 1215.1L1743.7 1219.5L1745.2 1223.9L1747.3 1228.2L1750.4 1232.3L1758.3 1235.8Z" fill="url(#n37)"/><path d="M1825.0 1235.4L1831.6 1229.8L1833.4 1224.8L1834.1 1219.9L1834.1 1215.0L1833.4 1210.0L1832.4 1205.5L1831.2 1201.2L1830.1 1197.1L1829.1 1192.9L1828.1 1188.6L1827.1 1184.3L1826.2 1180.0L1825.2 1175.6L1824.3 1171.2L1823.4 1166.8L1822.4 1162.4L1821.5 1158.0L1820.5 1153.6L1819.6 1149.1L1818.6 1144.7L1817.6 1140.2L1816.6 1135.8L1815.5 1131.3L1814.4 1126.8L1813.3 1122.4L1812.1 1117.9L1810.8 1113.4L1809.5 1109.0L1808.1 1104.6L1806.7 1100.2L1805.3 1095.9L1803.8 1091.6L1802.4 1087.2L1800.9 1082.9L1799.5 1078.7L1798.0 1074.4L1796.5 1070.1L1795.1 1065.9L1793.6 1061.5L1792.0 1057.1L1790.3 1052.7L1788.6 1048.4L1787.0 1044.2L1785.3 1040.0L1783.8 1035.9L1782.2 1031.9L1780.8 1028.0L1779.6 1024.0L1778.5 1020.1L1777.5 1016.1L1776.5 1011.8L1775.6 1007.4L1774.7 1003.2L1773.9 999.0L1773.3 994.9L1772.8 990.9L1772.6 986.8L1772.5 982.4L1772.3 977.9L1772.2 973.4L1772.0 968.9L1771.9 964.4L1771.7 959.9L1771.6 955.4L1771.4 950.9L1771.3 946.3L1771.1 941.8L1771.0 937.3L1770.8 932.8L1770.6 928.3L1770.4 923.8L1770.2 919.3L1770.0 914.8L1769.8 910.3L1769.6 905.8L1769.4 901.3L1769.2 896.7L1768.9 892.2L1768.4 887.7L1767.7 883.2L1766.8 878.7L1765.5 874.3L1762.3 870.0L1761.1 870.0L1758.2 874.5L1757.3 879.0L1756.6 883.6L1756.2 888.0L1755.9 892.5L1755.8 897.0L1755.7 901.5L1755.7 906.0L1755.6 910.5L1755.5 915.0L1755.5 919.5L1755.4 924.0L1755.3 928.4L1755.2 932.9L1755.1 937.4L1755.0 941.9L1754.9 946.4L1754.8 950.9L1754.6 955.4L1754.5 959.9L1754.3 964.4L1754.2 968.9L1754.0 973.4L1753.9 977.9L1753.7 982.4L1753.6 986.9L1753.5 991.8L1753.7 996.7L1754.1 1001.6L1754.7 1006.4L1755.4 1011.1L1756.1 1015.6L1756.8 1020.1L1757.6 1024.8L1758.6 1029.6L1759.8 1034.3L1761.1 1038.9L1762.5 1043.4L1763.9 1047.8L1765.4 1052.1L1766.9 1056.4L1768.3 1060.6L1769.7 1064.8L1770.9 1068.9L1772.1 1073.1L1773.4 1077.5L1774.7 1081.8L1775.9 1086.1L1777.2 1090.4L1778.4 1094.7L1779.6 1099.0L1780.8 1103.3L1782.0 1107.6L1783.1 1111.8L1784.2 1116.1L1785.3 1120.3L1786.3 1124.5L1787.3 1128.8L1788.2 1133.0L1789.2 1137.3L1790.1 1141.6L1791.0 1146.0L1791.8 1150.3L1792.7 1154.7L1793.5 1159.0L1794.4 1163.4L1795.2 1167.9L1796.0 1172.3L1796.8 1176.7L1797.7 1181.2L1798.6 1185.7L1799.4 1190.2L1800.3 1194.6L1801.3 1199.1L1802.3 1203.7L1803.3 1208.3L1804.4 1212.8L1805.7 1216.9L1807.1 1220.8L1808.8 1224.6L1811.1 1228.6L1814.3 1232.4L1822.1 1235.8Z" fill="url(#n37)"/><path d="M1860.0 1136.8L1865.4 1130.8L1866.5 1125.8L1866.7 1121.0L1866.2 1116.3L1865.4 1111.8L1864.1 1107.3L1862.7 1103.0L1861.2 1098.6L1859.7 1094.3L1858.2 1090.0L1856.7 1085.7L1855.1 1081.4L1853.5 1077.1L1851.9 1072.8L1850.2 1068.5L1848.5 1064.2L1846.7 1059.9L1844.9 1055.7L1843.0 1051.5L1841.2 1047.3L1839.3 1043.2L1837.5 1039.0L1835.6 1034.9L1833.6 1030.7L1831.6 1026.6L1829.5 1022.5L1827.5 1018.4L1825.4 1014.4L1823.4 1010.4L1821.5 1006.5L1819.5 1002.5L1817.4 998.1L1815.0 993.8L1812.9 990.0L1811.1 986.6L1810.0 983.7L1809.5 980.7L1809.1 976.8L1808.7 972.5L1808.3 968.1L1808.0 963.7L1807.7 959.2L1807.4 954.7L1807.1 950.2L1806.9 945.7L1806.7 941.1L1806.4 936.5L1806.2 932.0L1805.9 927.5L1805.7 922.9L1805.4 918.5L1805.1 914.0L1804.9 909.5L1804.6 905.0L1804.4 900.5L1804.1 896.0L1803.8 891.5L1803.3 887.0L1802.6 882.6L1801.8 878.1L1800.5 873.6L1797.4 870.0L1796.3 870.0L1793.3 873.8L1792.3 878.3L1791.6 882.8L1791.1 887.3L1790.9 891.8L1790.7 896.3L1790.7 900.8L1790.7 905.4L1790.7 909.9L1790.7 914.4L1790.7 918.9L1790.7 923.4L1790.7 927.9L1790.6 932.4L1790.6 936.9L1790.6 941.5L1790.5 946.0L1790.5 950.6L1790.5 955.2L1790.5 959.8L1790.5 964.3L1790.5 968.9L1790.6 973.4L1790.7 977.9L1790.9 982.7L1791.6 988.1L1793.2 993.7L1795.3 998.6L1797.4 1003.0L1799.3 1006.9L1800.9 1010.8L1802.7 1015.0L1804.5 1019.2L1806.3 1023.4L1808.1 1027.5L1809.9 1031.6L1811.6 1035.7L1813.3 1039.7L1814.9 1043.8L1816.5 1048.0L1818.2 1052.1L1819.8 1056.3L1821.5 1060.4L1823.0 1064.5L1824.6 1068.7L1826.1 1072.8L1827.5 1076.9L1828.9 1081.0L1830.3 1085.2L1831.6 1089.4L1832.9 1093.6L1834.2 1097.8L1835.5 1102.1L1836.7 1106.3L1837.9 1110.6L1839.1 1114.8L1840.4 1119.0L1842.0 1123.2L1844.0 1127.2L1846.5 1131.1L1849.8 1134.8L1857.4 1137.5Z" fill="url(#n37)"/><path d="M1686.3 946.0L1686.6 951.7L1688.3 956.7L1690.8 961.1L1693.9 964.7L1697.5 967.3L1701.8 969.1L1706.7 970.5L1711.8 971.4L1716.9 971.6L1722.6 970.4L1727.8 968.3L1731.1 965.2L1732.8 961.1L1734.0 956.4L1734.8 951.1L1735.4 945.8L1735.6 940.8L1735.6 936.3L1735.6 931.8L1735.6 927.3L1735.6 922.8L1735.6 918.3L1735.6 913.7L1735.5 909.2L1735.5 904.7L1735.5 900.2L1735.4 895.7L1735.3 891.2L1735.2 886.7L1735.0 882.2L1734.7 877.7L1734.3 873.2L1733.2 870.0L1732.8 870.0L1731.7 873.2L1731.3 877.7L1731.0 882.2L1730.8 886.7L1730.7 891.2L1730.6 895.7L1730.6 900.2L1730.5 904.7L1730.4 909.2L1730.4 913.7L1730.3 918.2L1730.2 922.7L1730.1 927.2L1730.0 931.7L1729.9 936.2L1729.8 940.6L1729.5 945.3L1728.9 950.3L1728.0 955.1L1726.9 959.2L1725.8 961.7L1724.6 962.8L1720.8 964.3L1716.4 965.2L1712.5 965.1L1708.1 964.3L1703.9 963.1L1700.4 961.7L1697.7 960.2L1695.1 957.7L1692.5 954.4L1689.9 950.3L1686.9 945.8Z" fill="url(#n31)"/><path d="M1709.4 870.0L1708.0 874.5L1707.5 879.0L1707.2 883.5L1707.0 888.0L1706.9 892.5L1706.8 897.0L1706.8 901.5L1706.7 906.0L1706.6 910.5L1706.6 915.0L1706.5 919.5L1706.5 924.0L1706.4 928.5L1706.4 933.0L1706.4 937.5L1706.4 942.0L1706.4 946.6L1706.5 951.1L1706.7 955.6L1707.1 960.1L1707.8 964.5L1709.9 965.6L1710.6 965.6L1712.6 964.4L1713.1 959.9L1713.4 955.4L1713.4 950.9L1713.3 946.4L1713.2 941.9L1713.1 937.5L1713.0 933.0L1712.9 928.5L1712.9 924.0L1712.8 919.5L1712.7 915.0L1712.7 910.5L1712.6 906.0L1712.6 901.5L1712.5 897.0L1712.5 892.5L1712.4 888.0L1712.1 883.5L1711.8 879.0L1711.3 874.5L1709.9 870.0Z" fill="url(#n37)"/><path d="M1476.3 977.0L1469.9 983.8L1468.8 990.9L1469.9 998.0L1475.0 1005.3L1481.5 1008.8L1486.8 1010.3L1492.4 1011.2L1498.2 1011.9L1503.9 1012.4L1509.4 1012.7L1516.5 1012.6L1525.2 1009.6L1531.6 1004.9L1536.0 1000.4L1539.7 996.1L1543.0 991.4L1545.7 986.4L1548.0 981.6L1549.9 977.0L1551.7 972.4L1553.4 967.9L1554.9 963.2L1556.2 958.7L1557.5 954.2L1558.7 949.7L1559.9 945.4L1561.1 941.0L1562.2 936.6L1563.4 932.1L1564.5 927.7L1565.6 923.3L1566.6 918.9L1567.7 914.6L1568.8 910.3L1569.9 905.8L1571.0 901.3L1572.1 896.7L1572.9 892.1L1573.3 887.5L1573.5 882.8L1573.3 878.1L1572.5 873.3L1568.5 870.2L1566.8 869.8L1562.0 871.3L1559.5 875.3L1557.4 879.4L1555.7 883.5L1554.1 887.7L1552.8 891.8L1551.5 895.9L1550.1 900.0L1548.6 904.2L1547.1 908.5L1545.7 912.8L1544.2 917.1L1542.8 921.3L1541.3 925.5L1539.9 929.7L1538.4 933.9L1536.8 938.0L1535.3 942.3L1533.7 946.5L1532.2 950.6L1530.6 954.5L1529.0 958.4L1527.2 962.0L1525.4 965.7L1523.4 969.5L1521.4 972.9L1519.5 975.7L1517.6 978.0L1515.3 980.3L1512.7 982.6L1511.3 983.5L1511.9 983.3L1510.4 983.1L1505.9 982.9L1501.1 982.5L1496.4 982.0L1492.4 981.4L1489.7 981.0L1490.7 982.4L1492.1 985.4L1489.9 984.5L1486.5 981.2L1479.0 976.7Z" fill="url(#n37)"/><path d="M1508.7 870.0L1504.9 874.5L1503.5 879.0L1502.5 883.5L1501.8 888.0L1501.3 892.5L1501.1 897.1L1501.0 901.7L1500.9 906.3L1500.9 910.8L1500.9 915.3L1500.9 919.9L1500.9 924.4L1500.9 928.8L1500.9 933.3L1500.9 937.7L1500.8 942.2L1500.7 946.7L1500.6 951.1L1500.5 955.6L1500.5 960.1L1500.8 964.6L1501.5 969.1L1502.6 973.6L1504.5 978.0L1510.2 982.5L1512.6 982.5L1518.2 977.9L1520.1 973.4L1521.1 968.9L1521.6 964.3L1521.8 959.8L1521.7 955.3L1521.4 950.8L1521.2 946.3L1520.9 941.8L1520.7 937.2L1520.4 932.7L1520.1 928.1L1519.7 923.6L1519.4 919.1L1519.0 914.6L1518.7 910.2L1518.4 905.7L1518.1 901.3L1517.8 896.9L1517.5 892.5L1517.1 888.0L1516.4 883.5L1515.4 879.0L1513.9 874.5L1510.2 870.0Z" fill="url(#n37)"/><path d="M1678.5 912.1L1680.3 907.4L1680.1 902.9L1679.4 898.4L1678.7 893.9L1678.1 889.5L1677.4 885.0L1676.8 880.6L1676.1 876.1L1675.2 871.7L1672.8 870.0L1672.3 870.0L1670.5 872.4L1670.7 876.9L1671.2 881.3L1671.8 885.8L1672.3 890.3L1672.8 894.7L1673.4 899.2L1673.9 903.7L1674.8 908.1L1677.8 912.2Z" fill="url(#n37)"/><path d="M1590.7 870.0L1589.5 874.5L1588.9 879.0L1588.5 883.5L1588.2 887.9L1588.0 892.4L1587.8 896.9L1587.6 901.4L1587.4 905.9L1587.2 910.4L1587.0 914.9L1586.7 919.4L1586.5 923.8L1586.2 928.3L1586.0 932.8L1585.7 937.3L1585.4 941.8L1585.2 946.3L1584.9 950.8L1584.6 955.2L1584.3 959.7L1584.1 964.2L1584.0 968.7L1584.1 973.2L1584.4 977.8L1586.1 979.7L1586.9 979.7L1588.8 978.0L1589.7 973.6L1590.3 969.1L1590.8 964.6L1591.1 960.1L1591.3 955.6L1591.5 951.1L1591.7 946.6L1591.9 942.1L1592.0 937.6L1592.2 933.1L1592.3 928.6L1592.5 924.1L1592.6 919.6L1592.8 915.1L1592.9 910.6L1593.0 906.1L1593.1 901.6L1593.1 897.1L1593.2 892.6L1593.1 888.1L1593.0 883.5L1592.8 879.0L1592.4 874.5L1591.2 870.0Z" fill="url(#n40)"/><path d="M1613.8 870.0L1612.6 874.5L1612.1 879.0L1611.8 883.5L1611.6 888.0L1611.4 892.5L1611.4 897.0L1611.3 901.5L1611.3 906.0L1611.2 910.5L1611.2 915.0L1611.2 919.5L1611.2 924.0L1611.3 928.6L1611.3 933.1L1611.3 937.6L1611.4 942.1L1611.4 946.6L1611.4 951.1L1611.5 955.6L1611.7 960.1L1612.1 964.6L1612.5 969.1L1613.3 973.6L1615.1 974.1L1615.8 974.0L1617.6 973.4L1618.0 968.9L1618.2 964.4L1618.3 959.9L1618.2 955.4L1618.1 950.9L1618.0 946.4L1617.8 941.9L1617.7 937.4L1617.5 932.9L1617.4 928.4L1617.3 923.9L1617.1 919.5L1617.0 915.0L1616.9 910.5L1616.8 906.0L1616.8 901.5L1616.7 897.0L1616.6 892.5L1616.5 888.0L1616.3 883.5L1615.9 879.0L1615.5 874.5L1614.3 870.0Z" fill="url(#n40)"/><path d="M1636.3 870.0L1635.2 874.5L1634.9 879.1L1634.8 883.6L1634.7 888.1L1634.8 892.6L1634.9 897.1L1635.1 901.6L1635.3 906.1L1635.5 910.6L1635.7 915.1L1636.0 919.6L1636.3 924.1L1636.5 928.6L1636.8 933.1L1637.1 937.6L1637.4 942.1L1637.8 946.6L1638.1 951.1L1638.4 955.6L1638.8 960.1L1639.3 964.6L1639.9 969.1L1640.7 973.5L1641.7 977.9L1643.8 979.7L1644.5 979.6L1646.1 977.5L1646.3 973.0L1646.2 968.5L1645.9 964.0L1645.6 959.5L1645.2 955.0L1644.7 950.6L1644.3 946.1L1643.9 941.6L1643.5 937.1L1643.0 932.7L1642.6 928.2L1642.3 923.7L1641.9 919.2L1641.5 914.8L1641.2 910.3L1640.9 905.8L1640.6 901.3L1640.3 896.8L1640.0 892.4L1639.6 887.9L1639.2 883.4L1638.7 878.9L1638.1 874.5L1636.8 870.0Z" fill="url(#n40)"/></g>
</g></g></g>
<linearGradient id="sg" gradientUnits="userSpaceOnUse" x1="215.0" y1="0" x2="2511.0" y2="0"><stop offset="0" stop-color="#333" stop-opacity=".85"/><stop offset=".525" stop-color="#333" stop-opacity=".85"/><stop offset=".545" stop-color="#333" stop-opacity=".3"/><stop offset=".765" stop-color="#333" stop-opacity=".3"/><stop offset=".785" stop-color="#333" stop-opacity=".85"/><stop offset="1" stop-color="#333" stop-opacity=".85"/></linearGradient>
<rect x="213.5" y="888.0" width="2298.5" height="8" fill="url(#sg)"/>
<rect x="215.0" y="74.5" width="2296.0" height="325.0" fill="none" stroke="#1a1a1a" stroke-width="3"/>
<path d="M215.0 399.5 v16.0 M286.8 399.5 v9.5 M358.5 399.5 v9.5 M430.2 399.5 v9.5 M502.0 399.5 v16.0 M573.8 399.5 v9.5 M645.5 399.5 v9.5 M717.2 399.5 v9.5 M789.0 399.5 v16.0 M860.8 399.5 v9.5 M932.5 399.5 v9.5 M1004.2 399.5 v9.5 M1076.0 399.5 v16.0 M1147.8 399.5 v9.5 M1219.5 399.5 v9.5 M1291.2 399.5 v9.5 M1363.0 399.5 v16.0 M1434.8 399.5 v9.5 M1506.5 399.5 v9.5 M1578.2 399.5 v9.5 M1650.0 399.5 v16.0 M1721.8 399.5 v9.5 M1793.5 399.5 v9.5 M1865.2 399.5 v9.5 M1937.0 399.5 v16.0 M2008.8 399.5 v9.5 M2080.5 399.5 v9.5 M2152.2 399.5 v9.5 M2224.0 399.5 v16.0 M2295.8 399.5 v9.5 M2367.5 399.5 v9.5 M2439.2 399.5 v9.5 M2511.0 399.5 v16.0" stroke="#1a1a1a" stroke-width="3" fill="none"/>
<rect x="215.0" y="483.0" width="2296.0" height="325.0" fill="none" stroke="#1a1a1a" stroke-width="3"/>
<path d="M215.0 808.0 v16.0 M286.8 808.0 v9.5 M358.5 808.0 v9.5 M430.2 808.0 v9.5 M502.0 808.0 v16.0 M573.8 808.0 v9.5 M645.5 808.0 v9.5 M717.2 808.0 v9.5 M789.0 808.0 v16.0 M860.8 808.0 v9.5 M932.5 808.0 v9.5 M1004.2 808.0 v9.5 M1076.0 808.0 v16.0 M1147.8 808.0 v9.5 M1219.5 808.0 v9.5 M1291.2 808.0 v9.5 M1363.0 808.0 v16.0 M1434.8 808.0 v9.5 M1506.5 808.0 v9.5 M1578.2 808.0 v9.5 M1650.0 808.0 v16.0 M1721.8 808.0 v9.5 M1793.5 808.0 v9.5 M1865.2 808.0 v9.5 M1937.0 808.0 v16.0 M2008.8 808.0 v9.5 M2080.5 808.0 v9.5 M2152.2 808.0 v9.5 M2224.0 808.0 v16.0 M2295.8 808.0 v9.5 M2367.5 808.0 v9.5 M2439.2 808.0 v9.5 M2511.0 808.0 v16.0" stroke="#1a1a1a" stroke-width="3" fill="none"/>
<path d="M214.0 1217.0 H2512.0" stroke="#1a1a1a" stroke-width="3"/>
<path d="M215.0 1217.0 v16.0 M286.8 1217.0 v9.5 M358.5 1217.0 v9.5 M430.2 1217.0 v9.5 M502.0 1217.0 v16.0 M573.8 1217.0 v9.5 M645.5 1217.0 v9.5 M717.2 1217.0 v9.5 M789.0 1217.0 v16.0 M860.8 1217.0 v9.5 M932.5 1217.0 v9.5 M1004.2 1217.0 v9.5 M1076.0 1217.0 v16.0 M1147.8 1217.0 v9.5 M1219.5 1217.0 v9.5 M1291.2 1217.0 v9.5 M1363.0 1217.0 v16.0 M1434.8 1217.0 v9.5 M1506.5 1217.0 v9.5 M1578.2 1217.0 v9.5 M1650.0 1217.0 v16.0 M1721.8 1217.0 v9.5 M1793.5 1217.0 v9.5 M1865.2 1217.0 v9.5 M1937.0 1217.0 v16.0 M2008.8 1217.0 v9.5 M2080.5 1217.0 v9.5 M2152.2 1217.0 v9.5 M2224.0 1217.0 v16.0 M2295.8 1217.0 v9.5 M2367.5 1217.0 v9.5 M2439.2 1217.0 v9.5 M2511.0 1217.0 v16.0" stroke="#1a1a1a" stroke-width="3" fill="none"/>
<path d="M215.0 116.2 h-14.0 M215.0 293.8 h-14.0 M215.0 524.9 h-14.0 M215.0 639.0 h-14.0 M215.0 753.0 h-14.0 M215.0 891.0 h-14.0 M215.0 956.1 h-14.0 M215.0 1021.2 h-14.0 M215.0 1086.3 h-14.0 M215.0 1151.4 h-14.0 M215.0 1216.5 h-14.0 M215.0 907.3 h-7.5 M215.0 923.5 h-7.5 M215.0 939.8 h-7.5 M215.0 972.4 h-7.5 M215.0 988.6 h-7.5 M215.0 1004.9 h-7.5 M215.0 1037.5 h-7.5 M215.0 1053.8 h-7.5 M215.0 1070.0 h-7.5 M215.0 1102.6 h-7.5 M215.0 1118.8 h-7.5 M215.0 1135.1 h-7.5 M215.0 1167.7 h-7.5 M215.0 1184.0 h-7.5 M215.0 1200.2 h-7.5" stroke="#1a1a1a" stroke-width="3" fill="none"/>
<text x="186.8" y="132.0" font-size="55" text-anchor="end">45</text>
<text x="186.8" y="311.2" font-size="55" text-anchor="end">40</text>
<text x="186.8" y="547.0" font-size="55" text-anchor="end">2.5</text>
<text x="186.8" y="658.3" font-size="55" text-anchor="end">0</text>
<text x="186.8" y="771.5" font-size="55" text-anchor="end">−2.5</text>
<text x="186.8" y="909.8" font-size="55" text-anchor="end">26.2</text>
<text x="186.8" y="974.8" font-size="55" text-anchor="end">16.2</text>
<text x="186.8" y="1038.6" font-size="55" text-anchor="end">11.8</text>
<text x="186.8" y="1103.6" font-size="55" text-anchor="end">9.2</text>
<text x="186.8" y="1168.2" font-size="55" text-anchor="end">7.6</text>
<text x="186.8" y="1233.6" font-size="55" text-anchor="end">6.4</text>
<text x="215.0" y="1286" font-size="55" text-anchor="middle">12:40</text>
<text x="502.0" y="1286" font-size="55" text-anchor="middle">12:45</text>
<text x="789.0" y="1286" font-size="55" text-anchor="middle">12:50</text>
<text x="1076.0" y="1286" font-size="55" text-anchor="middle">12:55</text>
<text x="1363.0" y="1286" font-size="55" text-anchor="middle">13:00</text>
<text x="1650.0" y="1286" font-size="55" text-anchor="middle">13:05</text>
<text x="1937.0" y="1286" font-size="55" text-anchor="middle">13:10</text>
<text x="2224.0" y="1286" font-size="55" text-anchor="middle">13:15</text>
<text x="2511.0" y="1286" font-size="55" text-anchor="middle">13:20</text>
<text x="1361" y="1351" font-size="56" text-anchor="middle">Universal Time (UT)</text>
<text x="1358" y="46.5" font-size="56" text-anchor="middle">6 Mar. 2011</text>
<text x="2497" y="46.5" font-size="55" text-anchor="end">(a)</text>
<text x="2497" y="458.0" font-size="55" text-anchor="end">(b)</text>
<text x="2497" y="866.5" font-size="55" text-anchor="end">(c)</text>
<text x="2542" y="829.5" font-size="55">Log.</text>
<path d="M1870 117 H1940" stroke="#1a1a1a" stroke-width="2.8"/>
<text x="1969" y="129.5" font-size="55">MHT (48°50′, 195°28′)</text>
<path d="M1870 525 H1940" stroke="#1a1a1a" stroke-width="2.8"/>
<text x="1969" y="537.5" font-size="55">MHT (48°50′, 195°28′)</text>
<text transform="translate(107.5,238) rotate(-90)" font-size="55" text-anchor="middle"><tspan font-style="italic">H</tspan> / nT</text>
<text transform="translate(66.5,645) rotate(-90)" font-size="55" text-anchor="middle">Filtered <tspan font-style="italic">H</tspan> / nT</text>
<text transform="translate(67.5,1056) rotate(-90)" font-size="55" text-anchor="middle">Frequency / mHz</text>
<text transform="translate(2718.5,1048) rotate(-90)" font-size="56" text-anchor="middle">Power / (nT<tspan font-size="34" dy="-21">2</tspan><tspan dy="21">·Hz</tspan><tspan font-size="34" dy="-21">−1</tspan><tspan dy="21">)</tspan></text>
<rect x="2540" y="880" width="30.5" height="336.5" fill="url(#cbar)"/>
<path d="M2540 880 V1216.5 M2570.5 880 V1216.5" stroke="#1a1a1a" stroke-width="2.2"/>
<path d="M2570 881.3 h14.5 M2570 947.6 h14.5 M2570 1014.2 h14.5 M2570 1081.0 h14.5 M2570 1148.5 h14.5 M2570 1215.2 h14.5" stroke="#1a1a1a" stroke-width="3"/>
<text x="2594" y="899.4" font-size="55">2.0</text>
<text x="2594" y="965.8" font-size="55">1.6</text>
<text x="2594" y="1032.4" font-size="55">1.2</text>
<text x="2594" y="1099.2" font-size="55">0.8</text>
<text x="2594" y="1166.7" font-size="55">0.4</text>
<text x="2594" y="1233.4" font-size="55">0</text>
<path d="M215.0 246.2 L216.9 242.5 L218.8 239.2 L220.7 235.8 L222.6 233.8 L224.5 234.3 L226.4 233.3 L228.3 231.6 L230.2 233.4 L232.1 234.6 L234.0 235.1 L235.9 233.5 L237.8 233.6 L239.7 234.2 L241.6 232.2 L243.5 233.8 L245.4 235.1 L247.3 237.7 L249.2 236.5 L251.1 234.2 L253.0 235.8 L254.9 235.5 L256.8 235.5 L258.7 234.2 L260.6 233.9 L262.5 235.2 L264.4 235.3 L266.3 234.1 L268.2 231.9 L270.1 232.8 L272.0 233.4 L273.9 233.8 L275.8 233.6 L277.7 234.2 L279.6 233.3 L281.5 232.6 L283.4 233.4 L285.3 231.3 L287.2 230.7 L289.1 231.0 L291.0 234.2 L292.9 233.3 L294.8 232.6 L296.7 233.0 L298.6 231.7 L300.5 229.2 L302.4 231.4 L304.3 231.5 L306.2 231.9 L308.1 230.0 L310.0 229.4 L311.9 232.3 L313.8 233.7 L315.7 230.1 L317.6 227.8 L319.5 229.4 L321.4 231.3 L323.3 231.1 L325.2 230.7 L327.1 228.9 L329.0 229.8 L330.9 231.6 L332.8 229.7 L334.7 226.9 L336.6 226.3 L338.5 227.8 L340.4 224.7 L342.3 224.2 L344.2 224.3 L346.1 225.0 L348.0 226.0 L349.9 226.7 L351.8 229.4 L353.7 229.6 L355.6 230.3 L357.5 229.2 L359.4 227.7 L361.3 228.7 L363.2 225.3 L365.1 226.5 L367.0 229.1 L368.9 227.5 L370.8 228.8 L372.7 228.8 L374.6 225.5 L376.5 227.0 L378.4 227.8 L380.3 227.8 L382.2 228.6 L384.1 230.8 L386.0 230.4 L387.9 229.3 L389.8 229.7 L391.7 227.1 L393.6 229.5 L395.5 228.8 L397.4 229.0 L399.3 228.1 L401.2 227.2 L403.1 228.5 L405.0 232.5 L406.9 233.4 L408.8 231.4 L410.7 231.5 L412.6 231.3 L414.5 232.7 L416.4 233.4 L418.3 235.1 L420.2 233.8 L422.1 233.9 L424.0 234.4 L425.9 234.6 L427.8 236.9 L429.7 237.5 L431.6 237.9 L433.5 239.2 L435.4 239.6 L437.3 236.1 L439.2 236.4 L441.1 234.5 L443.0 234.6 L444.9 238.2 L446.8 236.8 L448.7 234.7 L450.6 235.3 L452.5 235.5 L454.4 235.4 L456.3 234.4 L458.2 236.2 L460.1 237.4 L462.0 235.8 L463.9 235.6 L465.8 236.5 L467.7 237.3 L469.6 237.0 L471.5 237.4 L473.4 237.2 L475.3 236.2 L477.2 237.3 L479.1 240.7 L481.0 242.7 L482.9 242.3 L484.8 241.5 L486.7 243.0 L488.6 246.3 L490.5 247.8 L492.4 245.5 L494.3 245.3 L496.2 244.2 L498.1 243.7 L500.0 246.0 L501.9 247.0 L503.8 248.3 L505.7 249.5 L507.6 249.3 L509.5 249.6 L511.4 247.5 L513.3 245.1 L515.2 246.7 L517.1 250.7 L519.0 249.1 L520.9 245.1 L522.8 245.6 L524.7 248.2 L526.6 246.1 L528.5 247.0 L530.4 247.2 L532.3 249.3 L534.2 250.9 L536.1 250.4 L538.0 252.6 L539.9 250.8 L541.8 248.4 L543.7 251.3 L545.6 249.5 L547.5 251.1 L549.4 250.2 L551.3 246.8 L553.2 247.1 L555.1 247.9 L557.0 247.9 L558.9 247.2 L560.8 248.3 L562.7 244.6 L564.6 244.0 L566.5 245.5 L568.4 248.3 L570.3 244.5 L572.2 243.4 L574.1 243.3 L576.0 243.0 L577.9 244.8 L579.8 245.1 L581.7 246.0 L583.6 243.7 L585.5 242.7 L587.4 244.1 L589.3 244.0 L591.2 241.6 L593.1 242.1 L595.0 240.0 L596.9 241.6 L598.8 241.1 L600.7 239.0 L602.6 238.9 L604.5 239.5 L606.4 240.8 L608.3 238.7 L610.2 236.6 L612.1 237.6 L614.0 236.3 L615.9 233.9 L617.8 236.6 L619.7 236.9 L621.6 237.9 L623.5 236.1 L625.4 231.7 L627.3 234.1 L629.2 235.8 L631.1 236.8 L633.0 235.6 L634.9 233.3 L636.8 232.5 L638.7 230.4 L640.6 229.3 L642.5 226.8 L644.4 227.2 L646.3 226.0 L648.2 224.5 L650.1 225.3 L652.0 225.6 L653.9 222.2 L655.8 223.7 L657.7 221.6 L659.6 220.4 L661.5 220.6 L663.4 218.8 L665.3 217.2 L667.2 218.5 L669.1 218.0 L671.0 216.1 L672.9 212.2 L674.8 211.4 L676.7 214.3 L678.6 214.1 L680.5 211.4 L682.4 210.5 L684.3 210.7 L686.2 211.8 L688.1 211.8 L690.0 211.9 L691.9 209.5 L693.8 210.0 L695.7 208.9 L697.6 207.5 L699.5 209.7 L701.4 208.3 L703.3 205.8 L705.2 204.7 L707.1 203.7 L709.0 205.5 L710.9 206.3 L712.8 205.1 L714.7 204.0 L716.6 205.2 L718.5 205.1 L720.4 205.8 L722.3 207.1 L724.2 207.5 L726.1 210.0 L728.0 212.0 L729.9 212.1 L731.8 208.0 L733.7 211.0 L735.6 212.9 L737.5 210.9 L739.4 210.8 L741.3 212.9 L743.2 214.0 L745.1 213.7 L747.0 212.6 L748.9 212.0 L750.8 213.1 L752.7 212.5 L754.6 210.7 L756.5 210.4 L758.4 211.1 L760.3 211.8 L762.2 214.5 L764.1 210.8 L766.0 210.0 L767.9 210.4 L769.8 210.1 L771.7 211.6 L773.6 212.1 L775.5 210.0 L777.4 208.2 L779.3 206.7 L781.2 207.6 L783.1 210.3 L785.0 209.2 L786.9 209.2 L788.8 209.9 L790.7 209.5 L792.6 210.2 L794.5 209.4 L796.4 207.7 L798.3 207.0 L800.2 209.8 L802.1 210.2 L804.0 209.6 L805.9 211.6 L807.8 210.8 L809.7 213.3 L811.6 214.2 L813.5 212.2 L815.4 211.6 L817.3 214.3 L819.2 213.1 L821.1 212.5 L823.0 214.3 L824.9 215.5 L826.8 215.9 L828.7 216.7 L830.6 216.5 L832.5 216.7 L834.4 219.2 L836.3 219.9 L838.2 218.2 L840.1 220.4 L842.0 217.2 L843.9 217.0 L845.8 219.3 L847.7 220.1 L849.6 219.1 L851.5 217.7 L853.4 218.5 L855.3 218.1 L857.2 218.2 L859.1 214.2 L861.0 215.7 L862.9 216.6 L864.8 217.9 L866.7 218.9 L868.6 218.5 L870.5 216.9 L872.4 216.9 L874.3 216.4 L876.2 216.4 L878.1 216.2 L880.0 214.8 L881.9 217.9 L883.8 218.4 L885.7 213.5 L887.6 215.1 L889.5 214.2 L891.4 213.7 L893.3 213.8 L895.2 212.8 L897.1 212.5 L899.0 210.6 L900.9 206.7 L902.8 205.8 L904.7 205.9 L906.6 206.8 L908.5 203.9 L910.4 200.1 L912.3 199.6 L914.2 200.7 L916.1 198.5 L918.0 196.5 L919.9 197.1 L921.8 196.0 L923.7 194.1 L925.6 191.4 L927.5 188.8 L929.4 188.1 L931.3 188.1 L933.2 187.6 L935.1 188.2 L937.0 188.8 L938.9 188.7 L940.8 188.4 L942.7 186.2 L944.6 184.2 L946.5 185.3 L948.4 184.0 L950.3 181.6 L952.2 178.1 L954.1 176.7 L956.0 175.7 L957.9 174.3 L959.8 173.8 L961.7 172.3 L963.6 173.2 L965.5 175.4 L967.4 173.3 L969.3 172.3 L971.2 170.8 L973.1 171.6 L975.0 173.9 L976.9 170.0 L978.8 168.2 L980.7 170.7 L982.6 170.1 L984.5 168.6 L986.4 165.4 L988.3 166.0 L990.2 168.8 L992.1 170.2 L994.0 169.4 L995.9 167.0 L997.8 165.8 L999.7 164.1 L1001.6 164.2 L1003.5 167.7 L1005.4 167.9 L1007.3 165.4 L1009.2 168.1 L1011.1 166.4 L1013.0 168.2 L1014.9 168.7 L1016.8 168.5 L1018.7 169.8 L1020.6 169.8 L1022.5 171.1 L1024.4 170.7 L1026.3 169.7 L1028.2 169.5 L1030.1 168.7 L1032.0 169.4 L1033.9 172.5 L1035.8 173.6 L1037.7 173.8 L1039.6 175.4 L1041.5 172.9 L1043.4 170.1 L1045.3 166.6 L1047.2 166.0 L1049.1 169.8 L1051.0 169.6 L1052.9 167.6 L1054.8 168.0 L1056.7 165.7 L1058.6 165.7 L1060.5 166.2 L1062.4 164.9 L1064.3 168.2 L1066.2 170.6 L1068.1 169.0 L1070.0 168.5 L1071.9 166.7 L1073.8 167.3 L1075.7 168.6 L1077.6 169.7 L1079.5 170.5 L1081.4 169.3 L1083.3 168.1 L1085.2 167.3 L1087.1 167.6 L1089.0 170.1 L1090.9 171.5 L1092.8 171.2 L1094.7 173.3 L1096.6 173.7 L1098.5 172.3 L1100.4 171.9 L1102.3 172.4 L1104.2 171.5 L1106.1 171.0 L1108.0 173.1 L1109.9 173.3 L1111.8 173.3 L1113.7 175.9 L1115.6 175.6 L1117.5 176.9 L1119.4 176.7 L1121.3 178.1 L1123.2 178.4 L1125.1 175.2 L1127.0 178.0 L1128.9 179.1 L1130.8 176.2 L1132.7 178.0 L1134.6 179.9 L1136.5 178.0 L1138.4 177.6 L1140.3 179.3 L1142.2 180.8 L1144.1 180.6 L1146.0 180.0 L1147.9 179.5 L1149.8 174.4 L1151.7 173.7 L1153.6 176.2 L1155.5 173.0 L1157.4 175.2 L1159.3 178.1 L1161.2 175.9 L1163.1 175.0 L1165.0 174.5 L1166.9 175.3 L1168.8 176.0 L1170.7 176.0 L1172.6 174.7 L1174.5 175.8 L1176.4 175.9 L1178.3 177.1 L1180.2 177.2 L1182.1 174.3 L1184.0 172.7 L1185.9 173.9 L1187.8 173.3 L1189.7 173.0 L1191.6 173.4 L1193.5 172.4 L1195.4 169.5 L1197.3 168.8 L1199.2 171.6 L1201.1 170.8 L1203.0 172.4 L1204.9 172.5 L1206.8 172.4 L1208.7 171.0 L1210.6 170.7 L1212.5 167.3 L1214.4 168.4 L1216.3 171.3 L1218.2 169.6 L1220.1 168.2 L1222.0 169.1 L1223.9 169.7 L1225.8 168.6 L1227.7 169.9 L1229.6 168.2 L1231.5 170.3 L1233.4 169.4 L1235.3 168.6 L1237.2 172.3 L1239.1 171.3 L1241.0 169.1 L1242.9 171.7 L1244.8 172.8 L1246.7 172.8 L1248.6 174.3 L1250.5 175.5 L1252.4 175.8 L1254.3 175.7 L1256.2 179.1 L1258.1 177.9 L1260.0 178.0 L1261.9 175.8 L1263.8 176.1 L1265.7 175.0 L1267.6 174.5 L1269.5 176.6 L1271.4 176.1 L1273.3 173.7 L1275.2 175.0 L1277.1 177.4 L1279.0 179.4 L1280.9 179.3 L1282.8 181.0 L1284.7 183.1 L1286.6 180.5 L1288.5 179.9 L1290.4 178.5 L1292.3 178.3 L1294.2 178.0 L1296.1 177.3 L1298.0 174.1 L1299.9 175.2 L1301.8 176.6 L1303.7 175.5 L1305.6 175.5 L1307.5 174.7 L1309.4 175.9 L1311.3 177.5 L1313.2 177.7 L1315.1 175.9 L1317.0 177.8 L1318.9 178.2 L1320.8 175.0 L1322.7 174.4 L1324.6 172.8 L1326.5 173.4 L1328.4 175.5 L1330.3 176.6 L1332.2 174.6 L1334.1 171.0 L1336.0 171.7 L1337.9 174.5 L1339.8 173.2 L1341.7 172.5 L1343.6 171.6 L1345.5 171.3 L1347.4 170.2 L1349.3 168.0 L1351.2 169.4 L1353.1 174.1 L1355.0 172.8 L1356.9 169.4 L1358.8 173.8 L1360.7 174.4 L1362.6 171.0 L1364.5 169.5 L1366.4 167.4 L1368.3 168.9 L1370.2 169.3 L1372.1 167.2 L1374.0 166.2 L1375.9 165.7 L1377.8 167.0 L1379.7 166.0 L1381.6 166.6 L1383.5 164.7 L1385.4 163.1 L1387.3 163.5 L1389.2 163.7 L1391.1 164.6 L1393.0 166.8 L1394.9 168.5 L1396.8 166.2 L1398.7 168.7 L1400.6 170.1 L1402.5 171.0 L1404.4 169.4 L1406.3 166.8 L1408.2 168.3 L1410.1 170.6 L1412.0 170.5 L1413.9 169.2 L1415.8 166.7 L1417.7 164.4 L1419.6 161.7 L1421.5 162.2 L1423.4 166.1 L1425.3 168.7 L1427.2 169.1 L1429.1 168.0 L1431.0 172.2 L1432.9 173.1 L1434.8 170.4 L1436.7 168.6 L1438.6 167.0 L1440.5 165.3 L1442.4 164.8 L1444.3 164.3 L1446.2 162.5 L1448.1 161.4 L1450.0 159.5 L1451.9 156.3 L1453.8 152.6 L1455.7 148.5 L1457.6 144.0 L1459.5 139.6 L1461.4 135.7 L1463.3 131.9 L1465.2 128.0 L1467.1 126.7 L1469.0 129.3 L1470.9 133.8 L1472.8 141.4 L1474.7 151.5 L1476.6 161.8 L1478.5 173.2 L1480.4 182.9 L1482.3 192.9 L1484.2 203.5 L1486.1 214.2 L1488.0 222.2 L1489.9 226.7 L1491.8 230.6 L1493.7 233.4 L1495.6 235.6 L1497.5 237.5 L1499.4 237.9 L1501.3 236.7 L1503.2 235.1 L1505.1 233.2 L1507.0 230.4 L1508.9 225.7 L1510.8 221.8 L1512.7 217.8 L1514.6 212.7 L1516.5 207.0 L1518.4 201.7 L1520.3 196.4 L1522.2 191.1 L1524.1 186.9 L1526.0 183.4 L1527.9 180.3 L1529.8 178.2 L1531.7 176.6 L1533.6 176.9 L1535.5 178.4 L1537.4 180.2 L1539.3 182.3 L1541.2 185.6 L1543.1 189.6 L1545.0 193.7 L1546.9 195.5 L1548.8 195.7 L1550.7 196.3 L1552.6 196.7 L1554.5 196.5 L1556.4 194.4 L1558.3 190.9 L1560.2 187.0 L1562.1 183.2 L1564.0 178.6 L1565.9 173.5 L1567.8 166.5 L1569.7 159.1 L1571.6 150.8 L1573.5 141.3 L1575.4 131.2 L1577.3 119.3 L1579.2 108.5 L1581.1 101.2 L1583.0 93.6 L1584.9 90.7 L1586.8 97.9 L1588.7 110.9 L1590.6 134.6 L1592.5 163.9 L1594.4 201.2 L1596.3 237.1 L1598.2 272.4 L1600.1 303.8 L1602.0 329.4 L1603.9 347.8 L1605.8 360.3 L1607.7 370.2 L1609.6 378.3 L1611.5 384.3 L1613.4 383.0 L1615.3 377.3 L1617.2 370.8 L1619.1 362.4 L1621.0 352.4 L1622.9 339.7 L1624.8 325.8 L1626.7 309.4 L1628.6 292.2 L1630.5 274.8 L1632.4 259.4 L1634.3 246.6 L1636.2 234.5 L1638.1 221.6 L1640.0 207.3 L1641.9 197.8 L1643.8 194.1 L1645.7 192.1 L1647.6 191.5 L1649.5 194.8 L1651.4 199.7 L1653.3 204.3 L1655.2 211.8 L1657.1 220.2 L1659.0 227.9 L1660.9 236.4 L1662.8 245.0 L1664.7 249.7 L1666.6 253.2 L1668.5 255.4 L1670.4 256.2 L1672.3 257.1 L1674.2 258.0 L1676.1 258.0 L1678.0 258.5 L1679.9 259.7 L1681.8 262.3 L1683.7 266.6 L1685.6 271.3 L1687.5 276.1 L1689.4 281.6 L1691.3 286.6 L1693.2 290.1 L1695.1 291.2 L1697.0 289.5 L1698.9 286.7 L1700.8 283.2 L1702.7 281.3 L1704.6 277.1 L1706.5 275.1 L1708.4 277.5 L1710.3 280.7 L1712.2 280.9 L1714.1 282.3 L1716.0 285.5 L1717.9 285.3 L1719.8 278.7 L1721.7 274.1 L1723.6 272.3 L1725.5 265.1 L1727.4 258.9 L1729.3 250.3 L1731.2 243.4 L1733.1 234.1 L1735.0 224.7 L1736.9 215.4 L1738.8 203.4 L1740.7 195.4 L1742.6 190.7 L1744.5 185.7 L1746.4 185.9 L1748.3 188.3 L1750.2 192.5 L1752.1 194.3 L1754.0 195.3 L1755.9 199.3 L1757.8 205.3 L1759.7 209.8 L1761.6 213.4 L1763.5 216.9 L1765.4 218.8 L1767.3 220.0 L1769.2 222.9 L1771.1 224.5 L1773.0 224.6 L1774.9 227.5 L1776.8 230.1 L1778.7 231.5 L1780.6 232.6 L1782.5 234.5 L1784.4 237.5 L1786.3 240.0 L1788.2 240.9 L1790.1 241.5 L1792.0 242.3 L1793.9 240.2 L1795.8 237.3 L1797.7 233.4 L1799.6 231.7 L1801.5 231.5 L1803.4 229.9 L1805.3 227.7 L1807.2 227.1 L1809.1 225.2 L1811.0 224.6 L1812.9 226.9 L1814.8 225.0 L1816.7 223.8 L1818.6 227.4 L1820.5 229.4 L1822.4 230.5 L1824.3 231.0 L1826.2 233.8 L1828.1 234.0 L1830.0 233.8 L1831.9 233.5 L1833.8 235.6 L1835.7 237.0 L1837.6 237.9 L1839.5 240.1 L1841.4 240.9 L1843.3 241.7 L1845.2 244.3 L1847.1 248.1 L1849.0 251.4 L1850.9 250.0 L1852.8 248.5 L1854.7 247.4 L1856.6 246.0 L1858.5 242.5 L1860.4 238.6 L1862.3 234.4 L1864.2 228.6 L1866.1 223.5 L1868.0 220.4 L1869.9 217.0 L1871.8 214.6 L1873.7 211.7 L1875.6 213.2 L1877.5 214.9 L1879.4 215.9 L1881.3 218.8 L1883.2 222.7 L1885.1 228.9 L1887.0 236.6 L1888.9 240.3 L1890.8 244.5 L1892.7 251.5 L1894.6 256.3 L1896.5 261.1 L1898.4 263.7 L1900.3 266.6 L1902.2 267.1 L1904.1 269.2 L1906.0 272.8 L1907.9 274.5 L1909.8 274.6 L1911.7 272.2 L1913.6 268.9 L1915.5 266.8 L1917.4 263.3 L1919.3 261.0 L1921.2 256.9 L1923.1 249.8 L1925.0 247.1 L1926.9 241.8 L1928.8 238.8 L1930.7 237.5 L1932.6 238.1 L1934.5 243.8 L1936.4 248.5 L1938.3 255.2 L1940.2 261.1 L1942.1 265.7 L1944.0 268.7 L1945.9 271.3 L1947.8 273.0 L1949.7 275.7 L1951.6 278.3 L1953.5 279.9 L1955.4 281.7 L1957.3 285.5 L1959.2 286.1 L1961.1 286.4 L1963.0 288.5 L1964.9 289.3 L1966.8 288.3 L1968.7 289.2 L1970.6 289.9 L1972.5 289.2 L1974.4 289.4 L1976.3 288.2 L1978.2 287.4 L1980.1 286.2 L1982.0 286.8 L1983.9 285.1 L1985.8 282.9 L1987.7 280.9 L1989.6 278.7 L1991.5 275.2 L1993.4 271.3 L1995.3 266.2 L1997.2 258.5 L1999.1 255.0 L2001.0 251.0 L2002.9 247.8 L2004.8 244.4 L2006.7 240.8 L2008.6 237.7 L2010.5 238.0 L2012.4 241.2 L2014.3 245.1 L2016.2 247.3 L2018.1 252.7 L2020.0 256.6 L2021.9 258.7 L2023.8 260.5 L2025.7 262.5 L2027.6 264.7 L2029.5 266.3 L2031.4 267.8 L2033.3 269.7 L2035.2 268.4 L2037.1 268.7 L2039.0 270.0 L2040.9 267.7 L2042.8 266.8 L2044.7 266.7 L2046.6 265.6 L2048.5 266.8 L2050.4 267.0 L2052.3 267.8 L2054.2 268.2 L2056.1 267.5 L2058.0 267.8 L2059.9 267.3 L2061.8 264.7 L2063.7 264.4 L2065.6 262.4 L2067.5 259.5 L2069.4 254.4 L2071.3 251.6 L2073.2 247.9 L2075.1 241.6 L2077.0 234.5 L2078.9 231.9 L2080.8 231.2 L2082.7 230.9 L2084.6 231.0 L2086.5 230.2 L2088.4 230.2 L2090.3 230.6 L2092.2 231.9 L2094.1 231.5 L2096.0 233.1 L2097.9 231.8 L2099.8 231.5 L2101.7 233.8 L2103.6 232.8 L2105.5 234.3 L2107.4 236.9 L2109.3 238.2 L2111.2 240.5 L2113.1 244.8 L2115.0 246.7 L2116.9 248.8 L2118.8 251.9 L2120.7 255.4 L2122.6 255.9 L2124.5 257.7 L2126.4 260.8 L2128.3 264.3 L2130.2 268.0 L2132.1 271.3 L2134.0 273.1 L2135.9 276.5 L2137.8 277.9 L2139.7 278.9 L2141.6 277.9 L2143.5 276.4 L2145.4 272.6 L2147.3 270.1 L2149.2 268.4 L2151.1 267.3 L2153.0 264.4 L2154.9 261.2 L2156.8 261.0 L2158.7 260.0 L2160.6 257.2 L2162.5 253.9 L2164.4 252.9 L2166.3 249.5 L2168.2 247.6 L2170.1 248.6 L2172.0 247.8 L2173.9 247.2 L2175.8 247.2 L2177.7 247.1 L2179.6 247.4 L2181.5 247.2 L2183.4 246.3 L2185.3 245.4 L2187.2 246.2 L2189.1 246.9 L2191.0 248.2 L2192.9 250.1 L2194.8 250.8 L2196.7 250.2 L2198.6 251.4 L2200.5 253.2 L2202.4 254.4 L2204.3 257.4 L2206.2 259.3 L2208.1 260.2 L2210.0 259.8 L2211.9 258.8 L2213.8 260.7 L2215.7 264.1 L2217.6 264.8 L2219.5 265.0 L2221.4 265.4 L2223.3 266.1 L2225.2 266.0 L2227.1 266.5 L2229.0 264.7 L2230.9 262.3 L2232.8 262.2 L2234.7 261.3 L2236.6 260.0 L2238.5 259.5 L2240.4 259.3 L2242.3 260.3 L2244.2 262.1 L2246.1 263.5 L2248.0 263.3 L2249.9 266.7 L2251.8 268.7 L2253.7 269.8 L2255.6 272.2 L2257.5 274.4 L2259.4 276.6 L2261.3 279.8 L2263.2 283.9 L2265.1 286.5 L2267.0 289.6 L2268.9 291.3 L2270.8 294.6 L2272.7 296.2 L2274.6 298.8 L2276.5 300.4 L2278.4 301.5 L2280.3 302.5 L2282.2 303.4 L2284.1 305.5 L2286.0 306.6 L2287.9 307.9 L2289.8 310.2 L2291.7 309.6 L2293.6 308.9 L2295.5 308.5 L2297.4 306.9 L2299.3 305.8 L2301.2 305.3 L2303.1 305.7 L2305.0 304.7 L2306.9 304.6 L2308.8 305.3 L2310.7 307.1 L2312.6 306.5 L2314.5 307.0 L2316.4 308.7 L2318.3 309.4 L2320.2 308.7 L2322.1 308.2 L2324.0 307.9 L2325.9 309.1 L2327.8 310.5 L2329.7 310.3 L2331.6 312.4 L2333.5 314.2 L2335.4 315.2 L2337.3 316.8 L2339.2 319.7 L2341.1 321.7 L2343.0 324.0 L2344.9 325.6 L2346.8 328.5 L2348.7 329.1 L2350.6 330.1 L2352.5 334.5 L2354.4 336.5 L2356.3 337.6 L2358.2 336.6 L2360.1 337.4 L2362.0 339.3 L2363.9 340.6 L2365.8 341.7 L2367.7 346.0 L2369.6 350.2 L2371.5 352.5 L2373.4 358.5 L2375.3 361.0 L2377.2 362.8 L2379.1 363.6 L2381.0 364.1 L2382.9 366.7 L2384.8 368.3 L2386.7 366.7 L2388.6 364.3 L2390.5 360.5 L2392.4 357.1 L2394.3 359.3 L2396.2 359.3 L2398.1 360.4 L2400.0 362.3 L2401.9 362.8 L2403.8 364.4 L2405.7 365.0 L2407.6 365.3 L2409.5 366.0 L2411.4 367.5 L2413.3 368.9 L2415.2 369.2 L2417.1 370.7 L2419.0 372.3 L2420.9 376.5 L2422.8 378.7 L2424.7 378.1 L2426.6 379.9 L2428.5 379.9 L2430.4 380.8 L2432.3 383.0 L2434.2 382.1 L2436.1 381.7 L2438.0 380.4 L2439.9 379.7 L2441.8 379.7 L2443.7 377.5 L2445.6 377.7 L2447.5 381.3 L2449.4 381.3 L2451.3 382.5 L2453.2 384.5 L2455.1 383.7 L2457.0 383.9 L2458.9 384.1 L2460.8 383.1 L2462.7 383.8 L2464.6 384.4 L2466.5 383.3 L2468.4 383.2 L2470.3 382.9 L2472.2 383.4 L2474.1 384.3 L2476.0 383.6 L2477.9 382.1 L2479.8 383.1 L2481.7 383.9 L2483.6 381.4 L2485.5 380.2 L2487.4 379.2 L2489.3 376.4 L2491.2 378.5 L2493.1 378.5 L2495.0 375.3 L2496.9 375.9 L2498.8 376.1 L2500.7 375.7 L2502.6 374.8 L2504.5 373.7 L2506.4 373.7 L2508.3 372.1 L2510.2 371.1" fill="none" stroke="#1a1a1a" stroke-width="3.5" stroke-linejoin="round"/>
<path d="M215.0 615.6 L217.0 614.6 L219.0 613.8 L221.0 613.2 L223.0 612.8 L225.0 612.7 L227.0 612.9 L229.0 613.3 L231.0 613.7 L233.0 614.3 L235.0 615.0 L237.0 615.6 L239.0 616.2 L241.0 616.9 L243.0 617.8 L245.0 618.6 L247.0 619.4 L249.0 620.2 L251.0 620.8 L253.0 621.4 L255.0 621.9 L257.0 622.4 L259.0 622.8 L261.0 623.2 L263.0 623.6 L265.0 623.8 L267.0 623.9 L269.0 624.0 L271.0 624.1 L273.0 624.2 L275.0 624.3 L277.0 624.4 L279.0 624.5 L281.0 624.5 L283.0 624.5 L285.0 624.6 L287.0 624.6 L289.0 624.6 L291.0 624.5 L293.0 624.5 L295.0 624.4 L297.0 624.3 L299.0 624.2 L301.0 624.1 L303.0 624.0 L305.0 623.8 L307.0 623.7 L309.0 623.5 L311.0 623.3 L313.0 623.1 L315.0 622.9 L317.0 622.7 L319.0 622.3 L321.0 621.8 L323.0 621.2 L325.0 620.6 L327.0 620.1 L329.0 619.5 L331.0 619.1 L333.0 618.7 L335.0 618.3 L337.0 617.9 L339.0 617.6 L341.0 617.3 L343.0 617.1 L345.0 617.0 L347.0 617.1 L349.0 617.2 L351.0 617.4 L353.0 617.7 L355.0 617.9 L357.0 618.2 L359.0 618.4 L361.0 618.7 L363.0 618.9 L365.0 619.2 L367.0 619.4 L369.0 619.6 L371.0 619.8 L373.0 619.9 L375.0 619.9 L377.0 619.9 L379.0 619.9 L381.0 619.9 L383.0 619.9 L385.0 619.9 L387.0 619.9 L389.0 619.9 L391.0 619.9 L393.0 619.9 L395.0 619.9 L397.0 619.9 L399.0 619.9 L401.0 620.0 L403.0 620.1 L405.0 620.3 L407.0 620.6 L409.0 620.9 L411.0 621.2 L413.0 621.5 L415.0 621.8 L417.0 622.1 L419.0 622.4 L421.0 622.7 L423.0 623.1 L425.0 623.4 L427.0 623.7 L429.0 624.0 L431.0 624.2 L433.0 624.2 L435.0 624.1 L437.0 623.7 L439.0 623.2 L441.0 622.5 L443.0 621.8 L445.0 621.1 L447.0 620.5 L449.0 619.9 L451.0 619.5 L453.0 619.0 L455.0 618.5 L457.0 618.1 L459.0 617.7 L461.0 617.4 L463.0 617.1 L465.0 617.0 L467.0 617.1 L469.0 617.2 L471.0 617.4 L473.0 617.7 L475.0 618.0 L477.0 618.4 L479.0 618.7 L481.0 619.1 L483.0 619.5 L485.0 620.0 L487.0 620.6 L489.0 621.3 L491.0 621.9 L493.0 622.5 L495.0 623.0 L497.0 623.3 L499.0 623.5 L501.0 623.4 L503.0 623.1 L505.0 622.5 L507.0 621.9 L509.0 621.1 L511.0 620.4 L513.0 619.8 L515.0 619.4 L517.0 619.2 L519.0 619.2 L521.0 619.3 L523.0 619.4 L525.0 619.6 L527.0 619.8 L529.0 620.0 L531.0 620.4 L533.0 620.9 L535.0 621.4 L537.0 621.9 L539.0 622.4 L541.0 622.7 L543.0 622.8 L545.0 622.6 L547.0 622.3 L549.0 621.8 L551.0 621.2 L553.0 620.6 L555.0 619.9 L557.0 619.3 L559.0 618.8 L561.0 618.4 L563.0 618.1 L565.0 618.1 L567.0 618.1 L569.0 618.2 L571.0 618.2 L573.0 618.2 L575.0 618.3 L577.0 618.3 L579.0 618.4 L581.0 618.4 L583.0 618.5 L585.0 618.5 L587.0 618.6 L589.0 618.6 L591.0 618.7 L593.0 618.7 L595.0 618.8 L597.0 618.9 L599.0 618.9 L601.0 619.0 L603.0 619.1 L605.0 619.3 L607.0 619.7 L609.0 620.3 L611.0 620.9 L613.0 621.6 L615.0 622.2 L617.0 623.0 L619.0 623.9 L621.0 624.8 L623.0 625.6 L625.0 626.2 L627.0 626.4 L629.0 626.3 L631.0 626.0 L633.0 625.6 L635.0 625.0 L637.0 624.5 L639.0 623.9 L641.0 623.3 L643.0 622.8 L645.0 622.4 L647.0 621.9 L649.0 621.5 L651.0 621.0 L653.0 620.6 L655.0 620.1 L657.0 619.8 L659.0 619.5 L661.0 619.2 L663.0 619.0 L665.0 618.8 L667.0 618.6 L669.0 618.4 L671.0 618.3 L673.0 618.1 L675.0 618.0 L677.0 617.9 L679.0 617.8 L681.0 617.8 L683.0 617.8 L685.0 617.8 L687.0 617.8 L689.0 617.8 L691.0 617.8 L693.0 617.8 L695.0 617.8 L697.0 617.8 L699.0 617.8 L701.0 617.7 L703.0 617.6 L705.0 617.2 L707.0 616.7 L709.0 616.2 L711.0 615.8 L713.0 615.6 L715.0 615.7 L717.0 616.1 L719.0 616.7 L721.0 617.4 L723.0 618.2 L725.0 618.9 L727.0 619.6 L729.0 620.4 L731.0 621.4 L733.0 622.3 L735.0 623.2 L737.0 624.0 L739.0 624.7 L741.0 625.1 L743.0 625.5 L745.0 625.8 L747.0 626.1 L749.0 626.3 L751.0 626.4 L753.0 626.3 L755.0 626.0 L757.0 625.6 L759.0 625.1 L761.0 624.6 L763.0 624.1 L765.0 623.6 L767.0 623.1 L769.0 622.7 L771.0 622.2 L773.0 621.7 L775.0 621.2 L777.0 620.7 L779.0 620.2 L781.0 619.8 L783.0 619.3 L785.0 618.9 L787.0 618.5 L789.0 618.0 L791.0 617.6 L793.0 617.1 L795.0 616.6 L797.0 616.2 L799.0 615.9 L801.0 615.7 L803.0 615.6 L805.0 615.7 L807.0 615.8 L809.0 616.1 L811.0 616.3 L813.0 616.6 L815.0 616.9 L817.0 617.2 L819.0 617.6 L821.0 618.0 L823.0 618.4 L825.0 618.8 L827.0 619.2 L829.0 619.5 L831.0 619.8 L833.0 619.9 L835.0 619.9 L837.0 619.9 L839.0 619.8 L841.0 619.7 L843.0 619.6 L845.0 619.5 L847.0 619.4 L849.0 619.3 L851.0 619.3 L853.0 619.2 L855.0 619.2 L857.0 619.2 L859.0 619.3 L861.0 619.5 L863.0 619.8 L865.0 620.0 L867.0 620.4 L869.0 620.7 L871.0 621.1 L873.0 621.4 L875.0 621.8 L877.0 622.1 L879.0 622.5 L881.0 623.0 L883.0 623.5 L885.0 624.1 L887.0 624.5 L889.0 624.8 L891.0 624.9 L893.0 624.8 L895.0 624.4 L897.0 623.8 L899.0 623.2 L901.0 622.4 L903.0 621.7 L905.0 621.1 L907.0 620.6 L909.0 620.0 L911.0 619.4 L913.0 618.9 L915.0 618.4 L917.0 618.0 L919.0 617.8 L921.0 617.8 L923.0 618.1 L925.0 618.5 L927.0 619.0 L929.0 619.5 L931.0 619.9 L933.0 620.3 L935.0 620.7 L937.0 621.1 L939.0 621.5 L941.0 621.8 L943.0 622.0 L945.0 622.1 L947.0 622.0 L949.0 621.7 L951.0 621.3 L953.0 620.8 L955.0 620.2 L957.0 619.6 L959.0 619.0 L961.0 618.5 L963.0 618.1 L965.0 617.8 L967.0 617.8 L969.0 617.8 L971.0 618.0 L973.0 618.2 L975.0 618.4 L977.0 618.6 L979.0 618.8 L981.0 619.0 L983.0 619.2 L985.0 619.2 L987.0 619.2 L989.0 619.2 L991.0 619.2 L993.0 619.2 L995.0 619.2 L997.0 619.2 L999.0 619.2 L1001.0 619.2 L1003.0 619.3 L1005.0 619.7 L1007.0 620.3 L1009.0 620.8 L1011.0 621.4 L1013.0 622.0 L1015.0 622.4 L1017.0 622.9 L1019.0 623.5 L1021.0 624.0 L1023.0 624.4 L1025.0 624.7 L1027.0 624.9 L1029.0 624.9 L1031.0 624.8 L1033.0 624.5 L1035.0 624.2 L1037.0 623.8 L1039.0 623.4 L1041.0 623.0 L1043.0 622.6 L1045.0 622.1 L1047.0 621.5 L1049.0 620.8 L1051.0 620.3 L1053.0 619.9 L1055.0 619.6 L1057.0 619.3 L1059.0 619.1 L1061.0 618.8 L1063.0 618.6 L1065.0 618.4 L1067.0 618.2 L1069.0 618.0 L1071.0 617.8 L1073.0 617.7 L1075.0 617.6 L1077.0 617.5 L1079.0 617.4 L1081.0 617.4 L1083.0 617.4 L1085.0 617.5 L1087.0 617.6 L1089.0 617.7 L1091.0 617.9 L1093.0 618.2 L1095.0 618.4 L1097.0 618.7 L1099.0 618.9 L1101.0 619.2 L1103.0 619.4 L1105.0 619.7 L1107.0 619.9 L1109.0 620.2 L1111.0 620.4 L1113.0 620.6 L1115.0 620.9 L1117.0 621.1 L1119.0 621.4 L1121.0 621.6 L1123.0 621.9 L1125.0 622.1 L1127.0 622.3 L1129.0 622.6 L1131.0 622.9 L1133.0 623.1 L1135.0 623.3 L1137.0 623.4 L1139.0 623.5 L1141.0 623.4 L1143.0 623.0 L1145.0 622.4 L1147.0 621.8 L1149.0 621.0 L1151.0 620.4 L1153.0 619.8 L1155.0 619.4 L1157.0 619.2 L1159.0 619.2 L1161.0 619.2 L1163.0 619.2 L1165.0 619.2 L1167.0 619.2 L1169.0 619.2 L1171.0 619.2 L1173.0 619.2 L1175.0 619.2 L1177.0 619.1 L1179.0 618.8 L1181.0 618.4 L1183.0 617.9 L1185.0 617.4 L1187.0 616.9 L1189.0 616.4 L1191.0 616.0 L1193.0 615.7 L1195.0 615.6 L1197.0 615.8 L1199.0 616.2 L1201.0 616.7 L1203.0 617.4 L1205.0 618.1 L1207.0 618.6 L1209.0 619.0 L1211.0 619.2 L1213.0 619.2 L1215.0 619.1 L1217.0 619.0 L1219.0 618.9 L1221.0 618.8 L1223.0 618.7 L1225.0 618.6 L1227.0 618.5 L1229.0 618.5 L1231.0 618.5 L1233.0 618.8 L1235.0 619.4 L1237.0 620.4 L1239.0 621.4 L1241.0 622.5 L1243.0 623.4 L1245.0 624.1 L1247.0 625.0 L1249.0 625.7 L1251.0 626.3 L1253.0 626.4 L1255.0 626.2 L1257.0 625.9 L1259.0 625.4 L1261.0 624.9 L1263.0 624.3 L1265.0 623.8 L1267.0 623.3 L1269.0 622.9 L1271.0 622.7 L1273.0 622.6 L1275.0 622.5 L1277.0 622.4 L1279.0 622.3 L1281.0 622.2 L1283.0 622.2 L1285.0 622.1 L1287.0 622.0 L1289.0 621.8 L1291.0 621.6 L1293.0 621.1 L1295.0 620.3 L1297.0 619.3 L1299.0 618.3 L1301.0 617.2 L1303.0 616.3 L1305.0 615.5 L1307.0 615.0 L1309.0 614.8 L1311.0 614.7 L1313.0 614.5 L1315.0 614.4 L1317.0 614.3 L1319.0 614.2 L1321.0 614.1 L1323.0 614.1 L1325.0 614.0 L1327.0 613.9 L1329.0 613.9 L1331.0 613.8 L1333.0 613.8 L1335.0 613.8 L1337.0 613.8 L1339.0 614.0 L1341.0 614.4 L1343.0 615.0 L1345.0 615.7 L1347.0 616.5 L1349.0 617.2 L1351.0 618.2 L1353.0 619.4 L1355.0 620.7 L1357.0 622.0 L1359.0 623.3 L1361.0 624.3 L1363.0 625.1 L1365.0 625.6 L1367.0 625.8 L1369.0 625.9 L1371.0 625.9 L1373.0 626.0 L1375.0 626.0 L1377.0 626.1 L1379.0 626.1 L1381.0 626.2 L1383.0 626.3 L1385.0 626.5 L1387.0 627.0 L1389.0 627.5 L1391.0 628.2 L1393.0 629.0 L1395.0 629.8 L1397.0 630.5 L1399.0 631.1 L1401.0 631.6 L1403.0 632.1 L1405.0 632.6 L1407.0 632.9 L1409.0 632.9 L1411.0 632.3 L1413.0 631.2 L1415.0 629.9 L1417.0 628.9 L1419.0 627.7 L1421.0 626.5 L1423.0 625.5 L1425.0 624.7 L1427.0 624.1 L1429.0 623.7 L1431.0 623.3 L1433.0 622.9 L1435.0 622.3 L1437.0 621.3 L1439.0 619.6 L1441.0 617.4 L1443.0 614.7 L1445.0 611.3 L1447.0 606.4 L1449.0 600.6 L1451.0 594.6 L1453.0 587.7 L1455.0 580.4 L1457.0 573.8 L1459.0 568.2 L1461.0 563.1 L1463.0 560.2 L1465.0 558.9 L1467.0 558.3 L1469.0 560.1 L1471.0 564.1 L1473.0 570.9 L1475.0 581.3 L1477.0 592.8 L1479.0 606.4 L1481.0 621.3 L1483.0 635.3 L1485.0 649.6 L1487.0 661.8 L1489.0 670.4 L1491.0 677.6 L1493.0 682.0 L1495.0 684.2 L1497.0 685.2 L1499.0 684.3 L1501.0 682.2 L1503.0 678.9 L1505.0 673.9 L1507.0 668.3 L1509.0 663.0 L1511.0 657.3 L1513.0 651.5 L1515.0 646.0 L1517.0 640.7 L1519.0 635.4 L1521.0 630.4 L1523.0 626.0 L1525.0 622.1 L1527.0 618.3 L1529.0 615.1 L1531.0 612.5 L1533.0 610.4 L1535.0 608.7 L1537.0 608.1 L1539.0 608.8 L1541.0 610.1 L1543.0 613.3 L1545.0 617.8 L1547.0 621.7 L1549.0 625.7 L1551.0 628.7 L1553.0 629.5 L1555.0 629.9 L1557.0 629.3 L1559.0 625.6 L1561.0 619.6 L1563.0 608.3 L1565.0 595.0 L1567.0 578.8 L1569.0 561.2 L1571.0 542.0 L1573.0 524.0 L1575.0 506.9 L1577.0 493.9 L1579.0 485.3 L1581.0 482.7 L1583.0 483.2 L1585.0 487.6 L1587.0 499.3 L1589.0 516.5 L1591.0 541.7 L1593.0 571.3 L1595.0 602.7 L1597.0 635.6 L1599.0 669.5 L1601.0 702.3 L1603.0 731.9 L1605.0 758.5 L1607.0 782.4 L1609.0 800.0 L1611.0 807.8 L1613.0 807.8 L1615.0 800.4 L1617.0 785.4 L1619.0 766.3 L1621.0 745.5 L1623.0 722.9 L1625.0 698.9 L1627.0 673.6 L1629.0 647.4 L1631.0 619.7 L1633.0 595.2 L1635.0 573.7 L1637.0 557.1 L1639.0 544.4 L1641.0 535.9 L1643.0 530.3 L1645.0 527.3 L1647.0 526.1 L1649.0 527.1 L1651.0 530.5 L1653.0 534.3 L1655.0 539.4 L1657.0 545.1 L1659.0 550.9 L1661.0 557.1 L1663.0 563.7 L1665.0 570.3 L1667.0 577.0 L1669.0 583.9 L1671.0 590.8 L1673.0 597.1 L1675.0 602.8 L1677.0 608.0 L1679.0 613.0 L1681.0 617.5 L1683.0 621.8 L1685.0 625.7 L1687.0 629.4 L1689.0 633.0 L1691.0 636.6 L1693.0 640.3 L1695.0 644.1 L1697.0 648.1 L1699.0 652.0 L1701.0 655.7 L1703.0 659.2 L1705.0 662.4 L1707.0 665.6 L1709.0 668.3 L1711.0 670.1 L1713.0 671.4 L1715.0 671.8 L1717.0 670.6 L1719.0 668.6 L1721.0 664.7 L1723.0 659.2 L1725.0 653.0 L1727.0 645.5 L1729.0 637.1 L1731.0 628.3 L1733.0 618.6 L1735.0 608.2 L1737.0 598.8 L1739.0 591.2 L1741.0 584.4 L1743.0 579.7 L1745.0 577.1 L1747.0 575.5 L1749.0 575.6 L1751.0 577.3 L1753.0 579.7 L1755.0 583.4 L1757.0 588.6 L1759.0 594.1 L1761.0 599.5 L1763.0 605.4 L1765.0 611.2 L1767.0 616.2 L1769.0 620.9 L1771.0 625.1 L1773.0 628.3 L1775.0 630.3 L1777.0 632.1 L1779.0 633.2 L1781.0 633.7 L1783.0 633.9 L1785.0 634.0 L1787.0 634.1 L1789.0 633.9 L1791.0 633.3 L1793.0 632.5 L1795.0 631.6 L1797.0 630.6 L1799.0 629.1 L1801.0 627.2 L1803.0 625.0 L1805.0 622.8 L1807.0 620.8 L1809.0 619.1 L1811.0 617.3 L1813.0 615.7 L1815.0 614.4 L1817.0 613.7 L1819.0 613.0 L1821.0 612.8 L1823.0 613.2 L1825.0 614.3 L1827.0 615.8 L1829.0 617.8 L1831.0 620.6 L1833.0 623.5 L1835.0 626.1 L1837.0 628.5 L1839.0 630.9 L1841.0 633.1 L1843.0 634.9 L1845.0 636.4 L1847.0 637.1 L1849.0 636.7 L1851.0 635.2 L1853.0 633.0 L1855.0 630.2 L1857.0 626.0 L1859.0 620.9 L1861.0 615.4 L1863.0 610.3 L1865.0 606.2 L1867.0 602.5 L1869.0 599.2 L1871.0 596.6 L1873.0 595.1 L1875.0 593.9 L1877.0 593.3 L1879.0 593.9 L1881.0 595.6 L1883.0 598.0 L1885.0 602.6 L1887.0 609.2 L1889.0 616.3 L1891.0 622.8 L1893.0 630.3 L1895.0 637.7 L1897.0 644.1 L1899.0 648.1 L1901.0 650.6 L1903.0 652.6 L1905.0 653.3 L1907.0 652.5 L1909.0 650.5 L1911.0 646.8 L1913.0 639.0 L1915.0 629.8 L1917.0 622.3 L1919.0 616.5 L1921.0 610.9 L1923.0 606.1 L1925.0 602.4 L1927.0 599.8 L1929.0 597.6 L1931.0 596.1 L1933.0 595.9 L1935.0 597.3 L1937.0 599.5 L1939.0 602.0 L1941.0 605.8 L1943.0 610.3 L1945.0 614.5 L1947.0 618.0 L1949.0 621.3 L1951.0 624.3 L1953.0 626.8 L1955.0 628.4 L1957.0 629.6 L1959.0 630.5 L1961.0 631.3 L1963.0 632.0 L1965.0 632.7 L1967.0 633.4 L1969.0 634.2 L1971.0 635.0 L1973.0 635.6 L1975.0 636.1 L1977.0 636.4 L1979.0 636.2 L1981.0 634.9 L1983.0 632.7 L1985.0 630.1 L1987.0 626.7 L1989.0 621.7 L1991.0 616.2 L1993.0 610.9 L1995.0 606.5 L1997.0 602.3 L1999.0 598.2 L2001.0 594.7 L2003.0 592.3 L2005.0 590.6 L2007.0 589.3 L2009.0 589.1 L2011.0 590.5 L2013.0 592.9 L2015.0 595.8 L2017.0 600.2 L2019.0 605.6 L2021.0 611.1 L2023.0 615.9 L2025.0 620.5 L2027.0 625.2 L2029.0 629.4 L2031.0 632.6 L2033.0 634.7 L2035.0 636.4 L2037.0 637.8 L2039.0 639.0 L2041.0 640.1 L2043.0 641.0 L2045.0 641.7 L2047.0 642.3 L2049.0 643.0 L2051.0 643.4 L2053.0 643.6 L2055.0 643.4 L2057.0 642.8 L2059.0 641.7 L2061.0 640.4 L2063.0 637.9 L2065.0 634.2 L2067.0 629.9 L2069.0 625.7 L2071.0 621.7 L2073.0 617.3 L2075.0 612.9 L2077.0 609.0 L2079.0 606.0 L2081.0 603.2 L2083.0 600.7 L2085.0 598.7 L2087.0 597.7 L2089.0 597.6 L2091.0 597.6 L2093.0 597.6 L2095.0 597.6 L2097.0 598.2 L2099.0 599.4 L2101.0 600.9 L2103.0 602.5 L2105.0 603.9 L2107.0 605.3 L2109.0 606.9 L2111.0 608.6 L2113.0 610.5 L2115.0 613.0 L2117.0 615.9 L2119.0 619.0 L2121.0 622.4 L2123.0 625.6 L2125.0 629.0 L2127.0 632.8 L2129.0 636.5 L2131.0 639.7 L2133.0 642.0 L2135.0 644.1 L2137.0 645.7 L2139.0 646.1 L2141.0 645.4 L2143.0 644.1 L2145.0 642.6 L2147.0 640.3 L2149.0 637.0 L2151.0 633.3 L2153.0 629.7 L2155.0 626.7 L2157.0 623.8 L2159.0 621.0 L2161.0 618.5 L2163.0 616.7 L2165.0 615.3 L2167.0 614.0 L2169.0 612.9 L2171.0 612.1 L2173.0 611.4 L2175.0 611.1 L2177.0 610.7 L2179.0 610.4 L2181.0 610.3 L2183.0 610.2 L2185.0 610.6 L2187.0 611.3 L2189.0 612.4 L2191.0 613.4 L2193.0 614.4 L2195.0 615.6 L2197.0 616.9 L2199.0 618.2 L2201.0 619.6 L2203.0 620.9 L2205.0 622.1 L2207.0 623.3 L2209.0 624.6 L2211.0 625.9 L2213.0 627.1 L2215.0 627.9 L2217.0 628.2 L2219.0 627.9 L2221.0 627.1 L2223.0 626.1 L2225.0 625.0 L2227.0 623.9 L2229.0 622.4 L2231.0 620.7 L2233.0 618.8 L2235.0 617.1 L2237.0 615.7 L2239.0 614.6 L2241.0 613.7 L2243.0 612.9 L2245.0 612.3 L2247.0 612.0 L2249.0 612.3 L2251.0 613.2 L2253.0 614.6 L2255.0 616.3 L2257.0 617.9 L2259.0 619.9 L2261.0 622.3 L2263.0 624.8 L2265.0 627.1 L2267.0 629.1 L2269.0 630.7 L2271.0 632.4 L2273.0 633.9 L2275.0 635.1 L2277.0 635.9 L2279.0 636.2 L2281.0 636.3 L2283.0 636.4 L2285.0 636.4 L2287.0 636.1 L2289.0 635.2 L2291.0 633.8 L2293.0 632.3 L2295.0 630.7 L2297.0 629.2 L2299.0 627.4 L2301.0 625.5 L2303.0 623.4 L2305.0 621.5 L2307.0 619.7 L2309.0 618.1 L2311.0 616.5 L2313.0 614.9 L2315.0 613.4 L2317.0 612.1 L2319.0 611.3 L2321.0 610.9 L2323.0 611.0 L2325.0 611.1 L2327.0 611.3 L2329.0 611.6 L2331.0 611.9 L2333.0 612.2 L2335.0 612.7 L2337.0 613.2 L2339.0 613.8 L2341.0 614.4 L2343.0 615.0 L2345.0 615.4 L2347.0 615.8 L2349.0 616.2 L2351.0 616.7 L2353.0 617.2 L2355.0 618.1 L2357.0 619.2 L2359.0 620.6 L2361.0 622.1 L2363.0 623.6 L2365.0 625.2 L2367.0 627.1 L2369.0 629.1 L2371.0 631.2 L2373.0 632.9 L2375.0 634.3 L2377.0 635.4 L2379.0 636.2 L2381.0 636.4 L2383.0 635.8 L2385.0 634.6 L2387.0 633.2 L2389.0 631.6 L2391.0 629.3 L2393.0 626.8 L2395.0 624.3 L2397.0 622.4 L2399.0 620.6 L2401.0 618.8 L2403.0 617.4 L2405.0 616.7 L2407.0 616.8 L2409.0 617.5 L2411.0 618.4 L2413.0 619.3 L2415.0 620.1 L2417.0 620.9 L2419.0 621.8 L2421.0 622.6 L2423.0 623.2 L2425.0 623.5 L2427.0 623.4 L2429.0 623.0 L2431.0 622.5 L2433.0 621.8 L2435.0 621.3 L2437.0 620.8 L2439.0 620.2 L2441.0 619.5 L2443.0 619.0 L2445.0 618.6 L2447.0 618.5 L2449.0 618.5 L2451.0 618.7 L2453.0 618.9 L2455.0 619.1 L2457.0 619.4 L2459.0 619.6 L2461.0 619.9 L2463.0 620.1 L2465.0 620.4 L2467.0 620.8 L2469.0 621.1 L2471.0 621.5 L2473.0 621.8 L2475.0 622.1 L2477.0 622.4 L2479.0 622.6 L2481.0 622.7 L2483.0 622.8 L2485.0 622.7 L2487.0 622.6 L2489.0 622.5 L2491.0 622.3 L2493.0 622.1 L2495.0 621.9 L2497.0 621.7 L2499.0 621.5 L2501.0 621.3 L2503.0 621.1 L2505.0 620.9 L2507.0 620.7 L2509.0 620.5 L2511.0 620.3" fill="none" stroke="#1a1a1a" stroke-width="3.5" stroke-linejoin="round"/>
</svg></body></html>
